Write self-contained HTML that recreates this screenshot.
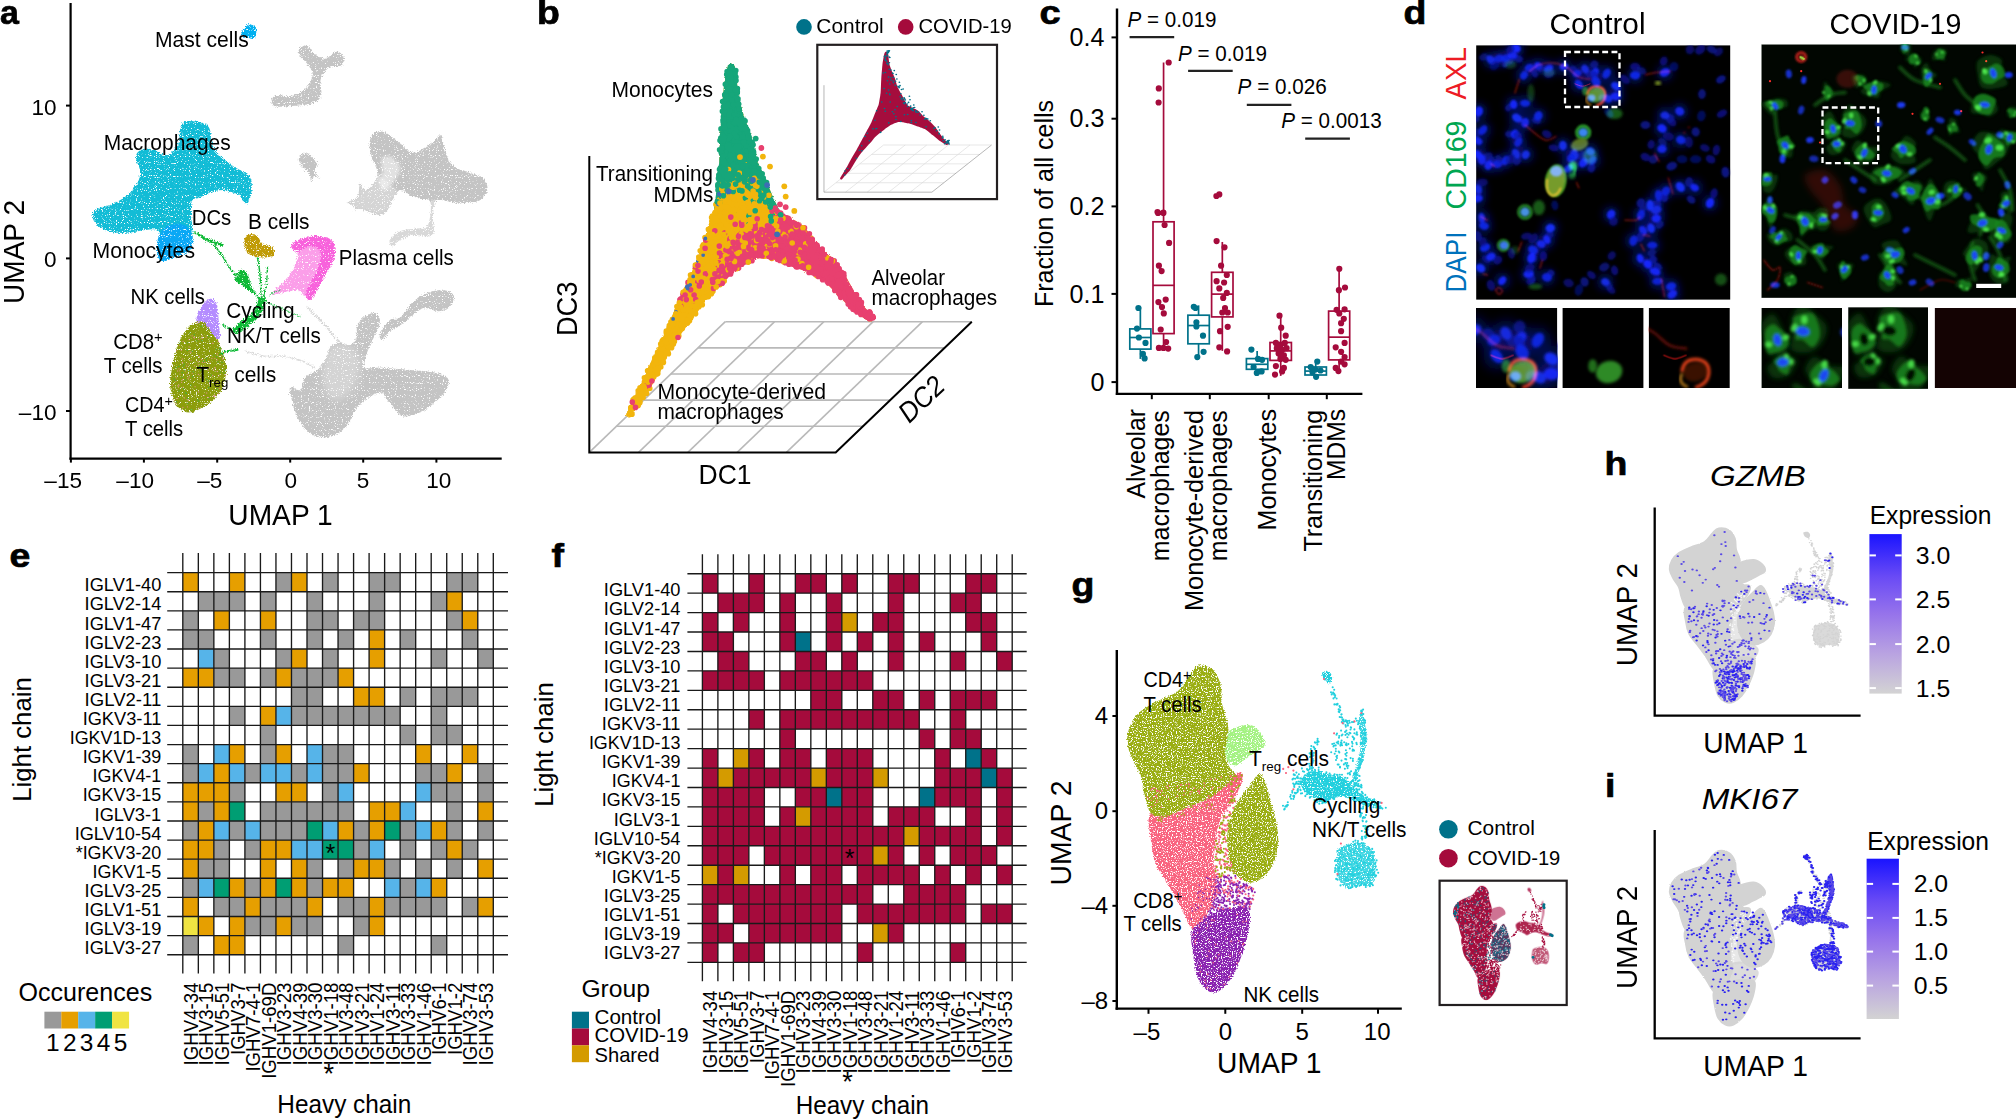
<!DOCTYPE html>
<html><head><meta charset="utf-8"><title>Figure</title>
<style>html,body{margin:0;padding:0;background:#fff}svg{display:block}text{font-family:"Liberation Sans",sans-serif}</style>
</head><body>
<svg width="2016" height="1120" viewBox="0 0 2016 1120">
<defs>
<filter id="rough" x="-5%" y="-5%" width="110%" height="110%" color-interpolation-filters="sRGB"><feTurbulence type="fractalNoise" baseFrequency="0.9" numOctaves="2" seed="3" result="n"/><feDisplacementMap in="SourceGraphic" in2="n" scale="5" xChannelSelector="R" yChannelSelector="G" result="d"/><feTurbulence type="fractalNoise" baseFrequency="0.85" numOctaves="1" seed="11" result="m"/><feColorMatrix in="m" type="matrix" values="0 0 0 0 0 0 0 0 0 0 0 0 0 0 0 9 0 0 0 -2.5" result="a"/><feComposite in="d" in2="a" operator="in"/></filter>
<filter id="rough2" x="-5%" y="-5%" width="110%" height="110%" color-interpolation-filters="sRGB"><feTurbulence type="fractalNoise" baseFrequency="0.9" numOctaves="2" seed="7" result="n"/><feDisplacementMap in="SourceGraphic" in2="n" scale="4" xChannelSelector="R" yChannelSelector="G" result="d"/><feTurbulence type="fractalNoise" baseFrequency="0.8" numOctaves="1" seed="5" result="m"/><feColorMatrix in="m" type="matrix" values="0 0 0 0 0 0 0 0 0 0 0 0 0 0 0 9 0 0 0 -3.1" result="a"/><feComposite in="d" in2="a" operator="in"/></filter>
<filter id="rough3" x="-5%" y="-5%" width="110%" height="110%"><feTurbulence type="fractalNoise" baseFrequency="0.9" numOctaves="2" seed="7" result="n"/><feDisplacementMap in="SourceGraphic" in2="n" scale="3" xChannelSelector="R" yChannelSelector="G"/></filter>
<filter id="b1" x="-20%" y="-20%" width="140%" height="140%"><feGaussianBlur stdDeviation="0.9"/></filter>
<filter id="b2" x="-20%" y="-20%" width="140%" height="140%"><feGaussianBlur stdDeviation="1.8"/></filter>
<filter id="b3" x="-20%" y="-20%" width="140%" height="140%"><feGaussianBlur stdDeviation="3.5"/></filter>
</defs>
<g id="panel_a">
<g filter="url(#rough)">
<path d="M298.8 50.0C299.4 48.2 301.9 45.9 303.8 45.5C305.6 45.1 308.3 46.1 310.0 47.5C311.7 48.9 311.2 51.9 313.8 53.8C316.2 55.6 321.9 58.8 325.0 58.8C328.1 58.8 330.2 54.9 332.5 53.8C334.8 52.6 336.8 51.2 338.8 52.0C340.8 52.8 344.1 56.5 344.5 58.8C344.9 61.0 343.2 64.2 341.2 65.5C339.2 66.8 335.0 65.5 332.5 66.2C330.0 67.0 328.2 67.7 326.2 70.0C324.2 72.3 321.3 75.8 320.5 80.0C319.7 84.2 322.2 91.2 321.2 95.0C320.3 98.8 318.1 100.8 315.0 102.5C311.9 104.2 307.1 104.4 302.5 105.0C297.9 105.6 292.1 106.0 287.5 106.2C282.9 106.5 277.7 107.3 275.0 106.2C272.3 105.2 270.8 101.9 271.2 100.0C271.7 98.1 274.4 95.6 277.5 95.0C280.6 94.4 285.8 96.9 290.0 96.2C294.2 95.6 299.2 93.5 302.5 91.2C305.8 89.0 308.3 85.6 310.0 82.5C311.7 79.4 313.1 75.8 312.5 72.5C311.9 69.2 308.3 65.2 306.2 62.5C304.2 59.8 301.2 58.3 300.0 56.2C298.8 54.2 298.1 51.8 298.8 50.0Z" fill="#c4c4c4" />
<path d="M298.8 160.0C298.8 157.6 300.6 153.8 302.5 153.0C304.4 152.2 307.5 153.2 310.0 155.0C312.5 156.8 316.7 161.2 317.5 163.8C318.3 166.2 315.2 168.1 315.0 170.0C314.8 171.9 315.4 173.5 316.2 175.0C317.1 176.5 320.4 178.5 320.0 178.8C319.6 179.0 315.2 175.8 313.8 176.2C312.3 176.7 312.1 181.9 311.2 181.2C310.4 180.6 310.2 174.8 308.8 172.5C307.3 170.2 304.2 169.6 302.5 167.5C300.8 165.4 298.8 162.4 298.8 160.0Z" fill="#c4c4c4" />
<path d="M370.0 140.0C370.8 137.0 372.5 133.2 375.0 132.0C377.5 130.8 381.2 131.0 385.0 132.5C388.8 134.0 392.9 137.9 397.5 141.2C402.1 144.6 407.9 151.5 412.5 152.5C417.1 153.5 421.2 149.6 425.0 147.5C428.8 145.4 432.3 142.1 435.0 140.0C437.7 137.9 439.8 134.2 441.2 135.0C442.7 135.8 442.7 141.2 443.8 145.0C444.8 148.8 445.6 153.8 447.5 157.5C449.4 161.2 451.2 165.0 455.0 167.5C458.8 170.0 465.4 170.8 470.0 172.5C474.6 174.2 479.6 175.0 482.5 177.5C485.4 180.0 487.3 184.2 487.5 187.5C487.7 190.8 486.2 195.0 483.8 197.5C481.2 200.0 477.3 201.7 472.5 202.5C467.7 203.3 460.4 202.9 455.0 202.5C449.6 202.1 443.3 200.0 440.0 200.0C436.7 200.0 436.2 199.6 435.0 202.5C433.8 205.4 433.2 212.7 433.0 217.5C432.8 222.3 434.2 228.1 433.8 231.2C433.2 234.4 433.1 235.6 430.0 236.2C426.9 236.9 420.0 234.4 415.0 235.0C410.0 235.6 403.8 238.1 400.0 240.0C396.2 241.9 394.2 246.2 392.5 246.2C390.8 246.2 388.8 242.5 390.0 240.0C391.2 237.5 395.8 233.1 400.0 231.2C404.2 229.4 410.4 229.6 415.0 228.8C419.6 227.9 424.9 230.6 427.5 226.2C430.1 221.9 431.8 207.1 430.5 202.5C429.2 197.9 423.4 200.0 420.0 198.8C416.6 197.5 413.3 196.5 410.0 195.0C406.7 193.5 402.9 189.2 400.0 190.0C397.1 190.8 394.6 196.7 392.5 200.0C390.4 203.3 389.6 207.5 387.5 210.0C385.4 212.5 383.3 214.8 380.0 215.0C376.7 215.2 371.2 212.3 367.5 211.2C363.8 210.2 359.8 208.5 357.5 208.8C355.2 209.0 354.2 212.7 353.8 212.5C353.3 212.3 356.0 209.2 355.0 207.5C354.0 205.8 347.1 204.2 347.5 202.5C347.9 200.8 355.4 200.6 357.5 197.5C359.6 194.4 358.8 185.0 360.0 183.8C361.2 182.5 362.9 189.8 365.0 190.0C367.1 190.2 370.4 187.9 372.5 185.0C374.6 182.1 377.5 176.7 377.5 172.5C377.5 168.3 373.8 163.8 372.5 160.0C371.2 156.2 370.4 153.3 370.0 150.0C369.6 146.7 369.2 143.0 370.0 140.0Z" fill="#c4c4c4" />
<path d="M290.0 387.5C291.2 385.4 297.5 391.7 300.0 390.0C302.5 388.3 302.1 380.8 305.0 377.5C307.9 374.2 314.2 372.9 317.5 370.0C320.8 367.1 322.9 363.8 325.0 360.0C327.1 356.2 327.5 350.4 330.0 347.5C332.5 344.6 336.7 342.9 340.0 342.5C343.3 342.1 347.3 345.8 350.0 345.0C352.7 344.2 355.0 340.8 356.2 337.5C357.5 334.2 356.0 328.5 357.5 325.0C359.0 321.5 362.1 318.2 365.0 316.2C367.9 314.2 372.5 312.4 375.0 313.0C377.5 313.6 379.6 317.2 380.0 320.0C380.4 322.8 378.8 326.7 377.5 330.0C376.2 333.3 374.4 335.8 372.5 340.0C370.6 344.2 367.7 350.4 366.2 355.0C364.8 359.6 361.5 365.4 363.8 367.5C366.0 369.6 374.8 367.3 380.0 367.5C385.2 367.7 390.0 368.3 395.0 368.8C400.0 369.2 405.0 369.6 410.0 370.0C415.0 370.4 420.0 370.6 425.0 371.2C430.0 371.9 436.0 372.3 440.0 373.8C444.0 375.2 447.7 377.3 448.8 380.0C449.8 382.7 448.1 386.7 446.2 390.0C444.4 393.3 441.0 396.7 437.5 400.0C434.0 403.3 429.2 407.5 425.0 410.0C420.8 412.5 416.2 414.0 412.5 415.0C408.8 416.0 405.4 417.1 402.5 416.2C399.6 415.4 397.5 412.7 395.0 410.0C392.5 407.3 390.0 402.9 387.5 400.0C385.0 397.1 383.8 392.5 380.0 392.5C376.2 392.5 369.2 397.1 365.0 400.0C360.8 402.9 357.9 405.8 355.0 410.0C352.1 414.2 350.8 420.8 347.5 425.0C344.2 429.2 339.6 433.0 335.0 435.0C330.4 437.0 324.6 437.6 320.0 437.0C315.4 436.4 311.2 434.5 307.5 431.2C303.8 428.0 300.0 422.3 297.5 417.5C295.0 412.7 293.8 407.5 292.5 402.5C291.2 397.5 288.8 389.6 290.0 387.5Z" fill="#c4c4c4" />
<path d="M380.0 333.8C381.2 330.4 386.7 322.7 390.0 320.0C393.3 317.3 396.2 320.4 400.0 317.5C403.8 314.6 408.3 306.5 412.5 302.5C416.7 298.5 420.4 295.8 425.0 293.8C429.6 291.7 435.6 290.2 440.0 290.0C444.4 289.8 449.0 290.8 451.2 292.5C453.5 294.2 454.4 297.3 453.8 300.0C453.1 302.7 450.2 306.9 447.5 308.8C444.8 310.6 441.2 311.4 437.5 311.2C433.8 311.1 428.8 307.7 425.0 308.0C421.2 308.3 418.8 310.4 415.0 313.0C411.2 315.6 406.7 320.7 402.5 323.8C398.3 326.8 393.3 328.5 390.0 331.2C386.7 334.0 384.2 339.6 382.5 340.0C380.8 340.4 378.8 337.1 380.0 333.8Z" fill="#c4c4c4" />
<path d="M381.2 160.0C382.5 157.3 386.9 155.0 390.0 156.2C393.1 157.5 399.2 163.5 400.0 167.5C400.8 171.5 397.5 176.2 395.0 180.0C392.5 183.8 387.7 189.6 385.0 190.0C382.3 190.4 379.2 185.4 378.8 182.5C378.3 179.6 382.1 176.2 382.5 172.5C382.9 168.8 380.0 162.7 381.2 160.0Z" fill="#fff" opacity="0.5" filter="url(#b2)"/>
<path d="M347.5 202.5C347.5 200.6 355.4 200.6 357.5 197.5C359.6 194.4 358.8 185.0 360.0 183.8C361.2 182.5 362.9 189.8 365.0 190.0C367.1 190.2 370.4 187.5 372.5 185.0C374.6 182.5 374.6 175.0 377.5 175.0C380.4 175.0 386.7 182.1 390.0 185.0C393.3 187.9 397.1 190.0 397.5 192.5C397.9 195.0 394.2 197.1 392.5 200.0C390.8 202.9 389.6 207.5 387.5 210.0C385.4 212.5 383.3 214.8 380.0 215.0C376.7 215.2 371.2 212.3 367.5 211.2C363.8 210.2 360.8 210.2 357.5 208.8C354.2 207.3 347.5 204.4 347.5 202.5Z" fill="#fff" opacity="0.3" filter="url(#b2)"/>
<path d="M390.0 240.0C391.2 237.5 395.8 233.1 400.0 231.2C404.2 229.4 410.4 229.6 415.0 228.8C419.6 227.9 424.9 230.6 427.5 226.2C430.1 221.9 429.2 206.5 430.5 202.5C431.8 198.5 434.5 197.7 435.0 202.5C435.5 207.3 434.6 225.6 433.8 231.2C432.9 236.9 433.1 235.6 430.0 236.2C426.9 236.9 420.0 234.4 415.0 235.0C410.0 235.6 403.8 238.1 400.0 240.0C396.2 241.9 394.2 246.2 392.5 246.2C390.8 246.2 388.8 242.5 390.0 240.0Z" fill="#fff" opacity="0.35"/>
<path d="M327.5 350.0C330.4 345.6 335.8 344.2 340.0 343.8C344.2 343.3 349.2 344.8 352.5 347.5C355.8 350.2 359.2 354.6 360.0 360.0C360.8 365.4 359.6 374.2 357.5 380.0C355.4 385.8 351.2 391.7 347.5 395.0C343.8 398.3 338.8 400.8 335.0 400.0C331.2 399.2 327.1 395.0 325.0 390.0C322.9 385.0 322.1 376.7 322.5 370.0C322.9 363.3 324.6 354.4 327.5 350.0Z" fill="#fff" opacity="0.28" filter="url(#b3)"/>
<path d="M315.0 315.0C316.7 316.7 321.7 321.2 325.0 325.0C328.3 328.8 332.1 334.4 335.0 337.5C337.9 340.6 341.2 342.7 342.5 343.8" fill="none" stroke="#c4c4c4" stroke-width="1.5" stroke-linecap="round" stroke-linejoin="round" opacity="0.7"/>
<path d="M245.0 351.2C248.3 352.1 258.3 355.4 265.0 356.2C271.7 357.1 278.8 355.4 285.0 356.2C291.2 357.1 297.5 359.4 302.5 361.2C307.5 363.1 312.9 366.5 315.0 367.5" fill="none" stroke="#c4c4c4" stroke-width="1.5" stroke-linecap="round" stroke-linejoin="round" opacity="0.6"/>
<path d="M307.5 307.5 L315.0 315.0" fill="none" stroke="#c4c4c4" stroke-width="2" stroke-linecap="round" stroke-linejoin="round" opacity="0.6"/>
</g>
<g filter="url(#rough)">
<path d="M182.5 122.5C184.6 121.0 188.8 121.0 192.5 121.2C196.2 121.5 202.1 122.3 205.0 123.8C207.9 125.2 209.0 127.3 210.0 130.0C211.0 132.7 210.4 136.7 211.2 140.0C212.1 143.3 212.7 146.7 215.0 150.0C217.3 153.3 221.7 157.1 225.0 160.0C228.3 162.9 231.7 165.4 235.0 167.5C238.3 169.6 242.3 170.4 245.0 172.5C247.7 174.6 250.2 176.7 251.2 180.0C252.3 183.3 251.9 188.8 251.2 192.5C250.6 196.2 248.8 200.8 247.5 202.5C246.2 204.2 245.0 203.8 243.8 202.5C242.5 201.2 241.9 196.7 240.0 195.0C238.1 193.3 235.4 193.3 232.5 192.5C229.6 191.7 226.2 190.0 222.5 190.0C218.8 190.0 213.8 191.2 210.0 192.5C206.2 193.8 202.9 196.2 200.0 197.5C197.1 198.8 194.0 198.3 192.5 200.0C191.0 201.7 191.5 204.6 191.2 207.5C191.0 210.4 191.0 213.8 191.2 217.5C191.5 221.2 192.3 226.2 192.5 230.0C192.7 233.8 192.9 236.7 192.5 240.0C192.1 243.3 192.1 247.5 190.0 250.0C187.9 252.5 183.8 253.3 180.0 255.0C176.2 256.7 170.8 259.2 167.5 260.0C164.2 260.8 161.7 261.7 160.0 260.0C158.3 258.3 157.5 253.8 157.5 250.0C157.5 246.2 160.0 240.8 160.0 237.5C160.0 234.2 160.0 231.2 157.5 230.0C155.0 228.8 149.6 229.6 145.0 230.0C140.4 230.4 135.0 232.1 130.0 232.5C125.0 232.9 119.6 233.1 115.0 232.5C110.4 231.9 105.8 230.4 102.5 228.8C99.2 227.1 96.7 224.8 95.0 222.5C93.3 220.2 92.1 217.3 92.5 215.0C92.9 212.7 94.6 210.4 97.5 208.8C100.4 207.1 105.8 206.7 110.0 205.0C114.2 203.3 118.8 201.2 122.5 198.8C126.2 196.2 129.8 193.1 132.5 190.0C135.2 186.9 137.5 183.3 138.8 180.0C140.0 176.7 140.4 173.3 140.0 170.0C139.6 166.7 136.7 162.9 136.2 160.0C135.8 157.1 136.0 154.4 137.5 152.5C139.0 150.6 142.1 149.2 145.0 148.8C147.9 148.3 151.7 149.0 155.0 150.0C158.3 151.0 162.1 154.6 165.0 155.0C167.9 155.4 170.2 154.6 172.5 152.5C174.8 150.4 177.5 146.2 178.8 142.5C180.0 138.8 179.4 133.3 180.0 130.0C180.6 126.7 180.4 124.0 182.5 122.5Z" fill="#12bcd6" />
<path d="M158.8 236.2C160.5 232.3 164.0 228.3 167.5 226.2C171.0 224.2 176.2 223.1 180.0 223.8C183.8 224.4 187.9 227.3 190.0 230.0C192.1 232.7 192.5 236.7 192.5 240.0C192.5 243.3 192.1 247.5 190.0 250.0C187.9 252.5 183.8 253.3 180.0 255.0C176.2 256.7 170.8 259.2 167.5 260.0C164.2 260.8 161.8 261.7 160.0 260.0C158.2 258.3 157.2 254.0 157.0 250.0C156.8 246.0 157.0 240.2 158.8 236.2Z" fill="#0aa8f5" />
<path d="M241.2 32.5C242.1 30.5 246.5 25.4 248.8 24.5C251.0 23.6 253.8 25.7 255.0 27.0C256.2 28.3 256.5 30.5 256.2 32.5C256.0 34.5 255.2 37.9 253.8 38.8C252.3 39.6 249.2 37.9 247.5 37.5C245.8 37.1 244.8 37.1 243.8 36.2C242.7 35.4 240.4 34.5 241.2 32.5Z" fill="#00b0f0" />
<path d="M196.2 322.5C199.2 321.5 204.4 318.8 207.5 320.0C210.6 321.2 213.1 326.2 215.0 330.0C216.9 333.8 217.5 338.8 218.8 342.5C220.0 346.2 221.2 348.8 222.5 352.5C223.8 356.2 225.8 360.4 226.2 365.0C226.7 369.6 226.0 375.4 225.0 380.0C224.0 384.6 222.5 388.8 220.0 392.5C217.5 396.2 213.3 399.8 210.0 402.5C206.7 405.2 203.3 407.1 200.0 408.8C196.7 410.4 193.3 412.5 190.0 412.5C186.7 412.5 182.7 410.8 180.0 408.8C177.3 406.7 175.4 404.0 173.8 400.0C172.1 396.0 170.3 390.4 170.0 385.0C169.7 379.6 171.0 373.3 172.0 367.5C173.0 361.7 174.5 355.4 176.2 350.0C178.0 344.6 180.2 339.0 182.5 335.0C184.8 331.0 187.7 328.3 190.0 326.2C192.3 324.2 193.3 323.5 196.2 322.5Z" fill="#8c9d0c" />
<path d="M196.2 320.0C196.0 317.1 200.2 308.5 202.5 305.0C204.8 301.5 207.7 299.2 210.0 298.8C212.3 298.3 214.9 300.2 216.2 302.5C217.6 304.8 217.5 308.8 218.0 312.5C218.5 316.2 218.7 320.8 219.0 325.0C219.3 329.2 220.6 335.3 220.0 337.5C219.4 339.7 217.2 339.2 215.5 338.0C213.8 336.8 212.0 332.6 210.0 330.0C208.0 327.4 206.0 324.2 203.8 322.5C201.5 320.8 196.5 322.9 196.2 320.0Z" fill="#b48cff" />
<path d="M245.0 237.5C245.9 235.6 247.9 234.0 250.0 233.8C252.1 233.5 255.4 234.6 257.5 236.2C259.6 237.9 260.0 241.9 262.5 243.8C265.0 245.6 270.6 245.6 272.5 247.5C274.4 249.4 275.0 253.3 273.8 255.0C272.5 256.7 268.1 257.3 265.0 257.5C261.9 257.7 257.9 257.1 255.0 256.2C252.1 255.4 249.2 254.4 247.5 252.5C245.8 250.6 244.9 247.5 244.5 245.0C244.1 242.5 244.1 239.4 245.0 237.5Z" fill="#c09b06" />
<path d="M292.5 243.8C293.8 241.2 300.4 238.8 305.0 237.5C309.6 236.2 315.6 235.8 320.0 236.2C324.4 236.7 328.8 237.7 331.2 240.0C333.8 242.3 334.8 246.2 335.0 250.0C335.2 253.8 334.2 258.3 332.5 262.5C330.8 266.7 327.5 270.4 325.0 275.0C322.5 279.6 320.0 285.8 317.5 290.0C315.0 294.2 312.3 299.2 310.0 300.0C307.7 300.8 305.8 296.7 303.8 295.0C301.7 293.3 299.8 290.6 297.5 290.0C295.2 289.4 292.5 290.8 290.0 291.2C287.5 291.7 285.4 291.9 282.5 292.5C279.6 293.1 273.3 295.8 272.5 295.0C271.7 294.2 275.0 290.4 277.5 287.5C280.0 284.6 284.6 281.2 287.5 277.5C290.4 273.8 293.3 269.2 295.0 265.0C296.7 260.8 297.9 256.0 297.5 252.5C297.1 249.0 291.2 246.2 292.5 243.8Z" fill="#f862dc" opacity="0.62"/>
<path d="M291.2 245.0C292.5 242.6 300.2 239.0 305.0 237.5C309.8 236.0 315.6 235.8 320.0 236.2C324.4 236.7 328.8 237.7 331.2 240.0C333.8 242.3 334.8 246.2 335.0 250.0C335.2 253.8 334.2 258.3 332.5 262.5C330.8 266.7 327.5 270.4 325.0 275.0C322.5 279.6 320.0 285.8 317.5 290.0C315.0 294.2 311.9 299.4 310.0 300.0C308.1 300.6 305.9 297.1 306.2 293.8C306.6 290.4 310.0 284.4 312.0 280.0C314.0 275.6 316.5 271.7 318.0 267.5C319.5 263.3 321.4 258.2 321.2 255.0C321.1 251.8 319.3 249.5 317.0 248.0C314.7 246.5 310.8 245.6 307.5 246.2C304.2 246.9 300.2 252.2 297.5 252.0C294.8 251.8 290.0 247.4 291.2 245.0Z" fill="#f862dc" />
<path d="M195.0 232.5C197.1 233.8 202.9 237.9 207.5 240.0C212.1 242.1 220.0 244.2 222.5 245.0" fill="none" stroke="#0db935" stroke-width="2.5" stroke-linecap="round" stroke-linejoin="round" />
<path d="M212.5 242.5C214.6 245.4 221.2 254.6 225.0 260.0C228.8 265.4 230.8 270.4 235.0 275.0C239.2 279.6 245.8 283.3 250.0 287.5C254.2 291.7 258.3 297.9 260.0 300.0" fill="none" stroke="#0db935" stroke-width="1.6" stroke-linecap="round" stroke-linejoin="round" />
<path d="M240.0 270.0C242.1 269.0 245.4 270.4 247.5 273.8C249.6 277.1 250.8 286.5 252.5 290.0C254.2 293.5 257.9 294.8 257.5 295.0C257.1 295.2 252.7 292.9 250.0 291.2C247.3 289.6 243.8 286.9 241.2 285.0C238.8 283.1 235.2 282.5 235.0 280.0C234.8 277.5 237.9 271.0 240.0 270.0Z" fill="#0db935" />
<path d="M257.5 257.5C257.9 260.4 259.4 267.9 260.0 275.0C260.6 282.1 261.0 295.8 261.2 300.0" fill="none" stroke="#0db935" stroke-width="1.4" stroke-linecap="round" stroke-linejoin="round" />
<path d="M267.5 267.5C267.3 270.4 267.1 279.6 266.2 285.0C265.4 290.4 263.1 297.5 262.5 300.0" fill="none" stroke="#0db935" stroke-width="1.4" stroke-linecap="round" stroke-linejoin="round" />
<path d="M260.0 297.5C262.3 295.4 266.2 297.1 266.2 300.0C266.2 302.9 262.7 310.8 260.0 315.0C257.3 319.2 253.8 321.9 250.0 325.0C246.2 328.1 240.4 332.9 237.5 333.8C234.6 334.6 231.7 332.3 232.5 330.0C233.3 327.7 239.2 322.9 242.5 320.0C245.8 317.1 249.6 316.2 252.5 312.5C255.4 308.8 257.7 299.6 260.0 297.5Z" fill="#0db935" />
<path d="M220.0 353.8C221.2 353.3 224.6 351.9 227.5 351.2C230.4 350.6 235.8 350.2 237.5 350.0" fill="none" stroke="#0db935" stroke-width="2" stroke-linecap="round" stroke-linejoin="round" />
<path d="M222.5 325.0 L232.5 330.0" fill="none" stroke="#0db935" stroke-width="1.5" stroke-linecap="round" stroke-linejoin="round" />
<path d="M267.5 302.5C270.4 303.8 279.6 307.7 285.0 310.0C290.4 312.3 297.5 315.2 300.0 316.2" fill="none" stroke="#0db935" stroke-width="1.2" stroke-linecap="round" stroke-linejoin="round" opacity="0.7"/>
<path d="M270.0 295.0 L280.0 290.0" fill="none" stroke="#0db935" stroke-width="1.2" stroke-linecap="round" stroke-linejoin="round" opacity="0.7"/>
</g>
<path d="M177.6 398.4h0M213.0 343.6h0M197.9 361.6h0M206.7 393.0h0M217.0 360.0h0M195.1 386.7h0M182.9 407.4h0M222.8 355.3h0M182.2 359.0h0M194.6 365.9h0M183.1 341.4h0M182.3 362.5h0M217.1 371.5h0M206.1 337.2h0M176.8 350.8h0M210.6 385.8h0M222.7 359.0h0M216.7 382.0h0M187.1 374.4h0M198.4 374.5h0M214.9 358.3h0M179.7 370.8h0M209.5 382.4h0M191.1 360.6h0M198.6 392.0h0M199.3 356.4h0M197.5 322.7h0M172.4 385.1h0M225.3 374.9h0M192.1 335.8h0M213.3 369.9h0M218.4 341.5h0M198.9 408.1h0M202.5 362.5h0M185.1 370.7h0M214.1 395.9h0M219.8 388.5h0M215.5 368.0h0M201.6 359.4h0M202.1 338.5h0M198.4 364.9h0M190.1 352.0h0M200.3 377.7h0M204.5 362.4h0M180.0 374.1h0M218.4 393.9h0M214.8 395.5h0M184.4 397.9h0M207.9 327.7h0M212.5 343.1h0M176.2 377.8h0M179.0 368.8h0M179.5 345.2h0M210.0 362.1h0M188.1 363.8h0M193.7 337.4h0M176.1 403.2h0M198.7 339.3h0M204.1 395.6h0M178.2 386.5h0M179.0 385.2h0M208.1 370.4h0M214.9 367.8h0M182.6 380.0h0M192.2 373.3h0M188.1 378.4h0M187.2 399.4h0M187.5 406.9h0M211.8 358.5h0M202.1 335.9h0M209.6 367.1h0M191.3 352.1h0M181.6 382.4h0M194.4 338.0h0M175.9 381.6h0M186.7 366.2h0M188.3 400.6h0M181.3 350.3h0M189.1 339.7h0M207.9 397.5h0M219.6 383.6h0M183.2 387.1h0M212.7 375.5h0M217.3 354.0h0M189.1 346.9h0M218.8 375.9h0M177.6 371.0h0M174.1 400.1h0M214.3 396.6h0M189.2 376.9h0" stroke="#f08aa0" stroke-width="1.3" stroke-linecap="round" fill="none" opacity="0.8"/>
<path d="M214.0 355.0h0M202.1 340.7h0M220.1 372.2h0M222.0 362.3h0M185.6 392.8h0M207.7 328.5h0M176.5 401.9h0M183.6 388.8h0M191.3 409.7h0M184.3 364.1h0M175.6 380.3h0M203.6 361.6h0M182.1 377.1h0M225.1 370.2h0M208.7 381.2h0M184.6 370.1h0M187.3 342.8h0M206.7 379.5h0M222.9 356.1h0M187.3 350.3h0M187.8 398.4h0M220.3 348.0h0M188.8 370.3h0M202.6 375.1h0M201.0 326.6h0M174.2 378.8h0M186.4 393.3h0M197.7 399.8h0M178.7 366.4h0M216.2 349.6h0M176.0 367.6h0M187.8 403.5h0M217.3 389.0h0M208.8 336.5h0M194.3 334.6h0M210.2 381.8h0M200.9 370.1h0M217.9 361.9h0M192.3 351.3h0M206.4 358.5h0M202.1 325.8h0M190.0 332.8h0M216.6 356.8h0M192.6 376.7h0M199.7 366.3h0M206.5 360.5h0M208.6 387.7h0M183.4 365.8h0M196.9 340.8h0M193.2 371.8h0M185.5 379.8h0M198.8 401.2h0M179.0 390.9h0M219.7 348.8h0M209.0 398.5h0M190.9 384.9h0M211.4 375.0h0M224.0 372.8h0M179.9 343.2h0M182.2 372.7h0" stroke="#1db954" stroke-width="1.2" stroke-linecap="round" fill="none" opacity="0.8"/>
<line x1="70.6" y1="3" x2="70.6" y2="459.7" stroke="#000" stroke-width="2.2" />
<line x1="69.5" y1="458.6" x2="501.7" y2="458.6" stroke="#000" stroke-width="2.2" />
<line x1="66" y1="105.6" x2="70.6" y2="105.6" stroke="#000" stroke-width="2" />
<line x1="66" y1="258.4" x2="70.6" y2="258.4" stroke="#000" stroke-width="2" />
<line x1="66" y1="411" x2="70.6" y2="411" stroke="#000" stroke-width="2" />
<line x1="70.9" y1="458.6" x2="70.9" y2="462.6" stroke="#000" stroke-width="2" />
<line x1="143.9" y1="458.6" x2="143.9" y2="462.6" stroke="#000" stroke-width="2" />
<line x1="217.2" y1="458.6" x2="217.2" y2="462.6" stroke="#000" stroke-width="2" />
<line x1="290.2" y1="458.6" x2="290.2" y2="462.6" stroke="#000" stroke-width="2" />
<line x1="363.2" y1="458.6" x2="363.2" y2="462.6" stroke="#000" stroke-width="2" />
<line x1="436.4" y1="458.6" x2="436.4" y2="462.6" stroke="#000" stroke-width="2" />
<text font-size="22.57" text-anchor="end" x="82" y="487.7">–15</text>
<text font-size="22.57" text-anchor="end" x="154" y="487.7">–10</text>
<text font-size="22.57" text-anchor="end" x="222.3" y="487.7">–5</text>
<text font-size="22.57" text-anchor="end" x="297.1" y="487.7">0</text>
<text font-size="22.57" text-anchor="end" x="369.4" y="487.7">5</text>
<text font-size="22.57" text-anchor="end" x="451.4" y="487.7">10</text>
<text font-size="22.57" text-anchor="end" x="56.5" y="114.6">10</text>
<text font-size="22.57" text-anchor="end" x="56.5" y="267.3">0</text>
<text font-size="22.57" text-anchor="end" x="56.5" y="420">–10</text>
<text font-size="29.26" textLength="104.4" lengthAdjust="spacingAndGlyphs" x="228.3" y="524.6">UMAP 1</text>
<text font-size="29.26" textLength="104" lengthAdjust="spacingAndGlyphs" transform="translate(24 304) rotate(-90)">UMAP 2</text>
<text font-size="21.42" textLength="93.75" lengthAdjust="spacingAndGlyphs" x="155" y="47.15">Mast cells</text>
<text font-size="21.42" textLength="127" lengthAdjust="spacingAndGlyphs" x="103.75" y="149.9">Macrophages</text>
<text font-size="21.42" textLength="39.5" lengthAdjust="spacingAndGlyphs" x="191.75" y="225.4">DCs</text>
<text font-size="21.42" textLength="61.5" lengthAdjust="spacingAndGlyphs" x="248" y="228.9">B cells</text>
<text font-size="21.42" textLength="102.5" lengthAdjust="spacingAndGlyphs" x="92.5" y="258.4">Monocytes</text>
<text font-size="21.42" textLength="74.5" lengthAdjust="spacingAndGlyphs" x="130.5" y="304.15">NK cells</text>
<text font-size="21.42" textLength="68.25" lengthAdjust="spacingAndGlyphs" x="226.25" y="317.9">Cycling</text>
<text font-size="21.42" textLength="93.75" lengthAdjust="spacingAndGlyphs" x="227" y="342.9">NK/T cells</text>
<text font-size="21.42" textLength="58.75" lengthAdjust="spacingAndGlyphs" x="103.75" y="372.9">T cells</text>
<text font-size="21.42" textLength="58.25" lengthAdjust="spacingAndGlyphs" x="125" y="436.4">T cells</text>
<text font-size="21.42" textLength="115" lengthAdjust="spacingAndGlyphs" x="338.75" y="264.65">Plasma cells</text>
<text font-size="21.42" textLength="49.5" lengthAdjust="spacingAndGlyphs" x="113.25" y="348.9">CD8<tspan font-size="15.5" dy="-6.5">+</tspan></text>
<text font-size="21.42" textLength="48" lengthAdjust="spacingAndGlyphs" x="125" y="412.1">CD4<tspan font-size="15.5" dy="-6.5">+</tspan></text>
<text font-size="21.42" textLength="80" lengthAdjust="spacingAndGlyphs" x="196.25" y="382.1">T<tspan font-size="13.5" dy="5">reg</tspan><tspan dy="-5"> cells</tspan></text>
<text font-size="34" font-weight="bold" x="0" y="24" stroke="#000" stroke-width="0.7">a</text>
</g>
<g id="panel_b">
<line x1="589.3" y1="452.4" x2="725.3" y2="321.7" stroke="#b9b9b9" stroke-width="1.6" />
<line x1="616.5" y1="426.26" x2="862.92" y2="426.26" stroke="#b9b9b9" stroke-width="1.6" />
<line x1="638.58" y1="452.4" x2="774.6" y2="321.7" stroke="#b9b9b9" stroke-width="1.6" />
<line x1="643.7" y1="400.12" x2="890.14" y2="400.12" stroke="#b9b9b9" stroke-width="1.6" />
<line x1="687.86" y1="452.4" x2="823.9" y2="321.7" stroke="#b9b9b9" stroke-width="1.6" />
<line x1="670.9" y1="373.98" x2="917.36" y2="373.98" stroke="#b9b9b9" stroke-width="1.6" />
<line x1="737.14" y1="452.4" x2="873.2" y2="321.7" stroke="#b9b9b9" stroke-width="1.6" />
<line x1="698.1" y1="347.84" x2="944.58" y2="347.84" stroke="#b9b9b9" stroke-width="1.6" />
<line x1="786.42" y1="452.4" x2="922.5" y2="321.7" stroke="#b9b9b9" stroke-width="1.6" />
<line x1="725.3" y1="321.7" x2="971.8" y2="321.7" stroke="#b9b9b9" stroke-width="1.6" />
<path d="M589.3 156V452.4H835.7L971.8 321.7" fill="none" stroke="#000" stroke-width="2" stroke-linejoin="miter"/>
<g filter="url(#rough3)">
<path d="M731.4 62.9C732.3 62.9 735.0 65.2 735.7 68.6C736.4 72.0 737.7 92.2 738.6 97.1C739.5 101.9 743.0 113.1 744.3 117.1C745.6 121.1 750.1 132.8 751.4 137.1C752.7 141.4 755.7 155.7 757.1 160.0C758.5 164.3 764.0 176.0 765.7 180.0C767.4 184.0 772.9 196.9 774.3 200.0C775.7 203.1 778.6 209.7 780.0 211.4C781.4 213.1 786.3 215.7 788.6 217.1C790.9 218.5 800.0 223.1 802.9 225.7C805.8 228.3 814.2 239.8 817.1 242.9C820.0 246.0 828.8 254.3 831.4 257.1C834.0 260.0 840.6 268.0 842.9 271.4C845.2 274.8 852.0 287.7 854.3 291.4C856.6 295.1 863.6 306.0 865.7 308.6C867.8 311.2 875.4 315.8 875.7 317.1C876.0 318.4 871.0 322.2 868.6 321.4C866.2 320.5 854.5 311.3 851.4 308.6C848.2 305.9 840.0 297.2 837.1 294.3C834.2 291.4 826.0 282.3 822.9 280.0C819.8 277.7 809.4 273.1 805.7 271.4C802.0 269.7 789.4 264.2 785.7 262.9C782.0 261.6 771.5 259.0 768.6 258.6C765.7 258.2 759.7 257.9 757.1 258.6C754.5 259.3 745.8 263.8 742.9 265.7C740.0 267.6 731.2 274.8 728.6 277.1C726.0 279.4 719.4 286.3 717.1 288.6C714.8 290.9 708.0 297.1 705.7 300.0C703.4 302.9 695.9 314.9 694.3 317.1C692.7 319.3 692.1 319.2 690.0 322.1C687.9 325.0 675.9 341.0 672.9 345.7C669.9 350.4 662.4 364.8 660.0 369.3C657.6 373.8 651.7 386.8 649.3 390.7C646.9 394.6 638.3 405.2 636.4 407.9C634.5 410.6 631.0 416.9 630.0 417.5C629.0 418.1 625.7 416.3 626.1 414.3C626.5 412.3 632.6 400.5 634.3 397.1C636.0 393.7 641.2 383.6 642.9 380.0C644.6 376.4 649.4 365.0 651.4 360.7C653.4 356.4 660.6 342.0 662.9 337.1C665.2 332.2 672.0 316.5 674.3 311.4C676.6 306.3 683.4 290.8 685.7 285.7C688.0 280.6 695.1 265.1 697.1 260.0C699.1 254.9 704.0 239.4 705.7 234.3C707.4 229.2 713.0 214.3 714.3 208.6C715.6 202.9 718.0 184.0 718.6 177.1C719.2 170.2 719.6 148.0 720.0 140.0C720.4 132.0 722.2 104.2 722.9 97.1C723.6 90.0 726.2 72.0 727.1 68.6C728.0 65.2 730.5 62.9 731.4 62.9Z" fill="#f2b50c" />
<path d="M780.0 211.4C782.0 210.5 786.3 215.7 788.6 217.1C790.9 218.5 800.0 223.1 802.9 225.7C805.8 228.3 814.2 239.8 817.1 242.9C820.0 246.0 828.8 254.3 831.4 257.1C834.0 260.0 840.6 268.0 842.9 271.4C845.2 274.8 852.0 287.7 854.3 291.4C856.6 295.1 863.6 306.0 865.7 308.6C867.8 311.2 875.4 315.8 875.7 317.1C876.0 318.4 871.0 322.2 868.6 321.4C866.2 320.5 854.5 311.3 851.4 308.6C848.2 305.9 840.0 297.2 837.1 294.3C834.2 291.4 826.0 282.3 822.9 280.0C819.8 277.7 809.4 273.1 805.7 271.4C802.0 269.7 789.4 264.2 785.7 262.9C782.0 261.6 771.5 259.0 768.6 258.6C765.7 258.2 759.7 257.9 757.1 258.6C754.5 259.3 745.8 263.8 742.9 265.7C740.0 267.6 731.2 274.8 728.6 277.1C726.0 279.4 718.5 288.0 717.1 288.6C715.7 289.2 713.7 285.2 714.3 282.9C714.9 280.6 720.9 269.1 722.9 265.7C724.9 262.3 731.4 251.5 734.3 248.6C737.1 245.7 748.0 239.4 751.4 237.1C754.8 234.8 765.7 228.3 768.6 225.7C771.5 223.1 778.0 212.3 780.0 211.4Z" fill="#e8406f" />
<path d="M731.4 62.9C732.3 62.9 735.0 65.2 735.7 68.6C736.4 72.0 737.7 92.2 738.6 97.1C739.5 101.9 743.0 113.1 744.3 117.1C745.6 121.1 750.1 132.8 751.4 137.1C752.7 141.4 755.7 155.7 757.1 160.0C758.5 164.3 764.0 176.0 765.7 180.0C767.4 184.0 772.9 196.9 774.3 200.0C775.7 203.1 779.7 210.0 780.0 211.4C780.3 212.8 778.8 215.4 777.1 214.3C775.4 213.2 765.5 203.0 762.9 200.0C760.3 197.0 753.7 186.0 751.4 184.0C749.1 182.0 742.0 180.0 740.0 180.0C738.0 180.0 733.1 182.0 731.4 184.0C729.7 186.0 724.6 197.5 722.9 200.0C721.2 202.5 714.7 210.9 714.3 208.6C713.9 206.3 718.0 184.0 718.6 177.1C719.2 170.2 719.6 148.0 720.0 140.0C720.4 132.0 722.2 104.2 722.9 97.1C723.6 90.0 726.2 72.0 727.1 68.6C728.0 65.2 730.5 62.9 731.4 62.9Z" fill="#16a67a" />
</g>
<path d="M718.6 230.1h0M760.0 224.2h0M722.9 228.4h0M709.0 259.3h0M700.8 288.5h0M666.3 333.1h0M798.6 252.7h0M740.4 218.4h0M715.4 236.9h0M726.5 251.3h0M732.7 202.1h0M732.2 201.9h0M730.2 207.9h0M768.6 213.5h0M767.4 211.7h0M677.9 332.1h0M695.6 309.7h0M726.1 252.8h0M726.1 206.3h0M740.5 223.5h0M720.4 273.5h0M647.0 377.8h0M705.0 237.6h0M731.6 195.1h0M762.9 217.0h0M669.9 326.1h0M739.5 250.1h0M711.8 221.3h0M676.3 331.4h0M726.9 201.4h0M660.8 367.0h0M740.7 188.4h0M674.8 338.2h0M737.8 220.3h0M709.7 286.4h0M714.4 233.6h0M680.3 327.3h0M698.8 262.2h0M672.5 319.4h0M672.3 332.8h0M734.4 217.2h0M694.3 273.7h0M783.4 258.9h0M721.9 236.9h0M748.9 207.2h0M707.3 244.2h0M746.4 164.8h0M668.7 337.3h0M678.3 311.9h0M698.6 277.1h0M696.3 293.8h0M730.6 249.1h0M712.9 291.3h0M631.1 408.0h0M646.4 381.3h0M722.3 201.9h0M657.8 373.5h0M733.4 205.4h0M724.2 211.3h0M701.5 287.7h0M760.7 193.0h0M736.0 195.3h0M727.1 252.9h0M702.4 255.4h0M687.5 323.1h0M753.9 207.6h0M754.9 195.1h0M737.1 220.9h0M719.6 225.5h0M743.7 262.2h0M746.1 178.3h0M653.0 364.7h0M733.0 213.7h0M695.8 274.8h0M783.5 261.7h0M732.6 219.0h0M715.6 257.7h0M737.3 223.4h0M657.8 369.5h0M711.0 273.7h0M724.1 214.6h0M725.9 211.4h0M668.4 353.7h0M715.3 242.0h0M726.6 222.8h0M667.7 331.3h0M728.7 207.1h0M711.7 224.5h0M641.5 396.7h0M691.6 302.6h0M735.3 188.2h0M657.6 352.4h0M730.1 242.2h0M671.6 347.7h0M719.3 229.5h0M696.7 300.0h0M755.3 192.6h0M662.5 360.9h0M734.5 219.4h0M674.5 324.8h0M759.3 224.9h0M676.9 306.6h0M720.1 284.6h0M678.6 326.7h0M685.2 291.0h0M742.3 218.3h0M716.0 231.0h0M742.2 197.8h0M639.1 397.0h0M677.7 337.0h0M695.1 282.9h0M713.5 228.9h0M676.8 310.7h0M710.6 279.8h0M644.4 377.7h0M678.3 306.7h0M689.2 317.3h0M668.0 346.8h0M688.4 284.7h0M638.4 395.2h0M711.1 258.3h0M696.2 270.5h0M722.9 253.6h0M707.8 254.4h0M643.1 397.4h0M663.1 339.8h0M835.0 273.3h0M762.7 224.7h0M690.7 302.6h0M654.5 369.9h0M656.5 369.3h0M724.2 280.9h0M745.6 206.2h0M717.7 212.3h0M674.4 341.5h0M693.9 302.2h0M696.2 277.6h0M671.9 330.0h0M745.4 234.4h0M701.3 276.8h0M721.9 264.1h0M711.5 228.5h0M717.9 242.1h0M689.7 294.2h0M690.7 317.8h0M691.1 304.0h0M650.6 368.7h0M692.1 308.8h0M758.6 238.2h0M805.7 243.9h0M754.7 204.1h0M763.8 232.6h0M740.4 204.6h0M735.7 231.7h0M827.1 257.7h0M750.7 182.9h0M727.9 269.7h0M695.9 288.5h0M700.2 297.8h0" stroke="#f2b50c" stroke-width="5.6" stroke-linecap="round" fill="none" />
<path d="M823.0 267.0h0M731.8 268.8h0M688.0 282.4h0M634.9 406.4h0M765.9 252.4h0M801.0 266.2h0M833.1 284.8h0M781.7 215.5h0M817.8 270.2h0M811.7 241.5h0M845.6 290.6h0M742.5 257.3h0M839.1 269.4h0M834.8 276.5h0M788.9 264.2h0M832.4 266.7h0M838.1 290.4h0M841.5 272.3h0M721.9 281.3h0M776.3 236.4h0M741.3 261.0h0M777.0 254.3h0M817.0 268.2h0M780.6 213.0h0M734.4 261.5h0M815.8 266.9h0M824.1 254.7h0M815.0 259.6h0M723.0 271.7h0M857.3 300.6h0M790.2 262.1h0M829.5 278.2h0M804.4 253.8h0M829.5 281.3h0M771.2 238.5h0M785.0 233.1h0M772.9 227.3h0M759.0 228.7h0M797.4 231.2h0M815.4 273.9h0M767.3 227.5h0M777.9 226.5h0M813.5 243.7h0M795.7 240.8h0M732.6 247.5h0M868.0 317.5h0M718.0 266.1h0M766.8 228.8h0M732.9 267.0h0M753.1 229.3h0M791.4 264.0h0M810.0 243.9h0M749.6 236.2h0M721.6 271.5h0M738.6 268.1h0M777.5 259.5h0M855.4 300.1h0M835.2 266.1h0M836.8 288.1h0M749.0 261.5h0M767.1 224.9h0M834.8 290.4h0M812.1 272.4h0M815.1 249.4h0M787.7 218.1h0M848.6 292.5h0M771.2 253.1h0M787.0 234.0h0M833.3 262.6h0M808.8 242.0h0M795.8 248.3h0M727.1 258.0h0M795.1 265.2h0M816.7 260.5h0M814.8 245.7h0M754.4 221.3h0M783.6 222.2h0M737.5 261.6h0M718.2 284.4h0M767.8 252.2h0M747.2 237.5h0M735.4 262.6h0M805.8 237.0h0M716.7 273.4h0M719.2 256.6h0M822.2 249.1h0M756.6 236.0h0M762.6 234.4h0M834.1 268.2h0M820.2 272.0h0M839.4 277.9h0M815.6 269.0h0M723.5 253.1h0M715.6 280.6h0M730.6 273.9h0M741.8 264.3h0M813.6 251.6h0M776.9 240.1h0M860.9 314.4h0M779.9 260.4h0M762.6 246.6h0M843.0 288.1h0M839.9 271.8h0M812.2 261.1h0M736.3 259.6h0M838.2 282.1h0M729.8 240.0h0M749.3 253.0h0M792.0 246.3h0M832.8 265.2h0M773.7 238.9h0M780.5 246.1h0M777.5 211.6h0M758.8 220.4h0M834.5 287.3h0M796.0 230.7h0M752.0 260.7h0M849.2 288.3h0" stroke="#e8406f" stroke-width="5.6" stroke-linecap="round" fill="none" />
<path d="M723.2 149.9h0M736.1 136.9h0M737.8 186.5h0M733.6 119.7h0M722.2 167.5h0M743.4 127.8h0M730.9 159.8h0M737.4 88.5h0M739.5 164.4h0M733.0 117.6h0M741.1 121.7h0M745.2 133.9h0M728.1 131.6h0M770.6 199.5h0M730.6 177.8h0M751.0 203.7h0M743.2 149.4h0M739.3 152.1h0M735.3 159.4h0M720.8 138.1h0M720.2 198.4h0M724.1 164.2h0M735.9 77.1h0M739.8 146.0h0M738.2 144.7h0M766.7 193.1h0M752.4 145.5h0M736.7 97.7h0M738.4 186.8h0M727.0 127.5h0M753.4 167.0h0M726.2 113.6h0M758.3 171.6h0M749.7 147.7h0M740.5 141.5h0M730.9 176.5h0M736.9 183.2h0M743.2 150.3h0M728.8 127.0h0M732.9 178.2h0M766.5 189.5h0M738.6 104.1h0M726.9 95.5h0M756.2 159.1h0M761.7 195.9h0M731.1 99.1h0M759.4 182.7h0M719.5 180.2h0M730.7 109.2h0M755.0 160.8h0M731.8 182.4h0M721.5 165.9h0M727.6 134.2h0M725.3 123.7h0M755.2 169.0h0M752.5 168.7h0M730.4 67.1h0M741.7 137.4h0M741.1 155.8h0M766.6 182.6h0M731.1 174.2h0M737.9 99.9h0M732.2 85.8h0M731.2 125.5h0M723.4 116.8h0M753.6 152.1h0M735.6 89.5h0M740.4 129.7h0M723.5 126.1h0M743.9 138.5h0M739.5 212.9h0M752.2 142.2h0M738.1 169.0h0M722.8 157.0h0M732.4 107.4h0M731.3 77.0h0M728.1 72.2h0M724.7 94.8h0M738.0 98.8h0M741.8 147.2h0M729.8 104.1h0M726.6 140.4h0M733.6 132.3h0M733.4 183.5h0M738.7 134.1h0M732.5 109.6h0M727.0 149.2h0M739.8 172.0h0M752.6 161.2h0M730.4 153.2h0M735.3 123.6h0M762.2 173.7h0M735.9 90.0h0M738.4 145.6h0M725.9 141.9h0M750.6 167.4h0M724.0 131.4h0M762.5 180.7h0M737.3 92.7h0M721.0 128.9h0" stroke="#16a67a" stroke-width="5.6" stroke-linecap="round" fill="none" />
<path d="M697.8 261.3h0M714.4 217.4h0" stroke="#3d6eb5" stroke-width="3.8" stroke-linecap="round" fill="none" />
<path d="M697.1 295.7h0M755.5 211.8h0M644.4 382.1h0M638.4 403.1h0M718.1 250.7h0M664.3 357.2h0M726.5 219.4h0M704.2 256.9h0M706.2 240.3h0M708.4 296.6h0M755.3 184.7h0M666.3 331.1h0M702.6 263.8h0M713.8 250.5h0M675.5 333.3h0M651.3 380.9h0M656.8 373.9h0M707.2 242.9h0M700.7 263.9h0M688.7 301.1h0M703.3 244.9h0M708.4 229.2h0M715.9 204.5h0M666.7 334.7h0M718.6 218.4h0M730.6 241.7h0M669.3 325.5h0M712.6 231.4h0M745.7 188.5h0M663.9 341.3h0M710.1 272.7h0M732.3 250.4h0M717.5 268.0h0M744.4 212.4h0M686.1 306.7h0M736.1 171.8h0M635.3 400.2h0M649.8 388.5h0M701.8 270.5h0M731.4 213.6h0M822.1 258.9h0M721.8 184.4h0M747.4 253.7h0M697.0 282.4h0M751.6 206.5h0M727.8 260.1h0M692.2 277.0h0M755.6 187.0h0M722.1 280.7h0M715.9 263.1h0M698.9 306.8h0M727.8 206.4h0M689.4 301.7h0M668.1 336.6h0M753.4 216.4h0M733.3 251.4h0M748.8 210.6h0M662.4 354.6h0M731.0 199.1h0M771.8 258.5h0M690.1 279.6h0M743.7 194.7h0M639.9 401.0h0M773.1 252.2h0M712.6 288.7h0M671.0 328.0h0M705.9 284.5h0M816.6 263.1h0M747.2 259.6h0M647.6 370.8h0M762.3 210.3h0M717.1 238.5h0M751.6 197.2h0M742.8 208.0h0M665.7 342.6h0M682.3 328.4h0M720.2 233.3h0M695.6 313.8h0M712.1 237.1h0M721.1 224.8h0M749.4 193.1h0M754.2 229.4h0M749.9 208.7h0M712.4 216.1h0M714.5 275.4h0M722.8 169.8h0M750.7 237.8h0M701.1 265.5h0M638.2 390.7h0M749.8 208.6h0M636.9 405.8h0M728.9 202.9h0M636.2 399.6h0M696.4 291.4h0M706.1 269.8h0M767.0 212.9h0M740.5 198.6h0M765.6 246.3h0M764.2 256.3h0M741.0 226.3h0M695.3 269.5h0M662.1 341.3h0M734.3 245.5h0M739.9 219.8h0M784.7 236.3h0M698.9 258.5h0M803.9 231.6h0M694.7 283.7h0M668.5 333.4h0M677.4 319.3h0M759.8 220.4h0M765.3 227.1h0M666.3 346.1h0M663.0 362.0h0M723.6 217.5h0M715.0 255.9h0M721.5 249.8h0M810.9 238.1h0M760.3 231.3h0M715.6 226.5h0M687.3 314.4h0M746.6 212.7h0M749.8 245.0h0M706.9 256.3h0M718.1 232.3h0M646.6 393.5h0M733.2 210.8h0M720.9 247.0h0M725.2 210.2h0M730.2 230.2h0M681.4 314.1h0M711.6 217.5h0M759.1 230.3h0M769.4 240.3h0M728.3 206.1h0M688.8 316.0h0M698.8 257.0h0M724.8 220.0h0M755.4 193.4h0M799.4 250.0h0M692.9 300.9h0M751.2 199.5h0M706.0 297.1h0M635.0 398.0h0M676.0 334.9h0M687.8 304.8h0M696.1 265.6h0M659.7 358.3h0M728.2 207.5h0M723.2 242.5h0M712.2 283.4h0M745.8 190.0h0M676.3 314.2h0M745.4 189.6h0M716.5 256.3h0M654.8 357.7h0M750.2 256.8h0M746.6 207.6h0M749.5 208.7h0M699.0 272.0h0M722.4 193.3h0M712.6 242.6h0M684.8 294.0h0M727.6 199.0h0M731.8 215.9h0M738.1 224.6h0M718.5 269.5h0M783.1 218.2h0" stroke="#f2b50c" stroke-width="5.6" stroke-linecap="round" fill="none" />
<path d="M841.4 284.2h0M786.2 262.5h0M753.6 242.4h0M821.9 270.6h0M680.8 306.1h0M872.8 318.0h0M793.3 247.8h0M831.9 281.9h0M718.6 275.0h0M731.7 259.9h0M772.7 254.7h0M728.4 251.5h0M790.4 245.4h0M852.8 295.9h0M646.4 385.9h0M698.0 271.1h0M854.8 310.0h0M809.4 233.7h0M848.3 288.7h0M856.5 294.9h0M744.7 242.6h0M759.3 248.8h0M801.4 259.9h0M820.4 273.7h0M731.1 271.5h0M755.4 250.6h0M798.0 266.7h0M762.6 242.9h0M776.6 219.7h0M822.6 279.8h0M789.7 235.2h0M736.8 232.4h0M816.5 259.7h0M771.2 255.5h0M800.8 232.6h0M738.7 245.4h0M738.9 242.0h0M745.2 253.5h0M788.7 218.7h0M794.6 251.5h0M851.3 291.7h0M717.6 268.6h0M778.4 234.1h0M781.2 239.2h0M826.0 267.6h0M857.7 308.9h0M729.9 263.9h0M680.9 298.8h0M735.7 249.3h0M725.5 276.3h0M849.5 288.7h0M817.3 255.4h0M822.2 259.5h0M826.2 266.4h0M856.5 302.2h0M791.2 225.5h0M730.9 252.9h0M787.8 241.5h0M850.8 298.2h0M739.1 248.0h0M832.3 265.9h0M834.2 260.9h0M747.6 254.8h0M821.6 261.8h0M722.3 283.2h0M729.0 248.4h0M787.4 236.6h0M737.2 268.3h0M786.6 225.4h0M788.4 232.1h0M804.1 255.5h0M736.7 263.8h0M804.5 227.9h0M747.4 261.7h0M748.9 259.8h0M830.8 265.3h0M795.7 248.1h0M830.5 262.1h0M697.8 282.1h0M731.4 253.5h0M781.6 258.2h0M832.2 282.3h0M733.3 247.0h0M746.7 250.3h0M745.5 257.6h0M770.7 249.7h0M772.2 252.4h0M848.7 301.6h0M813.9 260.1h0M762.2 255.8h0M748.4 244.1h0M785.4 262.8h0M730.2 238.5h0M775.2 208.1h0M749.3 237.9h0M718.2 248.2h0M849.5 298.1h0M856.3 305.6h0M781.6 258.3h0M836.8 269.4h0M770.4 227.5h0M860.9 308.5h0M649.1 385.1h0M817.6 265.0h0M782.6 252.1h0M724.9 232.7h0M812.3 239.3h0M736.2 242.1h0M725.8 254.2h0M761.8 244.3h0M751.5 230.7h0" stroke="#e8406f" stroke-width="5.6" stroke-linecap="round" fill="none" />
<path d="M736.8 136.2h0M747.6 168.7h0M759.0 192.0h0M754.0 164.2h0M738.1 182.1h0M773.0 221.1h0M733.0 132.5h0M736.7 116.5h0M726.9 114.9h0M732.9 137.1h0M750.6 143.5h0M739.9 185.9h0M737.0 127.7h0M727.1 151.0h0M727.7 109.0h0M725.3 108.8h0M747.4 143.2h0M734.4 75.7h0M754.1 190.7h0M758.8 168.6h0M731.5 152.6h0M753.3 171.5h0M734.1 141.0h0M764.8 182.3h0M760.4 194.8h0M733.2 191.4h0M772.4 215.6h0M745.3 198.1h0M734.7 118.5h0M753.0 172.1h0M743.7 165.6h0M734.1 184.4h0M763.2 178.1h0M738.9 155.8h0M736.1 180.1h0M725.2 95.8h0M727.9 157.4h0M723.3 186.7h0M740.7 143.0h0M727.1 146.3h0M717.8 186.3h0M725.3 176.5h0M732.4 123.2h0M762.2 183.2h0M750.3 180.2h0M733.5 105.8h0M740.3 117.3h0M730.0 148.1h0M752.7 171.4h0M765.6 202.0h0M730.3 81.8h0M725.1 101.4h0M728.9 74.0h0M718.7 177.8h0M731.6 68.0h0M724.9 128.7h0M729.7 125.4h0M725.7 155.1h0M732.7 81.2h0M753.1 161.9h0M728.4 88.6h0M731.1 89.4h0M731.4 116.2h0M765.6 187.6h0M729.2 168.7h0M719.5 169.6h0M736.9 130.0h0M739.0 174.1h0M737.1 168.7h0M729.4 120.1h0M723.5 184.1h0M727.8 77.4h0M735.8 70.6h0M723.1 144.4h0M718.0 189.9h0M730.9 105.7h0M743.9 159.6h0M732.9 128.9h0M729.1 131.0h0M746.1 154.2h0M732.9 151.6h0M726.1 182.0h0M720.0 173.3h0M746.7 144.6h0M753.1 150.9h0M736.2 106.5h0M741.6 145.4h0M737.3 109.3h0M723.4 107.1h0M752.9 190.2h0M736.8 130.5h0M722.4 111.3h0M722.6 101.5h0M718.5 178.4h0M736.1 142.0h0" stroke="#16a67a" stroke-width="5.6" stroke-linecap="round" fill="none" />
<path d="M688.2 286.1h0M718.7 194.0h0M676.0 312.0h0M687.9 288.4h0M703.2 255.1h0" stroke="#3d6eb5" stroke-width="3.8" stroke-linecap="round" fill="none" />
<path d="M680.7 307.1h0M784.2 261.0h0M714.2 246.4h0M739.8 199.9h0M729.3 226.4h0M728.8 211.6h0M743.5 188.4h0M662.6 350.9h0M736.7 204.7h0M774.2 241.8h0M664.0 353.1h0M700.2 250.8h0M798.0 259.1h0M716.0 274.4h0M718.8 227.9h0M747.7 202.4h0M756.5 240.6h0M720.9 241.9h0M714.0 230.4h0M801.8 263.6h0M722.1 261.5h0M733.2 187.2h0M722.6 243.8h0M690.6 299.1h0M704.3 270.3h0M647.9 382.1h0M713.7 221.5h0M686.4 289.4h0M703.7 288.9h0M749.4 232.0h0M721.8 189.0h0M755.2 247.7h0M733.8 183.1h0M659.5 356.5h0M764.1 209.8h0M743.5 246.4h0M716.2 234.0h0M704.7 281.8h0M712.0 230.0h0M676.6 315.9h0M727.1 244.4h0M684.3 315.1h0M758.1 200.7h0M690.4 284.5h0M643.0 388.4h0M718.6 250.9h0M652.2 374.9h0M680.8 315.2h0M675.2 330.9h0M832.5 260.9h0M706.5 269.8h0M673.4 343.9h0M742.2 192.9h0M739.3 173.0h0M700.3 266.6h0M716.7 219.6h0M699.2 280.2h0M675.0 316.3h0M746.8 193.9h0M703.2 250.7h0M728.1 231.0h0M680.9 325.3h0M763.7 197.3h0M759.1 202.1h0M718.1 261.5h0M719.6 199.7h0M701.5 292.5h0M777.2 219.1h0M772.7 219.1h0M757.3 225.4h0M726.0 224.4h0M735.2 174.7h0M708.7 265.6h0M678.7 319.1h0M783.4 234.3h0M717.5 248.2h0M741.2 185.1h0M725.9 198.2h0M739.8 212.5h0M744.8 220.6h0M715.4 217.5h0M667.6 334.6h0M689.7 298.4h0M744.3 209.5h0M727.2 209.5h0M747.8 225.5h0M702.3 304.7h0M703.4 286.3h0M737.1 215.3h0M723.7 234.5h0M723.4 220.6h0M633.1 399.9h0M695.1 286.1h0M742.5 210.6h0M704.9 250.1h0M688.7 309.1h0M631.6 408.2h0M738.9 199.2h0M664.2 339.6h0M686.3 311.2h0M736.6 230.2h0M668.2 337.2h0M638.2 405.4h0M673.4 336.0h0M733.1 239.0h0M663.1 349.3h0M761.9 224.4h0M697.8 278.0h0M748.5 249.3h0M691.2 274.8h0M663.4 362.4h0M711.6 282.4h0M712.1 230.8h0M653.9 376.8h0M690.0 309.8h0M667.9 352.3h0M672.8 324.7h0M747.0 219.8h0M740.6 188.0h0M713.4 231.2h0M690.5 275.0h0M731.6 197.6h0M718.3 248.9h0M726.9 254.0h0M755.5 194.3h0M716.7 211.5h0M693.0 293.9h0M689.8 282.6h0M706.1 269.3h0M738.6 195.7h0M704.2 297.0h0M685.4 302.5h0M670.9 322.1h0M736.6 209.4h0M690.8 289.6h0M663.6 354.4h0M766.1 224.4h0M644.4 388.5h0M746.5 216.1h0M754.5 235.0h0M760.3 236.8h0M759.8 218.6h0M737.1 186.0h0M724.0 254.4h0M711.6 285.5h0M754.6 178.3h0M712.0 258.1h0M725.2 180.6h0M749.3 222.9h0M719.3 230.6h0M707.7 255.7h0M736.7 268.6h0M656.0 361.7h0M708.6 271.2h0M689.6 316.5h0M668.3 336.0h0M758.0 181.6h0M758.3 210.3h0M816.6 275.6h0" stroke="#f2b50c" stroke-width="5.6" stroke-linecap="round" fill="none" />
<path d="M779.6 231.7h0M729.0 263.6h0M869.5 311.8h0M767.4 225.8h0M695.7 299.6h0M828.2 282.9h0M789.9 242.0h0M714.8 230.7h0M816.8 272.4h0M840.7 284.6h0M822.5 259.5h0M751.0 252.7h0M801.7 237.3h0M821.4 262.5h0M732.1 257.7h0M695.4 267.0h0M750.2 233.9h0M725.9 250.0h0M759.4 248.0h0M713.5 288.4h0M859.3 299.5h0M838.8 291.5h0M757.9 239.2h0M738.2 258.3h0M717.5 276.5h0M737.8 258.8h0M774.9 244.3h0M853.0 309.2h0M777.6 227.4h0M800.4 235.2h0M829.3 280.1h0M737.0 265.1h0M861.1 305.0h0M773.3 217.5h0M748.2 242.1h0M716.0 279.4h0M799.3 226.7h0M846.2 288.1h0M838.5 270.2h0M745.6 235.6h0M837.3 275.6h0M721.9 255.6h0M777.9 254.5h0M744.0 262.1h0M735.9 262.2h0M823.1 267.2h0M856.9 299.9h0M693.6 305.7h0M762.8 248.3h0M840.8 297.5h0M705.7 240.1h0M755.1 224.5h0M743.0 234.2h0M832.8 271.3h0M748.9 248.6h0M788.2 236.8h0M843.8 273.6h0M835.9 266.4h0M799.9 242.4h0M776.8 228.3h0M769.8 230.9h0M823.7 272.5h0M844.0 275.8h0M814.7 273.8h0M734.8 268.4h0M737.5 253.8h0M801.5 233.4h0M798.3 243.2h0M793.9 247.8h0M795.1 260.4h0M751.5 255.8h0M807.1 266.7h0M741.5 222.6h0M779.6 222.1h0M789.9 236.7h0M839.1 274.7h0M813.3 269.2h0M779.7 220.9h0M848.2 292.7h0M778.2 240.8h0M768.0 240.9h0M679.9 299.8h0M793.6 244.7h0M718.8 262.7h0M854.4 300.3h0M768.9 256.3h0M759.7 232.6h0M793.4 233.9h0M739.0 251.2h0M838.9 272.8h0M834.8 270.8h0M809.0 272.4h0M830.3 277.5h0M850.6 300.2h0M819.6 274.0h0M775.9 236.5h0M848.2 304.1h0M872.6 316.2h0M823.4 271.6h0M772.0 211.1h0M808.7 256.8h0M818.4 276.4h0M728.4 251.6h0M769.4 246.5h0M837.2 264.9h0M817.1 245.3h0M860.2 306.9h0M775.7 256.7h0M705.5 273.9h0M810.7 261.9h0M738.8 260.1h0M733.1 267.5h0M850.6 307.0h0M812.4 262.9h0M804.4 247.3h0M827.1 281.4h0M682.9 294.5h0M859.0 303.1h0" stroke="#e8406f" stroke-width="5.6" stroke-linecap="round" fill="none" />
<path d="M729.4 182.0h0M744.1 120.1h0M728.6 138.5h0M733.2 73.9h0M761.9 198.3h0M731.8 100.0h0M735.1 115.1h0M733.8 174.4h0M741.7 167.2h0M745.3 170.2h0M732.9 121.7h0M745.1 121.0h0M759.0 175.3h0M749.6 161.4h0M720.9 175.6h0M722.0 148.1h0M719.0 177.8h0M742.9 163.3h0M750.1 188.4h0M733.4 159.0h0M746.5 175.3h0M723.3 179.0h0M732.8 164.7h0M728.1 112.1h0M762.1 182.6h0M730.8 73.7h0M759.3 172.1h0M721.4 196.3h0M745.1 179.4h0M721.3 152.8h0M725.8 168.9h0M770.3 207.1h0M735.1 149.8h0M736.8 166.8h0M726.9 138.2h0M726.4 116.9h0M780.7 214.9h0M741.6 164.1h0M745.6 127.1h0M738.5 104.3h0M723.5 162.9h0M723.0 181.2h0M733.6 104.8h0M726.7 74.5h0M717.3 201.8h0M753.6 154.2h0M747.6 130.6h0M732.5 154.5h0M724.5 116.7h0M726.0 95.8h0M761.5 197.7h0M746.6 151.1h0M724.0 113.4h0M736.1 123.6h0M740.3 161.4h0M742.9 159.5h0M742.0 128.0h0M743.5 158.9h0M739.2 178.0h0M723.8 138.8h0M726.1 164.9h0M720.4 168.1h0M740.7 167.4h0M748.7 215.6h0M725.6 99.0h0M719.6 149.8h0M753.8 163.1h0M743.4 164.5h0M719.6 203.1h0M737.3 91.5h0M718.8 175.0h0M759.5 200.8h0M730.3 136.0h0M731.0 150.7h0M731.0 68.6h0M744.5 182.0h0M725.9 129.8h0M731.0 112.4h0M722.4 186.0h0M729.6 137.1h0M723.4 160.4h0M763.6 180.8h0M748.9 224.6h0M735.1 73.8h0M728.0 186.3h0M742.5 122.4h0M767.3 193.0h0M749.7 142.3h0M730.5 160.0h0M741.6 118.5h0M717.9 184.6h0M753.2 201.1h0M728.0 179.7h0M728.5 178.8h0M748.4 135.2h0M739.5 148.2h0M744.8 144.5h0M727.1 71.6h0M735.7 90.2h0" stroke="#16a67a" stroke-width="5.6" stroke-linecap="round" fill="none" />
<path d="M718.1 204.6h0M688.1 286.1h0M693.2 276.4h0" stroke="#3d6eb5" stroke-width="3.8" stroke-linecap="round" fill="none" />
<path d="M724.4 206.9h0M750.4 226.7h0M745.6 227.8h0M630.8 407.5h0M737.8 253.4h0M748.3 262.1h0M714.5 269.2h0M705.7 259.5h0M708.6 295.4h0M700.1 287.6h0M792.2 243.0h0M639.8 402.7h0M756.5 212.4h0M679.3 302.9h0M689.5 320.7h0M749.9 219.5h0M640.0 387.7h0M723.6 260.0h0M753.7 211.0h0M705.2 279.9h0M695.4 265.1h0M730.9 209.9h0M757.0 185.9h0M655.8 369.6h0M713.1 257.0h0M634.1 399.4h0M711.4 293.7h0M739.4 252.5h0M713.9 282.5h0M748.4 195.3h0M719.7 266.0h0M678.8 335.9h0M762.3 214.6h0M704.8 281.6h0M702.4 246.5h0M740.7 211.8h0M730.2 185.0h0M728.9 259.5h0M715.1 212.6h0M753.4 193.4h0M702.9 298.4h0M666.4 343.1h0M698.8 302.1h0M730.3 243.2h0M660.6 353.9h0M739.9 185.2h0M790.9 231.3h0M775.6 245.9h0M725.4 255.8h0M742.1 188.3h0M785.6 236.2h0M752.9 220.5h0M727.5 207.4h0M716.7 272.1h0M734.5 234.8h0M741.1 216.5h0M701.6 278.3h0M803.0 227.8h0M748.2 226.1h0M710.9 280.9h0M741.6 228.9h0M735.8 228.8h0M687.3 320.4h0M691.9 294.6h0M735.1 210.0h0M670.0 337.6h0M694.6 306.6h0M768.9 195.3h0M717.9 281.5h0M697.1 302.6h0M734.5 261.4h0M722.3 264.3h0M745.3 243.0h0M750.0 224.3h0M717.1 209.0h0M725.2 200.2h0M742.5 240.6h0M706.4 246.0h0M723.5 197.5h0M674.6 335.0h0M754.3 203.9h0M692.5 305.8h0M712.2 273.5h0M710.0 271.2h0M665.5 341.1h0M703.5 278.2h0M658.1 370.3h0M776.1 218.9h0M733.4 198.4h0M650.4 369.8h0M639.0 400.3h0M748.6 228.1h0M708.5 238.4h0M643.8 386.3h0M808.6 267.2h0M660.7 358.0h0M774.3 223.6h0M777.9 231.2h0M648.2 370.8h0M632.0 414.3h0M658.0 368.3h0M740.6 192.5h0M753.1 191.1h0M748.6 203.2h0M643.6 387.5h0M657.1 372.3h0M721.5 207.4h0M720.0 203.1h0M768.9 218.5h0M675.8 313.7h0M743.9 213.7h0M713.7 283.4h0M704.4 296.9h0M743.1 219.4h0M701.5 261.4h0M723.7 240.4h0M756.5 219.2h0M685.5 299.1h0M707.2 260.9h0M731.5 237.3h0M774.7 218.9h0M660.7 344.0h0M712.4 234.6h0M656.7 371.3h0M672.1 337.4h0M718.9 237.1h0M669.0 328.1h0M709.7 247.9h0M739.1 214.7h0M727.2 245.9h0M796.3 226.6h0M693.5 311.3h0M715.8 262.5h0M702.6 279.2h0M708.1 256.7h0M755.4 197.8h0M716.2 286.9h0M746.7 192.6h0M733.7 215.2h0M776.6 226.0h0M769.5 244.6h0M753.5 221.5h0M741.2 234.4h0M750.0 212.4h0M766.3 253.2h0M719.9 216.0h0M683.1 292.2h0M728.5 169.6h0M683.3 310.0h0M731.0 211.5h0M635.2 398.3h0M760.6 220.9h0" stroke="#f2b50c" stroke-width="5.6" stroke-linecap="round" fill="none" />
<path d="M832.0 279.1h0M712.4 279.5h0M751.6 249.9h0M829.3 271.2h0M763.0 248.4h0M807.9 238.7h0M678.0 337.5h0M761.0 239.2h0M775.9 235.5h0M750.9 236.5h0M733.1 242.3h0M849.6 292.1h0M771.3 249.8h0M843.2 274.3h0M839.5 294.2h0M778.7 237.2h0M757.2 218.7h0M796.4 267.0h0M827.2 265.0h0M815.7 266.7h0M730.8 217.1h0M787.8 227.5h0M835.1 269.7h0M742.4 256.2h0M821.8 251.1h0M800.9 266.5h0M839.9 284.9h0M792.1 234.0h0M825.5 273.4h0M861.4 302.4h0M832.4 273.5h0M719.1 270.4h0M810.1 250.5h0M856.0 294.8h0M727.2 259.4h0M760.2 251.9h0M786.1 226.7h0M802.7 265.8h0M799.2 243.8h0M830.1 268.0h0M697.9 265.5h0M872.9 316.9h0M771.5 257.6h0M721.8 266.2h0M815.3 245.8h0M840.7 286.6h0M770.2 257.1h0M685.1 295.1h0M775.8 249.7h0M817.1 261.7h0M838.9 281.4h0M812.7 259.5h0M831.2 259.6h0M850.1 295.4h0M808.3 238.2h0M690.6 289.7h0M761.6 229.6h0M857.8 304.3h0M785.8 225.9h0M843.4 278.9h0M735.2 224.2h0M780.7 220.0h0M769.7 243.8h0M811.8 254.4h0M744.8 237.4h0M751.5 234.4h0M870.2 313.0h0M854.5 297.8h0M765.8 230.3h0M852.9 297.2h0M729.7 268.5h0M699.3 285.9h0M820.9 268.9h0M796.7 225.5h0M857.0 311.9h0M817.7 274.1h0M779.2 240.4h0M730.9 258.4h0M771.1 229.9h0M694.1 295.0h0M719.3 246.1h0M767.1 241.1h0M838.5 281.8h0M635.5 407.4h0M733.2 242.7h0M686.3 299.6h0M782.4 245.7h0M779.9 258.5h0M798.1 224.8h0M651.9 381.0h0M705.1 248.3h0M785.1 237.0h0M816.5 267.9h0M712.8 282.2h0M813.9 250.2h0M632.3 402.1h0M747.2 235.8h0M867.3 315.6h0M803.4 233.2h0M774.1 256.3h0M751.7 235.9h0M719.5 253.0h0M755.4 228.2h0M831.0 261.7h0M701.3 282.1h0M849.8 294.8h0M714.9 273.9h0M848.5 290.8h0M837.2 284.9h0M756.9 235.9h0M772.5 237.6h0M758.9 234.3h0M839.0 268.6h0M800.2 252.2h0M725.5 275.4h0M816.0 257.1h0M741.8 225.3h0M821.6 257.8h0M792.9 235.7h0M782.8 255.3h0M738.5 236.2h0M788.8 254.3h0" stroke="#e8406f" stroke-width="5.6" stroke-linecap="round" fill="none" />
<path d="M742.3 178.4h0M736.0 80.6h0M728.2 184.7h0M729.7 73.4h0M723.1 121.8h0M730.7 77.3h0M729.6 73.9h0M724.5 169.4h0M748.1 137.2h0M733.1 149.8h0M730.2 160.3h0M734.6 171.6h0M725.5 184.9h0M736.0 147.9h0M747.7 133.0h0M724.3 137.5h0M734.4 123.0h0M729.8 176.1h0M743.6 141.7h0M739.6 190.2h0M724.0 105.9h0M750.7 149.1h0M725.1 175.5h0M739.9 122.5h0M724.6 128.0h0M759.3 182.1h0M738.1 149.1h0M736.5 136.7h0M739.2 108.9h0M747.4 170.6h0M729.0 114.9h0M747.6 185.9h0M740.3 124.8h0M742.3 166.6h0M740.1 153.2h0M731.3 159.0h0M743.8 143.1h0M735.6 184.1h0M723.7 119.0h0M740.1 156.2h0M741.9 155.0h0M735.5 122.1h0M755.2 210.7h0M736.7 146.0h0M750.7 159.6h0M758.8 173.2h0M744.9 128.7h0M729.2 173.8h0M738.2 157.4h0M725.0 107.6h0M723.0 120.3h0M722.5 135.3h0M720.0 140.5h0M724.2 138.4h0M747.1 165.6h0M738.7 146.2h0M736.2 119.5h0M723.3 156.3h0M730.0 149.2h0M723.7 124.3h0M738.2 174.8h0M740.6 155.0h0M723.4 195.8h0M752.7 155.2h0M728.5 78.8h0M750.9 181.0h0M771.3 220.9h0M729.9 110.9h0M753.1 144.8h0M749.1 137.2h0M737.2 150.8h0M746.3 146.1h0M770.6 216.5h0M727.9 105.1h0M734.3 133.6h0M762.5 185.4h0M727.3 145.9h0M751.3 181.5h0M735.4 90.0h0M730.1 155.4h0M725.7 169.2h0M722.4 171.8h0M722.9 141.1h0M727.2 178.1h0M723.8 172.3h0M738.8 147.7h0M729.2 144.9h0M724.1 175.4h0M724.1 139.4h0M725.3 84.2h0M740.7 128.5h0M725.8 175.6h0M742.0 190.9h0M762.3 181.6h0M763.6 195.2h0M754.5 170.9h0M727.4 147.1h0M732.2 178.5h0M745.7 166.1h0" stroke="#16a67a" stroke-width="5.6" stroke-linecap="round" fill="none" />
<path d="M673.1 318.9h0M687.7 288.6h0M686.6 286.9h0M719.5 194.4h0M690.2 284.8h0M705.4 238.5h0" stroke="#3d6eb5" stroke-width="3.8" stroke-linecap="round" fill="none" />
<circle cx="755.7" cy="138.6" r="2.9" fill="#16a67a"/>
<circle cx="761.4" cy="148.0" r="2.9" fill="#e8406f"/>
<circle cx="762.9" cy="156.6" r="2.9" fill="#f2b50c"/>
<circle cx="770.0" cy="166.6" r="2.9" fill="#f2b50c"/>
<circle cx="784.3" cy="186.3" r="2.9" fill="#f2b50c"/>
<circle cx="785.7" cy="196.6" r="2.9" fill="#f2b50c"/>
<circle cx="780.0" cy="204.3" r="2.9" fill="#e8406f"/>
<circle cx="785.7" cy="207.1" r="2.9" fill="#e8406f"/>
<circle cx="794.3" cy="210.9" r="2.9" fill="#f2b50c"/>
<circle cx="767.1" cy="185.1" r="2.9" fill="#3d6eb5"/>
<circle cx="740.0" cy="157.1" r="2.9" fill="#f2b50c"/>
<circle cx="752.9" cy="180.0" r="2.9" fill="#3d6eb5"/>
<circle cx="728.6" cy="191.4" r="2.9" fill="#3d6eb5"/>
<circle cx="777.1" cy="234.3" r="2.9" fill="#3d6eb5"/>
<g transform="translate(565.8 28.9) scale(0.4381 0.3609)">
<line x1="589.3" y1="452.4" x2="725.3" y2="321.7" stroke="#d9d9d9" stroke-width="1.6" />
<line x1="616.5" y1="426.26" x2="862.92" y2="426.26" stroke="#d9d9d9" stroke-width="1.6" />
<line x1="638.58" y1="452.4" x2="774.6" y2="321.7" stroke="#d9d9d9" stroke-width="1.6" />
<line x1="643.7" y1="400.12" x2="890.14" y2="400.12" stroke="#d9d9d9" stroke-width="1.6" />
<line x1="687.86" y1="452.4" x2="823.9" y2="321.7" stroke="#d9d9d9" stroke-width="1.6" />
<line x1="670.9" y1="373.98" x2="917.36" y2="373.98" stroke="#d9d9d9" stroke-width="1.6" />
<line x1="737.14" y1="452.4" x2="873.2" y2="321.7" stroke="#d9d9d9" stroke-width="1.6" />
<line x1="698.1" y1="347.84" x2="944.58" y2="347.84" stroke="#d9d9d9" stroke-width="1.6" />
<line x1="786.42" y1="452.4" x2="922.5" y2="321.7" stroke="#d9d9d9" stroke-width="1.6" />
<line x1="725.3" y1="321.7" x2="971.8" y2="321.7" stroke="#d9d9d9" stroke-width="1.6" />
<path d="M589.3 156V452.4H835.7L971.8 321.7" fill="none" stroke="#9a9a9a" stroke-width="1.8" stroke-linejoin="miter"/>
<g filter="url(#rough3)"><path d="M731.4 62.9C732.3 62.9 735.0 65.2 735.7 68.6C736.4 72.0 737.7 92.2 738.6 97.1C739.5 101.9 743.0 113.1 744.3 117.1C745.6 121.1 750.1 132.8 751.4 137.1C752.7 141.4 755.7 155.7 757.1 160.0C758.5 164.3 764.0 176.0 765.7 180.0C767.4 184.0 772.9 196.9 774.3 200.0C775.7 203.1 778.6 209.7 780.0 211.4C781.4 213.1 786.3 215.7 788.6 217.1C790.9 218.5 800.0 223.1 802.9 225.7C805.8 228.3 814.2 239.8 817.1 242.9C820.0 246.0 828.8 254.3 831.4 257.1C834.0 260.0 840.6 268.0 842.9 271.4C845.2 274.8 852.0 287.7 854.3 291.4C856.6 295.1 863.6 306.0 865.7 308.6C867.8 311.2 875.4 315.8 875.7 317.1C876.0 318.4 871.0 322.2 868.6 321.4C866.2 320.5 854.5 311.3 851.4 308.6C848.2 305.9 840.0 297.2 837.1 294.3C834.2 291.4 826.0 282.3 822.9 280.0C819.8 277.7 809.4 273.1 805.7 271.4C802.0 269.7 789.4 264.2 785.7 262.9C782.0 261.6 771.5 259.0 768.6 258.6C765.7 258.2 759.7 257.9 757.1 258.6C754.5 259.3 745.8 263.8 742.9 265.7C740.0 267.6 731.2 274.8 728.6 277.1C726.0 279.4 719.4 286.3 717.1 288.6C714.8 290.9 708.0 297.1 705.7 300.0C703.4 302.9 695.9 314.9 694.3 317.1C692.7 319.3 692.1 319.2 690.0 322.1C687.9 325.0 675.9 341.0 672.9 345.7C669.9 350.4 662.4 364.8 660.0 369.3C657.6 373.8 651.7 386.8 649.3 390.7C646.9 394.6 638.3 405.2 636.4 407.9C634.5 410.6 631.0 416.9 630.0 417.5C629.0 418.1 625.7 416.3 626.1 414.3C626.5 412.3 632.6 400.5 634.3 397.1C636.0 393.7 641.2 383.6 642.9 380.0C644.6 376.4 649.4 365.0 651.4 360.7C653.4 356.4 660.6 342.0 662.9 337.1C665.2 332.2 672.0 316.5 674.3 311.4C676.6 306.3 683.4 290.8 685.7 285.7C688.0 280.6 695.1 265.1 697.1 260.0C699.1 254.9 704.0 239.4 705.7 234.3C707.4 229.2 713.0 214.3 714.3 208.6C715.6 202.9 718.0 184.0 718.6 177.1C719.2 170.2 719.6 148.0 720.0 140.0C720.4 132.0 722.2 104.2 722.9 97.1C723.6 90.0 726.2 72.0 727.1 68.6C728.0 65.2 730.5 62.9 731.4 62.9Z" fill="#a50b3c" /></g>
<path d="M761.5 160.4h0M734.4 95.6h0M805.1 230.4h0M842.3 273.8h0M772.2 191.1h0M852.4 291.2h0M779.4 207.8h0M766.2 168.0h0M780.2 214.9h0M846.2 282.1h0M860.5 297.5h0M817.4 239.1h0M769.7 196.8h0M746.7 123.8h0M782.3 203.6h0M860.9 301.9h0M733.6 61.5h0M850.2 271.8h0M737.3 63.0h0M824.1 248.8h0M735.8 99.5h0M791.1 225.5h0M760.8 163.1h0M826.3 249.8h0M787.5 221.4h0M747.9 134.1h0M738.1 77.8h0M773.8 194.2h0M771.2 205.1h0M758.2 158.9h0M873.9 315.2h0M738.1 112.1h0M734.2 74.7h0M773.2 207.6h0M734.5 66.1h0M736.3 60.7h0M738.7 78.6h0M821.5 247.8h0M853.1 280.3h0M801.5 230.9h0M745.6 122.0h0M739.6 79.2h0M840.3 275.0h0M735.8 65.6h0M796.1 218.1h0M851.7 289.2h0M831.9 254.2h0M738.5 60.4h0M865.7 307.1h0M774.8 203.8h0M734.3 68.1h0M760.0 160.7h0M764.7 179.7h0M859.5 302.3h0M819.2 250.2h0M752.6 145.0h0M754.3 126.6h0M799.4 226.5h0M763.2 187.8h0M791.2 221.7h0M793.2 218.5h0M813.1 229.4h0M798.8 229.7h0M861.6 309.9h0M738.5 93.7h0M734.0 64.5h0M787.1 214.0h0M749.7 115.6h0M732.2 89.3h0M774.9 197.3h0M772.9 238.0h0M756.5 214.9h0M747.9 149.1h0M721.2 202.7h0M705.7 253.2h0M737.2 260.4h0M742.1 114.1h0M734.1 143.4h0M808.8 238.4h0M670.1 336.0h0M768.1 192.4h0M683.0 298.4h0M707.8 276.5h0M753.5 243.2h0M765.6 194.1h0M643.2 387.1h0M764.7 256.5h0M732.8 95.3h0M724.6 122.1h0M637.3 393.6h0M869.1 314.2h0M748.7 235.4h0M752.2 155.9h0M788.0 220.4h0M709.7 226.6h0M739.9 182.2h0M732.1 178.5h0M675.4 323.5h0M751.3 224.0h0M736.6 133.5h0M788.6 259.5h0M729.6 120.8h0M688.4 289.1h0M692.8 309.9h0M793.2 226.8h0M747.2 144.6h0M791.4 220.8h0M788.7 254.1h0M742.4 141.9h0M780.4 237.1h0M663.2 358.1h0M718.7 286.7h0M726.6 165.2h0M753.7 250.8h0M709.7 276.3h0M729.2 228.2h0M736.8 169.4h0M675.9 337.4h0M741.7 135.2h0M701.3 277.0h0M739.2 180.1h0M822.5 271.0h0M727.3 75.7h0M740.4 202.6h0M799.2 259.2h0M739.4 152.7h0M789.0 223.2h0M745.6 229.5h0M636.4 405.1h0M727.5 220.6h0M755.7 138.6h0M761.4 148.0h0M762.9 156.6h0M770.0 166.6h0M784.3 186.3h0M785.7 196.6h0M794.3 210.9h0M870.2 316.5h0M869.0 316.1h0M871.4 310.2h0M875.0 318.9h0M873.1 312.8h0M874.4 309.1h0M871.2 311.1h0M874.8 309.1h0M868.1 313.7h0M864.8 317.9h0M732.4 75.2h0M733.5 69.7h0M728.9 82.1h0M733.3 67.6h0M730.6 74.8h0M729.3 86.8h0M729.5 83.7h0M729.8 80.8h0" stroke="#00728a" stroke-width="4.2" stroke-linecap="round" fill="none" />
</g>
<rect x="817.3" y="44.8" width="179.7" height="154.3" fill="none" stroke="#231f20" stroke-width="2.2"/>
<circle cx="804" cy="26.9" r="7.8" fill="#00728a"/>
<circle cx="905.7" cy="26.9" r="7.8" fill="#a50b3c"/>
<text font-size="20.38" textLength="67.4" lengthAdjust="spacingAndGlyphs" x="816.3" y="33.4">Control</text>
<text font-size="20.38" textLength="93.3" lengthAdjust="spacingAndGlyphs" x="918.5" y="33.4">COVID-19</text>
<text font-size="21.95" textLength="101.5" lengthAdjust="spacingAndGlyphs" x="611.5" y="96.9">Monocytes</text>
<text font-size="21.95" text-anchor="end" textLength="117" lengthAdjust="spacingAndGlyphs" x="713" y="181.2">Transitioning</text>
<text font-size="21.95" text-anchor="end" textLength="60" lengthAdjust="spacingAndGlyphs" x="713.5" y="202.3">MDMs</text>
<text font-size="21.95" textLength="73.6" lengthAdjust="spacingAndGlyphs" x="871.4" y="284.7">Alveolar</text>
<text font-size="21.95" textLength="125.8" lengthAdjust="spacingAndGlyphs" x="871.4" y="304.6">macrophages</text>
<text font-size="21.95" textLength="168.6" lengthAdjust="spacingAndGlyphs" x="657.4" y="398.8">Monocyte-derived</text>
<text font-size="21.95" textLength="126.4" lengthAdjust="spacingAndGlyphs" x="657.4" y="419.2">macrophages</text>
<text font-size="28.21" text-anchor="middle" textLength="53" lengthAdjust="spacingAndGlyphs" x="725" y="484">DC1</text>
<text font-size="30.3" text-anchor="middle" textLength="54.5" lengthAdjust="spacingAndGlyphs" transform="translate(577.3 308.8) rotate(-90)">DC3</text>
<text font-size="28.21" text-anchor="middle" textLength="52" lengthAdjust="spacingAndGlyphs" font-style="italic" transform="translate(928 406) rotate(-43.8)">DC2</text>
<g transform="translate(537 24.1) scale(1.1 1)"><text font-size="34" font-weight="bold" x="0" y="0" stroke="#000" stroke-width="0.7">b</text></g>
</g>
<g id="panel_c">
<line x1="1140.36" y1="307.143" x2="1140.36" y2="328.929" stroke="#00728a" stroke-width="1.7" />
<line x1="1140.36" y1="349.107" x2="1140.36" y2="358.929" stroke="#00728a" stroke-width="1.7" />
<rect x="1129.8" y="328.9" width="21.1" height="20.2" fill="none" stroke="#00728a" stroke-width="1.7"/>
<line x1="1129.82" y1="337.5" x2="1150.89" y2="337.5" stroke="#00728a" stroke-width="1.7" />
<line x1="1163.57" y1="62.5" x2="1163.57" y2="221.786" stroke="#a50b3c" stroke-width="1.7" />
<line x1="1163.57" y1="333.571" x2="1163.57" y2="349.107" stroke="#a50b3c" stroke-width="1.7" />
<rect x="1153.0" y="221.8" width="21.1" height="111.8" fill="none" stroke="#a50b3c" stroke-width="1.7"/>
<line x1="1153.04" y1="285.357" x2="1174.11" y2="285.357" stroke="#a50b3c" stroke-width="1.7" />
<line x1="1198.57" y1="305.357" x2="1198.57" y2="315.179" stroke="#00728a" stroke-width="1.7" />
<line x1="1198.57" y1="343.75" x2="1198.57" y2="357.143" stroke="#00728a" stroke-width="1.7" />
<rect x="1187.9" y="315.2" width="21.4" height="28.6" fill="none" stroke="#00728a" stroke-width="1.7"/>
<line x1="1187.86" y1="325.536" x2="1209.29" y2="325.536" stroke="#00728a" stroke-width="1.7" />
<line x1="1222.32" y1="241.964" x2="1222.32" y2="272.321" stroke="#a50b3c" stroke-width="1.7" />
<line x1="1222.32" y1="316.964" x2="1222.32" y2="350.893" stroke="#a50b3c" stroke-width="1.7" />
<rect x="1211.6" y="272.3" width="21.4" height="44.6" fill="none" stroke="#a50b3c" stroke-width="1.7"/>
<line x1="1211.61" y1="294.107" x2="1233.04" y2="294.107" stroke="#a50b3c" stroke-width="1.7" />
<line x1="1257.14" y1="350.893" x2="1257.14" y2="358.571" stroke="#00728a" stroke-width="1.7" />
<line x1="1257.14" y1="369.286" x2="1257.14" y2="374.107" stroke="#00728a" stroke-width="1.7" />
<rect x="1246.4" y="358.6" width="21.4" height="10.7" fill="none" stroke="#00728a" stroke-width="1.7"/>
<line x1="1246.43" y1="364.286" x2="1267.86" y2="364.286" stroke="#00728a" stroke-width="1.7" />
<line x1="1280.71" y1="316.071" x2="1280.71" y2="342.5" stroke="#a50b3c" stroke-width="1.7" />
<line x1="1280.71" y1="360.357" x2="1280.71" y2="375.893" stroke="#a50b3c" stroke-width="1.7" />
<rect x="1270.0" y="342.5" width="21.4" height="17.9" fill="none" stroke="#a50b3c" stroke-width="1.7"/>
<line x1="1270" y1="350.893" x2="1291.43" y2="350.893" stroke="#a50b3c" stroke-width="1.7" />
<line x1="1315.71" y1="359.821" x2="1315.71" y2="366.964" stroke="#00728a" stroke-width="1.7" />
<line x1="1315.71" y1="375" x2="1315.71" y2="378.571" stroke="#00728a" stroke-width="1.7" />
<rect x="1305.0" y="367.0" width="21.4" height="8.0" fill="none" stroke="#00728a" stroke-width="1.7"/>
<line x1="1305" y1="371.071" x2="1326.43" y2="371.071" stroke="#00728a" stroke-width="1.7" />
<line x1="1339.11" y1="268.75" x2="1339.11" y2="311.071" stroke="#a50b3c" stroke-width="1.7" />
<line x1="1339.11" y1="359.821" x2="1339.11" y2="372.321" stroke="#a50b3c" stroke-width="1.7" />
<rect x="1328.6" y="311.1" width="21.1" height="48.8" fill="none" stroke="#a50b3c" stroke-width="1.7"/>
<line x1="1328.57" y1="337.143" x2="1349.64" y2="337.143" stroke="#a50b3c" stroke-width="1.7" />
<path d="M1138.4 308.0h0M1137.0 328.6h0M1138.9 337.5h0M1145.5 342.9h0M1142.9 353.9h0M1144.6 358.4h0M1193.8 306.8h0M1195.5 308.0h0M1196.4 322.3h0M1196.4 326.4h0M1203.0 335.7h0M1203.6 351.8h0M1197.3 357.1h0M1251.4 349.6h0M1258.0 358.9h0M1262.1 359.8h0M1253.6 367.0h0M1261.6 371.4h0M1256.8 372.9h0M1317.3 361.6h0M1310.7 367.0h0M1315.2 369.6h0M1320.5 370.5h0M1312.5 372.3h0M1316.1 376.8h0" stroke="#00728a" stroke-width="6.2" stroke-linecap="round" fill="none" />
<path d="M1158.0 212.9h0M1163.4 212.9h0M1164.6 225.0h0M1169.1 242.9h0M1158.9 265.7h0M1161.6 271.1h0M1165.7 299.6h0M1158.4 302.1h0M1162.0 307.1h0M1163.8 313.4h0M1160.7 329.5h0M1166.1 342.0h0M1158.9 347.9h0M1163.4 347.9h0M1168.2 348.6h0M1216.6 241.1h0M1224.5 247.3h0M1221.1 265.7h0M1226.8 275.0h0M1216.6 281.2h0M1224.1 282.5h0M1219.3 288.4h0M1226.8 292.9h0M1223.2 297.9h0M1225.0 308.0h0M1222.3 312.5h0M1227.7 312.5h0M1227.7 326.8h0M1220.0 331.2h0M1219.3 347.3h0M1227.1 351.4h0M1279.5 315.7h0M1281.2 327.7h0M1285.7 335.7h0M1275.9 342.9h0M1280.4 345.5h0M1284.8 342.9h0M1276.8 348.2h0M1282.1 350.0h0M1286.6 348.2h0M1278.6 353.6h0M1283.9 355.4h0M1280.4 358.9h0M1285.7 359.8h0M1275.9 366.1h0M1283.9 367.9h0M1282.1 371.4h0M1275.0 374.6h0M1339.3 268.8h0M1345.0 287.5h0M1338.9 290.2h0M1336.6 309.8h0M1344.6 309.3h0M1339.3 313.4h0M1343.8 318.8h0M1341.1 323.2h0M1341.1 331.2h0M1344.6 342.9h0M1335.7 347.3h0M1341.1 351.8h0M1344.6 357.1h0M1341.1 361.6h0M1344.6 364.3h0M1335.7 367.9h0M1338.4 371.1h0M1168.7 62.5h0M1158.8 88.4h0M1158.6 102.5h0M1216.4 196.0h0M1219.3 194.4h0M1157.5 212.1h0M1163.4 212.7h0" stroke="#a50b3c" stroke-width="6.2" stroke-linecap="round" fill="none" />
<line x1="1117" y1="8.5" x2="1117" y2="395" stroke="#000" stroke-width="2.4" />
<line x1="1115.8" y1="393.9" x2="1362.4" y2="393.9" stroke="#000" stroke-width="2.4" />
<line x1="1111.5" y1="37.4" x2="1117" y2="37.4" stroke="#000" stroke-width="2" />
<text font-size="25.08" text-anchor="end" x="1104.4" y="46">0.4</text>
<line x1="1111.5" y1="118.7" x2="1117" y2="118.7" stroke="#000" stroke-width="2" />
<text font-size="25.08" text-anchor="end" x="1104.4" y="127.3">0.3</text>
<line x1="1111.5" y1="206.4" x2="1117" y2="206.4" stroke="#000" stroke-width="2" />
<text font-size="25.08" text-anchor="end" x="1104.4" y="215">0.2</text>
<line x1="1111.5" y1="293.9" x2="1117" y2="293.9" stroke="#000" stroke-width="2" />
<text font-size="25.08" text-anchor="end" x="1104.4" y="302.5">0.1</text>
<line x1="1111.5" y1="382.1" x2="1117" y2="382.1" stroke="#000" stroke-width="2" />
<text font-size="25.08" text-anchor="end" x="1104.4" y="390.7">0</text>
<line x1="1151.8" y1="393.9" x2="1151.8" y2="399.2" stroke="#000" stroke-width="2" />
<line x1="1209.8" y1="393.9" x2="1209.8" y2="399.2" stroke="#000" stroke-width="2" />
<line x1="1268.7" y1="393.9" x2="1268.7" y2="399.2" stroke="#000" stroke-width="2" />
<line x1="1326.8" y1="393.9" x2="1326.8" y2="399.2" stroke="#000" stroke-width="2" />
<text font-size="25.08" text-anchor="middle" textLength="207" lengthAdjust="spacingAndGlyphs" transform="translate(1053 203.5) rotate(-90)">Fraction of all cells</text>
<text font-size="21.32" textLength="88.8" lengthAdjust="spacingAndGlyphs" x="1127.6" y="26.5"><tspan font-style="italic">P</tspan> = 0.019</text>
<line x1="1129.6" y1="37.2" x2="1174.2" y2="37.2" stroke="#222" stroke-width="2.3" />
<text font-size="21.32" textLength="88.9" lengthAdjust="spacingAndGlyphs" x="1178.1" y="60.5"><tspan font-style="italic">P</tspan> = 0.019</text>
<line x1="1188.1" y1="70.9" x2="1232.7" y2="70.9" stroke="#222" stroke-width="2.3" />
<text font-size="21.32" textLength="89.1" lengthAdjust="spacingAndGlyphs" x="1237.6" y="94.3"><tspan font-style="italic">P</tspan> = 0.026</text>
<line x1="1246.8" y1="104.8" x2="1291.4" y2="104.8" stroke="#222" stroke-width="2.3" />
<text font-size="21.32" textLength="100.5" lengthAdjust="spacingAndGlyphs" x="1281.2" y="128"><tspan font-style="italic">P</tspan> = 0.0013</text>
<line x1="1305.2" y1="138.6" x2="1349.9" y2="138.6" stroke="#222" stroke-width="2.3" />
<text font-size="25.08" text-anchor="end" textLength="89.4" lengthAdjust="spacingAndGlyphs" transform="translate(1144.6 409) rotate(-90)">Alveolar</text>
<text font-size="25.08" text-anchor="end" textLength="151" lengthAdjust="spacingAndGlyphs" transform="translate(1168.5 410.2) rotate(-90)">macrophages</text>
<text font-size="25.08" text-anchor="end" textLength="201" lengthAdjust="spacingAndGlyphs" transform="translate(1203.3 410) rotate(-90)">Monocyte-derived</text>
<text font-size="25.08" text-anchor="end" textLength="151" lengthAdjust="spacingAndGlyphs" transform="translate(1227.2 410.2) rotate(-90)">macrophages</text>
<text font-size="25.08" text-anchor="end" textLength="121.5" lengthAdjust="spacingAndGlyphs" transform="translate(1276 409) rotate(-90)">Monocytes</text>
<text font-size="25.08" text-anchor="end" textLength="141.6" lengthAdjust="spacingAndGlyphs" transform="translate(1322.2 410) rotate(-90)">Transitioning</text>
<text font-size="25.08" text-anchor="end" textLength="71" lengthAdjust="spacingAndGlyphs" transform="translate(1345 409) rotate(-90)">MDMs</text>
<g transform="translate(1039.6 24.2) scale(1.12 1)"><text font-size="34" font-weight="bold" x="0" y="0" stroke="#000" stroke-width="0.7">c</text></g>
</g>
<g id="panel_d">
<defs>
<g id="cB"><g filter="url(#b3)"><circle cx="1490.9" cy="59.9" r="9" fill="#0a0e80" opacity="0.55"/><circle cx="1498.9" cy="58.7" r="9" fill="#0a0e80" opacity="0.55"/><circle cx="1505.7" cy="58.1" r="9" fill="#0a0e80" opacity="0.55"/><circle cx="1512.6" cy="55.3" r="9" fill="#0a0e80" opacity="0.55"/><circle cx="1516.0" cy="48.4" r="9" fill="#0a0e80" opacity="0.55"/><circle cx="1524.0" cy="75.3" r="9" fill="#0a0e80" opacity="0.55"/><circle cx="1529.7" cy="67.9" r="9" fill="#0a0e80" opacity="0.55"/><circle cx="1538.3" cy="66.1" r="9" fill="#0a0e80" opacity="0.55"/><circle cx="1548.6" cy="68.4" r="9" fill="#0a0e80" opacity="0.55"/><circle cx="1564.0" cy="66.7" r="9" fill="#0a0e80" opacity="0.55"/><circle cx="1585.1" cy="69.0" r="9" fill="#0a0e80" opacity="0.55"/><circle cx="1577.1" cy="73.6" r="9" fill="#0a0e80" opacity="0.55"/><circle cx="1594.9" cy="72.4" r="9" fill="#0a0e80" opacity="0.55"/><circle cx="1596.0" cy="81.6" r="9" fill="#0a0e80" opacity="0.55"/><circle cx="1578.9" cy="84.4" r="9" fill="#0a0e80" opacity="0.55"/><circle cx="1513.7" cy="104.4" r="9" fill="#0a0e80" opacity="0.55"/><circle cx="1525.1" cy="103.3" r="9" fill="#0a0e80" opacity="0.55"/><circle cx="1538.3" cy="115.9" r="9" fill="#0a0e80" opacity="0.55"/><circle cx="1517.1" cy="118.1" r="9" fill="#0a0e80" opacity="0.55"/><circle cx="1525.1" cy="122.7" r="9" fill="#0a0e80" opacity="0.55"/><circle cx="1514.9" cy="134.1" r="9" fill="#0a0e80" opacity="0.55"/><circle cx="1518.3" cy="142.1" r="9" fill="#0a0e80" opacity="0.55"/><circle cx="1525.7" cy="154.7" r="9" fill="#0a0e80" opacity="0.55"/><circle cx="1478.9" cy="111.3" r="9" fill="#0a0e80" opacity="0.55"/><circle cx="1482.9" cy="130.1" r="9" fill="#0a0e80" opacity="0.55"/><circle cx="1478.3" cy="141.0" r="9" fill="#0a0e80" opacity="0.55"/><circle cx="1481.7" cy="159.3" r="9" fill="#0a0e80" opacity="0.55"/><circle cx="1488.6" cy="165.0" r="9" fill="#0a0e80" opacity="0.55"/><circle cx="1497.7" cy="163.9" r="9" fill="#0a0e80" opacity="0.55"/><circle cx="1505.7" cy="160.4" r="9" fill="#0a0e80" opacity="0.55"/><circle cx="1516.0" cy="153.6" r="9" fill="#0a0e80" opacity="0.55"/><circle cx="1478.3" cy="154.7" r="9" fill="#0a0e80" opacity="0.55"/><circle cx="1562.9" cy="145.6" r="9" fill="#0a0e80" opacity="0.55"/><circle cx="1590.3" cy="151.3" r="9" fill="#0a0e80" opacity="0.55"/><circle cx="1574.3" cy="154.7" r="9" fill="#0a0e80" opacity="0.55"/><circle cx="1570.9" cy="158.1" r="9" fill="#0a0e80" opacity="0.55"/><circle cx="1592.6" cy="160.4" r="9" fill="#0a0e80" opacity="0.55"/><circle cx="1583.4" cy="162.7" r="9" fill="#0a0e80" opacity="0.55"/><circle cx="1568.6" cy="168.4" r="9" fill="#0a0e80" opacity="0.55"/><circle cx="1606.6" cy="73.6" r="9" fill="#0a0e80" opacity="0.55"/><circle cx="1635.1" cy="75.3" r="9" fill="#0a0e80" opacity="0.55"/><circle cx="1615.7" cy="86.1" r="9" fill="#0a0e80" opacity="0.55"/><circle cx="1615.7" cy="96.4" r="9" fill="#0a0e80" opacity="0.55"/><circle cx="1607.7" cy="98.7" r="9" fill="#0a0e80" opacity="0.55"/><circle cx="1664.9" cy="72.4" r="9" fill="#0a0e80" opacity="0.55"/><circle cx="1679.7" cy="111.3" r="9" fill="#0a0e80" opacity="0.55"/><circle cx="1664.9" cy="115.3" r="9" fill="#0a0e80" opacity="0.55"/><circle cx="1662.0" cy="128.4" r="9" fill="#0a0e80" opacity="0.55"/><circle cx="1680.9" cy="139.9" r="9" fill="#0a0e80" opacity="0.55"/><circle cx="1662.0" cy="149.0" r="9" fill="#0a0e80" opacity="0.55"/><circle cx="1478.3" cy="189.3" r="9" fill="#0a0e80" opacity="0.55"/><circle cx="1477.7" cy="198.4" r="9" fill="#0a0e80" opacity="0.55"/><circle cx="1481.7" cy="217.9" r="9" fill="#0a0e80" opacity="0.55"/><circle cx="1484.0" cy="225.9" r="9" fill="#0a0e80" opacity="0.55"/><circle cx="1485.1" cy="247.6" r="9" fill="#0a0e80" opacity="0.55"/><circle cx="1490.9" cy="256.7" r="9" fill="#0a0e80" opacity="0.55"/><circle cx="1480.6" cy="268.1" r="9" fill="#0a0e80" opacity="0.55"/><circle cx="1502.3" cy="280.7" r="9" fill="#0a0e80" opacity="0.55"/><circle cx="1550.3" cy="228.1" r="9" fill="#0a0e80" opacity="0.55"/><circle cx="1546.9" cy="239.6" r="9" fill="#0a0e80" opacity="0.55"/><circle cx="1541.1" cy="244.1" r="9" fill="#0a0e80" opacity="0.55"/><circle cx="1533.1" cy="249.9" r="9" fill="#0a0e80" opacity="0.55"/><circle cx="1531.4" cy="257.9" r="9" fill="#0a0e80" opacity="0.55"/><circle cx="1528.6" cy="273.9" r="9" fill="#0a0e80" opacity="0.55"/><circle cx="1546.9" cy="277.3" r="9" fill="#0a0e80" opacity="0.55"/><circle cx="1611.1" cy="214.4" r="9" fill="#0a0e80" opacity="0.55"/><circle cx="1650.0" cy="205.3" r="9" fill="#0a0e80" opacity="0.55"/><circle cx="1656.3" cy="209.9" r="9" fill="#0a0e80" opacity="0.55"/><circle cx="1658.6" cy="195.6" r="9" fill="#0a0e80" opacity="0.55"/><circle cx="1666.0" cy="191.0" r="9" fill="#0a0e80" opacity="0.55"/><circle cx="1640.9" cy="215.0" r="9" fill="#0a0e80" opacity="0.55"/><circle cx="1656.3" cy="218.4" r="9" fill="#0a0e80" opacity="0.55"/><circle cx="1643.1" cy="230.4" r="9" fill="#0a0e80" opacity="0.55"/><circle cx="1651.1" cy="228.1" r="9" fill="#0a0e80" opacity="0.55"/><circle cx="1633.4" cy="240.7" r="9" fill="#0a0e80" opacity="0.55"/><circle cx="1652.3" cy="245.3" r="9" fill="#0a0e80" opacity="0.55"/><circle cx="1640.3" cy="258.4" r="9" fill="#0a0e80" opacity="0.55"/><circle cx="1647.7" cy="264.1" r="9" fill="#0a0e80" opacity="0.55"/><circle cx="1655.1" cy="271.6" r="9" fill="#0a0e80" opacity="0.55"/><circle cx="1657.4" cy="281.3" r="9" fill="#0a0e80" opacity="0.55"/><circle cx="1671.1" cy="286.4" r="9" fill="#0a0e80" opacity="0.55"/><circle cx="1672.3" cy="294.4" r="9" fill="#0a0e80" opacity="0.55"/><circle cx="1680.3" cy="187.0" r="9" fill="#0a0e80" opacity="0.55"/><circle cx="1694.6" cy="187.6" r="9" fill="#0a0e80" opacity="0.55"/><circle cx="1710.0" cy="203.0" r="9" fill="#0a0e80" opacity="0.55"/><circle cx="1605.4" cy="281.9" r="9" fill="#0a0e80" opacity="0.55"/></g>
<g filter="url(#b1)"><ellipse cx="1483.6" cy="57.0" rx="4.6" ry="3.5" fill="#0d1aa8" transform="rotate(150 1483.6 57.0)" opacity="0.56" /><ellipse cx="1490.9" cy="59.9" rx="5.4" ry="3.8" fill="#1530f5" transform="rotate(47 1490.9 59.9)" opacity="0.86" /><ellipse cx="1505.1" cy="62.7" rx="4.8" ry="3.0" fill="#0d1aa8" transform="rotate(101 1505.1 62.7)" opacity="0.79" /><ellipse cx="1498.9" cy="58.7" rx="5.2" ry="3.9" fill="#1226e8" transform="rotate(159 1498.9 58.7)" opacity="0.85" /><ellipse cx="1510.9" cy="60.2" rx="4.3" ry="3.0" fill="#0d1aa8" transform="rotate(118 1510.9 60.2)" opacity="0.60" /><ellipse cx="1505.7" cy="58.1" rx="5.2" ry="3.6" fill="#1226e8" transform="rotate(163 1505.7 58.1)" opacity="0.89" /><ellipse cx="1518.6" cy="58.8" rx="4.5" ry="3.6" fill="#0d1aa8" transform="rotate(21 1518.6 58.8)" opacity="0.71" /><ellipse cx="1512.6" cy="55.3" rx="4.8" ry="3.6" fill="#1428ff" transform="rotate(7 1512.6 55.3)" opacity="0.86" /><ellipse cx="1516.0" cy="48.4" rx="4.9" ry="4.1" fill="#1428ff" transform="rotate(17 1516.0 48.4)" opacity="0.99" /><ellipse cx="1524.0" cy="75.3" rx="4.5" ry="3.6" fill="#1226e8" transform="rotate(120 1524.0 75.3)" opacity="0.91" /><ellipse cx="1529.7" cy="67.9" rx="5.0" ry="3.9" fill="#1226e8" transform="rotate(172 1529.7 67.9)" opacity="0.89" /><ellipse cx="1534.4" cy="73.0" rx="4.9" ry="3.1" fill="#0d1aa8" transform="rotate(63 1534.4 73.0)" opacity="0.71" /><ellipse cx="1538.3" cy="66.1" rx="4.5" ry="3.8" fill="#1428ff" transform="rotate(45 1538.3 66.1)" opacity="0.95" /><ellipse cx="1540.6" cy="68.0" rx="4.9" ry="3.4" fill="#0d1aa8" transform="rotate(98 1540.6 68.0)" opacity="0.53" /><ellipse cx="1548.6" cy="68.4" rx="5.0" ry="3.6" fill="#1428ff" transform="rotate(151 1548.6 68.4)" opacity="0.90" /><ellipse cx="1564.0" cy="66.7" rx="4.7" ry="3.7" fill="#1530f5" transform="rotate(164 1564.0 66.7)" opacity="0.94" /><ellipse cx="1589.0" cy="74.0" rx="4.0" ry="3.6" fill="#0d1aa8" transform="rotate(75 1589.0 74.0)" opacity="0.62" /><ellipse cx="1585.1" cy="69.0" rx="4.6" ry="3.6" fill="#1530f5" transform="rotate(62 1585.1 69.0)" opacity="0.85" /><ellipse cx="1573.3" cy="69.8" rx="4.7" ry="3.8" fill="#0d1aa8" transform="rotate(34 1573.3 69.8)" opacity="0.76" /><ellipse cx="1577.1" cy="73.6" rx="4.7" ry="3.5" fill="#1226e8" transform="rotate(156 1577.1 73.6)" opacity="0.89" /><ellipse cx="1594.3" cy="64.6" rx="4.2" ry="4.0" fill="#0d1aa8" transform="rotate(123 1594.3 64.6)" opacity="0.68" /><ellipse cx="1594.9" cy="72.4" rx="5.0" ry="3.5" fill="#1226e8" transform="rotate(131 1594.9 72.4)" opacity="0.99" /><ellipse cx="1594.4" cy="76.0" rx="5.0" ry="3.6" fill="#0d1aa8" transform="rotate(75 1594.4 76.0)" opacity="0.66" /><ellipse cx="1596.0" cy="81.6" rx="5.5" ry="4.2" fill="#1226e8" transform="rotate(58 1596.0 81.6)" opacity="0.92" /><ellipse cx="1578.9" cy="84.4" rx="5.2" ry="3.5" fill="#1226e8" transform="rotate(52 1578.9 84.4)" opacity="0.96" /><ellipse cx="1508.8" cy="107.5" rx="4.1" ry="3.3" fill="#0d1aa8" transform="rotate(135 1508.8 107.5)" opacity="0.67" /><ellipse cx="1513.7" cy="104.4" rx="4.6" ry="3.7" fill="#1428ff" transform="rotate(84 1513.7 104.4)" opacity="0.95" /><ellipse cx="1525.1" cy="103.3" rx="5.1" ry="3.5" fill="#1226e8" transform="rotate(4 1525.1 103.3)" opacity="0.92" /><ellipse cx="1536.4" cy="120.6" rx="4.7" ry="3.1" fill="#0d1aa8" transform="rotate(17 1536.4 120.6)" opacity="0.72" /><ellipse cx="1538.3" cy="115.9" rx="4.9" ry="4.2" fill="#1226e8" transform="rotate(115 1538.3 115.9)" opacity="0.93" /><ellipse cx="1517.1" cy="118.1" rx="5.5" ry="4.0" fill="#1530f5" transform="rotate(33 1517.1 118.1)" opacity="0.97" /><ellipse cx="1525.1" cy="122.7" rx="4.9" ry="3.9" fill="#1226e8" transform="rotate(106 1525.1 122.7)" opacity="0.99" /><ellipse cx="1509.8" cy="134.2" rx="4.8" ry="3.4" fill="#0d1aa8" transform="rotate(3 1509.8 134.2)" opacity="0.68" /><ellipse cx="1514.9" cy="134.1" rx="4.6" ry="3.9" fill="#1428ff" transform="rotate(106 1514.9 134.1)" opacity="0.96" /><ellipse cx="1517.6" cy="135.4" rx="4.5" ry="3.8" fill="#0d1aa8" transform="rotate(21 1517.6 135.4)" opacity="0.66" /><ellipse cx="1518.3" cy="142.1" rx="5.1" ry="3.6" fill="#1226e8" transform="rotate(123 1518.3 142.1)" opacity="0.85" /><ellipse cx="1525.7" cy="154.7" rx="4.6" ry="4.0" fill="#1530f5" transform="rotate(124 1525.7 154.7)" opacity="0.89" /><ellipse cx="1476.6" cy="118.0" rx="4.2" ry="3.2" fill="#0d1aa8" transform="rotate(87 1476.6 118.0)" opacity="0.70" /><ellipse cx="1478.9" cy="111.3" rx="5.0" ry="4.1" fill="#1428ff" transform="rotate(103 1478.9 111.3)" opacity="0.95" /><ellipse cx="1476.1" cy="133.3" rx="5.1" ry="3.9" fill="#0d1aa8" transform="rotate(98 1476.1 133.3)" opacity="0.57" /><ellipse cx="1482.9" cy="130.1" rx="5.5" ry="3.6" fill="#1226e8" transform="rotate(127 1482.9 130.1)" opacity="0.90" /><ellipse cx="1478.3" cy="141.0" rx="4.5" ry="3.5" fill="#1428ff" transform="rotate(43 1478.3 141.0)" opacity="0.87" /><ellipse cx="1488.4" cy="155.9" rx="4.5" ry="3.5" fill="#0d1aa8" transform="rotate(172 1488.4 155.9)" opacity="0.59" /><ellipse cx="1481.7" cy="159.3" rx="5.4" ry="4.2" fill="#1428ff" transform="rotate(82 1481.7 159.3)" opacity="0.86" /><ellipse cx="1492.1" cy="161.3" rx="4.9" ry="3.6" fill="#0d1aa8" transform="rotate(79 1492.1 161.3)" opacity="0.69" /><ellipse cx="1488.6" cy="165.0" rx="5.1" ry="3.9" fill="#1428ff" transform="rotate(116 1488.6 165.0)" opacity="0.88" /><ellipse cx="1497.7" cy="163.9" rx="4.8" ry="4.0" fill="#1226e8" transform="rotate(161 1497.7 163.9)" opacity="0.87" /><ellipse cx="1499.0" cy="158.9" rx="4.4" ry="3.1" fill="#0d1aa8" transform="rotate(50 1499.0 158.9)" opacity="0.56" /><ellipse cx="1505.7" cy="160.4" rx="5.0" ry="3.5" fill="#1226e8" transform="rotate(120 1505.7 160.4)" opacity="0.93" /><ellipse cx="1517.1" cy="160.8" rx="4.6" ry="3.9" fill="#0d1aa8" transform="rotate(128 1517.1 160.8)" opacity="0.68" /><ellipse cx="1516.0" cy="153.6" rx="5.3" ry="3.7" fill="#1530f5" transform="rotate(57 1516.0 153.6)" opacity="0.86" /><ellipse cx="1478.3" cy="154.7" rx="5.3" ry="3.5" fill="#1428ff" transform="rotate(50 1478.3 154.7)" opacity="0.94" /><ellipse cx="1562.9" cy="145.6" rx="4.9" ry="3.9" fill="#1530f5" transform="rotate(87 1562.9 145.6)" opacity="0.92" /><ellipse cx="1590.3" cy="151.3" rx="4.7" ry="4.0" fill="#1530f5" transform="rotate(31 1590.3 151.3)" opacity="0.88" /><ellipse cx="1574.3" cy="154.7" rx="5.6" ry="4.2" fill="#1530f5" transform="rotate(82 1574.3 154.7)" opacity="0.89" /><ellipse cx="1570.9" cy="158.1" rx="4.5" ry="3.8" fill="#1226e8" transform="rotate(112 1570.9 158.1)" opacity="0.90" /><ellipse cx="1591.4" cy="168.1" rx="4.3" ry="3.9" fill="#0d1aa8" transform="rotate(109 1591.4 168.1)" opacity="0.74" /><ellipse cx="1592.6" cy="160.4" rx="4.7" ry="3.7" fill="#1226e8" transform="rotate(120 1592.6 160.4)" opacity="0.87" /><ellipse cx="1582.2" cy="155.3" rx="4.8" ry="3.9" fill="#0d1aa8" transform="rotate(126 1582.2 155.3)" opacity="0.67" /><ellipse cx="1583.4" cy="162.7" rx="5.3" ry="4.0" fill="#1428ff" transform="rotate(134 1583.4 162.7)" opacity="0.93" /><ellipse cx="1568.6" cy="168.4" rx="5.1" ry="3.5" fill="#1530f5" transform="rotate(143 1568.6 168.4)" opacity="0.89" /><ellipse cx="1549.1" cy="73.6" rx="5.4" ry="4.4" fill="#0b1699" transform="rotate(156 1549.1 73.6)" opacity="0.61" /><ellipse cx="1510.3" cy="159.3" rx="5.6" ry="4.4" fill="#0b1699" transform="rotate(134 1510.3 159.3)" opacity="0.63" /><ellipse cx="1546.9" cy="134.1" rx="5.2" ry="3.8" fill="#0b1699" transform="rotate(29 1546.9 134.1)" opacity="0.70" /><ellipse cx="1553.7" cy="147.9" rx="5.3" ry="3.4" fill="#0b1699" transform="rotate(11 1553.7 147.9)" opacity="0.70" /><ellipse cx="1494.3" cy="65.6" rx="5.1" ry="4.2" fill="#0b1699" transform="rotate(144 1494.3 65.6)" opacity="0.59" /><ellipse cx="1510.3" cy="49.6" rx="4.7" ry="3.6" fill="#0b1699" transform="rotate(137 1510.3 49.6)" opacity="0.69" /><ellipse cx="1606.6" cy="73.6" rx="5.4" ry="3.7" fill="#1226e8" transform="rotate(121 1606.6 73.6)" opacity="0.92" /><ellipse cx="1641.5" cy="70.7" rx="5.1" ry="3.5" fill="#0d1aa8" transform="rotate(27 1641.5 70.7)" opacity="0.56" /><ellipse cx="1635.1" cy="75.3" rx="5.2" ry="4.1" fill="#1226e8" transform="rotate(179 1635.1 75.3)" opacity="0.97" /><ellipse cx="1617.7" cy="91.5" rx="4.8" ry="3.3" fill="#0d1aa8" transform="rotate(90 1617.7 91.5)" opacity="0.57" /><ellipse cx="1615.7" cy="86.1" rx="5.0" ry="3.8" fill="#1530f5" transform="rotate(31 1615.7 86.1)" opacity="0.98" /><ellipse cx="1615.7" cy="96.4" rx="5.3" ry="4.0" fill="#1428ff" transform="rotate(5 1615.7 96.4)" opacity="0.91" /><ellipse cx="1602.3" cy="97.7" rx="4.2" ry="3.6" fill="#0d1aa8" transform="rotate(163 1602.3 97.7)" opacity="0.57" /><ellipse cx="1607.7" cy="98.7" rx="4.7" ry="3.8" fill="#1530f5" transform="rotate(34 1607.7 98.7)" opacity="0.88" /><ellipse cx="1664.9" cy="72.4" rx="5.4" ry="4.1" fill="#1428ff" transform="rotate(154 1664.9 72.4)" opacity="0.90" /><ellipse cx="1679.7" cy="111.3" rx="4.7" ry="4.2" fill="#1226e8" transform="rotate(34 1679.7 111.3)" opacity="0.98" /><ellipse cx="1670.1" cy="118.5" rx="4.5" ry="3.9" fill="#0d1aa8" transform="rotate(139 1670.1 118.5)" opacity="0.74" /><ellipse cx="1664.9" cy="115.3" rx="4.6" ry="3.7" fill="#1530f5" transform="rotate(4 1664.9 115.3)" opacity="0.86" /><ellipse cx="1662.0" cy="128.4" rx="4.9" ry="4.1" fill="#1428ff" transform="rotate(29 1662.0 128.4)" opacity="0.96" /><ellipse cx="1680.9" cy="139.9" rx="4.9" ry="4.2" fill="#1226e8" transform="rotate(18 1680.9 139.9)" opacity="0.92" /><ellipse cx="1662.5" cy="142.2" rx="5.1" ry="3.5" fill="#0d1aa8" transform="rotate(48 1662.5 142.2)" opacity="0.56" /><ellipse cx="1662.0" cy="149.0" rx="4.7" ry="4.1" fill="#1428ff" transform="rotate(172 1662.0 149.0)" opacity="0.86" /><ellipse cx="1674.0" cy="66.7" rx="4.7" ry="4.4" fill="#0b1699" transform="rotate(118 1674.0 66.7)" opacity="0.57" /><ellipse cx="1663.7" cy="61.0" rx="4.7" ry="3.8" fill="#0b1699" transform="rotate(109 1663.7 61.0)" opacity="0.70" /><ellipse cx="1635.1" cy="66.7" rx="5.1" ry="4.0" fill="#0b1699" transform="rotate(3 1635.1 66.7)" opacity="0.74" /><ellipse cx="1651.1" cy="144.4" rx="4.6" ry="3.6" fill="#0b1699" transform="rotate(104 1651.1 144.4)" opacity="0.69" /><ellipse cx="1671.7" cy="121.6" rx="5.5" ry="3.8" fill="#0b1699" transform="rotate(49 1671.7 121.6)" opacity="0.73" /><ellipse cx="1695.7" cy="131.9" rx="4.7" ry="4.2" fill="#0b1699" transform="rotate(82 1695.7 131.9)" opacity="0.82" /><ellipse cx="1671.7" cy="166.1" rx="5.6" ry="4.1" fill="#0b1699" transform="rotate(161 1671.7 166.1)" opacity="0.83" /><ellipse cx="1720.9" cy="79.3" rx="5.3" ry="3.6" fill="#0b1699" transform="rotate(149 1720.9 79.3)" opacity="0.84" /><ellipse cx="1711.7" cy="49.6" rx="5.6" ry="3.7" fill="#0b1699" transform="rotate(29 1711.7 49.6)" opacity="0.77" /><ellipse cx="1701.4" cy="115.9" rx="5.5" ry="4.2" fill="#0b1699" transform="rotate(103 1701.4 115.9)" opacity="0.59" /><ellipse cx="1702.0" cy="94.1" rx="5.0" ry="3.9" fill="#0b1699" transform="rotate(94 1702.0 94.1)" opacity="0.78" /><ellipse cx="1608.9" cy="113.0" rx="5.5" ry="3.8" fill="#0b1699" transform="rotate(47 1608.9 113.0)" opacity="0.57" /><ellipse cx="1645.4" cy="125.0" rx="5.0" ry="3.9" fill="#0b1699" transform="rotate(2 1645.4 125.0)" opacity="0.82" /><ellipse cx="1668.3" cy="136.4" rx="5.8" ry="4.3" fill="#0b1699" transform="rotate(12 1668.3 136.4)" opacity="0.62" /><ellipse cx="1688.9" cy="142.1" rx="5.7" ry="4.1" fill="#0b1699" transform="rotate(86 1688.9 142.1)" opacity="0.61" /><ellipse cx="1704.9" cy="147.9" rx="5.1" ry="3.6" fill="#0b1699" transform="rotate(19 1704.9 147.9)" opacity="0.67" /><ellipse cx="1695.7" cy="159.3" rx="5.8" ry="4.0" fill="#0b1699" transform="rotate(179 1695.7 159.3)" opacity="0.59" /><ellipse cx="1710.6" cy="159.3" rx="5.1" ry="4.0" fill="#0b1699" transform="rotate(29 1710.6 159.3)" opacity="0.73" /><ellipse cx="1716.3" cy="150.1" rx="5.5" ry="3.7" fill="#0b1699" transform="rotate(102 1716.3 150.1)" opacity="0.70" /><ellipse cx="1682.0" cy="159.3" rx="5.5" ry="4.0" fill="#0b1699" transform="rotate(2 1682.0 159.3)" opacity="0.58" /><ellipse cx="1653.4" cy="159.3" rx="4.9" ry="4.3" fill="#0b1699" transform="rotate(140 1653.4 159.3)" opacity="0.71" /><ellipse cx="1645.4" cy="157.0" rx="5.1" ry="3.9" fill="#0b1699" transform="rotate(25 1645.4 157.0)" opacity="0.74" /><ellipse cx="1722.0" cy="113.6" rx="5.6" ry="3.5" fill="#0b1699" transform="rotate(152 1722.0 113.6)" opacity="0.75" /><ellipse cx="1624.9" cy="79.3" rx="5.7" ry="3.8" fill="#0b1699" transform="rotate(40 1624.9 79.3)" opacity="0.67" /><ellipse cx="1700.3" cy="49.6" rx="5.8" ry="4.3" fill="#0b1699" transform="rotate(138 1700.3 49.6)" opacity="0.73" /><ellipse cx="1690.0" cy="49.6" rx="4.7" ry="4.3" fill="#0b1699" transform="rotate(107 1690.0 49.6)" opacity="0.64" /><ellipse cx="1718.6" cy="51.9" rx="5.1" ry="3.7" fill="#0b1699" transform="rotate(135 1718.6 51.9)" opacity="0.64" /><ellipse cx="1478.3" cy="189.3" rx="5.1" ry="3.6" fill="#1530f5" transform="rotate(75 1478.3 189.3)" opacity="0.85" /><ellipse cx="1477.7" cy="198.4" rx="5.1" ry="3.9" fill="#1428ff" transform="rotate(175 1477.7 198.4)" opacity="0.91" /><ellipse cx="1481.7" cy="217.9" rx="5.3" ry="3.4" fill="#1530f5" transform="rotate(81 1481.7 217.9)" opacity="0.86" /><ellipse cx="1484.0" cy="225.9" rx="5.0" ry="3.8" fill="#1226e8" transform="rotate(11 1484.0 225.9)" opacity="0.93" /><ellipse cx="1485.1" cy="247.6" rx="5.3" ry="3.8" fill="#1226e8" transform="rotate(154 1485.1 247.6)" opacity="0.96" /><ellipse cx="1486.2" cy="259.4" rx="5.0" ry="3.4" fill="#0d1aa8" transform="rotate(39 1486.2 259.4)" opacity="0.54" /><ellipse cx="1490.9" cy="256.7" rx="5.0" ry="3.9" fill="#1428ff" transform="rotate(153 1490.9 256.7)" opacity="0.89" /><ellipse cx="1480.6" cy="268.1" rx="5.0" ry="4.0" fill="#1530f5" transform="rotate(35 1480.6 268.1)" opacity="0.99" /><ellipse cx="1502.3" cy="280.7" rx="4.8" ry="3.5" fill="#1428ff" transform="rotate(129 1502.3 280.7)" opacity="0.94" /><ellipse cx="1549.3" cy="235.1" rx="4.7" ry="3.6" fill="#0d1aa8" transform="rotate(162 1549.3 235.1)" opacity="0.58" /><ellipse cx="1550.3" cy="228.1" rx="4.8" ry="4.2" fill="#1530f5" transform="rotate(167 1550.3 228.1)" opacity="0.99" /><ellipse cx="1546.9" cy="239.6" rx="4.5" ry="3.4" fill="#1428ff" transform="rotate(66 1546.9 239.6)" opacity="0.91" /><ellipse cx="1541.1" cy="244.1" rx="4.6" ry="3.8" fill="#1226e8" transform="rotate(22 1541.1 244.1)" opacity="0.99" /><ellipse cx="1533.9" cy="257.8" rx="4.6" ry="3.4" fill="#0d1aa8" transform="rotate(86 1533.9 257.8)" opacity="0.60" /><ellipse cx="1533.1" cy="249.9" rx="5.3" ry="4.1" fill="#1226e8" transform="rotate(30 1533.1 249.9)" opacity="0.92" /><ellipse cx="1531.4" cy="257.9" rx="5.4" ry="4.0" fill="#1428ff" transform="rotate(108 1531.4 257.9)" opacity="0.96" /><ellipse cx="1531.8" cy="278.3" rx="5.0" ry="3.6" fill="#0d1aa8" transform="rotate(74 1531.8 278.3)" opacity="0.66" /><ellipse cx="1528.6" cy="273.9" rx="5.3" ry="4.1" fill="#1428ff" transform="rotate(167 1528.6 273.9)" opacity="0.91" /><ellipse cx="1550.6" cy="273.6" rx="4.1" ry="3.6" fill="#0d1aa8" transform="rotate(124 1550.6 273.6)" opacity="0.74" /><ellipse cx="1546.9" cy="277.3" rx="5.0" ry="4.1" fill="#1226e8" transform="rotate(19 1546.9 277.3)" opacity="0.90" /><ellipse cx="1482.3" cy="182.4" rx="5.7" ry="4.0" fill="#0b1699" transform="rotate(177 1482.3 182.4)" opacity="0.64" /><ellipse cx="1477.7" cy="236.1" rx="5.5" ry="4.1" fill="#0b1699" transform="rotate(72 1477.7 236.1)" opacity="0.81" /><ellipse cx="1482.9" cy="241.9" rx="4.9" ry="4.1" fill="#0b1699" transform="rotate(83 1482.9 241.9)" opacity="0.66" /><ellipse cx="1497.7" cy="260.1" rx="4.7" ry="4.1" fill="#0b1699" transform="rotate(145 1497.7 260.1)" opacity="0.73" /><ellipse cx="1490.9" cy="285.3" rx="5.7" ry="4.1" fill="#0b1699" transform="rotate(71 1490.9 285.3)" opacity="0.68" /><ellipse cx="1511.4" cy="253.3" rx="5.6" ry="3.7" fill="#0b1699" transform="rotate(81 1511.4 253.3)" opacity="0.62" /><ellipse cx="1533.1" cy="238.4" rx="5.8" ry="4.1" fill="#0b1699" transform="rotate(132 1533.1 238.4)" opacity="0.62" /><ellipse cx="1543.4" cy="256.1" rx="5.0" ry="3.8" fill="#0b1699" transform="rotate(93 1543.4 256.1)" opacity="0.75" /><ellipse cx="1529.7" cy="268.1" rx="5.3" ry="4.2" fill="#0b1699" transform="rotate(144 1529.7 268.1)" opacity="0.66" /><ellipse cx="1530.9" cy="280.7" rx="5.1" ry="3.6" fill="#0b1699" transform="rotate(151 1530.9 280.7)" opacity="0.72" /><ellipse cx="1584.6" cy="281.9" rx="4.8" ry="4.2" fill="#0b1699" transform="rotate(72 1584.6 281.9)" opacity="0.79" /><ellipse cx="1591.4" cy="275.0" rx="4.9" ry="3.5" fill="#0b1699" transform="rotate(40 1591.4 275.0)" opacity="0.72" /><ellipse cx="1578.9" cy="289.9" rx="5.8" ry="4.1" fill="#0b1699" transform="rotate(108 1578.9 289.9)" opacity="0.57" /><ellipse cx="1568.6" cy="283.0" rx="5.3" ry="4.2" fill="#0b1699" transform="rotate(21 1568.6 283.0)" opacity="0.65" /><ellipse cx="1554.9" cy="205.3" rx="4.9" ry="3.5" fill="#0b1699" transform="rotate(80 1554.9 205.3)" opacity="0.58" /><ellipse cx="1526.3" cy="236.1" rx="5.4" ry="3.5" fill="#0b1699" transform="rotate(166 1526.3 236.1)" opacity="0.68" /><ellipse cx="1611.1" cy="214.4" rx="5.0" ry="4.1" fill="#1428ff" transform="rotate(117 1611.1 214.4)" opacity="0.91" /><ellipse cx="1656.9" cy="203.9" rx="4.6" ry="3.5" fill="#0d1aa8" transform="rotate(18 1656.9 203.9)" opacity="0.71" /><ellipse cx="1650.0" cy="205.3" rx="5.5" ry="3.7" fill="#1530f5" transform="rotate(89 1650.0 205.3)" opacity="0.98" /><ellipse cx="1656.3" cy="209.9" rx="5.4" ry="4.1" fill="#1530f5" transform="rotate(163 1656.3 209.9)" opacity="0.85" /><ellipse cx="1663.9" cy="195.9" rx="5.1" ry="3.9" fill="#0d1aa8" transform="rotate(62 1663.9 195.9)" opacity="0.72" /><ellipse cx="1658.6" cy="195.6" rx="5.6" ry="3.7" fill="#1226e8" transform="rotate(82 1658.6 195.6)" opacity="0.88" /><ellipse cx="1663.9" cy="198.6" rx="4.1" ry="3.3" fill="#0d1aa8" transform="rotate(29 1663.9 198.6)" opacity="0.59" /><ellipse cx="1666.0" cy="191.0" rx="4.7" ry="4.1" fill="#1226e8" transform="rotate(117 1666.0 191.0)" opacity="0.85" /><ellipse cx="1642.7" cy="209.4" rx="4.2" ry="3.4" fill="#0d1aa8" transform="rotate(150 1642.7 209.4)" opacity="0.57" /><ellipse cx="1640.9" cy="215.0" rx="5.3" ry="3.9" fill="#1226e8" transform="rotate(113 1640.9 215.0)" opacity="0.88" /><ellipse cx="1659.7" cy="224.9" rx="4.4" ry="3.5" fill="#0d1aa8" transform="rotate(140 1659.7 224.9)" opacity="0.64" /><ellipse cx="1656.3" cy="218.4" rx="4.8" ry="4.1" fill="#1428ff" transform="rotate(169 1656.3 218.4)" opacity="0.93" /><ellipse cx="1643.1" cy="230.4" rx="5.0" ry="3.6" fill="#1226e8" transform="rotate(55 1643.1 230.4)" opacity="0.99" /><ellipse cx="1651.1" cy="228.1" rx="4.9" ry="3.8" fill="#1530f5" transform="rotate(70 1651.1 228.1)" opacity="0.97" /><ellipse cx="1640.2" cy="237.2" rx="5.0" ry="3.9" fill="#0d1aa8" transform="rotate(115 1640.2 237.2)" opacity="0.74" /><ellipse cx="1633.4" cy="240.7" rx="5.3" ry="3.9" fill="#1226e8" transform="rotate(106 1633.4 240.7)" opacity="0.87" /><ellipse cx="1651.8" cy="252.9" rx="4.6" ry="3.6" fill="#0d1aa8" transform="rotate(158 1651.8 252.9)" opacity="0.58" /><ellipse cx="1652.3" cy="245.3" rx="5.1" ry="3.5" fill="#1226e8" opacity="0.88" /><ellipse cx="1640.3" cy="258.4" rx="4.7" ry="3.5" fill="#1428ff" transform="rotate(69 1640.3 258.4)" opacity="0.94" /><ellipse cx="1653.1" cy="259.6" rx="4.1" ry="3.7" fill="#0d1aa8" transform="rotate(139 1653.1 259.6)" opacity="0.76" /><ellipse cx="1647.7" cy="264.1" rx="4.8" ry="4.0" fill="#1428ff" transform="rotate(49 1647.7 264.1)" opacity="0.99" /><ellipse cx="1657.7" cy="266.6" rx="4.7" ry="3.5" fill="#0d1aa8" transform="rotate(40 1657.7 266.6)" opacity="0.78" /><ellipse cx="1655.1" cy="271.6" rx="5.6" ry="3.7" fill="#1428ff" transform="rotate(19 1655.1 271.6)" opacity="0.93" /><ellipse cx="1657.4" cy="281.3" rx="5.2" ry="3.5" fill="#1226e8" transform="rotate(175 1657.4 281.3)" opacity="0.87" /><ellipse cx="1671.1" cy="286.4" rx="5.2" ry="4.0" fill="#1226e8" transform="rotate(167 1671.1 286.4)" opacity="0.92" /><ellipse cx="1672.3" cy="294.4" rx="5.3" ry="3.8" fill="#1428ff" transform="rotate(144 1672.3 294.4)" opacity="0.87" /><ellipse cx="1680.3" cy="187.0" rx="5.4" ry="4.1" fill="#1530f5" transform="rotate(52 1680.3 187.0)" opacity="0.99" /><ellipse cx="1689.1" cy="182.0" rx="4.9" ry="4.0" fill="#0d1aa8" transform="rotate(100 1689.1 182.0)" opacity="0.67" /><ellipse cx="1694.6" cy="187.6" rx="4.6" ry="3.6" fill="#1428ff" transform="rotate(28 1694.6 187.6)" opacity="0.90" /><ellipse cx="1710.0" cy="203.0" rx="5.1" ry="4.0" fill="#1428ff" transform="rotate(114 1710.0 203.0)" opacity="0.97" /><ellipse cx="1608.8" cy="285.9" rx="4.8" ry="3.7" fill="#0d1aa8" transform="rotate(46 1608.8 285.9)" opacity="0.56" /><ellipse cx="1605.4" cy="281.9" rx="4.5" ry="3.8" fill="#1530f5" transform="rotate(23 1605.4 281.9)" opacity="0.87" /><ellipse cx="1613.4" cy="221.3" rx="4.6" ry="4.4" fill="#0b1699" transform="rotate(111 1613.4 221.3)" opacity="0.67" /><ellipse cx="1640.9" cy="203.0" rx="4.7" ry="4.3" fill="#0b1699" transform="rotate(109 1640.9 203.0)" opacity="0.83" /><ellipse cx="1691.1" cy="199.6" rx="4.8" ry="3.6" fill="#0b1699" transform="rotate(37 1691.1 199.6)" opacity="0.80" /><ellipse cx="1714.0" cy="193.3" rx="5.1" ry="3.7" fill="#0b1699" transform="rotate(105 1714.0 193.3)" opacity="0.74" /><ellipse cx="1725.4" cy="172.1" rx="5.5" ry="4.0" fill="#0b1699" transform="rotate(81 1725.4 172.1)" opacity="0.84" /><ellipse cx="1604.3" cy="267.0" rx="5.5" ry="4.1" fill="#0b1699" transform="rotate(155 1604.3 267.0)" opacity="0.71" /><ellipse cx="1614.6" cy="270.4" rx="4.9" ry="3.6" fill="#0b1699" transform="rotate(78 1614.6 270.4)" opacity="0.75" /><ellipse cx="1611.7" cy="255.6" rx="4.7" ry="3.8" fill="#0b1699" transform="rotate(130 1611.7 255.6)" opacity="0.65" /><ellipse cx="1611.1" cy="289.9" rx="5.0" ry="3.5" fill="#0b1699" transform="rotate(40 1611.1 289.9)" opacity="0.63" /></g>
<ellipse cx="1556.2" cy="171.2" rx="6.2" ry="5.4" fill="#1c3cf0" filter="url(#b1)"/>
<ellipse cx="1591.5" cy="98.0" rx="4.0" ry="3.4" fill="#1c3cf0" filter="url(#b1)"/>
<ellipse cx="1583.2" cy="132.5" rx="4.6" ry="4.2" fill="#2040f0" filter="url(#b1)"/>
<ellipse cx="1525.0" cy="212.0" rx="4.6" ry="4.4" fill="#3464e0" filter="url(#b1)"/>
<ellipse cx="1504.0" cy="245.3" rx="4.4" ry="4.0" fill="#2a50e8" filter="url(#b1)"/></g>
<g id="cG"><ellipse cx="1555.8" cy="180.8" rx="9.6" ry="15.4" fill="#3f9222" transform="rotate(8 1555.8 180.8)" filter="url(#b1)"/>
<ellipse cx="1555.8" cy="180.8" rx="9.6" ry="15.4" fill="none" stroke="#3fbf2a" stroke-width="1.6" transform="rotate(8 1555.8 180.8)" filter="url(#b1)"/>
<ellipse cx="1596.2" cy="95.0" rx="9.0" ry="7.4" fill="#2f8a25" transform="rotate(-15 1596.2 95.0)" filter="url(#b1)"/>
<ellipse cx="1585.2" cy="91.0" rx="3.0" ry="4.5" fill="#2c8a22" opacity="0.80" filter="url(#b1)"/>
<circle cx="1583.2" cy="132.5" r="7" fill="#1a5c1a" stroke="#2fae2f" stroke-width="1.8" filter="url(#b1)"/>
<ellipse cx="1579.5" cy="144.5" rx="9.0" ry="6.0" fill="#5f7d20" transform="rotate(-20 1579.5 144.5)" opacity="0.95" filter="url(#b1)"/>
<ellipse cx="1590.0" cy="156.2" rx="7.0" ry="8.0" fill="#1f6a1f" opacity="0.80" filter="url(#b2)"/>
<path d="M1570.0 165.0C1570.8 165.4 1574.4 165.8 1575.0 167.5C1575.6 169.2 1574.0 173.8 1573.8 175.0" fill="none" stroke="#2fd02f" stroke-width="1.8" stroke-linecap="round" stroke-linejoin="round" filter="url(#b1)"/>
<circle cx="1525.0" cy="212.0" r="7" fill="#184818" stroke="#2a9a2a" stroke-width="1.5" filter="url(#b1)"/>
<circle cx="1503.4" cy="245.3" r="5.6" fill="#143c14" stroke="#2a9a2a" stroke-width="1.5" filter="url(#b1)"/>
<ellipse cx="1538.9" cy="207.6" rx="6.0" ry="7.5" fill="#1f6a1f" opacity="0.85" filter="url(#b2)"/>
<ellipse cx="1614.6" cy="113.6" rx="8.0" ry="5.5" fill="#1f6a1f" opacity="0.85" filter="url(#b2)"/>
<ellipse cx="1720.9" cy="279.6" rx="6.0" ry="6.0" fill="#1f6a1f" opacity="0.75" filter="url(#b2)"/>
<ellipse cx="1510.3" cy="64.4" rx="6.0" ry="4.0" fill="#174f17" opacity="0.70" filter="url(#b2)"/>
<ellipse cx="1549.0" cy="72.4" rx="6.0" ry="4.0" fill="#174f17" opacity="0.70" filter="url(#b2)"/>
<ellipse cx="1530.9" cy="93.0" rx="3.5" ry="9.0" fill="#174f17" opacity="0.70" filter="url(#b2)"/>
<ellipse cx="1573.0" cy="166.0" rx="4.0" ry="5.0" fill="#2fd02f" opacity="0.90" filter="url(#b2)"/>
<ellipse cx="1572.0" cy="175.6" rx="3.5" ry="3.5" fill="#1f8a1f" opacity="0.80" filter="url(#b2)"/>
<ellipse cx="1535.4" cy="286.4" rx="7.0" ry="3.0" fill="#1f6a1f" opacity="0.70" filter="url(#b2)"/>
<ellipse cx="1658.0" cy="83.0" rx="3.0" ry="2.0" fill="#8fae20" opacity="0.90" filter="url(#b2)"/>
<ellipse cx="1515.0" cy="250.0" rx="4.0" ry="4.0" fill="#174f17" opacity="0.60" filter="url(#b2)"/></g>
<g id="cR"><g filter="url(#b1)"><path d="M1529.7 71.3C1531.4 70.1 1535.6 65.8 1540.0 64.4C1544.4 63.1 1551.4 62.7 1556.0 63.3C1560.6 63.9 1563.6 65.6 1567.4 67.9C1571.2 70.1 1575.0 75.1 1578.9 77.0C1582.7 78.9 1588.4 78.9 1590.3 79.3" fill="none" stroke="#c21c14" stroke-width="1.3" stroke-linecap="round" stroke-linejoin="round" opacity="0.7"/><path d="M1519.4 79.3 L1514.9 93.0" fill="none" stroke="#c21c14" stroke-width="1.3" stroke-linecap="round" stroke-linejoin="round" opacity="0.7"/><path d="M1525.1 125.0C1528.4 127.5 1539.4 138.0 1544.6 139.9C1549.7 141.8 1554.1 137.0 1556.0 136.4" fill="none" stroke="#c21c14" stroke-width="1.3" stroke-linecap="round" stroke-linejoin="round" opacity="0.7"/><path d="M1490.9 163.9 L1494.3 166.1" fill="none" stroke="#c21c14" stroke-width="1.3" stroke-linecap="round" stroke-linejoin="round" opacity="0.7"/><path d="M1645.4 74.7C1647.3 74.3 1652.7 73.0 1656.9 72.4C1661.0 71.9 1668.3 71.5 1670.6 71.3" fill="none" stroke="#c21c14" stroke-width="1.3" stroke-linecap="round" stroke-linejoin="round" opacity="0.7"/><path d="M1654.6 153.6 L1659.1 161.6" fill="none" stroke="#c21c14" stroke-width="1.3" stroke-linecap="round" stroke-linejoin="round" opacity="0.7"/><path d="M1683.7 133.0 L1684.9 132.4" fill="none" stroke="#c21c14" stroke-width="1.3" stroke-linecap="round" stroke-linejoin="round" opacity="0.7"/><path d="M1688.3 127.5 L1689.4 127.1" fill="none" stroke="#c21c14" stroke-width="1.3" stroke-linecap="round" stroke-linejoin="round" opacity="0.7"/><path d="M1480.6 216.7 L1487.4 220.1" fill="none" stroke="#c21c14" stroke-width="1.3" stroke-linecap="round" stroke-linejoin="round" opacity="0.7"/><path d="M1482.9 273.9 L1487.4 275.0" fill="none" stroke="#c21c14" stroke-width="1.3" stroke-linecap="round" stroke-linejoin="round" opacity="0.7"/><path d="M1542.3 260.1 L1540.0 268.1" fill="none" stroke="#c21c14" stroke-width="1.3" stroke-linecap="round" stroke-linejoin="round" opacity="0.7"/><path d="M1495.4 289.9C1496.0 289.5 1497.7 287.4 1498.9 287.6C1500.0 287.8 1502.3 289.9 1502.3 291.0C1502.3 292.1 1500.0 294.6 1498.9 294.4C1497.7 294.2 1496.0 290.6 1495.4 289.9" fill="none" stroke="#c21c14" stroke-width="1.3" stroke-linecap="round" stroke-linejoin="round" opacity="0.7"/><path d="M1576.6 182.4 L1578.9 188.1" fill="none" stroke="#c21c14" stroke-width="1.3" stroke-linecap="round" stroke-linejoin="round" opacity="0.7"/><path d="M1521.7 241.9 L1518.3 251.0" fill="none" stroke="#c21c14" stroke-width="1.3" stroke-linecap="round" stroke-linejoin="round" opacity="0.7"/><path d="M1668.3 177.9 L1672.9 193.9" fill="none" stroke="#c21c14" stroke-width="1.3" stroke-linecap="round" stroke-linejoin="round" opacity="0.7"/><path d="M1624.9 220.1C1626.8 220.1 1633.8 220.7 1636.3 220.1C1638.8 219.6 1639.1 217.3 1639.7 216.7" fill="none" stroke="#c21c14" stroke-width="1.3" stroke-linecap="round" stroke-linejoin="round" opacity="0.7"/><path d="M1643.1 235.0 L1650.0 236.1" fill="none" stroke="#c21c14" stroke-width="1.3" stroke-linecap="round" stroke-linejoin="round" opacity="0.7"/><path d="M1640.9 244.1 L1644.3 251.0" fill="none" stroke="#c21c14" stroke-width="1.3" stroke-linecap="round" stroke-linejoin="round" opacity="0.7"/><path d="M1661.4 278.4 L1664.3 296.7" fill="none" stroke="#c21c14" stroke-width="1.3" stroke-linecap="round" stroke-linejoin="round" opacity="0.7"/></g>
<ellipse cx="1555.8" cy="180.8" rx="9.6" ry="15.4" fill="#5a1a08" transform="rotate(8 1555.8 180.8)" opacity="0.80" filter="url(#b1)"/>
<path d="M1547.2 178.8q-2 14 5.5 17q6 -1 8 -8" fill="none" stroke="#ff7a1a" stroke-width="1.6" filter="url(#b1)"/>
<ellipse cx="1596.2" cy="95.0" rx="8.0" ry="6.4" fill="#4a1606" transform="rotate(-15 1596.2 95.0)" opacity="0.80" filter="url(#b1)"/>
<path d="M1587.2 95.0q1 -9 10 -8.5q9 1 8 10q-1 7 -9 9" fill="none" stroke="#ff4a1a" stroke-width="2" filter="url(#b1)"/>
<path d="M1587.2 96.0q-3 7 4 9" fill="none" stroke="#f0a020" stroke-width="1.4" filter="url(#b1)"/>
<path d="M1575.0 83.8C1576.2 84.2 1580.0 86.2 1582.5 86.2C1585.0 86.2 1588.8 84.2 1590.0 83.8" fill="none" stroke="#c01414" stroke-width="0.9" stroke-linecap="round" stroke-linejoin="round" opacity="0.8"/></g>
<g id="vB"><g filter="url(#b1)"><ellipse cx="1874.0" cy="89.9" rx="4.8" ry="3.2" fill="#1a3cf0" transform="rotate(94 1874.0 89.9)" /><ellipse cx="1775.1" cy="105.9" rx="4.4" ry="3.0" fill="#1a3cf0" transform="rotate(55 1775.1 105.9)" /><ellipse cx="1850.1" cy="123.2" rx="5.2" ry="3.6" fill="#1a3cf0" transform="rotate(9 1850.1 123.2)" /><ellipse cx="1833.1" cy="128.9" rx="4.7" ry="3.2" fill="#1a3cf0" transform="rotate(76 1833.1 128.9)" /><ellipse cx="1864.3" cy="152.9" rx="5.2" ry="3.3" fill="#1a3cf0" transform="rotate(115 1864.3 152.9)" /><ellipse cx="1836.7" cy="143.9" rx="4.4" ry="3.4" fill="#1a3cf0" transform="rotate(170 1836.7 143.9)" /><ellipse cx="1785.2" cy="145.3" rx="4.7" ry="3.5" fill="#1a3cf0" transform="rotate(46 1785.2 145.3)" /><ellipse cx="1902.9" cy="149.0" rx="5.2" ry="4.0" fill="#1a3cf0" transform="rotate(52 1902.9 149.0)" /><ellipse cx="1886.7" cy="173.3" rx="5.2" ry="3.6" fill="#1a3cf0" transform="rotate(10 1886.7 173.3)" /><ellipse cx="1984.7" cy="104.7" rx="5.5" ry="3.4" fill="#1a3cf0" transform="rotate(8 1984.7 104.7)" /><ellipse cx="1993.3" cy="73.2" rx="5.6" ry="3.7" fill="#1a3cf0" transform="rotate(72 1993.3 73.2)" /><ellipse cx="1988.9" cy="149.4" rx="5.6" ry="4.0" fill="#1a3cf0" transform="rotate(107 1988.9 149.4)" /><ellipse cx="2009.6" cy="137.7" rx="4.4" ry="3.1" fill="#1a3cf0" transform="rotate(106 2009.6 137.7)" /><ellipse cx="1770.4" cy="210.3" rx="4.7" ry="3.4" fill="#1a3cf0" transform="rotate(32 1770.4 210.3)" /><ellipse cx="1804.9" cy="221.4" rx="5.2" ry="4.1" fill="#1a3cf0" transform="rotate(67 1804.9 221.4)" /><ellipse cx="1823.3" cy="219.6" rx="4.4" ry="3.0" fill="#1a3cf0" transform="rotate(179 1823.3 219.6)" /><ellipse cx="1878.1" cy="212.7" rx="5.2" ry="3.3" fill="#1a3cf0" transform="rotate(4 1878.1 212.7)" /><ellipse cx="1910.6" cy="191.0" rx="5.0" ry="3.6" fill="#1a3cf0" transform="rotate(29 1910.6 191.0)" /><ellipse cx="1930.8" cy="200.8" rx="5.6" ry="4.0" fill="#1a3cf0" transform="rotate(163 1930.8 200.8)" /><ellipse cx="1955.7" cy="189.1" rx="4.4" ry="2.8" fill="#1a3cf0" transform="rotate(99 1955.7 189.1)" /><ellipse cx="1982.5" cy="223.0" rx="5.6" ry="4.0" fill="#1a3cf0" transform="rotate(160 1982.5 223.0)" /><ellipse cx="1895.2" cy="254.4" rx="5.2" ry="3.8" fill="#1a3cf0" transform="rotate(169 1895.2 254.4)" /><ellipse cx="1887.3" cy="275.2" rx="4.7" ry="3.5" fill="#1a3cf0" transform="rotate(56 1887.3 275.2)" /><ellipse cx="1798.4" cy="255.7" rx="4.7" ry="3.0" fill="#1a3cf0" transform="rotate(95 1798.4 255.7)" /><ellipse cx="1819.9" cy="250.3" rx="4.4" ry="3.5" fill="#1a3cf0" transform="rotate(107 1819.9 250.3)" /><ellipse cx="1974.6" cy="255.5" rx="5.2" ry="3.4" fill="#1a3cf0" transform="rotate(84 1974.6 255.5)" /><ellipse cx="2001.6" cy="230.5" rx="5.2" ry="3.2" fill="#1a3cf0" transform="rotate(22 2001.6 230.5)" /><ellipse cx="1928.5" cy="76.0" rx="4.4" ry="3.0" fill="#1a3cf0" transform="rotate(132 1928.5 76.0)" /><ellipse cx="1767.5" cy="179.0" rx="4.4" ry="2.8" fill="#1a3cf0" transform="rotate(176 1767.5 179.0)" /><ellipse cx="1778.8" cy="237.0" rx="4.4" ry="2.6" fill="#1a3cf0" transform="rotate(130 1778.8 237.0)" /><ellipse cx="1999.0" cy="267.5" rx="5.2" ry="3.4" fill="#1a3cf0" transform="rotate(15 1999.0 267.5)" /><ellipse cx="1844.4" cy="269.4" rx="4.4" ry="3.3" fill="#1a3cf0" transform="rotate(135 1844.4 269.4)" /><ellipse cx="2006.0" cy="203.5" rx="4.4" ry="3.3" fill="#1a3cf0" transform="rotate(147 2006.0 203.5)" /><ellipse cx="1788.8" cy="73.8" rx="4.4" ry="3.0" fill="#1a34f0" transform="rotate(83 1788.8 73.8)" opacity="0.85" /><ellipse cx="1803.8" cy="80.0" rx="4.0" ry="2.6" fill="#1a34f0" transform="rotate(100 1803.8 80.0)" opacity="0.97" /><ellipse cx="1801.2" cy="110.0" rx="4.5" ry="2.9" fill="#1a34f0" transform="rotate(107 1801.2 110.0)" opacity="0.77" /><ellipse cx="1810.0" cy="140.0" rx="3.9" ry="3.0" fill="#1a34f0" transform="rotate(173 1810.0 140.0)" opacity="0.95" /><ellipse cx="1813.8" cy="158.8" rx="4.6" ry="3.2" fill="#1a34f0" transform="rotate(6 1813.8 158.8)" opacity="0.70" /><ellipse cx="1782.5" cy="158.8" rx="4.5" ry="3.0" fill="#1a34f0" transform="rotate(94 1782.5 158.8)" opacity="0.96" /><ellipse cx="1901.2" cy="105.0" rx="4.2" ry="3.0" fill="#1a34f0" transform="rotate(178 1901.2 105.0)" opacity="0.99" /><ellipse cx="1930.0" cy="131.2" rx="4.2" ry="2.6" fill="#1a34f0" transform="rotate(133 1930.0 131.2)" opacity="0.86" /><ellipse cx="1940.0" cy="120.0" rx="4.6" ry="3.0" fill="#1a34f0" transform="rotate(19 1940.0 120.0)" opacity="0.77" /><ellipse cx="1957.5" cy="112.5" rx="3.6" ry="2.7" fill="#1a34f0" transform="rotate(6 1957.5 112.5)" opacity="0.94" /><ellipse cx="1912.5" cy="171.2" rx="4.0" ry="3.0" fill="#1a34f0" transform="rotate(148 1912.5 171.2)" opacity="0.85" /><ellipse cx="1853.8" cy="180.0" rx="4.0" ry="3.0" fill="#1a34f0" transform="rotate(43 1853.8 180.0)" opacity="0.82" /><ellipse cx="1862.5" cy="190.0" rx="3.9" ry="3.0" fill="#1a34f0" transform="rotate(17 1862.5 190.0)" opacity="0.73" /><ellipse cx="1825.0" cy="180.0" rx="3.6" ry="3.2" fill="#1a34f0" transform="rotate(129 1825.0 180.0)" opacity="0.85" /><ellipse cx="1837.5" cy="205.0" rx="4.6" ry="3.4" fill="#1a34f0" transform="rotate(154 1837.5 205.0)" opacity="0.81" /><ellipse cx="1835.0" cy="216.2" rx="3.9" ry="3.0" fill="#1a34f0" transform="rotate(142 1835.0 216.2)" opacity="0.88" /><ellipse cx="1855.0" cy="215.0" rx="4.2" ry="3.1" fill="#1a34f0" transform="rotate(90 1855.0 215.0)" opacity="0.96" /><ellipse cx="1906.2" cy="230.0" rx="3.7" ry="2.7" fill="#1a34f0" transform="rotate(148 1906.2 230.0)" opacity="0.85" /><ellipse cx="1940.0" cy="196.2" rx="4.6" ry="3.2" fill="#1a34f0" transform="rotate(169 1940.0 196.2)" opacity="0.96" /><ellipse cx="1967.5" cy="196.2" rx="4.7" ry="3.4" fill="#1a34f0" transform="rotate(44 1967.5 196.2)" opacity="0.74" /><ellipse cx="1895.0" cy="195.0" rx="3.8" ry="2.8" fill="#1a34f0" transform="rotate(33 1895.0 195.0)" opacity="0.82" /><ellipse cx="2007.5" cy="185.0" rx="4.0" ry="3.0" fill="#1a34f0" transform="rotate(76 2007.5 185.0)" opacity="0.84" /><ellipse cx="2001.2" cy="212.5" rx="4.2" ry="3.1" fill="#1a34f0" transform="rotate(77 2001.2 212.5)" opacity="0.99" /><ellipse cx="1890.0" cy="250.0" rx="4.4" ry="3.0" fill="#1a34f0" transform="rotate(14 1890.0 250.0)" opacity="0.80" /><ellipse cx="1900.0" cy="270.0" rx="4.1" ry="3.4" fill="#1a34f0" transform="rotate(63 1900.0 270.0)" opacity="0.74" /><ellipse cx="1912.5" cy="282.5" rx="4.0" ry="2.9" fill="#1a34f0" transform="rotate(160 1912.5 282.5)" opacity="0.84" /><ellipse cx="1865.0" cy="257.5" rx="4.1" ry="2.9" fill="#1a34f0" transform="rotate(163 1865.0 257.5)" opacity="0.82" /><ellipse cx="1775.0" cy="285.0" rx="4.7" ry="3.0" fill="#1a34f0" opacity="0.87" /><ellipse cx="1986.2" cy="267.5" rx="4.5" ry="3.2" fill="#1a34f0" transform="rotate(99 1986.2 267.5)" opacity="0.83" /><ellipse cx="1986.2" cy="256.2" rx="4.2" ry="3.3" fill="#1a34f0" transform="rotate(106 1986.2 256.2)" opacity="0.88" /><ellipse cx="2000.0" cy="245.0" rx="4.0" ry="3.0" fill="#1a34f0" transform="rotate(130 2000.0 245.0)" opacity="0.83" /><ellipse cx="1772.5" cy="230.0" rx="4.2" ry="2.8" fill="#1a34f0" transform="rotate(122 1772.5 230.0)" opacity="0.72" /><ellipse cx="1770.0" cy="200.0" rx="3.8" ry="2.7" fill="#1a34f0" transform="rotate(95 1770.0 200.0)" opacity="0.91" /><ellipse cx="2000.0" cy="135.0" rx="3.8" ry="3.3" fill="#1a34f0" transform="rotate(19 2000.0 135.0)" opacity="0.91" /><ellipse cx="1930.0" cy="282.5" rx="4.7" ry="3.1" fill="#1a34f0" transform="rotate(35 1930.0 282.5)" opacity="0.72" /><ellipse cx="1878.8" cy="123.8" rx="3.6" ry="3.4" fill="#1a34f0" transform="rotate(87 1878.8 123.8)" opacity="0.78" /><ellipse cx="1972.5" cy="142.5" rx="4.2" ry="2.7" fill="#1a34f0" transform="rotate(39 1972.5 142.5)" opacity="0.86" /><ellipse cx="2008.8" cy="75.0" rx="4.0" ry="3.1" fill="#1a34f0" transform="rotate(178 2008.8 75.0)" opacity="0.94" /><ellipse cx="1905.0" cy="47.5" rx="4.1" ry="2.7" fill="#1a34f0" transform="rotate(4 1905.0 47.5)" opacity="0.82" /></g></g>
<g id="vG"><rect x="1761" y="44" width="256" height="254" fill="#0a2a0a" opacity="0.15"/>
<g filter="url(#b2)"><path d="M1890.8 84.9C1891.1 86.5 1883.3 89.1 1881.2 91.2C1879.1 93.4 1880.5 97.1 1878.4 98.0C1876.2 98.8 1871.2 97.3 1868.3 96.3C1865.3 95.2 1861.2 93.4 1860.8 91.7C1860.4 90.0 1864.2 87.6 1865.8 86.1C1867.4 84.6 1868.4 83.4 1870.7 82.6C1872.9 81.8 1876.0 80.7 1879.4 81.1C1882.7 81.5 1890.5 83.2 1890.8 84.9Z" fill="#0f5a14" opacity="0.55"/><path d="M1772.0 114.9C1769.7 114.9 1767.2 111.1 1765.4 109.2C1763.7 107.3 1760.5 104.6 1761.4 103.2C1762.3 101.8 1768.1 101.7 1770.7 100.8C1773.3 100.0 1774.5 98.3 1777.1 98.2C1779.7 98.0 1784.6 98.6 1786.3 100.0C1788.0 101.4 1788.5 105.1 1787.3 106.6C1786.1 108.1 1781.7 107.7 1779.2 109.1C1776.6 110.5 1774.3 114.9 1772.0 114.9Z" fill="#0f5a14" opacity="0.55"/><path d="M1861.9 132.6C1859.7 135.5 1855.9 137.3 1852.7 137.8C1849.5 138.3 1844.1 138.0 1842.5 135.6C1840.8 133.3 1843.0 127.2 1843.0 123.6C1843.0 120.0 1841.3 117.2 1842.4 114.1C1843.5 111.0 1846.9 105.2 1849.6 104.8C1852.3 104.3 1855.8 108.9 1858.6 111.5C1861.4 114.1 1865.8 116.9 1866.4 120.5C1867.0 124.0 1864.2 129.8 1861.9 132.6Z" fill="#0f5a14" opacity="0.55"/><path d="M1826.2 130.7C1825.3 127.3 1821.5 122.4 1822.1 119.2C1822.7 115.9 1827.5 111.0 1829.8 111.3C1832.2 111.5 1834.7 118.1 1836.1 120.8C1837.4 123.4 1837.4 124.5 1838.1 127.0C1838.8 129.5 1840.9 134.1 1840.2 135.8C1839.4 137.6 1835.9 136.8 1833.8 137.5C1831.7 138.2 1828.8 141.0 1827.5 139.9C1826.3 138.8 1827.1 134.2 1826.2 130.7Z" fill="#0f5a14" opacity="0.55"/><path d="M1851.7 148.7C1852.0 146.1 1854.9 140.7 1857.7 140.3C1860.4 139.9 1864.6 145.0 1868.1 146.2C1871.6 147.4 1877.6 146.1 1878.9 147.7C1880.1 149.3 1877.2 153.1 1875.8 155.6C1874.5 158.0 1873.8 160.8 1871.0 162.4C1868.1 164.0 1861.4 166.2 1858.8 165.1C1856.2 164.0 1856.6 158.6 1855.4 155.8C1854.2 153.1 1851.3 151.3 1851.7 148.7Z" fill="#0f5a14" opacity="0.55"/><path d="M1846.3 143.0C1846.9 144.4 1845.4 146.3 1844.5 147.9C1843.5 149.6 1842.9 151.9 1840.6 153.0C1838.3 154.2 1833.1 155.7 1830.7 154.8C1828.2 153.9 1826.0 149.7 1826.1 147.6C1826.2 145.6 1829.9 144.1 1831.3 142.4C1832.7 140.7 1832.9 137.9 1834.6 137.4C1836.3 136.9 1839.3 138.7 1841.2 139.7C1843.2 140.6 1845.8 141.6 1846.3 143.0Z" fill="#0f5a14" opacity="0.55"/><path d="M1777.1 142.3C1777.5 140.6 1779.6 138.0 1781.3 137.5C1782.9 136.9 1785.4 138.1 1787.2 138.8C1789.1 139.5 1791.3 140.1 1792.2 141.6C1793.2 143.1 1793.2 145.1 1793.0 147.7C1792.8 150.4 1793.1 156.2 1791.2 157.4C1789.2 158.6 1783.5 156.5 1781.4 154.9C1779.4 153.3 1779.4 150.1 1778.7 148.0C1778.0 145.9 1776.6 144.1 1777.1 142.3Z" fill="#0f5a14" opacity="0.55"/><path d="M1891.4 157.4C1890.0 154.9 1891.7 151.0 1892.9 148.9C1894.1 146.8 1896.5 147.0 1898.7 144.8C1900.9 142.6 1903.3 136.1 1906.1 135.7C1909.0 135.4 1914.7 140.2 1915.9 142.7C1917.1 145.2 1913.2 147.8 1913.1 150.9C1913.1 154.1 1917.4 159.7 1915.5 161.9C1913.5 164.1 1905.4 165.0 1901.4 164.3C1897.4 163.5 1892.8 160.0 1891.4 157.4Z" fill="#0f5a14" opacity="0.55"/><path d="M1905.5 173.1C1905.2 175.2 1898.5 176.7 1895.7 178.6C1892.8 180.4 1892.0 183.2 1888.3 184.1C1884.7 185.0 1876.8 185.4 1873.8 183.7C1870.9 182.1 1870.3 177.1 1870.7 174.3C1871.1 171.6 1873.6 168.4 1876.3 167.1C1879.0 165.8 1883.3 166.7 1886.9 166.6C1890.5 166.4 1894.7 165.1 1897.8 166.2C1900.9 167.3 1905.9 171.1 1905.5 173.1Z" fill="#0f5a14" opacity="0.55"/><path d="M1971.4 112.6C1969.8 110.3 1971.5 103.5 1973.0 100.4C1974.4 97.3 1977.7 94.9 1980.2 94.0C1982.7 93.2 1985.7 94.3 1987.9 95.3C1990.2 96.3 1992.2 97.7 1993.8 100.1C1995.5 102.5 1998.5 107.2 1997.9 109.9C1997.2 112.6 1992.5 115.7 1989.9 116.3C1987.4 117.0 1985.4 114.5 1982.3 113.9C1979.2 113.2 1972.9 114.8 1971.4 112.6Z" fill="#0f5a14" opacity="0.55"/><path d="M1981.8 87.5C1978.9 85.2 1978.4 79.3 1977.7 74.9C1977.0 70.5 1975.4 64.6 1977.5 61.3C1979.5 58.0 1985.8 55.3 1989.8 55.0C1993.8 54.7 1999.7 57.0 2001.6 59.7C2003.6 62.3 2000.2 67.1 2001.2 71.1C2002.2 75.1 2008.6 80.8 2007.6 83.7C2006.5 86.6 1999.3 87.9 1995.0 88.6C1990.7 89.2 1984.7 89.8 1981.8 87.5Z" fill="#0f5a14" opacity="0.55"/><path d="M2009.1 138.0C2011.2 141.5 2008.3 149.9 2006.3 153.9C2004.3 157.9 2000.7 159.3 1997.3 161.9C1993.8 164.5 1988.4 170.3 1985.5 169.3C1982.6 168.4 1982.0 160.4 1979.7 156.4C1977.5 152.5 1972.0 149.7 1971.9 145.7C1971.8 141.7 1975.6 134.6 1979.3 132.5C1983.0 130.4 1988.9 132.3 1993.9 133.2C1998.9 134.1 2007.1 134.6 2009.1 138.0Z" fill="#0f5a14" opacity="0.55"/><path d="M2000.5 129.5C2002.1 128.7 2007.7 131.7 2011.1 132.1C2014.6 132.5 2019.1 130.9 2021.3 132.0C2023.4 133.1 2025.1 137.2 2024.0 138.7C2022.8 140.2 2017.0 139.8 2014.3 141.2C2011.7 142.6 2009.8 147.2 2008.0 147.1C2006.2 147.0 2004.5 142.5 2003.4 140.7C2002.3 139.0 2001.8 138.6 2001.4 136.8C2000.9 134.9 1998.9 130.3 2000.5 129.5Z" fill="#0f5a14" opacity="0.55"/><path d="M1761.8 211.5C1761.6 209.3 1763.7 206.6 1765.0 203.9C1766.3 201.2 1768.4 195.1 1769.8 195.4C1771.2 195.7 1772.4 203.1 1773.4 205.7C1774.5 208.3 1775.7 208.9 1776.0 211.0C1776.3 213.2 1776.1 215.9 1775.1 218.8C1774.1 221.7 1771.7 228.7 1770.3 228.5C1768.8 228.3 1767.6 220.3 1766.1 217.5C1764.7 214.7 1762.0 213.8 1761.8 211.5Z" fill="#0f5a14" opacity="0.55"/><path d="M1799.4 226.1C1798.2 222.7 1793.7 219.5 1794.0 217.0C1794.3 214.5 1798.8 212.2 1801.2 211.3C1803.5 210.3 1805.3 210.7 1807.9 211.3C1810.5 211.9 1815.3 212.1 1816.7 214.9C1818.1 217.7 1817.8 225.4 1816.3 228.1C1814.9 230.8 1810.5 229.6 1807.9 231.1C1805.4 232.6 1802.6 238.0 1801.2 237.2C1799.7 236.3 1800.6 229.5 1799.4 226.1Z" fill="#0f5a14" opacity="0.55"/><path d="M1825.2 230.4C1823.2 231.2 1819.3 230.6 1817.8 229.2C1816.2 227.8 1816.7 224.5 1815.9 222.0C1815.1 219.6 1812.6 216.7 1813.2 214.3C1813.8 212.0 1817.0 208.7 1819.4 208.0C1821.8 207.2 1826.3 208.2 1827.6 209.9C1829.0 211.7 1827.3 216.0 1827.7 218.4C1828.1 220.8 1830.4 222.6 1830.0 224.6C1829.6 226.6 1827.2 229.7 1825.2 230.4Z" fill="#0f5a14" opacity="0.55"/><path d="M1874.4 227.2C1872.1 226.5 1870.0 223.5 1868.2 220.3C1866.4 217.1 1863.0 211.4 1863.7 208.0C1864.4 204.6 1869.3 201.6 1872.1 200.1C1875.0 198.6 1878.3 198.1 1880.9 199.2C1883.5 200.3 1885.9 203.3 1887.6 206.7C1889.3 210.1 1892.2 216.5 1891.2 219.5C1890.3 222.5 1884.7 223.5 1881.8 224.8C1879.0 226.1 1876.6 228.0 1874.4 227.2Z" fill="#0f5a14" opacity="0.55"/><path d="M1912.5 204.9C1910.1 205.4 1906.3 200.0 1903.2 197.8C1900.1 195.7 1894.0 194.1 1893.9 192.0C1893.8 189.9 1900.0 186.6 1902.5 185.2C1905.0 183.7 1906.3 184.2 1908.9 183.4C1911.5 182.7 1915.6 179.9 1918.1 180.7C1920.6 181.5 1924.1 185.9 1924.0 188.3C1924.0 190.6 1919.5 192.1 1917.5 194.9C1915.6 197.7 1914.8 204.4 1912.5 204.9Z" fill="#0f5a14" opacity="0.55"/><path d="M1935.4 208.1C1933.9 211.6 1931.7 220.9 1929.8 221.1C1927.8 221.2 1924.9 212.4 1923.7 208.9C1922.5 205.3 1922.6 202.7 1922.8 199.8C1922.9 197.0 1923.4 195.6 1924.7 192.0C1925.9 188.5 1928.2 178.7 1930.2 178.4C1932.2 178.1 1935.4 186.7 1936.8 190.3C1938.3 194.0 1939.1 197.2 1938.9 200.2C1938.6 203.2 1936.9 204.6 1935.4 208.1Z" fill="#0f5a14" opacity="0.55"/><path d="M1959.0 193.4C1957.0 194.7 1957.1 196.8 1954.9 197.5C1952.7 198.2 1947.8 198.8 1945.8 197.5C1943.9 196.3 1943.4 192.5 1943.5 189.9C1943.5 187.4 1944.1 183.8 1946.0 182.4C1947.9 180.9 1952.7 180.5 1955.1 181.1C1957.4 181.7 1957.9 184.4 1959.9 185.9C1962.0 187.4 1967.4 188.8 1967.2 190.1C1967.1 191.3 1961.1 192.2 1959.0 193.4Z" fill="#0f5a14" opacity="0.55"/><path d="M1989.7 217.4C1993.2 219.3 2001.8 220.2 2002.2 222.0C2002.6 223.8 1995.2 226.7 1992.0 228.2C1988.8 229.7 1987.0 230.1 1983.0 230.9C1979.1 231.6 1970.5 233.9 1968.4 232.5C1966.3 231.2 1969.1 225.2 1970.4 222.8C1971.6 220.5 1974.0 220.6 1975.8 218.5C1977.7 216.4 1979.4 210.3 1981.7 210.2C1984.0 210.0 1986.3 215.4 1989.7 217.4Z" fill="#0f5a14" opacity="0.55"/><path d="M1902.7 249.9C1903.9 252.4 1902.5 252.8 1903.2 255.4C1903.9 258.1 1908.6 264.8 1907.2 265.7C1905.7 266.6 1897.5 261.8 1894.5 260.7C1891.4 259.6 1890.2 260.1 1888.8 259.1C1887.4 258.1 1887.3 257.1 1886.2 254.5C1885.1 252.0 1880.4 246.0 1882.1 243.6C1883.8 241.3 1892.9 239.5 1896.3 240.5C1899.8 241.5 1901.6 247.4 1902.7 249.9Z" fill="#0f5a14" opacity="0.55"/><path d="M1887.8 256.6C1889.5 256.0 1892.4 262.5 1894.0 265.6C1895.6 268.7 1897.2 271.7 1897.5 275.3C1897.7 279.0 1897.0 284.5 1895.3 287.3C1893.6 290.1 1889.9 292.2 1887.2 292.1C1884.6 292.0 1880.8 289.5 1879.4 286.6C1878.1 283.7 1878.2 277.6 1878.9 274.7C1879.7 271.8 1882.3 272.1 1883.7 269.1C1885.2 266.1 1886.1 257.2 1887.8 256.6Z" fill="#0f5a14" opacity="0.55"/><path d="M1803.8 250.8C1805.0 252.0 1805.4 253.8 1805.7 256.0C1805.9 258.3 1807.1 262.9 1805.4 264.4C1803.8 266.0 1798.6 265.9 1795.8 265.3C1793.1 264.7 1790.7 262.7 1788.9 260.7C1787.0 258.7 1784.4 255.6 1784.7 253.4C1785.0 251.1 1788.6 247.9 1790.9 247.1C1793.2 246.4 1796.3 248.3 1798.5 248.9C1800.6 249.5 1802.6 249.6 1803.8 250.8Z" fill="#0f5a14" opacity="0.55"/><path d="M1833.6 247.0C1834.0 248.3 1827.7 250.6 1826.0 252.6C1824.2 254.6 1824.7 258.8 1823.2 259.0C1821.8 259.2 1818.9 255.1 1817.2 253.9C1815.5 252.6 1814.1 252.8 1813.1 251.5C1812.1 250.2 1810.3 247.3 1811.1 246.1C1811.9 244.9 1815.9 244.5 1818.0 244.3C1820.1 244.2 1821.0 244.5 1823.6 245.0C1826.2 245.4 1833.2 245.8 1833.6 247.0Z" fill="#0f5a14" opacity="0.55"/><path d="M1975.6 238.6C1978.7 238.0 1984.6 240.2 1986.7 243.0C1988.8 245.8 1989.0 252.3 1988.1 255.5C1987.3 258.8 1983.8 260.1 1981.5 262.7C1979.2 265.4 1976.3 272.1 1974.4 271.6C1972.6 271.2 1972.2 262.6 1970.3 259.8C1968.4 256.9 1963.5 256.8 1963.0 254.5C1962.6 252.2 1965.5 248.9 1967.6 246.2C1969.7 243.5 1972.4 239.1 1975.6 238.6Z" fill="#0f5a14" opacity="0.55"/><path d="M2002.7 243.4C2000.0 243.6 1996.3 243.9 1994.2 241.8C1992.0 239.6 1989.4 233.3 1990.0 230.3C1990.6 227.3 1995.7 226.6 1997.8 223.8C1999.8 221.0 1999.9 214.8 2002.3 213.5C2004.7 212.3 2010.8 213.6 2012.2 216.4C2013.5 219.1 2010.6 225.8 2010.3 229.8C2010.0 233.8 2011.7 238.1 2010.4 240.4C2009.2 242.6 2005.4 243.1 2002.7 243.4Z" fill="#0f5a14" opacity="0.55"/><path d="M1930.7 70.2C1932.4 72.2 1936.7 73.1 1936.8 74.8C1936.9 76.6 1932.5 78.8 1931.1 80.9C1929.7 82.9 1929.4 86.5 1928.2 87.0C1926.9 87.4 1924.8 85.1 1923.7 83.5C1922.6 81.8 1922.1 79.7 1921.7 77.1C1921.3 74.6 1920.4 70.6 1921.3 68.3C1922.1 65.9 1925.1 62.6 1926.7 62.9C1928.2 63.2 1929.0 68.2 1930.7 70.2Z" fill="#0f5a14" opacity="0.55"/><path d="M1777.5 175.3C1778.6 177.1 1776.7 182.9 1775.5 185.8C1774.3 188.7 1772.4 191.8 1770.4 192.7C1768.4 193.6 1764.7 192.9 1763.6 191.1C1762.4 189.2 1763.8 184.3 1763.5 181.9C1763.3 179.4 1761.9 177.8 1762.3 176.2C1762.7 174.7 1764.6 172.7 1765.8 172.4C1766.9 172.1 1767.4 174.2 1769.4 174.7C1771.3 175.2 1776.5 173.4 1777.5 175.3Z" fill="#0f5a14" opacity="0.55"/><path d="M1776.2 231.7C1779.1 230.8 1782.2 228.3 1784.7 228.6C1787.3 229.0 1790.6 231.8 1791.8 233.8C1792.9 235.8 1793.2 239.1 1791.8 240.6C1790.4 242.1 1786.1 241.9 1783.4 242.7C1780.8 243.6 1778.1 245.7 1775.7 245.4C1773.4 245.2 1770.6 242.8 1769.1 241.0C1767.7 239.1 1766.0 235.7 1767.2 234.2C1768.4 232.6 1773.3 232.7 1776.2 231.7Z" fill="#0f5a14" opacity="0.55"/><path d="M2007.0 268.4C2006.7 272.4 2010.2 278.2 2008.8 280.8C2007.4 283.4 2001.7 284.7 1998.7 284.1C1995.6 283.5 1992.0 280.2 1990.4 277.2C1988.8 274.2 1988.9 270.0 1989.0 266.2C1989.2 262.3 1989.2 255.4 1991.1 254.2C1993.1 252.9 1997.4 258.3 2000.7 258.7C2004.0 259.2 2009.7 255.1 2010.7 256.7C2011.7 258.3 2007.3 264.3 2007.0 268.4Z" fill="#0f5a14" opacity="0.55"/><path d="M1829.5 86.8C1830.9 88.2 1832.4 88.3 1833.0 89.9C1833.5 91.5 1833.7 94.8 1833.1 96.4C1832.5 97.9 1830.5 98.6 1829.1 99.3C1827.7 100.0 1825.6 101.3 1824.7 100.5C1823.7 99.7 1823.7 96.3 1823.4 94.4C1823.1 92.6 1822.7 91.5 1823.0 89.4C1823.2 87.2 1823.8 82.0 1824.9 81.6C1826.0 81.2 1828.2 85.4 1829.5 86.8Z" fill="#0f5a14" opacity="0.55"/><path d="M1923.8 119.8C1922.9 119.0 1922.6 118.2 1922.0 117.0C1921.4 115.9 1920.1 114.0 1920.4 113.0C1920.6 112.0 1922.3 111.7 1923.4 110.8C1924.5 109.9 1925.8 107.5 1926.8 107.7C1927.8 107.8 1929.3 110.4 1929.6 111.9C1929.8 113.3 1928.5 114.7 1928.2 116.4C1927.9 118.0 1928.3 121.3 1927.6 121.8C1926.9 122.4 1924.8 120.6 1923.8 119.8Z" fill="#0f5a14" opacity="0.55"/><path d="M1949.2 128.7C1949.2 126.9 1948.5 126.8 1948.6 125.1C1948.8 123.3 1948.9 119.0 1950.1 118.2C1951.3 117.4 1954.7 118.8 1955.9 120.1C1957.1 121.4 1956.5 123.8 1957.2 125.8C1957.9 127.8 1960.4 130.9 1959.9 132.1C1959.3 133.3 1955.7 132.4 1953.9 133.0C1952.1 133.5 1949.7 136.1 1948.9 135.4C1948.1 134.6 1949.3 130.4 1949.2 128.7Z" fill="#0f5a14" opacity="0.55"/><path d="M1918.6 56.2C1919.8 57.2 1921.8 58.7 1921.8 59.9C1921.8 61.2 1920.0 62.6 1918.9 63.9C1917.7 65.2 1916.2 67.9 1915.1 67.7C1913.9 67.5 1913.8 64.2 1912.2 62.9C1910.6 61.6 1905.9 61.4 1905.5 60.1C1905.1 58.7 1908.5 56.0 1910.1 55.0C1911.6 53.9 1913.5 53.8 1915.0 54.0C1916.4 54.2 1917.5 55.2 1918.6 56.2Z" fill="#0f5a14" opacity="0.55"/><path d="M1910.2 43.5C1911.0 45.0 1911.2 48.4 1910.8 50.5C1910.4 52.5 1908.9 55.3 1907.7 55.8C1906.5 56.2 1904.9 54.1 1903.7 53.3C1902.5 52.5 1901.0 52.3 1900.5 51.0C1900.0 49.6 1900.4 47.1 1900.8 45.4C1901.2 43.7 1901.9 41.4 1902.8 40.8C1903.7 40.2 1905.0 41.2 1906.3 41.6C1907.5 42.1 1909.5 42.0 1910.2 43.5Z" fill="#0f5a14" opacity="0.55"/><path d="M1939.2 59.6C1937.2 59.4 1933.6 60.8 1932.5 59.9C1931.4 59.0 1932.2 55.7 1932.8 54.1C1933.3 52.5 1934.4 51.1 1935.8 50.1C1937.2 49.1 1939.3 48.1 1941.1 48.2C1942.9 48.3 1946.0 49.5 1946.6 50.7C1947.2 51.9 1945.0 53.9 1944.7 55.6C1944.5 57.3 1946.0 60.2 1945.0 60.8C1944.1 61.5 1941.3 59.8 1939.2 59.6Z" fill="#0f5a14" opacity="0.55"/><path d="M2020.5 114.5C2019.9 115.5 2016.1 115.4 2014.6 115.8C2013.0 116.3 2012.4 117.3 2011.2 117.2C2010.0 117.2 2007.8 116.4 2007.2 115.5C2006.7 114.5 2007.5 112.7 2007.9 111.4C2008.3 110.0 2008.4 108.2 2009.4 107.5C2010.4 106.7 2012.6 106.6 2014.0 106.9C2015.5 107.2 2017.1 108.1 2018.2 109.3C2019.2 110.6 2021.1 113.4 2020.5 114.5Z" fill="#0f5a14" opacity="0.55"/><path d="M1865.9 77.4C1866.6 78.9 1867.2 82.3 1866.5 83.4C1865.7 84.6 1863.0 83.6 1861.4 84.4C1859.8 85.2 1858.2 88.5 1856.9 88.2C1855.6 88.0 1854.4 84.9 1853.7 82.8C1852.9 80.8 1851.5 77.2 1852.4 75.9C1853.2 74.7 1856.9 75.7 1858.5 75.4C1860.2 75.2 1860.9 74.2 1862.1 74.5C1863.3 74.9 1865.1 75.9 1865.9 77.4Z" fill="#0f5a14" opacity="0.55"/><path d="M1977.8 184.9C1976.5 183.4 1974.8 183.9 1974.0 182.0C1973.1 180.1 1971.8 175.3 1972.6 173.7C1973.4 172.1 1976.9 172.4 1978.7 172.4C1980.4 172.3 1981.5 172.4 1983.0 173.3C1984.4 174.2 1986.9 175.9 1987.1 177.6C1987.4 179.4 1985.2 181.4 1984.4 183.7C1983.5 186.0 1983.1 191.2 1982.0 191.4C1980.9 191.6 1979.2 186.5 1977.8 184.9Z" fill="#0f5a14" opacity="0.55"/><path d="M1961.8 288.6C1960.1 288.1 1956.1 287.4 1955.4 286.0C1954.8 284.5 1956.2 281.0 1957.7 279.9C1959.2 278.7 1961.9 279.5 1964.2 279.2C1966.5 278.8 1970.6 276.8 1971.5 277.7C1972.5 278.6 1970.2 282.7 1970.0 284.5C1969.7 286.3 1971.0 287.9 1970.2 288.7C1969.5 289.4 1966.9 288.9 1965.5 288.9C1964.1 288.9 1963.5 289.1 1961.8 288.6Z" fill="#0f5a14" opacity="0.55"/><path d="M1840.7 272.7C1839.9 270.1 1837.1 267.6 1837.3 265.7C1837.6 263.9 1840.8 262.1 1842.4 261.6C1844.0 261.2 1845.1 262.5 1846.9 263.0C1848.7 263.5 1852.9 263.0 1853.5 264.7C1854.0 266.3 1851.3 271.1 1850.2 272.9C1849.1 274.7 1848.1 274.2 1846.7 275.6C1845.3 277.0 1842.9 281.9 1841.9 281.4C1840.9 280.9 1841.5 275.3 1840.7 272.7Z" fill="#0f5a14" opacity="0.55"/><path d="M2001.2 201.4C2001.7 198.9 2000.0 195.6 2000.9 193.9C2001.8 192.2 2004.8 190.9 2006.5 191.4C2008.2 191.8 2010.2 194.4 2011.1 196.6C2012.1 198.8 2012.5 201.6 2012.3 204.5C2012.2 207.4 2011.8 213.1 2010.4 213.9C2009.0 214.6 2006.2 209.8 2004.1 209.0C2002.0 208.3 1998.5 210.6 1998.0 209.3C1997.5 208.0 2000.7 204.0 2001.2 201.4Z" fill="#0f5a14" opacity="0.55"/><path d="M1784.4 274.0C1785.6 272.8 1789.4 271.6 1791.2 272.1C1792.9 272.5 1794.1 275.4 1794.9 276.8C1795.6 278.2 1795.8 279.5 1795.5 280.6C1795.2 281.7 1794.3 282.2 1793.2 283.4C1792.0 284.6 1790.2 287.9 1788.9 287.8C1787.5 287.8 1785.8 284.7 1785.0 283.3C1784.2 281.9 1784.2 280.9 1784.1 279.4C1784.0 277.8 1783.2 275.2 1784.4 274.0Z" fill="#0f5a14" opacity="0.55"/><path d="M1972.5 242.5C1972.1 245.8 1969.6 256.2 1970.0 262.5C1970.4 268.8 1974.2 277.1 1975.0 280.0" fill="none" stroke="#1f9a22" stroke-width="3.6" stroke-linecap="round" stroke-linejoin="round" opacity="0.5"/><path d="M1990.0 237.5C1991.7 240.4 1997.5 247.9 2000.0 255.0C2002.5 262.1 2004.2 275.8 2005.0 280.0" fill="none" stroke="#1f9a22" stroke-width="3.6" stroke-linecap="round" stroke-linejoin="round" opacity="0.5"/><path d="M1900.0 190.0C1903.3 191.2 1913.3 195.0 1920.0 197.5C1926.7 200.0 1933.3 205.8 1940.0 205.0C1946.7 204.2 1956.7 194.6 1960.0 192.5" fill="none" stroke="#1f9a22" stroke-width="3.6" stroke-linecap="round" stroke-linejoin="round" opacity="0.5"/><path d="M1775.0 112.5C1775.4 116.2 1775.8 127.9 1777.5 135.0C1779.2 142.1 1783.8 151.7 1785.0 155.0" fill="none" stroke="#1f9a22" stroke-width="3.6" stroke-linecap="round" stroke-linejoin="round" opacity="0.5"/><path d="M1880.0 255.0C1881.7 257.5 1886.7 265.4 1890.0 270.0C1893.3 274.6 1898.3 280.4 1900.0 282.5" fill="none" stroke="#1f9a22" stroke-width="3.6" stroke-linecap="round" stroke-linejoin="round" opacity="0.5"/><path d="M1900.0 67.5C1902.5 69.6 1908.3 76.7 1915.0 80.0C1921.7 83.3 1935.8 86.2 1940.0 87.5" fill="none" stroke="#1f9a22" stroke-width="3.6" stroke-linecap="round" stroke-linejoin="round" opacity="0.5"/><path d="M1977.5 205.0C1978.8 207.5 1984.6 215.0 1985.0 220.0C1985.4 225.0 1980.8 232.5 1980.0 235.0" fill="none" stroke="#1f9a22" stroke-width="3.6" stroke-linecap="round" stroke-linejoin="round" opacity="0.5"/><path d="M1785.0 215.0C1788.3 215.8 1798.3 218.8 1805.0 220.0C1811.7 221.2 1821.7 222.1 1825.0 222.5" fill="none" stroke="#1f9a22" stroke-width="3.6" stroke-linecap="round" stroke-linejoin="round" opacity="0.5"/><path d="M1815.0 105.0C1817.5 103.3 1825.0 97.1 1830.0 95.0C1835.0 92.9 1842.5 92.9 1845.0 92.5" fill="none" stroke="#1f9a22" stroke-width="3.6" stroke-linecap="round" stroke-linejoin="round" opacity="0.5"/><path d="M1900.0 180.0C1902.5 178.3 1910.0 173.3 1915.0 170.0C1920.0 166.7 1927.5 161.7 1930.0 160.0" fill="none" stroke="#1f9a22" stroke-width="3.6" stroke-linecap="round" stroke-linejoin="round" opacity="0.5"/><path d="M1845.0 160.0C1847.5 161.7 1855.0 166.7 1860.0 170.0C1865.0 173.3 1872.5 178.3 1875.0 180.0" fill="none" stroke="#1f9a22" stroke-width="3.6" stroke-linecap="round" stroke-linejoin="round" opacity="0.5"/><path d="M1955.0 80.0C1956.7 82.5 1961.2 90.8 1965.0 95.0C1968.8 99.2 1975.4 103.3 1977.5 105.0" fill="none" stroke="#1f9a22" stroke-width="3.6" stroke-linecap="round" stroke-linejoin="round" opacity="0.5"/><path d="M1915.0 255.0C1918.3 256.7 1928.3 261.7 1935.0 265.0C1941.7 268.3 1951.7 273.3 1955.0 275.0" fill="none" stroke="#1f9a22" stroke-width="3.6" stroke-linecap="round" stroke-linejoin="round" opacity="0.5"/><path d="M1797.5 240.0C1800.4 242.5 1810.4 250.0 1815.0 255.0C1819.6 260.0 1823.3 267.5 1825.0 270.0" fill="none" stroke="#1f9a22" stroke-width="3.6" stroke-linecap="round" stroke-linejoin="round" opacity="0.5"/><path d="M2000.0 170.0C2001.7 173.3 2007.9 183.3 2010.0 190.0C2012.1 196.7 2012.1 206.7 2012.5 210.0" fill="none" stroke="#1f9a22" stroke-width="3.6" stroke-linecap="round" stroke-linejoin="round" opacity="0.5"/><path d="M1935.0 137.5C1937.5 139.2 1945.0 143.8 1950.0 147.5C1955.0 151.2 1962.5 157.9 1965.0 160.0" fill="none" stroke="#1f9a22" stroke-width="3.6" stroke-linecap="round" stroke-linejoin="round" opacity="0.5"/></g>
<g filter="url(#b1)"><path d="M1875.5 95.3C1874.1 95.4 1871.8 93.5 1870.4 92.7C1869.0 91.9 1868.3 91.5 1867.0 90.4C1865.8 89.3 1862.5 87.3 1862.8 86.1C1863.1 84.9 1866.8 83.9 1868.9 83.2C1871.0 82.5 1873.1 81.9 1875.4 81.9C1877.7 82.0 1881.5 82.5 1882.7 83.6C1883.9 84.7 1883.5 87.3 1882.9 88.7C1882.3 90.1 1880.4 90.7 1879.1 91.8C1877.9 92.8 1877.0 95.1 1875.5 95.3Z" fill="#1a8a1e" opacity="0.8"/><ellipse cx="1875.1" cy="82.3" rx="2.6" ry="1.9" fill="#4ee84e" transform="rotate(150 1875.1 82.3)" opacity="0.90" /><ellipse cx="1869.3" cy="93.6" rx="2.6" ry="1.9" fill="#4ee84e" transform="rotate(44 1869.3 93.6)" opacity="0.90" /><ellipse cx="1874.0" cy="89.9" rx="4.3" ry="2.9" fill="#000" transform="rotate(94 1874.0 89.9)" opacity="0.85" /><path d="M1777.5 99.7C1779.3 99.9 1781.8 100.8 1782.8 101.8C1783.7 102.8 1783.6 104.5 1783.3 105.7C1782.9 107.0 1782.2 108.7 1780.9 109.2C1779.5 109.7 1777.0 108.8 1775.3 108.8C1773.5 108.8 1771.7 109.5 1770.3 109.0C1768.8 108.6 1767.4 107.4 1766.6 106.2C1765.8 105.0 1764.5 102.7 1765.5 101.8C1766.4 100.8 1770.3 101.1 1772.3 100.8C1774.3 100.5 1775.8 99.6 1777.5 99.7Z" fill="#1a8a1e" opacity="0.8"/><ellipse cx="1770.6" cy="102.2" rx="2.1" ry="1.5" fill="#4ee84e" transform="rotate(27 1770.6 102.2)" opacity="0.90" /><ellipse cx="1771.4" cy="108.8" rx="2.1" ry="1.5" fill="#4ee84e" transform="rotate(73 1771.4 108.8)" opacity="0.90" /><ellipse cx="1775.1" cy="105.9" rx="4.0" ry="2.7" fill="#000" transform="rotate(55 1775.1 105.9)" opacity="0.85" /><path d="M1856.7 133.9C1854.9 134.3 1852.2 130.1 1850.2 129.2C1848.3 128.3 1846.0 129.6 1845.3 128.4C1844.5 127.3 1846.0 124.8 1845.7 122.5C1845.5 120.2 1842.9 116.6 1843.6 114.8C1844.2 112.9 1847.5 112.1 1849.7 111.5C1851.9 110.9 1854.9 110.0 1856.8 111.2C1858.6 112.3 1859.9 115.8 1860.7 118.4C1861.5 121.1 1862.1 124.4 1861.5 127.0C1860.8 129.5 1858.6 133.5 1856.7 133.9Z" fill="#1a8a1e" opacity="0.8"/><ellipse cx="1844.3" cy="120.8" rx="2.9" ry="2.1" fill="#4ee84e" transform="rotate(113 1844.3 120.8)" opacity="0.90" /><ellipse cx="1851.2" cy="115.4" rx="2.9" ry="2.1" fill="#4ee84e" transform="rotate(88 1851.2 115.4)" opacity="0.90" /><ellipse cx="1850.1" cy="123.2" rx="4.7" ry="3.3" fill="#000" transform="rotate(9 1850.1 123.2)" opacity="0.85" /><path d="M1834.6 121.4C1836.0 122.4 1837.1 122.8 1838.1 124.5C1839.2 126.2 1841.2 129.5 1840.9 131.4C1840.6 133.4 1837.9 135.1 1836.4 136.1C1835.0 137.1 1833.9 137.1 1832.2 137.4C1830.6 137.6 1828.0 139.0 1826.7 137.9C1825.4 136.7 1824.6 132.9 1824.4 130.3C1824.1 127.7 1824.3 124.1 1825.2 122.1C1826.2 120.1 1828.6 118.4 1830.2 118.3C1831.8 118.2 1833.3 120.3 1834.6 121.4Z" fill="#1a8a1e" opacity="0.8"/><ellipse cx="1827.1" cy="132.1" rx="2.5" ry="1.9" fill="#4ee84e" transform="rotate(177 1827.1 132.1)" opacity="0.90" /><ellipse cx="1838.7" cy="127.2" rx="2.5" ry="1.9" fill="#4ee84e" transform="rotate(163 1838.7 127.2)" opacity="0.90" /><ellipse cx="1833.1" cy="128.9" rx="4.2" ry="2.9" fill="#000" transform="rotate(76 1833.1 128.9)" opacity="0.85" /><path d="M1872.0 150.8C1873.0 152.1 1875.3 154.1 1875.0 155.6C1874.7 157.1 1871.9 159.2 1869.9 159.7C1868.0 160.2 1865.4 159.1 1863.2 158.8C1860.9 158.4 1857.8 158.6 1856.5 157.5C1855.1 156.4 1854.7 153.9 1854.9 152.2C1855.1 150.5 1856.2 148.8 1857.6 147.4C1859.0 145.9 1861.6 143.4 1863.4 143.5C1865.2 143.6 1867.2 146.9 1868.6 148.2C1870.0 149.4 1870.9 149.6 1872.0 150.8Z" fill="#1a8a1e" opacity="0.8"/><ellipse cx="1859.9" cy="157.5" rx="2.9" ry="2.1" fill="#4ee84e" transform="rotate(36 1859.9 157.5)" opacity="0.90" /><ellipse cx="1864.9" cy="145.4" rx="2.9" ry="2.1" fill="#4ee84e" transform="rotate(102 1864.9 145.4)" opacity="0.90" /><ellipse cx="1864.3" cy="152.9" rx="4.7" ry="3.0" fill="#000" transform="rotate(115 1864.3 152.9)" opacity="0.85" /><path d="M1843.6 144.8C1843.4 145.8 1842.3 146.2 1841.6 147.5C1841.0 148.7 1840.8 151.9 1839.6 152.3C1838.3 152.7 1835.4 150.7 1834.3 149.7C1833.2 148.8 1833.5 147.6 1832.9 146.5C1832.2 145.4 1830.4 144.3 1830.5 143.3C1830.7 142.3 1832.4 141.2 1833.7 140.4C1835.1 139.6 1837.1 138.3 1838.6 138.5C1840.1 138.6 1841.9 140.3 1842.7 141.3C1843.5 142.4 1843.8 143.8 1843.6 144.8Z" fill="#1a8a1e" opacity="0.8"/><ellipse cx="1839.3" cy="140.1" rx="2.1" ry="1.5" fill="#4ee84e" transform="rotate(70 1839.3 140.1)" opacity="0.90" /><ellipse cx="1842.6" cy="143.7" rx="2.1" ry="1.5" fill="#4ee84e" transform="rotate(87 1842.6 143.7)" opacity="0.90" /><ellipse cx="1836.7" cy="143.9" rx="4.0" ry="3.1" fill="#000" transform="rotate(170 1836.7 143.9)" opacity="0.85" /><path d="M1779.1 146.4C1778.8 144.6 1776.9 142.7 1777.3 141.3C1777.8 139.9 1780.1 139.0 1781.9 138.0C1783.6 137.0 1786.4 134.9 1787.9 135.5C1789.4 136.0 1789.5 139.6 1790.7 141.3C1791.9 143.1 1795.3 144.7 1795.1 146.1C1795.0 147.5 1791.2 148.2 1789.6 149.8C1788.1 151.3 1787.3 155.2 1785.7 155.6C1784.0 156.0 1780.8 153.5 1779.7 152.0C1778.6 150.5 1779.5 148.1 1779.1 146.4Z" fill="#1a8a1e" opacity="0.8"/><ellipse cx="1791.1" cy="146.7" rx="2.5" ry="1.9" fill="#4ee84e" transform="rotate(20 1791.1 146.7)" opacity="0.90" /><ellipse cx="1784.0" cy="151.3" rx="2.5" ry="1.9" fill="#4ee84e" transform="rotate(92 1784.0 151.3)" opacity="0.90" /><ellipse cx="1785.2" cy="145.3" rx="4.2" ry="3.2" fill="#000" transform="rotate(46 1785.2 145.3)" opacity="0.85" /><path d="M1906.5 154.8C1904.2 155.5 1902.3 158.5 1900.8 158.3C1899.3 158.0 1898.9 154.9 1897.4 153.4C1896.0 151.8 1892.0 150.6 1891.9 149.1C1891.8 147.6 1894.9 145.8 1896.8 144.4C1898.6 143.1 1900.7 141.1 1902.9 140.9C1905.1 140.7 1907.9 142.1 1910.0 143.2C1912.1 144.3 1914.7 145.8 1915.5 147.7C1916.4 149.5 1916.5 153.0 1915.0 154.2C1913.5 155.4 1908.9 154.1 1906.5 154.8Z" fill="#1a8a1e" opacity="0.8"/><ellipse cx="1898.1" cy="145.7" rx="2.9" ry="2.1" fill="#4ee84e" transform="rotate(151 1898.1 145.7)" opacity="0.90" /><ellipse cx="1909.5" cy="154.3" rx="2.9" ry="2.1" fill="#4ee84e" transform="rotate(7 1909.5 154.3)" opacity="0.90" /><ellipse cx="1902.9" cy="149.0" rx="4.7" ry="3.6" fill="#000" transform="rotate(52 1902.9 149.0)" opacity="0.85" /><path d="M1886.9 166.7C1889.4 166.5 1892.4 166.4 1894.9 167.2C1897.4 168.1 1901.2 169.9 1901.8 171.5C1902.4 173.2 1900.1 176.0 1898.4 177.4C1896.7 178.7 1894.0 178.8 1891.5 179.8C1888.9 180.7 1885.2 183.5 1883.2 183.1C1881.2 182.7 1881.1 179.0 1879.4 177.2C1877.7 175.5 1873.1 174.1 1873.2 172.6C1873.2 171.2 1877.6 169.5 1879.9 168.5C1882.2 167.5 1884.4 166.9 1886.9 166.7Z" fill="#1a8a1e" opacity="0.8"/><ellipse cx="1883.3" cy="179.5" rx="2.9" ry="2.1" fill="#4ee84e" transform="rotate(53 1883.3 179.5)" opacity="0.90" /><ellipse cx="1887.9" cy="166.6" rx="2.9" ry="2.1" fill="#4ee84e" transform="rotate(136 1887.9 166.6)" opacity="0.90" /><ellipse cx="1886.7" cy="173.3" rx="4.7" ry="3.2" fill="#000" transform="rotate(10 1886.7 173.3)" opacity="0.85" /><path d="M1989.1 95.4C1991.3 96.3 1995.0 97.4 1995.8 99.5C1996.6 101.5 1994.7 105.4 1993.8 107.8C1992.9 110.2 1992.1 112.9 1990.5 114.0C1988.9 115.2 1986.2 114.8 1984.2 114.5C1982.1 114.3 1979.9 114.0 1978.1 112.6C1976.3 111.2 1973.9 108.6 1973.5 106.0C1973.0 103.4 1973.8 99.1 1975.3 97.1C1976.8 95.2 1980.2 94.4 1982.5 94.1C1984.8 93.8 1986.9 94.5 1989.1 95.4Z" fill="#1a8a1e" opacity="0.8"/><ellipse cx="1978.2" cy="108.2" rx="3.0" ry="2.2" fill="#4ee84e" transform="rotate(16 1978.2 108.2)" opacity="0.90" /><ellipse cx="1977.8" cy="107.0" rx="3.0" ry="2.2" fill="#4ee84e" opacity="0.90" /><ellipse cx="1984.7" cy="104.7" rx="5.0" ry="3.0" fill="#000" transform="rotate(8 1984.7 104.7)" opacity="0.85" /><path d="M1996.1 63.4C1998.2 63.5 2001.3 65.0 2002.7 66.9C2004.2 68.9 2005.8 73.0 2005.0 75.2C2004.3 77.4 2000.4 78.6 1998.2 80.0C1996.1 81.5 1994.5 83.5 1992.1 83.9C1989.7 84.3 1985.6 84.1 1983.7 82.5C1981.8 80.9 1980.2 76.5 1980.7 74.2C1981.1 71.9 1984.7 69.9 1986.4 68.6C1988.0 67.2 1988.9 67.0 1990.5 66.1C1992.1 65.3 1994.1 63.3 1996.1 63.4Z" fill="#1a8a1e" opacity="0.8"/><ellipse cx="1984.7" cy="71.5" rx="3.1" ry="2.3" fill="#4ee84e" transform="rotate(53 1984.7 71.5)" opacity="0.90" /><ellipse cx="1984.8" cy="71.0" rx="3.1" ry="2.3" fill="#4ee84e" transform="rotate(50 1984.8 71.0)" opacity="0.90" /><ellipse cx="1993.3" cy="73.2" rx="5.0" ry="3.3" fill="#000" transform="rotate(72 1993.3 73.2)" opacity="0.85" /><path d="M2003.5 155.8C2001.8 157.9 1997.0 156.6 1994.2 158.3C1991.4 159.9 1989.0 165.7 1986.5 165.7C1983.9 165.8 1980.1 161.3 1978.9 158.6C1977.7 155.8 1978.8 152.1 1979.4 149.5C1980.0 146.9 1981.1 145.7 1982.6 143.0C1984.0 140.4 1985.6 134.4 1988.0 133.7C1990.4 133.1 1994.3 137.0 1997.0 138.9C1999.8 140.9 2003.3 142.7 2004.4 145.5C2005.5 148.3 2005.2 153.6 2003.5 155.8Z" fill="#1a8a1e" opacity="0.8"/><ellipse cx="1999.5" cy="147.7" rx="3.9" ry="2.9" fill="#4ee84e" transform="rotate(8 1999.5 147.7)" opacity="0.90" /><ellipse cx="1988.1" cy="140.4" rx="3.9" ry="2.9" fill="#4ee84e" transform="rotate(161 1988.1 140.4)" opacity="0.90" /><ellipse cx="1988.9" cy="149.4" rx="5.0" ry="3.6" fill="#000" transform="rotate(107 1988.9 149.4)" opacity="0.85" /><path d="M2019.2 139.9C2018.0 140.9 2015.1 140.4 2013.1 141.3C2011.2 142.1 2008.8 145.2 2007.5 145.0C2006.3 144.7 2006.8 141.1 2005.4 139.8C2004.1 138.5 1999.7 138.4 1999.2 137.3C1998.7 136.1 2000.6 133.9 2002.2 133.0C2003.8 132.0 2006.6 131.7 2008.7 131.6C2010.8 131.5 2013.0 131.8 2014.9 132.4C2016.9 133.0 2019.5 134.1 2020.2 135.4C2020.9 136.6 2020.4 138.9 2019.2 139.9Z" fill="#1a8a1e" opacity="0.8"/><ellipse cx="2006.3" cy="133.3" rx="2.2" ry="1.6" fill="#4ee84e" transform="rotate(35 2006.3 133.3)" opacity="0.90" /><ellipse cx="2013.4" cy="142.0" rx="2.2" ry="1.6" fill="#4ee84e" transform="rotate(3 2013.4 142.0)" opacity="0.90" /><ellipse cx="2009.6" cy="137.7" rx="4.0" ry="2.8" fill="#000" transform="rotate(106 2009.6 137.7)" opacity="0.85" /><path d="M1774.4 221.5C1773.1 222.9 1770.5 223.3 1769.2 222.4C1767.9 221.5 1767.8 218.0 1766.6 216.3C1765.4 214.5 1762.4 214.0 1762.0 212.0C1761.5 210.0 1762.7 205.6 1763.9 204.2C1765.0 202.8 1767.4 203.5 1768.8 203.6C1770.2 203.6 1770.9 203.8 1772.2 204.3C1773.6 204.9 1775.9 205.1 1776.7 206.8C1777.5 208.5 1777.2 212.0 1776.9 214.4C1776.5 216.9 1775.7 220.2 1774.4 221.5Z" fill="#1a8a1e" opacity="0.8"/><ellipse cx="1764.8" cy="207.5" rx="2.5" ry="1.9" fill="#4ee84e" transform="rotate(52 1764.8 207.5)" opacity="0.90" /><ellipse cx="1773.4" cy="205.8" rx="2.5" ry="1.9" fill="#4ee84e" transform="rotate(68 1773.4 205.8)" opacity="0.90" /><ellipse cx="1770.4" cy="210.3" rx="4.2" ry="3.0" fill="#000" transform="rotate(32 1770.4 210.3)" opacity="0.85" /><path d="M1799.5 226.4C1798.8 223.9 1797.2 222.4 1797.2 220.0C1797.2 217.7 1798.1 213.5 1799.4 212.3C1800.8 211.2 1803.5 212.8 1805.4 213.1C1807.2 213.5 1808.8 213.1 1810.5 214.4C1812.1 215.7 1815.3 218.7 1815.2 220.8C1815.0 222.8 1811.0 225.1 1809.6 226.6C1808.2 228.2 1808.1 228.7 1806.7 230.0C1805.3 231.4 1802.4 235.3 1801.2 234.7C1800.0 234.1 1800.2 228.8 1799.5 226.4Z" fill="#1a8a1e" opacity="0.8"/><ellipse cx="1811.4" cy="225.5" rx="2.9" ry="2.1" fill="#4ee84e" transform="rotate(95 1811.4 225.5)" opacity="0.90" /><ellipse cx="1800.3" cy="217.1" rx="2.9" ry="2.1" fill="#4ee84e" transform="rotate(9 1800.3 217.1)" opacity="0.90" /><ellipse cx="1804.9" cy="221.4" rx="4.7" ry="3.7" fill="#000" transform="rotate(67 1804.9 221.4)" opacity="0.85" /><path d="M1817.5 225.3C1816.9 224.5 1818.4 221.9 1818.3 220.3C1818.2 218.7 1816.7 217.0 1817.1 215.7C1817.5 214.4 1819.6 212.6 1820.8 212.6C1822.0 212.5 1823.5 214.7 1824.4 215.6C1825.4 216.6 1825.4 216.9 1826.4 218.1C1827.4 219.2 1830.6 221.3 1830.5 222.5C1830.3 223.6 1827.0 224.6 1825.6 225.1C1824.2 225.5 1823.4 225.2 1822.0 225.2C1820.6 225.2 1818.1 226.1 1817.5 225.3Z" fill="#1a8a1e" opacity="0.8"/><ellipse cx="1825.6" cy="215.8" rx="2.1" ry="1.5" fill="#4ee84e" transform="rotate(171 1825.6 215.8)" opacity="0.90" /><ellipse cx="1823.2" cy="214.8" rx="2.1" ry="1.5" fill="#4ee84e" transform="rotate(160 1823.2 214.8)" opacity="0.90" /><ellipse cx="1823.3" cy="219.6" rx="4.0" ry="2.7" fill="#000" transform="rotate(179 1823.3 219.6)" opacity="0.85" /><path d="M1876.9 202.6C1878.5 202.5 1880.6 204.4 1881.8 205.9C1883.0 207.4 1884.0 209.6 1884.2 211.5C1884.4 213.4 1883.6 215.8 1882.8 217.2C1882.0 218.6 1880.8 219.1 1879.6 220.0C1878.4 220.9 1876.9 222.8 1875.6 222.6C1874.3 222.4 1872.5 220.4 1871.9 218.8C1871.3 217.2 1872.0 215.0 1872.0 213.0C1872.0 210.9 1871.3 208.0 1872.1 206.3C1873.0 204.6 1875.3 202.7 1876.9 202.6Z" fill="#1a8a1e" opacity="0.8"/><ellipse cx="1873.3" cy="219.5" rx="2.9" ry="2.1" fill="#4ee84e" transform="rotate(13 1873.3 219.5)" opacity="0.90" /><ellipse cx="1878.8" cy="206.8" rx="2.9" ry="2.1" fill="#4ee84e" transform="rotate(170 1878.8 206.8)" opacity="0.90" /><ellipse cx="1878.1" cy="212.7" rx="4.7" ry="3.0" fill="#000" transform="rotate(4 1878.1 212.7)" opacity="0.85" /><path d="M1920.9 185.3C1922.1 186.7 1920.7 189.9 1920.1 192.1C1919.5 194.3 1919.1 197.1 1917.3 198.6C1915.5 200.0 1911.3 201.3 1909.3 200.6C1907.2 199.9 1906.9 195.9 1905.2 194.4C1903.6 192.8 1900.1 192.6 1899.4 191.0C1898.7 189.5 1899.8 186.5 1901.0 184.9C1902.3 183.2 1904.9 181.4 1907.0 181.1C1909.0 180.9 1910.9 182.8 1913.2 183.5C1915.6 184.2 1919.8 183.8 1920.9 185.3Z" fill="#1a8a1e" opacity="0.8"/><ellipse cx="1903.5" cy="188.2" rx="2.7" ry="2.0" fill="#4ee84e" transform="rotate(150 1903.5 188.2)" opacity="0.90" /><ellipse cx="1904.0" cy="193.0" rx="2.7" ry="2.0" fill="#4ee84e" transform="rotate(13 1904.0 193.0)" opacity="0.90" /><ellipse cx="1910.6" cy="191.0" rx="4.5" ry="3.2" fill="#000" transform="rotate(29 1910.6 191.0)" opacity="0.85" /><path d="M1936.8 189.2C1938.5 191.5 1940.1 194.7 1940.6 197.9C1941.0 201.2 1940.9 206.8 1939.4 208.7C1938.0 210.5 1934.1 208.6 1932.0 209.1C1929.9 209.6 1928.2 212.3 1926.7 211.6C1925.3 211.0 1924.1 207.6 1923.2 205.2C1922.3 202.8 1921.1 199.8 1921.4 197.3C1921.6 194.7 1923.1 192.1 1924.6 189.8C1926.1 187.6 1928.4 184.0 1930.4 183.8C1932.5 183.7 1935.1 186.8 1936.8 189.2Z" fill="#1a8a1e" opacity="0.8"/><ellipse cx="1937.7" cy="201.8" rx="3.1" ry="2.3" fill="#4ee84e" transform="rotate(167 1937.7 201.8)" opacity="0.90" /><ellipse cx="1931.7" cy="192.3" rx="3.1" ry="2.3" fill="#4ee84e" transform="rotate(163 1931.7 192.3)" opacity="0.90" /><ellipse cx="1930.8" cy="200.8" rx="5.0" ry="3.6" fill="#000" transform="rotate(163 1930.8 200.8)" opacity="0.85" /><path d="M1953.1 184.7C1954.8 184.1 1957.5 182.3 1958.7 182.8C1960.0 183.3 1960.0 186.3 1960.5 187.7C1960.9 189.1 1961.7 190.1 1961.6 191.3C1961.4 192.5 1960.8 194.0 1959.6 195.2C1958.4 196.3 1955.8 198.6 1954.4 198.3C1953.1 197.9 1952.5 194.4 1951.5 193.1C1950.5 191.8 1949.0 191.7 1948.5 190.6C1948.0 189.5 1947.8 187.4 1948.6 186.5C1949.3 185.5 1951.4 185.3 1953.1 184.7Z" fill="#1a8a1e" opacity="0.8"/><ellipse cx="1949.4" cy="190.7" rx="2.2" ry="1.6" fill="#4ee84e" transform="rotate(156 1949.4 190.7)" opacity="0.90" /><ellipse cx="1960.6" cy="189.7" rx="2.2" ry="1.6" fill="#4ee84e" transform="rotate(107 1960.6 189.7)" opacity="0.90" /><ellipse cx="1955.7" cy="189.1" rx="4.0" ry="2.5" fill="#000" transform="rotate(99 1955.7 189.1)" opacity="0.85" /><path d="M1970.9 221.8C1970.1 220.1 1969.2 216.1 1970.9 215.0C1972.7 213.8 1978.6 214.6 1981.5 215.0C1984.4 215.4 1985.3 216.5 1988.1 217.3C1990.9 218.1 1997.0 218.2 1998.3 219.7C1999.7 221.3 1997.6 224.6 1996.1 226.6C1994.5 228.7 1991.8 231.6 1989.2 231.8C1986.5 232.1 1982.5 229.0 1980.3 227.9C1978.0 226.9 1977.3 226.6 1975.8 225.6C1974.2 224.5 1971.7 223.6 1970.9 221.8Z" fill="#1a8a1e" opacity="0.8"/><ellipse cx="1985.8" cy="229.6" rx="3.1" ry="2.3" fill="#4ee84e" transform="rotate(9 1985.8 229.6)" opacity="0.90" /><ellipse cx="1981.9" cy="214.6" rx="3.1" ry="2.3" fill="#4ee84e" transform="rotate(6 1981.9 214.6)" opacity="0.90" /><ellipse cx="1982.5" cy="223.0" rx="5.0" ry="3.6" fill="#000" transform="rotate(160 1982.5 223.0)" opacity="0.85" /><path d="M1901.8 247.7C1903.5 248.4 1904.4 251.4 1904.6 253.1C1904.7 254.8 1903.7 256.4 1902.8 257.9C1901.9 259.4 1901.1 261.1 1899.2 262.1C1897.4 263.1 1894.2 264.0 1891.8 263.7C1889.4 263.5 1886.3 262.0 1884.7 260.4C1883.1 258.8 1881.6 255.9 1882.0 254.0C1882.5 252.1 1885.5 250.0 1887.5 249.1C1889.6 248.3 1892.0 249.2 1894.4 248.9C1896.8 248.7 1900.1 247.0 1901.8 247.7Z" fill="#1a8a1e" opacity="0.8"/><ellipse cx="1891.9" cy="261.4" rx="2.9" ry="2.1" fill="#4ee84e" transform="rotate(159 1891.9 261.4)" opacity="0.90" /><ellipse cx="1888.0" cy="256.1" rx="2.9" ry="2.1" fill="#4ee84e" opacity="0.90" /><ellipse cx="1895.2" cy="254.4" rx="4.7" ry="3.4" fill="#000" transform="rotate(169 1895.2 254.4)" opacity="0.85" /><path d="M1889.7 263.2C1891.1 263.3 1893.1 266.5 1893.7 268.7C1894.3 270.8 1893.2 273.2 1893.2 275.9C1893.2 278.5 1894.5 282.8 1893.6 284.5C1892.7 286.1 1889.6 286.1 1888.0 285.7C1886.4 285.3 1885.5 283.3 1884.2 282.0C1882.8 280.7 1880.1 279.7 1879.8 277.9C1879.6 276.2 1881.8 273.2 1882.7 271.5C1883.6 269.8 1884.1 269.0 1885.3 267.6C1886.5 266.2 1888.3 263.0 1889.7 263.2Z" fill="#1a8a1e" opacity="0.8"/><ellipse cx="1892.8" cy="271.4" rx="2.5" ry="1.9" fill="#4ee84e" transform="rotate(14 1892.8 271.4)" opacity="0.90" /><ellipse cx="1893.2" cy="277.9" rx="2.5" ry="1.9" fill="#4ee84e" transform="rotate(83 1893.2 277.9)" opacity="0.90" /><ellipse cx="1887.3" cy="275.2" rx="4.2" ry="3.1" fill="#000" transform="rotate(56 1887.3 275.2)" opacity="0.85" /><path d="M1801.3 248.0C1803.4 249.0 1806.9 249.7 1807.3 251.1C1807.8 252.6 1805.1 255.1 1804.2 256.7C1803.2 258.3 1803.1 259.2 1801.8 260.6C1800.4 262.0 1798.1 265.0 1796.3 265.0C1794.5 265.0 1792.3 262.0 1791.2 260.4C1790.1 258.8 1789.9 257.2 1789.6 255.5C1789.4 253.7 1788.7 251.6 1789.6 249.9C1790.4 248.2 1792.8 245.4 1794.7 245.1C1796.7 244.8 1799.2 247.0 1801.3 248.0Z" fill="#1a8a1e" opacity="0.8"/><ellipse cx="1791.2" cy="254.3" rx="2.5" ry="1.9" fill="#4ee84e" transform="rotate(42 1791.2 254.3)" opacity="0.90" /><ellipse cx="1799.3" cy="261.1" rx="2.5" ry="1.9" fill="#4ee84e" transform="rotate(39 1799.3 261.1)" opacity="0.90" /><ellipse cx="1798.4" cy="255.7" rx="4.2" ry="2.7" fill="#000" transform="rotate(95 1798.4 255.7)" opacity="0.85" /><path d="M1815.4 254.5C1813.8 253.5 1810.9 252.7 1810.5 251.5C1810.1 250.2 1811.9 248.2 1813.0 247.0C1814.1 245.8 1815.5 244.9 1817.2 244.3C1818.8 243.7 1821.5 243.0 1822.8 243.6C1824.1 244.1 1824.0 246.4 1825.0 247.6C1826.1 248.9 1828.9 249.8 1829.0 251.1C1829.2 252.3 1827.4 254.2 1825.9 255.2C1824.4 256.2 1821.9 257.3 1820.2 257.2C1818.5 257.0 1817.0 255.4 1815.4 254.5Z" fill="#1a8a1e" opacity="0.8"/><ellipse cx="1815.0" cy="251.6" rx="2.1" ry="1.5" fill="#4ee84e" transform="rotate(138 1815.0 251.6)" opacity="0.90" /><ellipse cx="1815.0" cy="251.6" rx="2.1" ry="1.5" fill="#4ee84e" transform="rotate(25 1815.0 251.6)" opacity="0.90" /><ellipse cx="1819.9" cy="250.3" rx="4.0" ry="3.1" fill="#000" transform="rotate(107 1819.9 250.3)" opacity="0.85" /><path d="M1981.9 248.1C1982.8 249.7 1982.1 252.8 1981.8 254.7C1981.5 256.6 1981.1 258.3 1980.2 259.4C1979.3 260.5 1977.9 260.3 1976.2 261.2C1974.6 262.2 1972.1 265.2 1970.3 264.9C1968.5 264.6 1965.9 261.4 1965.5 259.3C1965.0 257.2 1966.6 254.2 1967.5 252.4C1968.5 250.6 1969.8 249.7 1971.3 248.5C1972.7 247.4 1974.4 245.3 1976.2 245.2C1978.0 245.2 1981.0 246.5 1981.9 248.1Z" fill="#1a8a1e" opacity="0.8"/><ellipse cx="1977.4" cy="261.7" rx="2.9" ry="2.1" fill="#4ee84e" transform="rotate(134 1977.4 261.7)" opacity="0.90" /><ellipse cx="1980.5" cy="259.5" rx="2.9" ry="2.1" fill="#4ee84e" transform="rotate(59 1980.5 259.5)" opacity="0.90" /><ellipse cx="1974.6" cy="255.5" rx="4.7" ry="3.1" fill="#000" transform="rotate(84 1974.6 255.5)" opacity="0.85" /><path d="M2001.0 219.4C2002.7 219.4 2004.5 221.0 2005.7 222.3C2006.9 223.6 2007.2 225.1 2008.2 227.1C2009.2 229.1 2011.9 232.2 2011.7 234.3C2011.5 236.5 2008.7 238.9 2007.0 240.1C2005.2 241.4 2002.9 242.4 2001.1 241.9C1999.3 241.5 1997.1 239.4 1996.1 237.5C1995.2 235.5 1995.4 232.7 1995.3 230.1C1995.2 227.6 1994.5 224.0 1995.4 222.2C1996.4 220.4 1999.3 219.4 2001.0 219.4Z" fill="#1a8a1e" opacity="0.8"/><ellipse cx="2000.0" cy="236.7" rx="2.9" ry="2.1" fill="#4ee84e" transform="rotate(45 2000.0 236.7)" opacity="0.90" /><ellipse cx="1996.9" cy="234.5" rx="2.9" ry="2.1" fill="#4ee84e" transform="rotate(121 1996.9 234.5)" opacity="0.90" /><ellipse cx="2001.6" cy="230.5" rx="4.7" ry="2.9" fill="#000" transform="rotate(22 2001.6 230.5)" opacity="0.85" /><path d="M1923.4 68.7C1924.1 67.7 1926.3 69.1 1927.5 69.4C1928.7 69.7 1929.9 69.6 1930.6 70.5C1931.3 71.5 1931.5 73.5 1931.7 75.1C1931.9 76.7 1932.1 78.4 1931.8 80.1C1931.4 81.7 1930.6 83.8 1929.5 84.8C1928.4 85.9 1926.2 87.3 1925.1 86.5C1924.1 85.7 1923.5 82.0 1923.3 80.1C1923.0 78.2 1923.6 77.1 1923.6 75.2C1923.6 73.3 1922.8 69.7 1923.4 68.7Z" fill="#1a8a1e" opacity="0.8"/><ellipse cx="1926.0" cy="71.2" rx="2.1" ry="1.5" fill="#4ee84e" transform="rotate(104 1926.0 71.2)" opacity="0.90" /><ellipse cx="1930.8" cy="80.3" rx="2.1" ry="1.5" fill="#4ee84e" transform="rotate(90 1930.8 80.3)" opacity="0.90" /><ellipse cx="1928.5" cy="76.0" rx="4.0" ry="2.7" fill="#000" transform="rotate(132 1928.5 76.0)" opacity="0.85" /><path d="M1763.7 173.5C1764.6 172.6 1766.1 172.9 1767.5 172.8C1768.8 172.7 1770.9 171.8 1771.7 172.8C1772.4 173.8 1772.0 177.1 1771.9 178.8C1771.9 180.6 1772.1 182.2 1771.6 183.3C1771.1 184.4 1769.8 185.0 1768.9 185.5C1768.0 185.9 1767.2 186.2 1766.0 186.1C1764.7 186.0 1762.2 186.2 1761.5 185.0C1760.9 183.8 1761.7 180.6 1762.1 178.7C1762.4 176.8 1762.8 174.5 1763.7 173.5Z" fill="#1a8a1e" opacity="0.8"/><ellipse cx="1767.0" cy="174.8" rx="2.1" ry="1.5" fill="#4ee84e" transform="rotate(48 1767.0 174.8)" opacity="0.90" /><ellipse cx="1764.9" cy="175.5" rx="2.1" ry="1.5" fill="#4ee84e" transform="rotate(92 1764.9 175.5)" opacity="0.90" /><ellipse cx="1767.5" cy="179.0" rx="4.0" ry="2.6" fill="#000" transform="rotate(176 1767.5 179.0)" opacity="0.85" /><path d="M1769.7 236.9C1769.5 235.7 1771.8 233.6 1773.4 233.0C1775.1 232.4 1777.5 233.2 1779.4 233.1C1781.3 233.0 1783.7 232.1 1784.8 232.7C1785.9 233.2 1785.5 235.1 1786.0 236.3C1786.6 237.6 1788.4 239.1 1787.8 240.0C1787.3 240.9 1784.8 241.1 1783.0 241.9C1781.2 242.7 1778.8 245.0 1777.3 244.7C1775.8 244.5 1775.5 241.7 1774.2 240.4C1773.0 239.1 1769.8 238.2 1769.7 236.9Z" fill="#1a8a1e" opacity="0.8"/><ellipse cx="1781.3" cy="232.4" rx="2.1" ry="1.5" fill="#4ee84e" transform="rotate(177 1781.3 232.4)" opacity="0.90" /><ellipse cx="1776.3" cy="241.3" rx="2.1" ry="1.5" fill="#4ee84e" transform="rotate(150 1776.3 241.3)" opacity="0.90" /><ellipse cx="1778.8" cy="237.0" rx="4.0" ry="2.4" fill="#000" transform="rotate(130 1778.8 237.0)" opacity="0.85" /><path d="M2003.3 260.0C2005.0 260.9 2007.5 261.5 2008.5 263.4C2009.5 265.3 2010.3 269.5 2009.5 271.4C2008.7 273.4 2005.5 274.0 2003.8 275.1C2002.0 276.2 2000.5 278.0 1998.7 278.0C1997.0 278.0 1994.4 276.5 1993.3 274.8C1992.1 273.1 1991.3 269.7 1991.7 267.7C1992.0 265.8 1994.2 264.6 1995.3 262.9C1996.5 261.2 1997.1 258.1 1998.4 257.6C1999.7 257.1 2001.7 259.0 2003.3 260.0Z" fill="#1a8a1e" opacity="0.8"/><ellipse cx="2001.9" cy="274.4" rx="2.9" ry="2.1" fill="#4ee84e" transform="rotate(36 2001.9 274.4)" opacity="0.90" /><ellipse cx="2000.8" cy="274.6" rx="2.9" ry="2.1" fill="#4ee84e" transform="rotate(114 2000.8 274.6)" opacity="0.90" /><ellipse cx="1999.0" cy="267.5" rx="4.7" ry="3.1" fill="#000" transform="rotate(15 1999.0 267.5)" opacity="0.85" /><path d="M1825.3 85.9C1826.0 85.1 1827.8 85.8 1828.7 86.3C1829.7 86.9 1830.4 88.0 1831.0 89.1C1831.6 90.3 1832.7 92.1 1832.5 93.2C1832.2 94.2 1830.3 94.1 1829.5 95.4C1828.8 96.7 1828.7 100.5 1828.0 100.8C1827.2 101.1 1825.6 98.5 1825.1 97.3C1824.5 96.1 1824.6 94.7 1824.6 93.6C1824.5 92.4 1824.6 91.9 1824.7 90.6C1824.8 89.3 1824.7 86.6 1825.3 85.9Z" fill="#1a8a1e" opacity="0.8"/><ellipse cx="1823.4" cy="92.5" rx="1.6" ry="1.2" fill="#4ee84e" transform="rotate(80 1823.4 92.5)" opacity="0.90" /><ellipse cx="1829.2" cy="96.3" rx="1.6" ry="1.2" fill="#4ee84e" transform="rotate(162 1829.2 96.3)" opacity="0.90" /><path d="M1924.2 119.8C1923.2 119.4 1921.8 119.6 1921.3 118.7C1920.8 117.9 1920.8 115.8 1921.0 114.7C1921.3 113.6 1922.2 113.4 1922.7 112.2C1923.3 110.9 1923.4 107.9 1924.3 107.2C1925.2 106.6 1927.6 107.2 1928.3 108.3C1929.0 109.3 1928.3 112.0 1928.5 113.6C1928.8 115.1 1929.9 116.4 1929.6 117.6C1929.4 118.8 1928.1 120.3 1927.2 120.7C1926.3 121.1 1925.2 120.1 1924.2 119.8Z" fill="#1a8a1e" opacity="0.8"/><ellipse cx="1925.0" cy="119.1" rx="1.6" ry="1.2" fill="#4ee84e" transform="rotate(137 1925.0 119.1)" opacity="0.90" /><ellipse cx="1927.5" cy="111.7" rx="1.6" ry="1.2" fill="#4ee84e" transform="rotate(102 1927.5 111.7)" opacity="0.90" /><path d="M1950.0 133.4C1949.3 133.1 1949.1 130.8 1948.6 129.5C1948.1 128.2 1946.8 126.6 1947.2 125.7C1947.5 124.8 1949.7 124.8 1950.7 124.3C1951.6 123.8 1952.2 122.8 1952.9 122.8C1953.7 122.8 1954.5 123.6 1955.3 124.3C1956.1 125.0 1957.5 125.9 1957.7 127.1C1958.0 128.2 1957.7 130.6 1957.0 131.3C1956.2 132.0 1954.4 130.9 1953.3 131.2C1952.1 131.6 1950.8 133.7 1950.0 133.4Z" fill="#1a8a1e" opacity="0.8"/><ellipse cx="1949.3" cy="129.5" rx="1.5" ry="1.1" fill="#4ee84e" transform="rotate(44 1949.3 129.5)" opacity="0.90" /><ellipse cx="1953.7" cy="123.9" rx="1.5" ry="1.1" fill="#4ee84e" transform="rotate(33 1953.7 123.9)" opacity="0.90" /><path d="M1914.1 64.2C1912.9 64.0 1910.9 64.7 1910.0 64.0C1909.1 63.2 1908.7 61.2 1908.7 59.7C1908.7 58.3 1909.3 56.5 1910.2 55.5C1911.1 54.4 1912.9 53.4 1914.1 53.4C1915.4 53.4 1917.0 54.6 1917.7 55.5C1918.5 56.4 1918.2 57.6 1918.8 58.8C1919.3 59.9 1921.2 61.5 1920.9 62.5C1920.7 63.6 1918.7 64.8 1917.6 65.0C1916.4 65.3 1915.4 64.3 1914.1 64.2Z" fill="#1a8a1e" opacity="0.8"/><ellipse cx="1915.9" cy="56.0" rx="1.6" ry="1.2" fill="#4ee84e" transform="rotate(30 1915.9 56.0)" opacity="0.90" /><ellipse cx="1917.6" cy="63.2" rx="1.6" ry="1.2" fill="#4ee84e" transform="rotate(42 1917.6 63.2)" opacity="0.90" /><path d="M1906.8 43.9C1907.4 44.7 1908.5 45.4 1908.5 46.3C1908.6 47.2 1907.6 48.4 1907.1 49.2C1906.7 50.0 1906.5 50.1 1905.9 50.9C1905.3 51.7 1904.3 54.0 1903.7 53.9C1903.1 53.8 1902.7 51.2 1902.4 50.1C1902.1 48.9 1902.0 48.2 1901.9 46.9C1901.8 45.6 1901.4 43.2 1901.9 42.3C1902.4 41.4 1904.0 41.1 1904.8 41.4C1905.7 41.7 1906.2 43.1 1906.8 43.9Z" fill="#1a8a1e" opacity="0.8"/><ellipse cx="1906.9" cy="50.3" rx="1.3" ry="1.0" fill="#4ee84e" transform="rotate(139 1906.9 50.3)" opacity="0.90" /><ellipse cx="1905.0" cy="44.1" rx="1.3" ry="1.0" fill="#4ee84e" transform="rotate(115 1905.0 44.1)" opacity="0.90" /><path d="M1936.2 55.4C1936.2 54.4 1936.0 53.9 1936.3 52.9C1936.6 51.8 1937.0 49.8 1938.1 49.3C1939.1 48.8 1941.2 49.4 1942.5 50.0C1943.8 50.5 1945.5 51.5 1945.9 52.5C1946.3 53.5 1945.4 55.0 1944.9 56.0C1944.5 57.1 1944.2 58.4 1943.3 58.9C1942.4 59.4 1940.9 59.1 1939.7 59.1C1938.5 59.1 1936.5 59.4 1935.9 58.7C1935.3 58.1 1936.1 56.3 1936.2 55.4Z" fill="#1a8a1e" opacity="0.8"/><ellipse cx="1936.3" cy="54.2" rx="1.5" ry="1.1" fill="#4ee84e" transform="rotate(91 1936.3 54.2)" opacity="0.90" /><ellipse cx="1942.3" cy="52.1" rx="1.5" ry="1.1" fill="#4ee84e" transform="rotate(140 1942.3 52.1)" opacity="0.90" /><path d="M2009.3 108.2C2010.3 107.9 2011.8 109.1 2012.8 109.3C2013.8 109.6 2014.7 109.3 2015.3 109.8C2015.8 110.3 2015.9 111.3 2016.0 112.2C2016.2 113.0 2016.4 114.1 2016.0 114.8C2015.7 115.6 2014.8 116.3 2013.8 116.8C2012.7 117.3 2010.7 118.3 2010.0 117.7C2009.3 117.2 2010.1 114.9 2009.6 113.8C2009.1 112.7 2006.8 112.0 2006.8 111.1C2006.7 110.1 2008.3 108.5 2009.3 108.2Z" fill="#1a8a1e" opacity="0.8"/><ellipse cx="2014.6" cy="115.6" rx="1.5" ry="1.1" fill="#4ee84e" transform="rotate(68 2014.6 115.6)" opacity="0.90" /><ellipse cx="2016.2" cy="112.2" rx="1.5" ry="1.1" fill="#4ee84e" transform="rotate(147 2016.2 112.2)" opacity="0.90" /><path d="M1860.4 75.7C1861.4 76.0 1862.1 75.9 1863.0 76.6C1864.0 77.2 1866.1 78.4 1866.2 79.5C1866.4 80.7 1864.9 82.5 1864.1 83.6C1863.3 84.7 1862.2 86.2 1861.3 86.2C1860.3 86.2 1859.2 84.4 1858.5 83.6C1857.8 82.8 1857.8 82.4 1857.1 81.5C1856.5 80.6 1854.6 79.2 1854.6 78.1C1854.6 77.0 1856.2 75.3 1857.1 74.9C1858.1 74.5 1859.4 75.4 1860.4 75.7Z" fill="#1a8a1e" opacity="0.8"/><ellipse cx="1859.6" cy="84.1" rx="1.6" ry="1.2" fill="#4ee84e" transform="rotate(121 1859.6 84.1)" opacity="0.90" /><ellipse cx="1864.1" cy="80.5" rx="1.6" ry="1.2" fill="#4ee84e" transform="rotate(62 1864.1 80.5)" opacity="0.90" /><path d="M1976.3 185.8C1975.8 184.9 1976.4 182.2 1976.4 180.8C1976.5 179.4 1976.4 178.6 1976.7 177.3C1977.0 175.9 1977.3 172.9 1978.1 172.4C1978.9 172.0 1980.6 173.7 1981.5 174.4C1982.5 175.2 1983.7 175.8 1984.0 176.9C1984.4 178.0 1984.1 179.9 1983.8 181.0C1983.5 182.1 1982.8 182.8 1982.2 183.7C1981.6 184.7 1980.9 186.1 1979.9 186.5C1979.0 186.8 1976.9 186.8 1976.3 185.8Z" fill="#1a8a1e" opacity="0.8"/><ellipse cx="1976.2" cy="177.6" rx="1.8" ry="1.3" fill="#4ee84e" transform="rotate(59 1976.2 177.6)" opacity="0.90" /><ellipse cx="1975.6" cy="179.0" rx="1.8" ry="1.3" fill="#4ee84e" transform="rotate(164 1975.6 179.0)" opacity="0.90" /><path d="M1960.7 289.5C1960.1 288.6 1961.4 286.9 1961.1 285.6C1960.8 284.4 1958.7 283.0 1959.0 282.0C1959.3 280.9 1961.5 279.5 1962.7 279.5C1963.9 279.4 1965.1 281.2 1966.3 281.7C1967.6 282.1 1969.5 281.5 1970.4 282.2C1971.3 282.9 1971.9 284.9 1971.6 286.0C1971.4 287.1 1969.8 288.1 1968.7 288.9C1967.6 289.7 1966.4 290.9 1965.0 291.0C1963.7 291.2 1961.4 290.4 1960.7 289.5Z" fill="#1a8a1e" opacity="0.8"/><ellipse cx="1967.2" cy="289.0" rx="1.8" ry="1.3" fill="#4ee84e" transform="rotate(62 1967.2 289.0)" opacity="0.90" /><ellipse cx="1960.7" cy="286.2" rx="1.8" ry="1.3" fill="#4ee84e" transform="rotate(15 1960.7 286.2)" opacity="0.90" /><path d="M1846.4 265.1C1847.6 266.0 1849.5 264.9 1850.3 266.1C1851.0 267.2 1851.3 270.2 1851.0 271.9C1850.6 273.6 1849.4 275.0 1848.3 276.2C1847.3 277.5 1845.9 279.3 1844.7 279.3C1843.5 279.3 1841.9 277.6 1841.0 276.3C1840.1 274.9 1839.7 272.8 1839.5 271.0C1839.4 269.2 1839.5 267.2 1840.1 265.5C1840.7 263.8 1841.9 260.9 1843.0 260.8C1844.0 260.7 1845.2 264.2 1846.4 265.1Z" fill="#1a8a1e" opacity="0.8"/><ellipse cx="1848.5" cy="266.6" rx="1.9" ry="1.4" fill="#4ee84e" transform="rotate(86 1848.5 266.6)" opacity="0.90" /><ellipse cx="1841.3" cy="266.8" rx="1.9" ry="1.4" fill="#4ee84e" transform="rotate(83 1841.3 266.8)" opacity="0.90" /><ellipse cx="1844.4" cy="269.4" rx="4.0" ry="2.9" fill="#000" transform="rotate(135 1844.4 269.4)" opacity="0.85" /><path d="M2006.0 209.6C2005.2 209.7 2004.4 207.6 2003.2 207.0C2002.1 206.4 1999.1 206.9 1998.8 205.9C1998.6 204.9 2001.1 202.3 2001.8 200.9C2002.5 199.5 2002.2 198.6 2002.9 197.5C2003.6 196.4 2004.9 194.3 2005.9 194.3C2006.9 194.3 2008.5 196.3 2008.9 197.7C2009.4 199.0 2008.7 201.0 2008.5 202.4C2008.4 203.8 2008.4 204.8 2008.0 206.0C2007.6 207.2 2006.7 209.4 2006.0 209.6Z" fill="#1a8a1e" opacity="0.8"/><ellipse cx="2002.6" cy="206.7" rx="1.9" ry="1.4" fill="#4ee84e" transform="rotate(38 2002.6 206.7)" opacity="0.90" /><ellipse cx="2006.6" cy="197.9" rx="1.9" ry="1.4" fill="#4ee84e" transform="rotate(98 2006.6 197.9)" opacity="0.90" /><ellipse cx="2006.0" cy="203.5" rx="4.0" ry="3.0" fill="#000" transform="rotate(147 2006.0 203.5)" opacity="0.85" /><path d="M1784.8 278.8C1785.2 277.9 1786.2 276.9 1787.1 276.5C1788.1 276.1 1789.1 276.3 1790.4 276.2C1791.8 276.1 1794.0 275.2 1795.1 275.8C1796.1 276.4 1796.4 278.2 1796.6 279.6C1796.8 280.9 1796.9 282.6 1796.1 283.6C1795.3 284.7 1793.2 285.7 1791.8 285.8C1790.4 285.9 1788.7 285.0 1787.5 284.4C1786.4 283.7 1785.3 282.9 1784.9 282.0C1784.4 281.1 1784.4 279.7 1784.8 278.8Z" fill="#1a8a1e" opacity="0.8"/><ellipse cx="1789.0" cy="284.0" rx="1.6" ry="1.2" fill="#4ee84e" transform="rotate(123 1789.0 284.0)" opacity="0.90" /><ellipse cx="1791.9" cy="276.3" rx="1.6" ry="1.2" fill="#4ee84e" transform="rotate(159 1791.9 276.3)" opacity="0.90" /></g>
<ellipse cx="1802.2" cy="58.0" rx="3.0" ry="1.5" fill="#6adf3a" transform="rotate(30 1802.2 58.0)" opacity="0.90" /></g>
<g id="vR"><circle cx="1801.2" cy="57.0" r="5" fill="#5a0a0a" stroke="#e02020" stroke-width="1.6" filter="url(#b1)"/>
<ellipse cx="1847.5" cy="78.8" rx="11.0" ry="9.0" fill="#8a1414" opacity="0.40" filter="url(#b2)"/>
<path d="M1805.0 175.0C1807.5 171.7 1819.2 168.3 1825.0 170.0C1830.8 171.7 1836.7 179.2 1840.0 185.0C1843.3 190.8 1842.1 200.0 1845.0 205.0C1847.9 210.0 1856.2 211.2 1857.5 215.0C1858.8 218.8 1856.2 225.0 1852.5 227.5C1848.8 230.0 1840.0 233.8 1835.0 230.0C1830.0 226.2 1826.7 211.7 1822.5 205.0C1818.3 198.3 1812.9 195.0 1810.0 190.0C1807.1 185.0 1802.5 178.3 1805.0 175.0Z" fill="#6a0f0f" opacity="0.45" filter="url(#b3)"/>
<g filter="url(#b1)"><path d="M1763.8 260.0C1765.2 261.7 1769.8 268.8 1772.5 270.0C1775.2 271.2 1779.2 265.8 1780.0 267.5C1780.8 269.2 1779.6 276.2 1777.5 280.0C1775.4 283.8 1769.2 288.3 1767.5 290.0" fill="none" stroke="#c01414" stroke-width="1.1" stroke-linecap="round" stroke-linejoin="round" opacity="0.8"/><path d="M1807.5 282.5 L1822.5 287.5" fill="none" stroke="#c01414" stroke-width="1.1" stroke-linecap="round" stroke-linejoin="round" opacity="0.8"/><path d="M1920.0 290.0C1923.3 288.3 1934.2 281.2 1940.0 280.0C1945.8 278.8 1952.5 282.1 1955.0 282.5" fill="none" stroke="#901010" stroke-width="1.1" stroke-linecap="round" stroke-linejoin="round" opacity="0.7"/></g>
<circle cx="1770.0" cy="81.2" r="1.1" fill="#ff2a2a"/>
<circle cx="1986.2" cy="61.2" r="1.1" fill="#ff2a2a"/>
<circle cx="1982.5" cy="52.5" r="1.1" fill="#ff2a2a"/>
<circle cx="1961.2" cy="111.2" r="1.1" fill="#ff2a2a"/>
<circle cx="1940.0" cy="83.8" r="1.1" fill="#ff2a2a"/>
<circle cx="1801.2" cy="71.2" r="1.1" fill="#ff2a2a"/>
<circle cx="1820.0" cy="142.5" r="1.1" fill="#ff2a2a"/>
<circle cx="1912.5" cy="113.8" r="1.1" fill="#ff2a2a"/></g>
<clipPath id="kc"><rect x="1476.2" y="45.4" width="254" height="254.2"/></clipPath>
<clipPath id="kv"><rect x="1761.6" y="44.6" width="254.6" height="253.2"/></clipPath>
<clipPath id="kc1"><rect x="1476" y="308" width="81.1" height="80"/></clipPath>
<clipPath id="kc2"><rect x="1562.6" y="308" width="80.8" height="80"/></clipPath>
<clipPath id="kc3"><rect x="1648.9" y="308" width="80.8" height="80"/></clipPath>
<clipPath id="kv1"><rect x="1761.7" y="308" width="80.3" height="80"/></clipPath>
<clipPath id="kv2"><rect x="1848.3" y="307.4" width="79.7" height="81.4"/></clipPath>
<clipPath id="kv3"><rect x="1934.9" y="308" width="81.3" height="80"/></clipPath>
</defs>
<g clip-path="url(#kc)" style="isolation:isolate"><rect x="1476.2" y="45.4" width="254" height="254.2" fill="#000"/><use href="#cB" style="mix-blend-mode:screen"/><use href="#cG" style="mix-blend-mode:screen"/><use href="#cR" style="mix-blend-mode:screen"/></g>
<g clip-path="url(#kv)" style="isolation:isolate"><rect x="1761.6" y="44.6" width="254.6" height="253.2" fill="#000"/><use href="#vB" style="mix-blend-mode:screen"/><use href="#vG" style="mix-blend-mode:screen"/><use href="#vR" style="mix-blend-mode:screen"/></g>
<g clip-path="url(#kc1)" style="isolation:isolate"><rect x="1476" y="308" width="81.1" height="80" fill="#000"/><g transform="translate(1476 308) scale(1.48624) translate(-1565 -52)"><use href="#cB" style="mix-blend-mode:screen"/><use href="#cG" style="mix-blend-mode:screen"/><use href="#cR" style="mix-blend-mode:screen"/></g></g>
<g clip-path="url(#kc2)" style="isolation:isolate"><rect x="1562.6" y="308" width="80.8" height="80" fill="#000"/><g transform="translate(1562.6 308) scale(1.48624) translate(-1565 -52)"><use href="#cG" style="mix-blend-mode:screen"/></g></g>
<g clip-path="url(#kc3)" style="isolation:isolate"><rect x="1648.9" y="308" width="80.8" height="80" fill="#000"/><g transform="translate(1648.9 308) scale(1.48624) translate(-1565 -52)"><use href="#cR" style="mix-blend-mode:screen"/></g></g>
<g clip-path="url(#kv1)" style="isolation:isolate"><rect x="1761.7" y="308" width="80.3" height="80" fill="#000"/><g transform="translate(1761.7 308) scale(1.48624) translate(-1822.5 -107.5)"><use href="#vB" style="mix-blend-mode:screen"/><use href="#vG" style="mix-blend-mode:screen"/><use href="#vR" style="mix-blend-mode:screen"/></g></g>
<g clip-path="url(#kv2)" style="isolation:isolate"><rect x="1848.3" y="307.4" width="79.7" height="81.4" fill="#000"/><g transform="translate(1848.3 307.4) scale(1.48624) translate(-1822.5 -107.5)"><use href="#vG" style="mix-blend-mode:screen"/></g></g>
<g clip-path="url(#kv3)" style="isolation:isolate"><rect x="1934.9" y="308" width="81.3" height="80" fill="#000"/><g transform="translate(1934.9 308) scale(1.48624) translate(-1822.5 -107.5)"><use href="#vR" style="mix-blend-mode:screen"/></g></g><rect x="1934.9" y="308" width="82" height="80" fill="#3a0808" opacity="0.35"/>
<rect x="1565" y="52" width="54.5" height="55" fill="none" stroke="#fff" stroke-width="2.3" stroke-dasharray="5.9 3.4"/>
<rect x="1822.5" y="107.5" width="55.7" height="55.7" fill="none" stroke="#fff" stroke-width="2.3" stroke-dasharray="5.9 3.4"/>
<rect x="1976.2" y="283.8" width="25" height="4.2" fill="#fff" />
<text font-size="28.63" text-anchor="middle" textLength="96" lengthAdjust="spacingAndGlyphs" x="1597.5" y="33.9">Control</text>
<text font-size="28.63" text-anchor="middle" textLength="132" lengthAdjust="spacingAndGlyphs" x="1895.4" y="33.9">COVID-19</text>
<text font-size="30.3" textLength="61" lengthAdjust="spacingAndGlyphs" fill="#0072bc" transform="translate(1465.8 292.5) rotate(-90)">DAPI</text>
<text font-size="30.3" textLength="89" lengthAdjust="spacingAndGlyphs" fill="#00a651" transform="translate(1465.8 209.5) rotate(-90)">CD169</text>
<text font-size="30.3" textLength="52.5" lengthAdjust="spacingAndGlyphs" fill="#ed1c24" transform="translate(1465.8 99.5) rotate(-90)">AXL</text>
<g transform="translate(1403.5 24.1) scale(1.1 1)"><text font-size="34" font-weight="bold" x="0" y="0" stroke="#000" stroke-width="0.7">d</text></g>
</g>
<g id="panel_e">
<rect x="182.8" y="572.6" width="15.525" height="19.105" fill="#e69f00" />
<rect x="229.375" y="572.6" width="15.525" height="19.105" fill="#e69f00" />
<rect x="275.95" y="572.6" width="15.525" height="19.105" fill="#999999" />
<rect x="291.475" y="572.6" width="15.525" height="19.105" fill="#e69f00" />
<rect x="322.525" y="572.6" width="15.525" height="19.105" fill="#999999" />
<rect x="369.1" y="572.6" width="15.525" height="19.105" fill="#999999" />
<rect x="384.625" y="572.6" width="15.525" height="19.105" fill="#999999" />
<rect x="446.725" y="572.6" width="15.525" height="19.105" fill="#999999" />
<rect x="462.25" y="572.6" width="15.525" height="19.105" fill="#999999" />
<rect x="198.325" y="591.705" width="15.525" height="19.105" fill="#999999" />
<rect x="213.85" y="591.705" width="15.525" height="19.105" fill="#999999" />
<rect x="229.375" y="591.705" width="15.525" height="19.105" fill="#999999" />
<rect x="260.425" y="591.705" width="15.525" height="19.105" fill="#999999" />
<rect x="307" y="591.705" width="15.525" height="19.105" fill="#999999" />
<rect x="369.1" y="591.705" width="15.525" height="19.105" fill="#999999" />
<rect x="431.2" y="591.705" width="15.525" height="19.105" fill="#999999" />
<rect x="446.725" y="591.705" width="15.525" height="19.105" fill="#e69f00" />
<rect x="182.8" y="610.81" width="15.525" height="19.105" fill="#999999" />
<rect x="213.85" y="610.81" width="15.525" height="19.105" fill="#e69f00" />
<rect x="260.425" y="610.81" width="15.525" height="19.105" fill="#e69f00" />
<rect x="307" y="610.81" width="15.525" height="19.105" fill="#999999" />
<rect x="322.525" y="610.81" width="15.525" height="19.105" fill="#999999" />
<rect x="353.575" y="610.81" width="15.525" height="19.105" fill="#999999" />
<rect x="369.1" y="610.81" width="15.525" height="19.105" fill="#999999" />
<rect x="446.725" y="610.81" width="15.525" height="19.105" fill="#999999" />
<rect x="462.25" y="610.81" width="15.525" height="19.105" fill="#e69f00" />
<rect x="182.8" y="629.915" width="15.525" height="19.105" fill="#999999" />
<rect x="198.325" y="629.915" width="15.525" height="19.105" fill="#999999" />
<rect x="260.425" y="629.915" width="15.525" height="19.105" fill="#999999" />
<rect x="307" y="629.915" width="15.525" height="19.105" fill="#999999" />
<rect x="338.05" y="629.915" width="15.525" height="19.105" fill="#999999" />
<rect x="369.1" y="629.915" width="15.525" height="19.105" fill="#e69f00" />
<rect x="400.15" y="629.915" width="15.525" height="19.105" fill="#999999" />
<rect x="462.25" y="629.915" width="15.525" height="19.105" fill="#999999" />
<rect x="198.325" y="649.02" width="15.525" height="19.105" fill="#56b4e9" />
<rect x="213.85" y="649.02" width="15.525" height="19.105" fill="#999999" />
<rect x="275.95" y="649.02" width="15.525" height="19.105" fill="#999999" />
<rect x="291.475" y="649.02" width="15.525" height="19.105" fill="#e69f00" />
<rect x="322.525" y="649.02" width="15.525" height="19.105" fill="#999999" />
<rect x="369.1" y="649.02" width="15.525" height="19.105" fill="#e69f00" />
<rect x="431.2" y="649.02" width="15.525" height="19.105" fill="#999999" />
<rect x="477.775" y="649.02" width="15.525" height="19.105" fill="#999999" />
<rect x="182.8" y="668.125" width="15.525" height="19.105" fill="#e69f00" />
<rect x="198.325" y="668.125" width="15.525" height="19.105" fill="#e69f00" />
<rect x="213.85" y="668.125" width="15.525" height="19.105" fill="#999999" />
<rect x="229.375" y="668.125" width="15.525" height="19.105" fill="#999999" />
<rect x="260.425" y="668.125" width="15.525" height="19.105" fill="#999999" />
<rect x="275.95" y="668.125" width="15.525" height="19.105" fill="#e69f00" />
<rect x="291.475" y="668.125" width="15.525" height="19.105" fill="#999999" />
<rect x="307" y="668.125" width="15.525" height="19.105" fill="#999999" />
<rect x="322.525" y="668.125" width="15.525" height="19.105" fill="#999999" />
<rect x="338.05" y="668.125" width="15.525" height="19.105" fill="#e69f00" />
<rect x="291.475" y="687.23" width="15.525" height="19.105" fill="#999999" />
<rect x="307" y="687.23" width="15.525" height="19.105" fill="#999999" />
<rect x="353.575" y="687.23" width="15.525" height="19.105" fill="#e69f00" />
<rect x="369.1" y="687.23" width="15.525" height="19.105" fill="#e69f00" />
<rect x="400.15" y="687.23" width="15.525" height="19.105" fill="#999999" />
<rect x="431.2" y="687.23" width="15.525" height="19.105" fill="#999999" />
<rect x="446.725" y="687.23" width="15.525" height="19.105" fill="#999999" />
<rect x="462.25" y="687.23" width="15.525" height="19.105" fill="#999999" />
<rect x="229.375" y="706.335" width="15.525" height="19.105" fill="#999999" />
<rect x="260.425" y="706.335" width="15.525" height="19.105" fill="#e69f00" />
<rect x="275.95" y="706.335" width="15.525" height="19.105" fill="#56b4e9" />
<rect x="291.475" y="706.335" width="15.525" height="19.105" fill="#999999" />
<rect x="307" y="706.335" width="15.525" height="19.105" fill="#999999" />
<rect x="322.525" y="706.335" width="15.525" height="19.105" fill="#999999" />
<rect x="338.05" y="706.335" width="15.525" height="19.105" fill="#999999" />
<rect x="353.575" y="706.335" width="15.525" height="19.105" fill="#999999" />
<rect x="369.1" y="706.335" width="15.525" height="19.105" fill="#999999" />
<rect x="384.625" y="706.335" width="15.525" height="19.105" fill="#999999" />
<rect x="431.2" y="706.335" width="15.525" height="19.105" fill="#999999" />
<rect x="260.425" y="725.44" width="15.525" height="19.105" fill="#999999" />
<rect x="400.15" y="725.44" width="15.525" height="19.105" fill="#999999" />
<rect x="431.2" y="725.44" width="15.525" height="19.105" fill="#999999" />
<rect x="446.725" y="725.44" width="15.525" height="19.105" fill="#999999" />
<rect x="182.8" y="744.545" width="15.525" height="19.105" fill="#999999" />
<rect x="213.85" y="744.545" width="15.525" height="19.105" fill="#56b4e9" />
<rect x="229.375" y="744.545" width="15.525" height="19.105" fill="#e69f00" />
<rect x="260.425" y="744.545" width="15.525" height="19.105" fill="#999999" />
<rect x="275.95" y="744.545" width="15.525" height="19.105" fill="#e69f00" />
<rect x="307" y="744.545" width="15.525" height="19.105" fill="#56b4e9" />
<rect x="322.525" y="744.545" width="15.525" height="19.105" fill="#999999" />
<rect x="338.05" y="744.545" width="15.525" height="19.105" fill="#999999" />
<rect x="415.675" y="744.545" width="15.525" height="19.105" fill="#e69f00" />
<rect x="462.25" y="744.545" width="15.525" height="19.105" fill="#e69f00" />
<rect x="182.8" y="763.65" width="15.525" height="19.105" fill="#999999" />
<rect x="198.325" y="763.65" width="15.525" height="19.105" fill="#56b4e9" />
<rect x="213.85" y="763.65" width="15.525" height="19.105" fill="#e69f00" />
<rect x="229.375" y="763.65" width="15.525" height="19.105" fill="#56b4e9" />
<rect x="244.9" y="763.65" width="15.525" height="19.105" fill="#999999" />
<rect x="260.425" y="763.65" width="15.525" height="19.105" fill="#56b4e9" />
<rect x="275.95" y="763.65" width="15.525" height="19.105" fill="#56b4e9" />
<rect x="291.475" y="763.65" width="15.525" height="19.105" fill="#999999" />
<rect x="307" y="763.65" width="15.525" height="19.105" fill="#56b4e9" />
<rect x="322.525" y="763.65" width="15.525" height="19.105" fill="#999999" />
<rect x="338.05" y="763.65" width="15.525" height="19.105" fill="#999999" />
<rect x="353.575" y="763.65" width="15.525" height="19.105" fill="#e69f00" />
<rect x="415.675" y="763.65" width="15.525" height="19.105" fill="#999999" />
<rect x="431.2" y="763.65" width="15.525" height="19.105" fill="#999999" />
<rect x="446.725" y="763.65" width="15.525" height="19.105" fill="#e69f00" />
<rect x="477.775" y="763.65" width="15.525" height="19.105" fill="#999999" />
<rect x="182.8" y="782.755" width="15.525" height="19.105" fill="#e69f00" />
<rect x="198.325" y="782.755" width="15.525" height="19.105" fill="#e69f00" />
<rect x="213.85" y="782.755" width="15.525" height="19.105" fill="#e69f00" />
<rect x="229.375" y="782.755" width="15.525" height="19.105" fill="#999999" />
<rect x="275.95" y="782.755" width="15.525" height="19.105" fill="#e69f00" />
<rect x="291.475" y="782.755" width="15.525" height="19.105" fill="#e69f00" />
<rect x="322.525" y="782.755" width="15.525" height="19.105" fill="#999999" />
<rect x="338.05" y="782.755" width="15.525" height="19.105" fill="#56b4e9" />
<rect x="415.675" y="782.755" width="15.525" height="19.105" fill="#56b4e9" />
<rect x="431.2" y="782.755" width="15.525" height="19.105" fill="#999999" />
<rect x="446.725" y="782.755" width="15.525" height="19.105" fill="#999999" />
<rect x="477.775" y="782.755" width="15.525" height="19.105" fill="#999999" />
<rect x="182.8" y="801.86" width="15.525" height="19.105" fill="#e69f00" />
<rect x="198.325" y="801.86" width="15.525" height="19.105" fill="#999999" />
<rect x="213.85" y="801.86" width="15.525" height="19.105" fill="#e69f00" />
<rect x="229.375" y="801.86" width="15.525" height="19.105" fill="#009e73" />
<rect x="260.425" y="801.86" width="15.525" height="19.105" fill="#999999" />
<rect x="275.95" y="801.86" width="15.525" height="19.105" fill="#999999" />
<rect x="291.475" y="801.86" width="15.525" height="19.105" fill="#999999" />
<rect x="307" y="801.86" width="15.525" height="19.105" fill="#999999" />
<rect x="322.525" y="801.86" width="15.525" height="19.105" fill="#999999" />
<rect x="338.05" y="801.86" width="15.525" height="19.105" fill="#999999" />
<rect x="369.1" y="801.86" width="15.525" height="19.105" fill="#e69f00" />
<rect x="384.625" y="801.86" width="15.525" height="19.105" fill="#e69f00" />
<rect x="400.15" y="801.86" width="15.525" height="19.105" fill="#56b4e9" />
<rect x="446.725" y="801.86" width="15.525" height="19.105" fill="#999999" />
<rect x="477.775" y="801.86" width="15.525" height="19.105" fill="#e69f00" />
<rect x="182.8" y="820.965" width="15.525" height="19.105" fill="#999999" />
<rect x="198.325" y="820.965" width="15.525" height="19.105" fill="#e69f00" />
<rect x="213.85" y="820.965" width="15.525" height="19.105" fill="#56b4e9" />
<rect x="229.375" y="820.965" width="15.525" height="19.105" fill="#999999" />
<rect x="244.9" y="820.965" width="15.525" height="19.105" fill="#56b4e9" />
<rect x="260.425" y="820.965" width="15.525" height="19.105" fill="#999999" />
<rect x="275.95" y="820.965" width="15.525" height="19.105" fill="#999999" />
<rect x="291.475" y="820.965" width="15.525" height="19.105" fill="#999999" />
<rect x="307" y="820.965" width="15.525" height="19.105" fill="#009e73" />
<rect x="322.525" y="820.965" width="15.525" height="19.105" fill="#56b4e9" />
<rect x="338.05" y="820.965" width="15.525" height="19.105" fill="#e69f00" />
<rect x="353.575" y="820.965" width="15.525" height="19.105" fill="#999999" />
<rect x="369.1" y="820.965" width="15.525" height="19.105" fill="#e69f00" />
<rect x="384.625" y="820.965" width="15.525" height="19.105" fill="#009e73" />
<rect x="400.15" y="820.965" width="15.525" height="19.105" fill="#999999" />
<rect x="415.675" y="820.965" width="15.525" height="19.105" fill="#56b4e9" />
<rect x="431.2" y="820.965" width="15.525" height="19.105" fill="#e69f00" />
<rect x="446.725" y="820.965" width="15.525" height="19.105" fill="#999999" />
<rect x="477.775" y="820.965" width="15.525" height="19.105" fill="#999999" />
<rect x="182.8" y="840.07" width="15.525" height="19.105" fill="#e69f00" />
<rect x="198.325" y="840.07" width="15.525" height="19.105" fill="#e69f00" />
<rect x="213.85" y="840.07" width="15.525" height="19.105" fill="#999999" />
<rect x="244.9" y="840.07" width="15.525" height="19.105" fill="#999999" />
<rect x="260.425" y="840.07" width="15.525" height="19.105" fill="#e69f00" />
<rect x="275.95" y="840.07" width="15.525" height="19.105" fill="#e69f00" />
<rect x="291.475" y="840.07" width="15.525" height="19.105" fill="#56b4e9" />
<rect x="307" y="840.07" width="15.525" height="19.105" fill="#56b4e9" />
<rect x="322.525" y="840.07" width="15.525" height="19.105" fill="#009e73" />
<rect x="338.05" y="840.07" width="15.525" height="19.105" fill="#009e73" />
<rect x="353.575" y="840.07" width="15.525" height="19.105" fill="#999999" />
<rect x="369.1" y="840.07" width="15.525" height="19.105" fill="#56b4e9" />
<rect x="400.15" y="840.07" width="15.525" height="19.105" fill="#999999" />
<rect x="431.2" y="840.07" width="15.525" height="19.105" fill="#999999" />
<rect x="446.725" y="840.07" width="15.525" height="19.105" fill="#e69f00" />
<rect x="462.25" y="840.07" width="15.525" height="19.105" fill="#999999" />
<rect x="182.8" y="859.175" width="15.525" height="19.105" fill="#e69f00" />
<rect x="198.325" y="859.175" width="15.525" height="19.105" fill="#999999" />
<rect x="213.85" y="859.175" width="15.525" height="19.105" fill="#999999" />
<rect x="260.425" y="859.175" width="15.525" height="19.105" fill="#e69f00" />
<rect x="291.475" y="859.175" width="15.525" height="19.105" fill="#e69f00" />
<rect x="307" y="859.175" width="15.525" height="19.105" fill="#999999" />
<rect x="338.05" y="859.175" width="15.525" height="19.105" fill="#999999" />
<rect x="353.575" y="859.175" width="15.525" height="19.105" fill="#e69f00" />
<rect x="369.1" y="859.175" width="15.525" height="19.105" fill="#e69f00" />
<rect x="384.625" y="859.175" width="15.525" height="19.105" fill="#999999" />
<rect x="415.675" y="859.175" width="15.525" height="19.105" fill="#999999" />
<rect x="446.725" y="859.175" width="15.525" height="19.105" fill="#999999" />
<rect x="477.775" y="859.175" width="15.525" height="19.105" fill="#e69f00" />
<rect x="182.8" y="878.28" width="15.525" height="19.105" fill="#999999" />
<rect x="198.325" y="878.28" width="15.525" height="19.105" fill="#56b4e9" />
<rect x="213.85" y="878.28" width="15.525" height="19.105" fill="#009e73" />
<rect x="229.375" y="878.28" width="15.525" height="19.105" fill="#e69f00" />
<rect x="244.9" y="878.28" width="15.525" height="19.105" fill="#999999" />
<rect x="260.425" y="878.28" width="15.525" height="19.105" fill="#e69f00" />
<rect x="275.95" y="878.28" width="15.525" height="19.105" fill="#009e73" />
<rect x="291.475" y="878.28" width="15.525" height="19.105" fill="#e69f00" />
<rect x="307" y="878.28" width="15.525" height="19.105" fill="#999999" />
<rect x="322.525" y="878.28" width="15.525" height="19.105" fill="#e69f00" />
<rect x="338.05" y="878.28" width="15.525" height="19.105" fill="#e69f00" />
<rect x="384.625" y="878.28" width="15.525" height="19.105" fill="#56b4e9" />
<rect x="400.15" y="878.28" width="15.525" height="19.105" fill="#999999" />
<rect x="415.675" y="878.28" width="15.525" height="19.105" fill="#56b4e9" />
<rect x="431.2" y="878.28" width="15.525" height="19.105" fill="#e69f00" />
<rect x="182.8" y="897.385" width="15.525" height="19.105" fill="#e69f00" />
<rect x="213.85" y="897.385" width="15.525" height="19.105" fill="#999999" />
<rect x="229.375" y="897.385" width="15.525" height="19.105" fill="#999999" />
<rect x="244.9" y="897.385" width="15.525" height="19.105" fill="#e69f00" />
<rect x="260.425" y="897.385" width="15.525" height="19.105" fill="#999999" />
<rect x="275.95" y="897.385" width="15.525" height="19.105" fill="#999999" />
<rect x="291.475" y="897.385" width="15.525" height="19.105" fill="#999999" />
<rect x="307" y="897.385" width="15.525" height="19.105" fill="#e69f00" />
<rect x="338.05" y="897.385" width="15.525" height="19.105" fill="#999999" />
<rect x="353.575" y="897.385" width="15.525" height="19.105" fill="#999999" />
<rect x="369.1" y="897.385" width="15.525" height="19.105" fill="#e69f00" />
<rect x="384.625" y="897.385" width="15.525" height="19.105" fill="#999999" />
<rect x="400.15" y="897.385" width="15.525" height="19.105" fill="#999999" />
<rect x="415.675" y="897.385" width="15.525" height="19.105" fill="#999999" />
<rect x="431.2" y="897.385" width="15.525" height="19.105" fill="#999999" />
<rect x="462.25" y="897.385" width="15.525" height="19.105" fill="#999999" />
<rect x="477.775" y="897.385" width="15.525" height="19.105" fill="#e69f00" />
<rect x="182.8" y="916.49" width="15.525" height="19.105" fill="#f0e442" />
<rect x="198.325" y="916.49" width="15.525" height="19.105" fill="#e69f00" />
<rect x="229.375" y="916.49" width="15.525" height="19.105" fill="#e69f00" />
<rect x="244.9" y="916.49" width="15.525" height="19.105" fill="#999999" />
<rect x="260.425" y="916.49" width="15.525" height="19.105" fill="#999999" />
<rect x="275.95" y="916.49" width="15.525" height="19.105" fill="#e69f00" />
<rect x="291.475" y="916.49" width="15.525" height="19.105" fill="#999999" />
<rect x="307" y="916.49" width="15.525" height="19.105" fill="#999999" />
<rect x="353.575" y="916.49" width="15.525" height="19.105" fill="#999999" />
<rect x="369.1" y="916.49" width="15.525" height="19.105" fill="#e69f00" />
<rect x="182.8" y="935.595" width="15.525" height="19.105" fill="#999999" />
<rect x="213.85" y="935.595" width="15.525" height="19.105" fill="#e69f00" />
<rect x="229.375" y="935.595" width="15.525" height="19.105" fill="#e69f00" />
<rect x="338.05" y="935.595" width="15.525" height="19.105" fill="#999999" />
<rect x="431.2" y="935.595" width="15.525" height="19.105" fill="#999999" />
<path d="M182.80 553.0V973.5M198.33 553.0V973.5M213.85 553.0V973.5M229.38 553.0V973.5M244.90 553.0V973.5M260.43 553.0V973.5M275.95 553.0V973.5M291.48 553.0V973.5M307.00 553.0V973.5M322.52 553.0V973.5M338.05 553.0V973.5M353.58 553.0V973.5M369.10 553.0V973.5M384.62 553.0V973.5M400.15 553.0V973.5M415.68 553.0V973.5M431.20 553.0V973.5M446.73 553.0V973.5M462.25 553.0V973.5M477.78 553.0V973.5M493.30 553.0V973.5M167.2 572.60H508.0M167.2 591.71H508.0M167.2 610.81H508.0M167.2 629.91H508.0M167.2 649.02H508.0M167.2 668.12H508.0M167.2 687.23H508.0M167.2 706.34H508.0M167.2 725.44H508.0M167.2 744.55H508.0M167.2 763.65H508.0M167.2 782.75H508.0M167.2 801.86H508.0M167.2 820.97H508.0M167.2 840.07H508.0M167.2 859.17H508.0M167.2 878.28H508.0M167.2 897.38H508.0M167.2 916.49H508.0M167.2 935.60H508.0M167.2 954.70H508.0" stroke="#1a1a1a" stroke-width="1.35" fill="none"/>
<text font-size="18.71" text-anchor="end" textLength="76.6848" lengthAdjust="spacingAndGlyphs" x="161.3" y="591.305">IGLV1-40</text>
<text font-size="18.71" text-anchor="end" textLength="76.6848" lengthAdjust="spacingAndGlyphs" x="161.3" y="610.41">IGLV2-14</text>
<text font-size="18.71" text-anchor="end" textLength="76.6848" lengthAdjust="spacingAndGlyphs" x="161.3" y="629.515">IGLV1-47</text>
<text font-size="18.71" text-anchor="end" textLength="76.6848" lengthAdjust="spacingAndGlyphs" x="161.3" y="648.62">IGLV2-23</text>
<text font-size="18.71" text-anchor="end" textLength="76.6848" lengthAdjust="spacingAndGlyphs" x="161.3" y="667.725">IGLV3-10</text>
<text font-size="18.71" text-anchor="end" textLength="76.6848" lengthAdjust="spacingAndGlyphs" x="161.3" y="686.83">IGLV3-21</text>
<text font-size="18.71" text-anchor="end" textLength="76.6848" lengthAdjust="spacingAndGlyphs" x="161.3" y="705.935">IGLV2-11</text>
<text font-size="18.71" text-anchor="end" textLength="78.6735" lengthAdjust="spacingAndGlyphs" x="161.3" y="725.04">IGKV3-11</text>
<text font-size="18.71" text-anchor="end" textLength="91.6096" lengthAdjust="spacingAndGlyphs" x="161.3" y="744.145">IGKV1D-13</text>
<text font-size="18.71" text-anchor="end" textLength="78.6735" lengthAdjust="spacingAndGlyphs" x="161.3" y="763.25">IGKV1-39</text>
<text font-size="18.71" text-anchor="end" textLength="68.7117" lengthAdjust="spacingAndGlyphs" x="161.3" y="782.355">IGKV4-1</text>
<text font-size="18.71" text-anchor="end" textLength="78.6735" lengthAdjust="spacingAndGlyphs" x="161.3" y="801.46">IGKV3-15</text>
<text font-size="18.71" text-anchor="end" textLength="66.7229" lengthAdjust="spacingAndGlyphs" x="161.3" y="820.565">IGLV3-1</text>
<text font-size="18.71" text-anchor="end" textLength="86.6466" lengthAdjust="spacingAndGlyphs" x="161.3" y="839.67">IGLV10-54</text>
<text font-size="18.71" text-anchor="end" textLength="85.6433" lengthAdjust="spacingAndGlyphs" x="161.3" y="858.775">*IGKV3-20</text>
<text font-size="18.71" text-anchor="end" textLength="68.7117" lengthAdjust="spacingAndGlyphs" x="161.3" y="877.88">IGKV1-5</text>
<text font-size="18.71" text-anchor="end" textLength="76.6848" lengthAdjust="spacingAndGlyphs" x="161.3" y="896.985">IGLV3-25</text>
<text font-size="18.71" text-anchor="end" textLength="76.6848" lengthAdjust="spacingAndGlyphs" x="161.3" y="916.09">IGLV1-51</text>
<text font-size="18.71" text-anchor="end" textLength="76.6848" lengthAdjust="spacingAndGlyphs" x="161.3" y="935.195">IGLV3-19</text>
<text font-size="18.71" text-anchor="end" textLength="76.6848" lengthAdjust="spacingAndGlyphs" x="161.3" y="954.3">IGLV3-27</text>
<text font-size="20.27" text-anchor="end" textLength="82.8023" lengthAdjust="spacingAndGlyphs" transform="translate(197.925 982.6) rotate(-90)">IGHV4-34</text>
<text font-size="20.27" text-anchor="end" textLength="82.8023" lengthAdjust="spacingAndGlyphs" transform="translate(213.45 982.6) rotate(-90)">IGHV3-15</text>
<text font-size="20.27" text-anchor="end" textLength="82.8023" lengthAdjust="spacingAndGlyphs" transform="translate(228.975 982.6) rotate(-90)">IGHV5-51</text>
<text font-size="20.27" text-anchor="end" textLength="72.4474" lengthAdjust="spacingAndGlyphs" transform="translate(244.5 982.6) rotate(-90)">IGHV3-7</text>
<text font-size="20.27" text-anchor="end" textLength="89.0041" lengthAdjust="spacingAndGlyphs" transform="translate(260.025 982.6) rotate(-90)">IGHV7-4-1</text>
<text font-size="20.27" text-anchor="end" textLength="96.2488" lengthAdjust="spacingAndGlyphs" transform="translate(275.55 982.6) rotate(-90)">IGHV1-69D</text>
<text font-size="20.27" text-anchor="end" textLength="82.8023" lengthAdjust="spacingAndGlyphs" transform="translate(291.075 982.6) rotate(-90)">IGHV3-23</text>
<text font-size="20.27" text-anchor="end" textLength="82.8023" lengthAdjust="spacingAndGlyphs" transform="translate(306.6 982.6) rotate(-90)">IGHV4-39</text>
<text font-size="20.27" text-anchor="end" textLength="82.8023" lengthAdjust="spacingAndGlyphs" transform="translate(322.125 982.6) rotate(-90)">IGHV3-30</text>
<text font-size="20.27" text-anchor="end" textLength="82.8023" lengthAdjust="spacingAndGlyphs" transform="translate(337.65 982.6) rotate(-90)">IGHV1-18</text>
<text font-size="20.27" text-anchor="end" textLength="82.8023" lengthAdjust="spacingAndGlyphs" transform="translate(353.175 982.6) rotate(-90)">IGHV3-48</text>
<text font-size="20.27" text-anchor="end" textLength="82.8023" lengthAdjust="spacingAndGlyphs" transform="translate(368.7 982.6) rotate(-90)">IGHV3-21</text>
<text font-size="20.27" text-anchor="end" textLength="82.8023" lengthAdjust="spacingAndGlyphs" transform="translate(384.225 982.6) rotate(-90)">IGHV1-24</text>
<text font-size="20.27" text-anchor="end" textLength="82.8023" lengthAdjust="spacingAndGlyphs" transform="translate(399.75 982.6) rotate(-90)">IGHV3-11</text>
<text font-size="20.27" text-anchor="end" textLength="82.8023" lengthAdjust="spacingAndGlyphs" transform="translate(415.275 982.6) rotate(-90)">IGHV3-33</text>
<text font-size="20.27" text-anchor="end" textLength="82.8023" lengthAdjust="spacingAndGlyphs" transform="translate(430.8 982.6) rotate(-90)">IGHV1-46</text>
<text font-size="20.27" text-anchor="end" textLength="72.4474" lengthAdjust="spacingAndGlyphs" transform="translate(446.325 982.6) rotate(-90)">IGHV6-1</text>
<text font-size="20.27" text-anchor="end" textLength="72.4474" lengthAdjust="spacingAndGlyphs" transform="translate(461.85 982.6) rotate(-90)">IGHV1-2</text>
<text font-size="20.27" text-anchor="end" textLength="82.8023" lengthAdjust="spacingAndGlyphs" transform="translate(477.375 982.6) rotate(-90)">IGHV3-74</text>
<text font-size="20.27" text-anchor="end" textLength="82.8023" lengthAdjust="spacingAndGlyphs" transform="translate(492.9 982.6) rotate(-90)">IGHV3-53</text>
<text font-size="27.17" text-anchor="middle" x="328.9" y="1083">*</text>
<text font-size="25.08" text-anchor="middle" x="330.288" y="861.57">*</text>
<text font-size="25.6" text-anchor="middle" textLength="124.5" lengthAdjust="spacingAndGlyphs" transform="translate(30.5 739.5) rotate(-90)">Light chain</text>
<text font-size="25.5" textLength="134" lengthAdjust="spacingAndGlyphs" x="277.3" y="1113.3">Heavy chain</text>
<text font-size="25.08" textLength="133.6" lengthAdjust="spacingAndGlyphs" x="18.6" y="1001.4">Occurences</text>
<rect x="44.4" y="1011.7" width="17" height="16.8" fill="#999999" />
<text font-size="24.45" text-anchor="middle" x="52.8" y="1050.9">1</text>
<rect x="61.32" y="1011.7" width="17" height="16.8" fill="#e69f00" />
<text font-size="24.45" text-anchor="middle" x="69.72" y="1050.9">2</text>
<rect x="78.24" y="1011.7" width="17" height="16.8" fill="#56b4e9" />
<text font-size="24.45" text-anchor="middle" x="86.64" y="1050.9">3</text>
<rect x="95.16" y="1011.7" width="17" height="16.8" fill="#009e73" />
<text font-size="24.45" text-anchor="middle" x="103.56" y="1050.9">4</text>
<rect x="112.08" y="1011.7" width="17" height="16.8" fill="#f0e442" />
<text font-size="24.45" text-anchor="middle" x="120.48" y="1050.9">5</text>
<g transform="translate(9.5 567) scale(1.1 1)"><text font-size="34" font-weight="bold" x="0" y="0" stroke="#000" stroke-width="0.7">e</text></g>
</g>
<g id="panel_f">
<rect x="702.4" y="573.75" width="15.49" height="19.43" fill="#a50b3c" />
<rect x="748.87" y="573.75" width="15.49" height="19.43" fill="#a50b3c" />
<rect x="795.34" y="573.75" width="15.49" height="19.43" fill="#a50b3c" />
<rect x="810.83" y="573.75" width="15.49" height="19.43" fill="#a50b3c" />
<rect x="841.81" y="573.75" width="15.49" height="19.43" fill="#a50b3c" />
<rect x="888.28" y="573.75" width="15.49" height="19.43" fill="#a50b3c" />
<rect x="903.77" y="573.75" width="15.49" height="19.43" fill="#a50b3c" />
<rect x="965.73" y="573.75" width="15.49" height="19.43" fill="#a50b3c" />
<rect x="981.22" y="573.75" width="15.49" height="19.43" fill="#a50b3c" />
<rect x="717.89" y="593.18" width="15.49" height="19.43" fill="#a50b3c" />
<rect x="733.38" y="593.18" width="15.49" height="19.43" fill="#a50b3c" />
<rect x="748.87" y="593.18" width="15.49" height="19.43" fill="#a50b3c" />
<rect x="779.85" y="593.18" width="15.49" height="19.43" fill="#a50b3c" />
<rect x="826.32" y="593.18" width="15.49" height="19.43" fill="#a50b3c" />
<rect x="888.28" y="593.18" width="15.49" height="19.43" fill="#a50b3c" />
<rect x="950.24" y="593.18" width="15.49" height="19.43" fill="#a50b3c" />
<rect x="965.73" y="593.18" width="15.49" height="19.43" fill="#a50b3c" />
<rect x="702.4" y="612.61" width="15.49" height="19.43" fill="#a50b3c" />
<rect x="733.38" y="612.61" width="15.49" height="19.43" fill="#a50b3c" />
<rect x="779.85" y="612.61" width="15.49" height="19.43" fill="#a50b3c" />
<rect x="826.32" y="612.61" width="15.49" height="19.43" fill="#a50b3c" />
<rect x="841.81" y="612.61" width="15.49" height="19.43" fill="#d49b00" />
<rect x="872.79" y="612.61" width="15.49" height="19.43" fill="#a50b3c" />
<rect x="888.28" y="612.61" width="15.49" height="19.43" fill="#a50b3c" />
<rect x="965.73" y="612.61" width="15.49" height="19.43" fill="#a50b3c" />
<rect x="981.22" y="612.61" width="15.49" height="19.43" fill="#a50b3c" />
<rect x="702.4" y="632.04" width="15.49" height="19.43" fill="#a50b3c" />
<rect x="717.89" y="632.04" width="15.49" height="19.43" fill="#a50b3c" />
<rect x="779.85" y="632.04" width="15.49" height="19.43" fill="#a50b3c" />
<rect x="795.34" y="632.04" width="15.49" height="19.43" fill="#00728a" />
<rect x="826.32" y="632.04" width="15.49" height="19.43" fill="#a50b3c" />
<rect x="857.3" y="632.04" width="15.49" height="19.43" fill="#a50b3c" />
<rect x="888.28" y="632.04" width="15.49" height="19.43" fill="#a50b3c" />
<rect x="919.26" y="632.04" width="15.49" height="19.43" fill="#a50b3c" />
<rect x="981.22" y="632.04" width="15.49" height="19.43" fill="#a50b3c" />
<rect x="717.89" y="651.47" width="15.49" height="19.43" fill="#a50b3c" />
<rect x="733.38" y="651.47" width="15.49" height="19.43" fill="#a50b3c" />
<rect x="795.34" y="651.47" width="15.49" height="19.43" fill="#a50b3c" />
<rect x="810.83" y="651.47" width="15.49" height="19.43" fill="#a50b3c" />
<rect x="841.81" y="651.47" width="15.49" height="19.43" fill="#a50b3c" />
<rect x="888.28" y="651.47" width="15.49" height="19.43" fill="#a50b3c" />
<rect x="950.24" y="651.47" width="15.49" height="19.43" fill="#a50b3c" />
<rect x="996.71" y="651.47" width="15.49" height="19.43" fill="#a50b3c" />
<rect x="702.4" y="670.9" width="15.49" height="19.43" fill="#a50b3c" />
<rect x="717.89" y="670.9" width="15.49" height="19.43" fill="#a50b3c" />
<rect x="733.38" y="670.9" width="15.49" height="19.43" fill="#a50b3c" />
<rect x="748.87" y="670.9" width="15.49" height="19.43" fill="#a50b3c" />
<rect x="779.85" y="670.9" width="15.49" height="19.43" fill="#a50b3c" />
<rect x="795.34" y="670.9" width="15.49" height="19.43" fill="#a50b3c" />
<rect x="810.83" y="670.9" width="15.49" height="19.43" fill="#a50b3c" />
<rect x="826.32" y="670.9" width="15.49" height="19.43" fill="#a50b3c" />
<rect x="841.81" y="670.9" width="15.49" height="19.43" fill="#a50b3c" />
<rect x="857.3" y="670.9" width="15.49" height="19.43" fill="#a50b3c" />
<rect x="810.83" y="690.33" width="15.49" height="19.43" fill="#a50b3c" />
<rect x="826.32" y="690.33" width="15.49" height="19.43" fill="#a50b3c" />
<rect x="872.79" y="690.33" width="15.49" height="19.43" fill="#a50b3c" />
<rect x="888.28" y="690.33" width="15.49" height="19.43" fill="#a50b3c" />
<rect x="919.26" y="690.33" width="15.49" height="19.43" fill="#a50b3c" />
<rect x="950.24" y="690.33" width="15.49" height="19.43" fill="#a50b3c" />
<rect x="965.73" y="690.33" width="15.49" height="19.43" fill="#a50b3c" />
<rect x="981.22" y="690.33" width="15.49" height="19.43" fill="#a50b3c" />
<rect x="748.87" y="709.76" width="15.49" height="19.43" fill="#a50b3c" />
<rect x="779.85" y="709.76" width="15.49" height="19.43" fill="#a50b3c" />
<rect x="795.34" y="709.76" width="15.49" height="19.43" fill="#a50b3c" />
<rect x="810.83" y="709.76" width="15.49" height="19.43" fill="#a50b3c" />
<rect x="826.32" y="709.76" width="15.49" height="19.43" fill="#a50b3c" />
<rect x="841.81" y="709.76" width="15.49" height="19.43" fill="#a50b3c" />
<rect x="857.3" y="709.76" width="15.49" height="19.43" fill="#a50b3c" />
<rect x="872.79" y="709.76" width="15.49" height="19.43" fill="#a50b3c" />
<rect x="888.28" y="709.76" width="15.49" height="19.43" fill="#a50b3c" />
<rect x="903.77" y="709.76" width="15.49" height="19.43" fill="#a50b3c" />
<rect x="950.24" y="709.76" width="15.49" height="19.43" fill="#a50b3c" />
<rect x="779.85" y="729.19" width="15.49" height="19.43" fill="#a50b3c" />
<rect x="919.26" y="729.19" width="15.49" height="19.43" fill="#a50b3c" />
<rect x="950.24" y="729.19" width="15.49" height="19.43" fill="#a50b3c" />
<rect x="965.73" y="729.19" width="15.49" height="19.43" fill="#a50b3c" />
<rect x="702.4" y="748.62" width="15.49" height="19.43" fill="#a50b3c" />
<rect x="733.38" y="748.62" width="15.49" height="19.43" fill="#d49b00" />
<rect x="748.87" y="748.62" width="15.49" height="19.43" fill="#a50b3c" />
<rect x="779.85" y="748.62" width="15.49" height="19.43" fill="#a50b3c" />
<rect x="795.34" y="748.62" width="15.49" height="19.43" fill="#a50b3c" />
<rect x="826.32" y="748.62" width="15.49" height="19.43" fill="#a50b3c" />
<rect x="841.81" y="748.62" width="15.49" height="19.43" fill="#a50b3c" />
<rect x="857.3" y="748.62" width="15.49" height="19.43" fill="#a50b3c" />
<rect x="934.75" y="748.62" width="15.49" height="19.43" fill="#a50b3c" />
<rect x="965.73" y="748.62" width="15.49" height="19.43" fill="#00728a" />
<rect x="981.22" y="748.62" width="15.49" height="19.43" fill="#a50b3c" />
<rect x="702.4" y="768.05" width="15.49" height="19.43" fill="#a50b3c" />
<rect x="717.89" y="768.05" width="15.49" height="19.43" fill="#d49b00" />
<rect x="733.38" y="768.05" width="15.49" height="19.43" fill="#a50b3c" />
<rect x="748.87" y="768.05" width="15.49" height="19.43" fill="#a50b3c" />
<rect x="764.36" y="768.05" width="15.49" height="19.43" fill="#a50b3c" />
<rect x="779.85" y="768.05" width="15.49" height="19.43" fill="#a50b3c" />
<rect x="795.34" y="768.05" width="15.49" height="19.43" fill="#a50b3c" />
<rect x="810.83" y="768.05" width="15.49" height="19.43" fill="#d49b00" />
<rect x="826.32" y="768.05" width="15.49" height="19.43" fill="#a50b3c" />
<rect x="841.81" y="768.05" width="15.49" height="19.43" fill="#a50b3c" />
<rect x="857.3" y="768.05" width="15.49" height="19.43" fill="#a50b3c" />
<rect x="872.79" y="768.05" width="15.49" height="19.43" fill="#d49b00" />
<rect x="934.75" y="768.05" width="15.49" height="19.43" fill="#a50b3c" />
<rect x="950.24" y="768.05" width="15.49" height="19.43" fill="#a50b3c" />
<rect x="965.73" y="768.05" width="15.49" height="19.43" fill="#a50b3c" />
<rect x="981.22" y="768.05" width="15.49" height="19.43" fill="#00728a" />
<rect x="996.71" y="768.05" width="15.49" height="19.43" fill="#a50b3c" />
<rect x="702.4" y="787.48" width="15.49" height="19.43" fill="#a50b3c" />
<rect x="717.89" y="787.48" width="15.49" height="19.43" fill="#a50b3c" />
<rect x="733.38" y="787.48" width="15.49" height="19.43" fill="#a50b3c" />
<rect x="748.87" y="787.48" width="15.49" height="19.43" fill="#a50b3c" />
<rect x="795.34" y="787.48" width="15.49" height="19.43" fill="#a50b3c" />
<rect x="810.83" y="787.48" width="15.49" height="19.43" fill="#a50b3c" />
<rect x="826.32" y="787.48" width="15.49" height="19.43" fill="#00728a" />
<rect x="841.81" y="787.48" width="15.49" height="19.43" fill="#a50b3c" />
<rect x="857.3" y="787.48" width="15.49" height="19.43" fill="#a50b3c" />
<rect x="919.26" y="787.48" width="15.49" height="19.43" fill="#00728a" />
<rect x="934.75" y="787.48" width="15.49" height="19.43" fill="#a50b3c" />
<rect x="950.24" y="787.48" width="15.49" height="19.43" fill="#a50b3c" />
<rect x="965.73" y="787.48" width="15.49" height="19.43" fill="#a50b3c" />
<rect x="996.71" y="787.48" width="15.49" height="19.43" fill="#a50b3c" />
<rect x="702.4" y="806.91" width="15.49" height="19.43" fill="#a50b3c" />
<rect x="717.89" y="806.91" width="15.49" height="19.43" fill="#a50b3c" />
<rect x="733.38" y="806.91" width="15.49" height="19.43" fill="#a50b3c" />
<rect x="748.87" y="806.91" width="15.49" height="19.43" fill="#a50b3c" />
<rect x="779.85" y="806.91" width="15.49" height="19.43" fill="#a50b3c" />
<rect x="795.34" y="806.91" width="15.49" height="19.43" fill="#d49b00" />
<rect x="810.83" y="806.91" width="15.49" height="19.43" fill="#a50b3c" />
<rect x="826.32" y="806.91" width="15.49" height="19.43" fill="#a50b3c" />
<rect x="841.81" y="806.91" width="15.49" height="19.43" fill="#a50b3c" />
<rect x="857.3" y="806.91" width="15.49" height="19.43" fill="#a50b3c" />
<rect x="888.28" y="806.91" width="15.49" height="19.43" fill="#a50b3c" />
<rect x="903.77" y="806.91" width="15.49" height="19.43" fill="#a50b3c" />
<rect x="919.26" y="806.91" width="15.49" height="19.43" fill="#a50b3c" />
<rect x="965.73" y="806.91" width="15.49" height="19.43" fill="#a50b3c" />
<rect x="996.71" y="806.91" width="15.49" height="19.43" fill="#a50b3c" />
<rect x="702.4" y="826.34" width="15.49" height="19.43" fill="#a50b3c" />
<rect x="717.89" y="826.34" width="15.49" height="19.43" fill="#a50b3c" />
<rect x="733.38" y="826.34" width="15.49" height="19.43" fill="#a50b3c" />
<rect x="748.87" y="826.34" width="15.49" height="19.43" fill="#a50b3c" />
<rect x="764.36" y="826.34" width="15.49" height="19.43" fill="#a50b3c" />
<rect x="779.85" y="826.34" width="15.49" height="19.43" fill="#a50b3c" />
<rect x="795.34" y="826.34" width="15.49" height="19.43" fill="#a50b3c" />
<rect x="810.83" y="826.34" width="15.49" height="19.43" fill="#a50b3c" />
<rect x="826.32" y="826.34" width="15.49" height="19.43" fill="#a50b3c" />
<rect x="841.81" y="826.34" width="15.49" height="19.43" fill="#a50b3c" />
<rect x="857.3" y="826.34" width="15.49" height="19.43" fill="#a50b3c" />
<rect x="872.79" y="826.34" width="15.49" height="19.43" fill="#a50b3c" />
<rect x="888.28" y="826.34" width="15.49" height="19.43" fill="#a50b3c" />
<rect x="903.77" y="826.34" width="15.49" height="19.43" fill="#d49b00" />
<rect x="919.26" y="826.34" width="15.49" height="19.43" fill="#a50b3c" />
<rect x="934.75" y="826.34" width="15.49" height="19.43" fill="#a50b3c" />
<rect x="950.24" y="826.34" width="15.49" height="19.43" fill="#a50b3c" />
<rect x="965.73" y="826.34" width="15.49" height="19.43" fill="#a50b3c" />
<rect x="996.71" y="826.34" width="15.49" height="19.43" fill="#a50b3c" />
<rect x="702.4" y="845.77" width="15.49" height="19.43" fill="#a50b3c" />
<rect x="717.89" y="845.77" width="15.49" height="19.43" fill="#a50b3c" />
<rect x="733.38" y="845.77" width="15.49" height="19.43" fill="#a50b3c" />
<rect x="764.36" y="845.77" width="15.49" height="19.43" fill="#a50b3c" />
<rect x="779.85" y="845.77" width="15.49" height="19.43" fill="#a50b3c" />
<rect x="795.34" y="845.77" width="15.49" height="19.43" fill="#a50b3c" />
<rect x="810.83" y="845.77" width="15.49" height="19.43" fill="#a50b3c" />
<rect x="826.32" y="845.77" width="15.49" height="19.43" fill="#a50b3c" />
<rect x="841.81" y="845.77" width="15.49" height="19.43" fill="#a50b3c" />
<rect x="857.3" y="845.77" width="15.49" height="19.43" fill="#a50b3c" />
<rect x="872.79" y="845.77" width="15.49" height="19.43" fill="#d49b00" />
<rect x="888.28" y="845.77" width="15.49" height="19.43" fill="#a50b3c" />
<rect x="919.26" y="845.77" width="15.49" height="19.43" fill="#a50b3c" />
<rect x="950.24" y="845.77" width="15.49" height="19.43" fill="#a50b3c" />
<rect x="965.73" y="845.77" width="15.49" height="19.43" fill="#a50b3c" />
<rect x="981.22" y="845.77" width="15.49" height="19.43" fill="#a50b3c" />
<rect x="702.4" y="865.2" width="15.49" height="19.43" fill="#d49b00" />
<rect x="717.89" y="865.2" width="15.49" height="19.43" fill="#a50b3c" />
<rect x="733.38" y="865.2" width="15.49" height="19.43" fill="#d49b00" />
<rect x="779.85" y="865.2" width="15.49" height="19.43" fill="#a50b3c" />
<rect x="810.83" y="865.2" width="15.49" height="19.43" fill="#a50b3c" />
<rect x="826.32" y="865.2" width="15.49" height="19.43" fill="#a50b3c" />
<rect x="857.3" y="865.2" width="15.49" height="19.43" fill="#a50b3c" />
<rect x="872.79" y="865.2" width="15.49" height="19.43" fill="#a50b3c" />
<rect x="888.28" y="865.2" width="15.49" height="19.43" fill="#a50b3c" />
<rect x="903.77" y="865.2" width="15.49" height="19.43" fill="#a50b3c" />
<rect x="934.75" y="865.2" width="15.49" height="19.43" fill="#a50b3c" />
<rect x="965.73" y="865.2" width="15.49" height="19.43" fill="#a50b3c" />
<rect x="996.71" y="865.2" width="15.49" height="19.43" fill="#a50b3c" />
<rect x="702.4" y="884.63" width="15.49" height="19.43" fill="#a50b3c" />
<rect x="717.89" y="884.63" width="15.49" height="19.43" fill="#a50b3c" />
<rect x="733.38" y="884.63" width="15.49" height="19.43" fill="#a50b3c" />
<rect x="748.87" y="884.63" width="15.49" height="19.43" fill="#a50b3c" />
<rect x="764.36" y="884.63" width="15.49" height="19.43" fill="#a50b3c" />
<rect x="779.85" y="884.63" width="15.49" height="19.43" fill="#a50b3c" />
<rect x="795.34" y="884.63" width="15.49" height="19.43" fill="#a50b3c" />
<rect x="810.83" y="884.63" width="15.49" height="19.43" fill="#a50b3c" />
<rect x="826.32" y="884.63" width="15.49" height="19.43" fill="#a50b3c" />
<rect x="841.81" y="884.63" width="15.49" height="19.43" fill="#a50b3c" />
<rect x="857.3" y="884.63" width="15.49" height="19.43" fill="#a50b3c" />
<rect x="903.77" y="884.63" width="15.49" height="19.43" fill="#a50b3c" />
<rect x="919.26" y="884.63" width="15.49" height="19.43" fill="#a50b3c" />
<rect x="934.75" y="884.63" width="15.49" height="19.43" fill="#a50b3c" />
<rect x="950.24" y="884.63" width="15.49" height="19.43" fill="#a50b3c" />
<rect x="702.4" y="904.06" width="15.49" height="19.43" fill="#a50b3c" />
<rect x="733.38" y="904.06" width="15.49" height="19.43" fill="#a50b3c" />
<rect x="748.87" y="904.06" width="15.49" height="19.43" fill="#a50b3c" />
<rect x="764.36" y="904.06" width="15.49" height="19.43" fill="#a50b3c" />
<rect x="779.85" y="904.06" width="15.49" height="19.43" fill="#a50b3c" />
<rect x="795.34" y="904.06" width="15.49" height="19.43" fill="#a50b3c" />
<rect x="810.83" y="904.06" width="15.49" height="19.43" fill="#a50b3c" />
<rect x="826.32" y="904.06" width="15.49" height="19.43" fill="#a50b3c" />
<rect x="857.3" y="904.06" width="15.49" height="19.43" fill="#a50b3c" />
<rect x="872.79" y="904.06" width="15.49" height="19.43" fill="#a50b3c" />
<rect x="888.28" y="904.06" width="15.49" height="19.43" fill="#a50b3c" />
<rect x="903.77" y="904.06" width="15.49" height="19.43" fill="#a50b3c" />
<rect x="919.26" y="904.06" width="15.49" height="19.43" fill="#a50b3c" />
<rect x="934.75" y="904.06" width="15.49" height="19.43" fill="#a50b3c" />
<rect x="950.24" y="904.06" width="15.49" height="19.43" fill="#a50b3c" />
<rect x="981.22" y="904.06" width="15.49" height="19.43" fill="#a50b3c" />
<rect x="996.71" y="904.06" width="15.49" height="19.43" fill="#a50b3c" />
<rect x="702.4" y="923.49" width="15.49" height="19.43" fill="#a50b3c" />
<rect x="717.89" y="923.49" width="15.49" height="19.43" fill="#a50b3c" />
<rect x="748.87" y="923.49" width="15.49" height="19.43" fill="#a50b3c" />
<rect x="764.36" y="923.49" width="15.49" height="19.43" fill="#a50b3c" />
<rect x="779.85" y="923.49" width="15.49" height="19.43" fill="#a50b3c" />
<rect x="795.34" y="923.49" width="15.49" height="19.43" fill="#a50b3c" />
<rect x="810.83" y="923.49" width="15.49" height="19.43" fill="#a50b3c" />
<rect x="826.32" y="923.49" width="15.49" height="19.43" fill="#a50b3c" />
<rect x="872.79" y="923.49" width="15.49" height="19.43" fill="#d49b00" />
<rect x="888.28" y="923.49" width="15.49" height="19.43" fill="#a50b3c" />
<rect x="702.4" y="942.92" width="15.49" height="19.43" fill="#a50b3c" />
<rect x="733.38" y="942.92" width="15.49" height="19.43" fill="#a50b3c" />
<rect x="748.87" y="942.92" width="15.49" height="19.43" fill="#a50b3c" />
<rect x="857.3" y="942.92" width="15.49" height="19.43" fill="#a50b3c" />
<rect x="950.24" y="942.92" width="15.49" height="19.43" fill="#a50b3c" />
<path d="M702.40 554.3V981.2M717.89 554.3V981.2M733.38 554.3V981.2M748.87 554.3V981.2M764.36 554.3V981.2M779.85 554.3V981.2M795.34 554.3V981.2M810.83 554.3V981.2M826.32 554.3V981.2M841.81 554.3V981.2M857.30 554.3V981.2M872.79 554.3V981.2M888.28 554.3V981.2M903.77 554.3V981.2M919.26 554.3V981.2M934.75 554.3V981.2M950.24 554.3V981.2M965.73 554.3V981.2M981.22 554.3V981.2M996.71 554.3V981.2M1012.20 554.3V981.2M687.4 573.75H1026.7M687.4 593.18H1026.7M687.4 612.61H1026.7M687.4 632.04H1026.7M687.4 651.47H1026.7M687.4 670.90H1026.7M687.4 690.33H1026.7M687.4 709.76H1026.7M687.4 729.19H1026.7M687.4 748.62H1026.7M687.4 768.05H1026.7M687.4 787.48H1026.7M687.4 806.91H1026.7M687.4 826.34H1026.7M687.4 845.77H1026.7M687.4 865.20H1026.7M687.4 884.63H1026.7M687.4 904.06H1026.7M687.4 923.49H1026.7M687.4 942.92H1026.7M687.4 962.35H1026.7" stroke="#1a1a1a" stroke-width="1.35" fill="none"/>
<text font-size="18.71" text-anchor="end" textLength="76.6848" lengthAdjust="spacingAndGlyphs" x="680.5" y="596.4">IGLV1-40</text>
<text font-size="18.71" text-anchor="end" textLength="76.6848" lengthAdjust="spacingAndGlyphs" x="680.5" y="615.495">IGLV2-14</text>
<text font-size="18.71" text-anchor="end" textLength="76.6848" lengthAdjust="spacingAndGlyphs" x="680.5" y="634.59">IGLV1-47</text>
<text font-size="18.71" text-anchor="end" textLength="76.6848" lengthAdjust="spacingAndGlyphs" x="680.5" y="653.685">IGLV2-23</text>
<text font-size="18.71" text-anchor="end" textLength="76.6848" lengthAdjust="spacingAndGlyphs" x="680.5" y="672.78">IGLV3-10</text>
<text font-size="18.71" text-anchor="end" textLength="76.6848" lengthAdjust="spacingAndGlyphs" x="680.5" y="691.875">IGLV3-21</text>
<text font-size="18.71" text-anchor="end" textLength="76.6848" lengthAdjust="spacingAndGlyphs" x="680.5" y="710.97">IGLV2-11</text>
<text font-size="18.71" text-anchor="end" textLength="78.6735" lengthAdjust="spacingAndGlyphs" x="680.5" y="730.065">IGKV3-11</text>
<text font-size="18.71" text-anchor="end" textLength="91.6096" lengthAdjust="spacingAndGlyphs" x="680.5" y="749.16">IGKV1D-13</text>
<text font-size="18.71" text-anchor="end" textLength="78.6735" lengthAdjust="spacingAndGlyphs" x="680.5" y="768.255">IGKV1-39</text>
<text font-size="18.71" text-anchor="end" textLength="68.7117" lengthAdjust="spacingAndGlyphs" x="680.5" y="787.35">IGKV4-1</text>
<text font-size="18.71" text-anchor="end" textLength="78.6735" lengthAdjust="spacingAndGlyphs" x="680.5" y="806.445">IGKV3-15</text>
<text font-size="18.71" text-anchor="end" textLength="66.7229" lengthAdjust="spacingAndGlyphs" x="680.5" y="825.54">IGLV3-1</text>
<text font-size="18.71" text-anchor="end" textLength="86.6466" lengthAdjust="spacingAndGlyphs" x="680.5" y="844.635">IGLV10-54</text>
<text font-size="18.71" text-anchor="end" textLength="85.6433" lengthAdjust="spacingAndGlyphs" x="680.5" y="863.73">*IGKV3-20</text>
<text font-size="18.71" text-anchor="end" textLength="68.7117" lengthAdjust="spacingAndGlyphs" x="680.5" y="882.825">IGKV1-5</text>
<text font-size="18.71" text-anchor="end" textLength="76.6848" lengthAdjust="spacingAndGlyphs" x="680.5" y="901.92">IGLV3-25</text>
<text font-size="18.71" text-anchor="end" textLength="76.6848" lengthAdjust="spacingAndGlyphs" x="680.5" y="921.015">IGLV1-51</text>
<text font-size="18.71" text-anchor="end" textLength="76.6848" lengthAdjust="spacingAndGlyphs" x="680.5" y="940.11">IGLV3-19</text>
<text font-size="18.71" text-anchor="end" textLength="76.6848" lengthAdjust="spacingAndGlyphs" x="680.5" y="959.205">IGLV3-27</text>
<text font-size="20.27" text-anchor="end" textLength="82.8023" lengthAdjust="spacingAndGlyphs" transform="translate(717.29 990.7) rotate(-90)">IGHV4-34</text>
<text font-size="20.27" text-anchor="end" textLength="82.8023" lengthAdjust="spacingAndGlyphs" transform="translate(732.78 990.7) rotate(-90)">IGHV3-15</text>
<text font-size="20.27" text-anchor="end" textLength="82.8023" lengthAdjust="spacingAndGlyphs" transform="translate(748.27 990.7) rotate(-90)">IGHV5-51</text>
<text font-size="20.27" text-anchor="end" textLength="72.4474" lengthAdjust="spacingAndGlyphs" transform="translate(763.76 990.7) rotate(-90)">IGHV3-7</text>
<text font-size="20.27" text-anchor="end" textLength="89.0041" lengthAdjust="spacingAndGlyphs" transform="translate(779.25 990.7) rotate(-90)">IGHV7-4-1</text>
<text font-size="20.27" text-anchor="end" textLength="96.2488" lengthAdjust="spacingAndGlyphs" transform="translate(794.74 990.7) rotate(-90)">IGHV1-69D</text>
<text font-size="20.27" text-anchor="end" textLength="82.8023" lengthAdjust="spacingAndGlyphs" transform="translate(810.23 990.7) rotate(-90)">IGHV3-23</text>
<text font-size="20.27" text-anchor="end" textLength="82.8023" lengthAdjust="spacingAndGlyphs" transform="translate(825.72 990.7) rotate(-90)">IGHV4-39</text>
<text font-size="20.27" text-anchor="end" textLength="82.8023" lengthAdjust="spacingAndGlyphs" transform="translate(841.21 990.7) rotate(-90)">IGHV3-30</text>
<text font-size="20.27" text-anchor="end" textLength="82.8023" lengthAdjust="spacingAndGlyphs" transform="translate(856.7 990.7) rotate(-90)">IGHV1-18</text>
<text font-size="20.27" text-anchor="end" textLength="82.8023" lengthAdjust="spacingAndGlyphs" transform="translate(872.19 990.7) rotate(-90)">IGHV3-48</text>
<text font-size="20.27" text-anchor="end" textLength="82.8023" lengthAdjust="spacingAndGlyphs" transform="translate(887.68 990.7) rotate(-90)">IGHV3-21</text>
<text font-size="20.27" text-anchor="end" textLength="82.8023" lengthAdjust="spacingAndGlyphs" transform="translate(903.17 990.7) rotate(-90)">IGHV1-24</text>
<text font-size="20.27" text-anchor="end" textLength="82.8023" lengthAdjust="spacingAndGlyphs" transform="translate(918.66 990.7) rotate(-90)">IGHV3-11</text>
<text font-size="20.27" text-anchor="end" textLength="82.8023" lengthAdjust="spacingAndGlyphs" transform="translate(934.15 990.7) rotate(-90)">IGHV3-33</text>
<text font-size="20.27" text-anchor="end" textLength="82.8023" lengthAdjust="spacingAndGlyphs" transform="translate(949.64 990.7) rotate(-90)">IGHV1-46</text>
<text font-size="20.27" text-anchor="end" textLength="72.4474" lengthAdjust="spacingAndGlyphs" transform="translate(965.13 990.7) rotate(-90)">IGHV6-1</text>
<text font-size="20.27" text-anchor="end" textLength="72.4474" lengthAdjust="spacingAndGlyphs" transform="translate(980.62 990.7) rotate(-90)">IGHV1-2</text>
<text font-size="20.27" text-anchor="end" textLength="82.8023" lengthAdjust="spacingAndGlyphs" transform="translate(996.11 990.7) rotate(-90)">IGHV3-74</text>
<text font-size="20.27" text-anchor="end" textLength="82.8023" lengthAdjust="spacingAndGlyphs" transform="translate(1011.6 990.7) rotate(-90)">IGHV3-53</text>
<text font-size="27.17" text-anchor="middle" x="847.6" y="1091">*</text>
<text font-size="25.08" text-anchor="middle" x="849.555" y="867.27">*</text>
<text font-size="25.6" text-anchor="middle" textLength="124.5" lengthAdjust="spacingAndGlyphs" transform="translate(553 744.5) rotate(-90)">Light chain</text>
<text font-size="25.5" textLength="133.3" lengthAdjust="spacingAndGlyphs" x="795.7" y="1114">Heavy chain</text>
<text font-size="24.56" textLength="68.6" lengthAdjust="spacingAndGlyphs" x="581.4" y="997.4">Group</text>
<rect x="571.9" y="1011.7" width="17.1" height="16.9" fill="#00728a" />
<text font-size="20.9" textLength="66.5" lengthAdjust="spacingAndGlyphs" x="594.5" y="1023.6">Control</text>
<rect x="571.9" y="1028.5" width="17.1" height="16.9" fill="#a50b3c" />
<text font-size="20.9" textLength="94" lengthAdjust="spacingAndGlyphs" x="594.5" y="1041.9">COVID-19</text>
<rect x="571.9" y="1045.3" width="17.1" height="16.9" fill="#d49b00" />
<text font-size="20.9" textLength="65" lengthAdjust="spacingAndGlyphs" x="594.5" y="1061.9">Shared</text>
<g transform="translate(551.5 567) scale(1.1 1)"><text font-size="34" font-weight="bold" x="0" y="0" stroke="#000" stroke-width="0.7">f</text></g>
</g>
<g id="panel_g">
<g filter="url(#rough2)">
<path d="M1150.9 813.1C1156.0 808.0 1171.3 812.5 1181.4 809.7C1191.6 806.8 1203.8 801.7 1212.0 796.1C1220.2 790.4 1225.6 779.4 1230.6 775.7C1235.7 772.1 1241.1 771.8 1242.5 774.0C1243.9 776.3 1241.4 783.9 1239.1 789.3C1236.9 794.7 1232.3 800.6 1228.9 806.3C1225.6 811.9 1221.0 817.0 1218.8 823.2C1216.5 829.5 1216.2 836.8 1215.4 843.6C1214.5 850.4 1213.4 857.2 1213.7 864.0C1214.0 870.7 1217.4 877.5 1217.1 884.3C1216.8 891.1 1214.5 898.5 1212.0 904.7C1209.4 910.9 1205.2 917.7 1201.8 921.6C1198.4 925.6 1195.0 930.7 1191.6 928.4C1188.2 926.2 1185.4 915.4 1181.4 908.1C1177.5 900.7 1172.1 891.7 1167.9 884.3C1163.6 877.0 1158.8 871.3 1156.0 864.0C1153.2 856.6 1151.7 848.7 1150.9 840.2C1150.1 831.7 1145.8 818.1 1150.9 813.1Z" fill="#f9637f" />
<path d="M1198.4 665.4C1202.1 664.6 1208.3 665.7 1212.0 668.8C1215.7 672.0 1218.8 678.2 1220.5 684.1C1222.2 690.1 1221.0 698.3 1222.2 704.5C1223.3 710.7 1226.1 715.8 1227.2 721.4C1228.4 727.1 1229.2 732.7 1228.9 738.4C1228.7 744.1 1225.3 750.3 1225.6 755.4C1225.8 760.5 1228.9 765.6 1230.6 768.9C1232.3 772.3 1236.6 772.9 1235.7 775.7C1234.9 778.6 1229.5 782.5 1225.6 785.9C1221.6 789.3 1216.5 793.3 1212.0 796.1C1207.5 798.9 1203.5 800.6 1198.4 802.9C1193.3 805.1 1187.1 807.4 1181.4 809.7C1175.8 811.9 1169.6 815.9 1164.5 816.5C1159.4 817.0 1154.3 817.0 1150.9 813.1C1147.5 809.1 1145.8 798.9 1144.1 792.7C1142.4 786.5 1142.7 781.4 1140.7 775.7C1138.7 770.1 1134.5 764.4 1132.2 758.8C1130.0 753.1 1127.4 747.5 1127.1 741.8C1126.9 736.1 1128.3 729.9 1130.5 724.8C1132.8 719.7 1136.2 715.2 1140.7 711.3C1145.2 707.3 1151.5 704.5 1157.7 701.1C1163.9 697.7 1172.7 695.4 1178.0 690.9C1183.4 686.4 1186.5 678.2 1189.9 673.9C1193.3 669.7 1194.7 666.3 1198.4 665.4Z" fill="#9aae12" />
<path d="M1259.5 774.0C1262.3 774.0 1264.3 781.1 1266.3 785.9C1268.3 790.7 1269.7 796.7 1271.4 802.9C1273.1 809.1 1275.3 816.5 1276.5 823.2C1277.6 830.0 1278.7 836.8 1278.1 843.6C1277.6 850.4 1275.6 858.3 1273.1 864.0C1270.5 869.6 1266.8 874.4 1262.9 877.5C1258.9 880.6 1253.8 883.2 1249.3 882.6C1244.8 882.1 1239.1 878.4 1235.7 874.1C1232.3 869.9 1230.4 863.4 1228.9 857.2C1227.5 850.9 1227.0 843.6 1227.2 836.8C1227.5 830.0 1228.7 822.7 1230.6 816.5C1232.6 810.2 1236.0 804.6 1239.1 799.5C1242.2 794.4 1245.9 790.2 1249.3 785.9C1252.7 781.7 1256.7 774.0 1259.5 774.0Z" fill="#9aae12" />
<path d="M1201.8 921.6C1206.0 918.2 1211.4 913.7 1217.1 911.5C1222.7 909.2 1230.4 908.1 1235.7 908.1C1241.1 908.1 1247.3 906.9 1249.3 911.5C1251.3 916.0 1249.3 926.7 1247.6 935.2C1245.9 943.7 1242.0 955.0 1239.1 962.4C1236.3 969.7 1234.0 974.5 1230.6 979.3C1227.2 984.1 1222.4 989.2 1218.8 991.2C1215.1 993.2 1212.0 993.2 1208.6 991.2C1205.2 989.2 1201.0 985.3 1198.4 979.3C1195.9 973.4 1194.4 963.5 1193.3 955.6C1192.2 947.7 1190.2 937.5 1191.6 931.8C1193.0 926.2 1197.6 925.0 1201.8 921.6Z" fill="#8a22b0" />
<path d="M1230.6 729.9C1234.3 727.7 1244.2 724.3 1249.3 724.8C1254.4 725.4 1258.6 729.9 1261.2 733.3C1263.7 736.7 1265.4 742.1 1264.6 745.2C1263.7 748.3 1259.2 749.7 1256.1 752.0C1253.0 754.2 1249.6 756.5 1245.9 758.8C1242.2 761.0 1237.4 766.1 1234.0 765.6C1230.6 765.0 1226.7 759.9 1225.6 755.4C1224.4 750.8 1226.4 742.6 1227.2 738.4C1228.1 734.2 1227.0 732.2 1230.6 729.9Z" fill="#a4f282" />
</g>
<g filter="url(#rough2)">
<path d="M1301.3 778.3C1302.4 776.2 1305.4 774.1 1308.4 772.9C1311.4 771.7 1315.5 770.8 1319.1 771.1C1322.7 771.4 1326.3 773.8 1329.8 774.7C1333.4 775.6 1337.3 775.3 1340.6 776.5C1343.8 777.7 1347.1 779.8 1349.5 781.9C1351.9 783.9 1352.5 786.6 1354.8 789.0C1357.2 791.4 1360.2 794.2 1363.8 796.1C1367.3 798.1 1373.9 799.1 1376.3 800.6C1378.7 802.1 1379.3 804.2 1378.1 805.1C1376.9 806.0 1372.1 806.3 1369.1 806.0C1366.2 805.7 1363.2 804.3 1360.2 803.3C1357.2 802.3 1354.2 800.9 1351.3 799.7C1348.3 798.5 1345.3 796.4 1342.3 796.1C1339.4 795.9 1336.4 796.7 1333.4 797.9C1330.4 799.1 1326.9 803.0 1324.5 803.3C1322.1 803.6 1321.2 800.9 1319.1 799.7C1317.0 798.5 1314.4 797.3 1312.0 796.1C1309.6 795.0 1306.6 794.4 1304.8 792.6C1303.0 790.8 1301.9 787.8 1301.3 785.4C1300.7 783.1 1300.1 780.4 1301.3 778.3Z" fill="#22d0de" opacity="1"/>
<path d="M1362.4 710.9C1363.2 711.4 1363.7 715.8 1364.4 719.9C1365.1 724.1 1366.3 731.3 1366.4 736.0C1366.6 740.7 1366.1 744.1 1365.4 748.1C1364.7 752.1 1363.4 756.4 1362.4 760.1C1361.4 763.8 1360.4 767.2 1359.4 770.2C1358.4 773.2 1357.5 777.0 1356.4 778.2C1355.2 779.4 1352.5 778.9 1352.4 777.2C1352.2 775.5 1354.4 771.3 1355.4 768.2C1356.4 765.0 1357.5 761.5 1358.4 758.1C1359.2 754.8 1360.1 751.8 1360.4 748.1C1360.7 744.4 1360.6 740.0 1360.4 736.0C1360.2 732.0 1359.2 727.1 1359.0 724.0C1358.8 720.8 1358.8 719.1 1359.4 716.9C1360.0 714.7 1361.6 710.4 1362.4 710.9Z" fill="#22d0de" opacity="0.85"/>
<path d="M1339.1 848.6C1340.7 846.7 1343.6 845.7 1346.9 844.7C1350.2 843.7 1355.1 842.4 1358.7 842.7C1362.3 843.1 1365.9 844.4 1368.5 846.7C1371.1 849.0 1373.3 852.2 1374.4 856.5C1375.6 860.8 1376.1 867.3 1375.4 872.2C1374.7 877.1 1373.3 884.0 1370.5 886.0C1367.7 887.9 1362.6 883.7 1358.7 884.0C1354.8 884.3 1350.2 888.6 1346.9 887.9C1343.6 887.3 1340.9 883.3 1339.1 880.1C1337.3 876.8 1336.4 872.2 1336.1 868.3C1335.8 864.4 1336.6 859.8 1337.1 856.5C1337.6 853.2 1337.4 850.6 1339.1 848.6Z" fill="#22d0de" opacity="0.85"/>
<path d="M1322.5 672.3C1323.4 671.2 1326.9 670.5 1328.5 671.2C1330.1 672.0 1331.8 674.8 1332.1 676.8C1332.4 678.8 1331.3 682.2 1330.3 683.0C1329.2 683.9 1327.0 682.6 1325.8 681.7C1324.6 680.8 1323.7 679.5 1323.1 677.9C1322.6 676.3 1321.6 673.4 1322.5 672.3Z" fill="#22d0de" opacity="1"/>
</g>
<path d="M1336.8 782.4h0M1345.5 792.9h0M1296.3 782.6h0M1315.2 770.9h0M1329.2 798.6h0M1302.1 778.8h0M1357.1 797.7h0M1317.9 775.2h0M1319.3 801.3h0M1328.7 787.5h0M1294.6 784.6h0M1300.3 789.6h0M1332.7 783.4h0M1297.5 790.3h0M1315.1 792.7h0M1296.5 782.0h0M1357.0 791.8h0M1348.4 785.7h0M1334.0 775.4h0M1335.0 780.2h0M1300.9 793.5h0M1330.8 782.3h0M1312.4 783.0h0M1326.4 772.2h0M1300.6 790.3h0M1335.7 796.7h0M1361.0 799.7h0M1336.2 790.4h0M1329.6 773.6h0M1342.6 789.5h0M1354.0 789.7h0M1321.2 797.7h0M1339.4 793.8h0M1297.4 792.3h0M1362.4 793.3h0M1349.6 792.8h0M1298.9 774.3h0M1298.6 781.5h0M1337.5 789.4h0M1324.4 800.2h0M1302.5 781.3h0M1314.5 800.1h0M1310.8 775.7h0M1302.9 771.3h0M1382.4 808.6h0M1328.1 798.4h0M1337.2 788.8h0M1327.8 793.7h0M1315.0 777.3h0M1342.0 774.7h0M1298.0 778.1h0M1321.1 800.9h0M1378.9 806.6h0M1376.5 806.1h0M1322.8 776.9h0M1350.3 787.5h0M1325.6 802.5h0M1330.6 775.2h0M1318.9 786.2h0M1350.9 790.8h0M1334.6 774.2h0M1330.9 780.2h0M1308.7 789.8h0M1310.4 797.1h0M1352.4 780.8h0M1335.2 792.5h0M1365.4 804.6h0M1344.4 780.7h0M1323.4 802.4h0M1296.4 772.6h0M1308.0 770.3h0M1354.7 783.3h0M1305.3 796.1h0M1326.8 777.8h0M1323.1 782.9h0M1309.8 792.8h0M1294.3 786.9h0M1318.5 772.4h0M1335.7 795.7h0M1314.6 780.5h0M1350.0 789.8h0M1305.2 775.3h0M1313.1 774.9h0M1336.8 793.6h0M1380.4 808.1h0M1300.5 781.5h0M1344.2 795.3h0M1304.8 779.1h0M1295.8 783.8h0M1308.9 772.4h0M1356.4 788.9h0M1368.2 806.3h0M1306.9 782.6h0M1319.7 787.1h0M1316.7 792.8h0M1293.7 774.7h0M1298.0 789.1h0M1322.2 803.2h0M1312.1 766.8h0M1322.1 775.9h0M1309.4 793.8h0M1312.5 768.1h0M1345.9 796.8h0M1298.0 791.0h0M1327.3 794.9h0M1322.4 786.0h0M1319.9 800.8h0M1313.7 777.4h0M1354.5 800.9h0M1354.2 784.5h0M1294.2 785.1h0M1385.8 807.8h0M1295.2 778.8h0M1351.0 782.7h0M1342.9 795.0h0M1337.7 794.5h0M1357.7 799.8h0M1336.8 791.8h0M1353.3 786.9h0M1300.9 783.8h0M1367.0 797.6h0M1299.4 786.9h0M1348.8 789.3h0M1306.7 794.3h0M1359.3 789.4h0M1293.5 778.5h0M1341.4 785.3h0M1328.1 799.7h0M1323.6 796.5h0M1379.6 807.9h0M1316.9 800.7h0M1299.0 784.1h0M1338.6 778.8h0M1307.6 769.9h0M1365.3 801.6h0M1316.4 782.3h0M1313.7 796.9h0M1339.7 789.5h0M1331.5 797.2h0M1318.2 776.8h0M1310.0 767.0h0M1340.3 792.2h0M1305.3 780.7h0M1300.5 781.9h0M1336.9 782.1h0M1313.5 785.6h0M1378.2 806.9h0M1318.0 773.1h0M1315.0 772.7h0M1309.7 769.2h0M1360.9 796.1h0M1348.8 786.9h0M1332.2 778.3h0M1338.1 777.4h0M1346.8 794.2h0M1367.5 804.2h0M1373.5 807.2h0M1318.9 773.2h0M1314.9 769.7h0M1293.2 783.5h0M1354.1 789.8h0M1312.0 770.2h0M1313.0 767.7h0M1347.4 778.0h0M1326.7 800.3h0M1345.1 777.7h0M1374.2 799.4h0M1309.3 791.3h0M1333.3 796.9h0M1310.9 772.3h0M1362.7 796.1h0M1343.5 779.9h0M1339.8 774.7h0M1337.6 775.1h0M1335.3 786.6h0M1333.1 798.5h0M1324.5 793.2h0M1317.1 802.3h0M1303.8 778.1h0M1341.7 779.8h0M1307.0 769.1h0M1361.8 791.8h0M1356.2 798.5h0M1309.8 797.8h0M1296.9 777.6h0M1314.8 777.8h0M1312.3 770.7h0M1297.7 783.8h0M1341.9 781.1h0M1294.2 786.7h0M1307.4 773.9h0M1326.6 790.2h0M1362.8 793.4h0M1293.8 774.3h0M1304.0 782.7h0M1326.3 783.0h0M1353.1 781.2h0M1338.7 795.6h0M1381.2 807.8h0M1327.7 782.9h0M1320.1 784.6h0M1322.0 786.3h0M1340.9 780.2h0M1348.9 789.8h0M1309.8 768.7h0M1364.6 802.3h0M1324.8 774.8h0M1302.1 793.2h0M1357.4 791.1h0M1304.1 771.7h0M1365.3 794.9h0M1355.3 783.2h0M1301.9 768.4h0M1368.0 800.1h0M1374.2 800.9h0M1314.0 781.9h0M1319.3 803.7h0M1292.5 779.4h0M1355.0 793.8h0M1308.5 775.6h0M1341.7 790.6h0M1356.9 789.7h0M1343.7 787.9h0M1349.9 798.2h0M1357.3 789.6h0M1297.5 776.4h0M1294.9 775.1h0M1342.7 780.2h0M1300.2 778.4h0M1363.3 804.5h0M1355.5 793.2h0M1337.6 791.7h0M1376.2 807.6h0M1324.2 781.8h0M1348.9 786.1h0M1339.9 788.4h0M1364.3 799.5h0M1322.8 793.3h0M1359.6 795.5h0M1334.2 791.6h0M1353.6 799.9h0M1337.0 774.7h0M1355.0 797.8h0M1360.1 794.3h0M1318.4 789.3h0M1309.1 772.7h0M1347.5 794.5h0M1311.8 768.3h0M1324.4 785.8h0M1380.2 802.6h0M1320.9 794.5h0M1328.8 776.7h0M1342.5 792.4h0M1380.4 806.2h0M1318.7 767.6h0M1348.0 791.1h0M1324.7 781.5h0M1318.6 770.1h0M1336.4 788.8h0M1334.2 798.9h0M1367.3 865.8h0M1354.4 851.8h0M1364.3 884.3h0M1376.9 869.7h0M1363.6 843.4h0M1371.8 870.3h0M1371.8 860.6h0M1361.8 870.4h0M1361.1 885.0h0M1351.3 874.4h0M1371.9 875.2h0M1353.3 841.7h0M1355.7 848.3h0M1342.3 865.7h0M1361.8 879.2h0M1358.0 841.1h0M1348.3 845.8h0M1360.7 855.4h0M1360.9 857.1h0M1375.3 862.9h0M1363.2 867.5h0M1354.2 874.8h0M1374.1 872.2h0M1368.8 857.7h0M1357.5 843.0h0M1345.6 863.5h0M1350.3 850.5h0M1352.4 886.9h0M1358.7 873.8h0M1378.2 872.7h0M1376.1 875.5h0M1369.8 871.0h0M1348.7 873.4h0M1337.8 861.6h0M1351.9 855.4h0M1361.2 883.6h0M1348.0 869.0h0M1352.4 872.6h0M1372.9 885.3h0M1356.4 853.2h0M1370.3 883.2h0M1369.0 874.1h0M1361.8 860.0h0M1359.1 858.7h0M1365.1 884.9h0M1347.1 877.5h0M1342.1 854.7h0M1353.0 859.7h0M1372.3 852.1h0M1347.1 863.8h0M1353.5 869.1h0M1335.1 870.3h0M1346.2 866.1h0M1335.0 860.9h0M1343.9 876.5h0M1369.9 886.2h0M1344.3 868.9h0M1339.4 867.7h0M1364.9 872.3h0M1352.6 886.1h0M1369.3 849.3h0M1351.3 879.5h0M1373.6 873.0h0M1338.9 868.1h0M1340.5 885.4h0M1353.8 852.0h0M1372.2 848.9h0M1339.0 859.0h0M1353.3 867.5h0M1376.6 860.2h0M1355.1 885.5h0M1370.9 872.7h0M1349.7 873.9h0M1352.1 880.4h0M1367.4 859.6h0M1345.0 869.3h0M1353.5 852.6h0M1337.6 879.7h0M1363.6 862.7h0M1346.0 864.3h0M1351.6 882.4h0M1376.6 860.5h0M1346.0 877.2h0M1370.7 864.0h0M1364.6 850.8h0M1367.8 880.2h0M1372.8 858.7h0M1355.4 840.6h0M1372.8 869.5h0M1339.9 857.3h0M1350.9 864.2h0M1347.3 853.4h0M1357.0 878.5h0M1354.6 862.6h0M1350.7 887.9h0M1367.6 875.3h0M1336.2 878.9h0M1353.0 875.4h0M1354.6 844.0h0M1358.0 877.1h0M1341.2 871.3h0M1335.8 859.8h0M1344.7 848.9h0M1348.3 880.1h0M1356.6 869.2h0M1374.0 852.0h0M1373.5 874.6h0M1365.8 887.0h0M1340.7 860.4h0M1357.7 867.0h0M1345.7 879.7h0M1369.1 856.3h0M1336.0 865.3h0M1358.7 883.8h0M1359.2 867.7h0M1368.5 873.8h0M1365.2 862.3h0M1357.8 867.6h0M1368.5 848.2h0M1370.3 883.2h0M1335.2 868.1h0M1370.3 856.0h0M1348.9 888.3h0M1358.5 843.7h0M1344.0 871.1h0M1350.1 845.2h0M1375.8 866.4h0M1349.9 858.5h0M1338.5 870.7h0M1363.4 878.1h0M1372.2 884.2h0M1350.3 851.6h0M1337.7 875.4h0M1362.4 845.5h0M1365.8 885.3h0M1334.9 872.0h0M1368.4 877.7h0M1345.8 859.1h0M1337.4 851.1h0M1359.5 885.7h0M1348.9 873.9h0M1375.5 876.4h0M1343.2 856.8h0M1355.6 858.5h0M1341.5 868.6h0M1347.6 853.9h0M1370.5 875.8h0M1369.6 864.0h0M1356.1 887.0h0M1357.0 885.9h0M1372.4 855.7h0M1357.7 865.9h0M1361.7 843.1h0M1357.0 874.0h0M1346.3 880.3h0M1356.6 863.1h0M1342.0 848.2h0M1349.5 864.4h0M1375.3 875.2h0M1340.9 852.0h0M1365.0 721.0h0M1364.7 743.3h0M1355.8 779.3h0M1362.0 761.6h0M1365.6 734.2h0M1360.0 726.8h0M1362.7 742.9h0M1365.7 740.1h0M1362.8 756.9h0M1365.1 722.8h0M1365.0 740.9h0M1364.0 719.6h0M1363.2 749.2h0M1366.2 738.3h0M1362.3 733.4h0M1360.7 742.9h0M1365.4 740.9h0M1362.9 756.6h0M1365.4 735.5h0M1362.4 743.5h0M1354.2 773.2h0M1360.7 764.3h0M1365.2 730.0h0M1356.3 770.4h0M1364.9 737.8h0M1360.9 763.8h0M1359.8 728.4h0M1363.3 714.1h0M1354.8 774.6h0M1365.7 732.6h0M1360.8 736.1h0M1355.1 773.7h0M1361.2 714.8h0M1366.1 741.6h0M1360.2 760.0h0M1360.8 744.2h0M1360.1 765.1h0M1359.5 768.3h0M1357.0 774.7h0M1360.5 758.7h0M1359.4 759.0h0M1358.6 759.2h0M1363.1 709.6h0M1361.8 711.3h0M1362.8 759.8h0M1361.4 710.6h0M1359.4 759.6h0M1361.6 732.6h0M1361.2 743.6h0M1363.7 738.4h0M1358.9 767.7h0M1361.7 713.4h0M1356.4 773.4h0M1364.0 729.7h0M1365.1 720.5h0M1364.1 733.5h0M1362.3 730.7h0M1362.6 722.8h0M1358.5 767.4h0M1361.2 710.9h0M1335.2 695.2h0M1334.2 694.8h0M1333.3 693.2h0M1333.5 698.4h0M1342.4 719.7h0M1338.8 709.6h0M1339.5 706.1h0M1346.5 721.2h0M1335.0 697.0h0M1336.3 704.4h0M1343.8 721.3h0M1331.0 692.2h0M1332.7 687.2h0M1345.7 725.3h0M1338.7 709.4h0M1341.8 722.0h0M1341.3 714.6h0M1339.7 717.0h0M1341.2 717.3h0M1338.7 711.7h0M1337.0 704.7h0M1341.6 714.3h0M1340.2 707.2h0M1343.4 719.6h0M1342.0 717.6h0M1333.1 692.5h0M1344.7 721.5h0M1331.7 694.4h0M1340.2 710.2h0M1339.3 712.1h0M1347.0 722.6h0M1342.6 720.1h0M1334.2 693.7h0M1337.6 703.9h0M1334.4 704.4h0M1343.3 723.5h0M1345.9 720.3h0M1334.2 689.8h0M1336.6 698.5h0M1340.1 707.5h0M1336.7 742.5h0M1341.7 735.4h0M1350.5 729.5h0M1334.7 753.7h0M1347.1 722.6h0M1333.9 745.8h0M1354.4 733.3h0M1348.6 734.8h0M1332.3 744.0h0M1341.6 740.6h0M1345.2 759.0h0M1354.2 738.2h0M1352.0 722.1h0M1337.0 733.5h0M1347.6 721.0h0M1353.9 739.4h0M1352.0 741.9h0M1341.5 760.6h0M1342.1 745.2h0M1337.7 764.5h0M1356.8 744.2h0M1342.5 734.6h0M1359.0 721.1h0M1338.6 764.6h0M1346.2 759.4h0M1334.1 743.5h0M1345.8 726.8h0M1341.3 742.7h0M1351.1 771.3h0M1345.5 734.9h0M1347.3 722.7h0M1335.8 751.2h0M1346.8 766.1h0M1344.9 768.7h0M1333.5 746.4h0M1353.0 737.3h0M1347.0 733.5h0M1340.0 767.4h0M1352.2 746.2h0M1340.5 744.6h0M1356.4 742.9h0M1350.6 758.1h0M1346.4 730.6h0M1337.0 758.0h0M1354.0 750.6h0M1343.9 764.4h0M1345.8 744.8h0M1347.9 723.8h0M1340.4 745.6h0M1335.7 745.4h0M1350.8 727.2h0M1346.4 755.7h0M1349.6 772.9h0M1350.4 733.2h0M1346.3 743.2h0M1348.4 765.8h0M1358.0 724.2h0M1352.6 750.7h0M1348.4 744.1h0M1349.5 732.8h0M1347.2 763.0h0M1336.4 756.5h0M1335.8 748.8h0M1352.5 743.6h0M1337.1 755.8h0M1336.0 760.0h0M1347.8 773.6h0M1346.7 745.3h0M1346.6 764.9h0M1341.1 730.6h0M1345.9 750.2h0M1338.2 741.5h0M1352.6 736.5h0M1352.8 749.5h0M1351.1 727.7h0M1341.6 743.4h0M1349.3 720.8h0M1349.8 748.5h0M1339.2 736.0h0M1358.4 722.7h0M1352.9 758.8h0M1358.5 723.7h0M1350.0 774.4h0M1347.9 725.6h0M1338.7 751.5h0M1354.4 729.4h0M1356.9 720.7h0M1339.0 737.8h0M1345.5 725.0h0M1339.3 752.4h0M1344.2 742.2h0M1345.1 731.9h0M1353.9 750.2h0M1331.2 752.3h0M1355.8 718.6h0M1357.3 734.6h0M1345.4 754.1h0M1352.9 760.9h0M1349.7 722.8h0M1340.8 742.6h0M1346.8 752.7h0M1347.6 768.1h0M1356.8 732.4h0M1338.2 743.6h0M1356.4 734.4h0M1336.5 734.7h0M1340.0 766.9h0M1353.6 721.9h0M1345.4 763.1h0M1347.4 737.3h0M1314.0 747.6h0M1315.1 748.7h0M1317.4 744.4h0M1310.5 754.0h0M1318.6 741.8h0M1311.8 753.6h0M1317.6 738.8h0M1312.7 755.9h0M1311.3 754.8h0M1315.6 742.7h0M1310.9 749.0h0M1310.0 756.9h0M1314.9 742.4h0M1317.3 742.1h0M1312.5 761.4h0M1310.6 756.5h0M1312.9 759.0h0M1312.8 762.8h0M1313.5 760.8h0M1314.8 749.3h0M1309.1 763.8h0M1311.5 763.8h0M1310.9 752.9h0M1309.6 753.2h0M1313.8 752.9h0M1311.3 746.1h0M1317.5 740.5h0M1309.7 766.1h0M1313.6 746.9h0M1313.4 755.4h0M1292.3 792.6h0M1287.2 805.1h0M1287.8 802.3h0M1292.2 791.0h0M1295.6 793.4h0M1296.1 793.0h0M1294.9 792.9h0M1286.5 805.5h0M1286.8 806.4h0M1294.1 797.1h0M1283.0 805.8h0M1284.2 809.4h0M1293.4 796.3h0M1290.7 795.0h0M1287.9 805.0h0M1290.2 796.7h0M1294.2 795.9h0M1293.4 795.9h0M1291.1 798.8h0M1285.3 806.6h0M1284.7 808.9h0M1293.4 798.9h0M1360.7 813.1h0M1363.6 817.1h0M1365.0 832.1h0M1367.0 826.5h0M1362.9 808.8h0M1365.0 817.5h0M1362.2 839.6h0M1362.6 820.5h0M1361.0 808.5h0M1363.2 806.7h0M1366.7 829.6h0M1360.3 816.8h0M1361.9 813.3h0M1366.0 815.1h0M1363.1 808.2h0M1360.9 815.8h0M1365.4 838.0h0M1365.2 826.0h0M1365.7 829.1h0M1365.3 828.7h0M1364.6 836.5h0M1365.4 828.0h0M1367.6 827.3h0M1366.2 835.4h0M1362.0 836.8h0M1367.6 829.8h0M1364.3 817.8h0M1359.3 811.8h0M1362.8 817.9h0M1360.7 814.4h0M1362.8 821.3h0M1360.0 816.1h0M1363.3 826.1h0M1361.8 831.0h0M1366.5 821.2h0M1366.2 821.7h0M1366.3 837.2h0M1366.6 834.5h0M1362.3 838.3h0M1361.6 838.2h0M1358.4 784.0h0M1359.6 776.0h0M1353.0 780.1h0M1357.1 778.1h0M1356.0 778.9h0M1357.0 785.2h0M1355.4 780.3h0M1361.5 787.5h0M1354.8 786.0h0M1354.8 777.5h0M1358.8 785.7h0M1358.1 786.2h0M1360.4 786.7h0M1359.1 775.7h0M1361.5 785.8h0M1351.9 781.1h0M1358.7 780.8h0M1357.8 781.2h0M1359.6 780.2h0M1354.3 777.7h0M1361.2 784.9h0M1356.5 783.1h0M1354.4 783.0h0M1360.6 786.6h0M1355.9 785.1h0" stroke="#22d0de" stroke-width="2.1" stroke-linecap="round" fill="none" />
<path d="M1246.7 903.6h0M1230.1 886.5h0M1238.3 885.2h0M1227.7 892.5h0M1218.1 892.4h0M1219.6 884.1h0M1220.8 885.4h0M1247.1 898.9h0M1245.5 906.3h0M1249.2 899.2h0M1236.6 889.3h0M1231.3 877.9h0M1248.3 901.7h0M1227.9 908.5h0M1215.3 907.2h0M1223.7 898.0h0M1220.3 893.1h0M1232.8 883.6h0M1242.8 886.7h0M1251.5 887.9h0M1235.9 892.0h0M1226.0 909.4h0M1240.2 888.6h0M1236.8 892.4h0M1245.6 898.2h0M1218.3 901.9h0M1217.5 877.8h0M1229.7 880.3h0M1226.9 877.4h0M1210.2 910.9h0M1217.6 908.1h0M1252.2 890.5h0M1239.4 896.1h0M1214.6 899.9h0M1236.7 885.3h0M1223.5 908.3h0M1229.7 901.5h0M1242.3 893.6h0M1239.9 908.5h0M1211.3 908.8h0M1249.3 906.8h0M1226.5 891.5h0M1244.1 906.1h0M1236.9 902.5h0M1213.6 902.4h0M1217.7 886.0h0M1233.1 895.6h0M1232.7 895.6h0M1215.8 906.2h0M1247.9 900.0h0M1225.8 883.2h0M1216.0 896.1h0M1237.6 887.4h0M1223.9 898.6h0M1215.0 894.7h0M1230.1 904.1h0M1218.2 878.1h0M1223.2 890.9h0M1236.5 883.8h0M1232.4 882.8h0M1246.5 909.3h0M1208.0 916.9h0M1220.1 909.2h0M1208.1 916.8h0M1224.4 901.0h0M1225.1 896.3h0M1233.1 892.3h0M1215.9 887.1h0M1244.5 891.5h0M1223.8 876.5h0M1223.7 900.8h0M1251.0 888.6h0M1223.1 909.7h0M1232.9 897.1h0M1222.3 897.3h0M1239.0 883.0h0M1239.1 901.8h0M1238.3 906.8h0M1230.5 891.5h0M1218.4 887.3h0M1243.3 906.8h0M1252.3 898.9h0M1213.0 908.0h0M1249.6 909.3h0M1252.1 891.4h0M1215.8 892.6h0M1240.5 906.3h0M1228.6 878.6h0M1240.4 887.1h0M1249.1 902.4h0M1236.8 897.7h0M1216.9 910.1h0M1232.4 890.1h0M1247.2 885.8h0M1243.5 883.9h0M1224.7 905.4h0M1246.7 908.5h0M1247.5 903.2h0M1241.7 908.0h0M1249.4 908.2h0M1233.6 884.4h0M1235.3 875.9h0M1218.7 900.0h0M1236.3 890.4h0M1228.0 900.5h0M1242.4 904.1h0M1228.7 889.4h0M1230.7 883.8h0M1223.7 885.2h0M1245.9 904.1h0M1230.3 893.7h0M1224.1 894.0h0M1220.3 890.6h0M1236.0 891.6h0M1230.4 884.0h0M1240.5 892.4h0M1242.3 902.7h0M1244.7 908.4h0M1221.4 907.4h0M1223.7 901.4h0M1233.8 885.0h0M1221.0 879.9h0M1215.1 890.0h0M1246.3 909.5h0M1242.3 900.6h0M1245.4 888.3h0M1219.0 889.5h0M1231.6 896.5h0M1238.0 887.3h0M1244.4 897.8h0M1204.0 919.8h0M1248.7 898.8h0M1229.3 899.1h0M1224.1 880.6h0M1226.7 905.8h0M1216.5 898.8h0M1224.9 876.4h0M1246.3 904.9h0M1234.0 905.1h0M1242.1 887.4h0M1246.4 886.7h0M1204.6 917.2h0M1246.4 884.4h0M1231.0 877.5h0M1225.0 884.9h0M1218.8 882.3h0M1234.6 901.2h0M1221.4 902.5h0M1237.5 899.9h0M1221.0 881.8h0M1245.6 886.2h0M1221.1 887.3h0M1223.1 902.9h0M1243.5 901.7h0M1233.7 908.4h0M1232.2 897.6h0M1244.3 884.7h0M1238.2 903.2h0M1215.3 895.1h0M1248.7 893.8h0M1219.6 895.0h0M1244.0 885.8h0M1233.9 900.7h0M1221.6 899.6h0M1211.6 913.0h0M1224.5 877.6h0M1239.4 891.3h0M1249.5 904.4h0M1220.2 882.3h0M1230.3 882.2h0M1237.6 887.8h0M1229.0 889.8h0M1238.0 895.9h0M1220.2 895.5h0M1224.3 899.9h0M1222.3 910.1h0M1240.1 907.7h0M1237.3 895.5h0M1219.0 886.6h0M1252.1 890.7h0M1246.3 907.3h0M1216.4 904.6h0M1226.7 901.0h0M1229.4 880.8h0M1220.6 882.0h0M1233.6 902.7h0M1219.6 902.4h0M1225.1 896.1h0M1238.2 891.5h0M1238.5 899.5h0M1239.6 882.7h0M1243.3 890.4h0M1240.5 906.8h0M1233.2 885.3h0M1217.4 898.0h0M1216.2 891.5h0M1206.2 916.1h0M1234.9 884.5h0M1249.9 898.4h0M1250.0 901.9h0M1210.4 912.9h0M1217.6 911.3h0M1239.1 907.8h0M1218.8 905.1h0M1239.6 882.0h0M1214.5 903.8h0M1221.8 909.8h0M1219.3 893.7h0M1226.1 877.0h0M1251.3 903.6h0M1226.2 906.5h0M1244.9 910.1h0M1231.1 891.1h0M1236.3 904.1h0M1212.3 905.4h0M1220.8 892.5h0M1240.6 902.7h0M1245.7 907.3h0M1248.1 903.0h0M1216.7 882.7h0M1246.9 904.6h0M1251.6 889.9h0M1254.8 892.2h0M1216.6 904.8h0M1229.0 875.5h0M1231.7 888.0h0M1235.8 900.6h0M1213.9 906.7h0M1218.4 888.2h0M1248.6 889.7h0" stroke="#8a22b0" stroke-width="2.1" stroke-linecap="round" fill="none" />
<path d="M1220.7 877.7h0M1228.2 900.3h0M1253.2 888.9h0M1235.3 903.3h0M1233.4 882.5h0M1238.6 890.5h0M1237.7 881.1h0M1223.8 890.7h0M1217.2 890.1h0M1248.6 896.1h0M1222.4 888.7h0M1216.2 882.8h0M1216.3 892.0h0M1242.5 891.3h0M1249.9 906.6h0M1232.7 902.0h0M1223.9 892.7h0M1246.1 888.4h0M1228.9 881.2h0M1249.9 886.8h0M1239.7 904.5h0M1230.3 895.5h0M1231.6 880.6h0M1246.0 887.1h0M1228.1 894.3h0M1248.6 887.8h0M1219.9 882.3h0M1240.7 878.9h0M1226.0 881.5h0M1229.8 908.0h0M1250.6 902.7h0M1243.6 906.7h0M1216.2 895.6h0M1236.8 887.1h0M1228.1 886.2h0M1253.2 899.5h0M1230.1 882.5h0M1229.1 892.8h0M1223.1 909.0h0M1250.7 902.0h0M1219.6 905.1h0M1218.4 908.4h0M1219.7 892.7h0M1218.1 893.0h0M1225.8 892.5h0M1244.7 903.8h0M1205.8 916.8h0M1238.1 895.6h0M1245.6 894.3h0M1235.6 878.1h0M1240.8 886.1h0M1214.1 907.5h0M1231.6 890.2h0M1227.4 896.6h0M1212.2 906.0h0M1228.0 888.6h0M1239.7 892.7h0M1234.5 882.2h0M1253.3 895.5h0M1225.4 889.7h0M1221.9 822.7h0M1234.0 790.0h0M1240.5 774.8h0M1226.4 854.9h0M1225.1 864.9h0M1216.5 866.4h0M1221.4 832.4h0M1222.0 828.5h0M1230.7 776.4h0M1224.6 825.4h0M1224.0 816.1h0M1225.0 829.8h0M1233.3 807.9h0M1224.1 835.1h0M1232.9 802.8h0M1226.4 849.7h0M1235.2 775.1h0M1227.9 875.5h0M1225.7 841.8h0M1227.3 816.7h0M1227.5 824.4h0M1217.7 870.2h0M1219.2 839.6h0M1229.0 865.5h0M1236.6 777.6h0M1220.3 837.3h0M1235.7 786.1h0M1233.3 871.1h0M1225.4 839.3h0M1219.3 826.0h0M1218.8 835.6h0M1229.7 812.1h0M1220.4 845.4h0M1219.0 842.0h0M1231.3 788.1h0M1229.5 816.0h0M1219.7 833.0h0M1241.9 775.6h0M1223.7 831.9h0M1239.7 783.6h0M1220.0 859.5h0M1225.4 853.4h0M1224.9 837.5h0M1219.2 874.6h0M1218.0 873.9h0M1215.4 868.8h0M1224.6 829.8h0M1233.9 779.4h0M1216.5 844.4h0M1227.1 867.3h0M1225.2 867.2h0M1216.4 866.7h0M1224.6 856.1h0M1218.6 832.1h0M1234.0 795.0h0M1232.4 802.9h0M1217.9 846.7h0M1219.2 849.8h0M1221.0 847.7h0M1237.8 776.7h0M1230.1 805.6h0M1223.8 860.7h0M1227.1 863.6h0M1216.2 854.4h0M1241.1 777.9h0M1219.4 835.8h0M1217.7 877.4h0M1224.1 864.3h0M1227.5 858.2h0M1239.3 775.4h0M1222.6 829.5h0M1230.6 862.3h0M1221.1 849.8h0M1217.7 843.9h0M1219.7 848.7h0M1230.9 867.1h0M1217.7 852.5h0M1224.7 863.5h0M1219.7 863.6h0M1217.0 850.3h0M1232.7 784.5h0M1227.5 850.9h0M1222.6 824.4h0M1231.7 781.4h0M1221.3 868.4h0M1215.3 866.3h0M1234.2 782.2h0M1219.3 832.1h0M1239.2 776.6h0M1230.6 813.7h0M1226.3 830.6h0M1222.6 859.8h0M1225.8 825.8h0M1219.9 852.7h0M1232.1 788.5h0M1227.5 828.6h0M1216.2 840.6h0M1229.9 868.5h0M1219.4 876.9h0M1223.7 817.7h0M1223.4 875.3h0M1226.3 817.7h0M1216.9 858.4h0M1234.7 801.1h0M1235.8 777.7h0M1223.4 842.1h0M1231.1 802.0h0M1227.4 810.7h0M1216.7 874.5h0M1225.7 848.9h0M1235.3 801.4h0M1232.7 800.1h0M1233.6 777.7h0M1227.7 869.5h0M1219.7 861.9h0M1235.6 782.5h0M1221.2 865.2h0M1225.2 830.1h0M1234.6 871.5h0M1216.1 849.0h0M1223.8 860.5h0M1232.9 785.3h0M1227.8 859.0h0M1216.5 838.1h0M1235.7 777.6h0M1227.0 868.6h0M1225.7 817.8h0M1230.2 870.2h0M1231.4 801.5h0M1231.6 864.8h0" stroke="#f9637f" stroke-width="2.1" stroke-linecap="round" fill="none" />
<path d="M1222.3 831.7h0M1215.7 856.8h0M1231.9 791.7h0M1223.7 835.0h0M1241.6 775.4h0M1221.6 876.0h0M1219.8 827.9h0M1224.3 856.8h0M1227.6 867.4h0M1220.8 867.6h0M1232.0 867.9h0M1237.2 779.1h0M1216.8 867.1h0M1229.6 867.7h0M1224.7 861.3h0M1219.8 852.6h0M1224.0 831.8h0M1234.3 871.5h0M1223.5 820.4h0M1221.3 866.5h0M1215.3 847.2h0M1222.0 834.1h0M1223.7 838.7h0M1224.2 816.5h0M1222.4 822.7h0M1236.2 781.2h0M1240.4 779.0h0M1220.9 824.2h0M1234.4 798.7h0M1218.6 851.9h0M1239.2 785.6h0M1217.0 851.2h0M1224.5 816.4h0M1223.3 831.1h0M1232.9 791.5h0M1229.8 869.0h0M1223.2 839.2h0M1230.1 815.0h0M1234.6 776.1h0M1230.9 790.8h0M1230.4 870.6h0M1231.7 784.2h0M1219.7 876.6h0M1218.5 848.7h0M1228.1 861.9h0M1218.6 859.7h0M1231.4 783.3h0M1228.7 825.8h0M1217.4 860.3h0M1224.7 867.9h0M1232.8 870.5h0M1217.1 843.8h0M1221.3 822.7h0M1230.6 784.4h0M1228.9 823.3h0M1233.1 779.9h0M1226.5 840.7h0M1236.3 787.8h0M1222.2 873.4h0M1215.6 870.9h0M1222.4 832.5h0M1215.9 840.8h0M1222.0 851.5h0M1229.5 802.5h0M1221.5 875.2h0M1219.3 874.1h0M1223.2 852.5h0M1226.9 868.9h0M1233.7 873.3h0M1220.9 868.2h0M1224.8 872.1h0M1228.9 826.6h0M1231.6 796.4h0M1228.1 820.6h0M1234.3 800.9h0M1231.9 801.4h0M1229.1 815.1h0M1236.4 776.3h0M1230.8 800.3h0M1221.0 850.4h0M1227.0 867.0h0M1226.0 861.6h0M1224.6 833.1h0M1223.9 848.7h0M1222.0 843.0h0M1215.7 859.8h0M1232.2 799.7h0M1220.5 852.9h0M1220.7 859.6h0M1238.5 786.8h0" stroke="#9aae12" stroke-width="2.1" stroke-linecap="round" fill="none" />
<path d="M1204.2 920.5h0M1213.4 905.1h0M1211.8 900.6h0M1216.7 876.6h0M1202.5 896.9h0M1219.6 910.4h0M1214.9 893.1h0M1217.5 901.3h0M1203.4 900.3h0M1199.3 885.3h0M1217.0 886.4h0M1216.0 880.0h0M1204.1 893.6h0M1218.5 885.0h0M1195.8 909.9h0M1200.6 891.1h0M1195.6 904.9h0M1202.7 892.7h0M1213.8 909.5h0M1220.2 900.8h0M1211.0 921.0h0M1205.5 889.3h0M1219.6 891.0h0M1191.2 918.9h0M1217.7 881.1h0M1200.4 922.7h0M1201.5 928.5h0M1215.4 882.0h0M1212.6 897.9h0M1213.4 886.2h0M1211.3 890.8h0M1210.5 879.6h0M1191.8 908.3h0M1198.4 908.1h0M1211.2 908.3h0M1201.2 905.6h0M1213.7 919.3h0M1221.1 910.9h0M1205.9 926.2h0M1213.1 902.6h0M1217.8 880.2h0M1206.6 898.4h0M1201.1 922.8h0M1205.9 918.5h0M1200.7 918.7h0M1208.3 911.5h0M1198.9 891.8h0M1214.0 879.4h0M1214.0 919.7h0M1211.6 886.8h0M1217.8 897.8h0M1224.3 910.0h0M1216.3 901.3h0M1215.5 917.6h0M1208.8 878.5h0M1207.7 878.3h0M1198.4 897.6h0M1192.3 911.0h0M1209.4 898.7h0M1218.5 886.3h0M1218.1 894.3h0M1212.8 897.7h0M1197.4 907.4h0M1209.1 914.8h0M1214.2 910.3h0M1218.6 905.5h0M1206.4 877.6h0M1197.6 893.2h0M1209.3 893.8h0M1213.1 894.3h0" stroke="#8a22b0" stroke-width="1.6" stroke-linecap="round" fill="none" />
<path d="M1190.2 795.9h0M1172.0 805.9h0M1153.3 811.4h0M1210.1 808.1h0M1179.5 807.5h0M1184.6 794.8h0M1161.9 818.6h0M1206.9 804.7h0M1207.2 804.3h0M1194.9 799.4h0M1156.8 813.2h0M1190.8 807.0h0M1199.7 791.6h0M1166.7 808.9h0M1155.0 814.4h0M1174.7 805.3h0M1193.0 801.4h0M1175.8 805.4h0M1182.6 809.8h0M1152.6 810.3h0M1152.2 811.3h0M1156.1 799.7h0M1159.8 808.5h0M1202.1 796.2h0M1155.4 808.6h0M1181.4 814.6h0M1160.5 801.8h0M1203.3 795.1h0M1187.4 801.9h0M1170.3 803.4h0M1201.5 807.7h0M1180.6 800.1h0M1197.8 799.5h0M1185.1 803.5h0M1191.8 794.1h0M1177.5 816.4h0M1214.0 809.8h0M1185.9 792.7h0M1150.4 805.5h0M1158.7 820.5h0M1174.6 804.0h0M1184.4 805.4h0M1161.7 811.1h0M1157.7 819.7h0M1163.4 811.8h0M1195.6 790.3h0M1165.1 810.3h0M1189.9 790.8h0M1181.0 808.4h0M1161.8 799.8h0M1201.5 798.4h0M1160.9 820.1h0M1207.1 791.6h0M1152.7 804.1h0M1188.3 791.7h0M1211.7 804.1h0M1211.9 805.2h0M1149.4 804.8h0M1176.3 802.2h0M1156.2 806.0h0M1161.6 821.5h0M1190.0 798.1h0M1162.2 811.2h0M1196.4 809.7h0M1160.2 817.9h0M1173.3 798.2h0M1180.4 805.4h0M1209.4 798.1h0M1171.3 813.6h0M1162.9 804.3h0M1184.7 803.7h0M1204.1 797.1h0M1199.2 798.9h0M1158.7 814.6h0M1183.2 798.6h0M1154.9 799.5h0M1205.8 800.0h0M1178.5 801.4h0M1182.9 813.1h0M1160.8 811.4h0M1166.1 810.2h0M1191.2 805.6h0M1192.1 807.0h0M1171.8 806.4h0M1206.6 807.8h0M1164.7 798.9h0M1154.0 812.7h0M1199.5 789.0h0M1160.2 800.3h0M1184.4 815.1h0" stroke="#9aae12" stroke-width="1.6" stroke-linecap="round" fill="none" />
<path d="M1212.3 789.2h0M1215.6 779.4h0M1166.4 786.5h0M1179.0 789.7h0M1188.5 786.9h0M1221.2 777.1h0M1223.1 788.2h0M1151.0 790.0h0M1181.3 784.6h0M1199.5 793.4h0M1189.4 784.5h0M1157.0 800.3h0M1194.3 788.3h0M1156.8 796.9h0M1153.1 788.2h0M1204.3 783.3h0M1177.1 796.2h0M1198.7 790.2h0M1209.0 796.6h0M1226.4 791.1h0M1208.3 795.7h0M1160.1 793.6h0M1168.6 799.4h0M1156.6 790.3h0M1180.8 785.1h0M1156.9 791.7h0M1151.8 789.0h0M1191.4 791.7h0M1212.4 787.2h0M1147.2 797.0h0M1189.9 794.0h0M1156.3 795.9h0M1184.7 791.2h0M1153.3 797.9h0M1154.7 804.8h0M1156.7 802.3h0M1155.0 788.3h0M1169.3 785.6h0M1151.6 806.7h0M1157.8 790.5h0M1167.8 788.5h0M1177.4 786.7h0M1161.3 807.0h0M1155.4 795.5h0M1164.2 795.5h0M1183.7 794.8h0M1161.6 790.9h0M1148.5 798.7h0M1159.2 791.4h0M1218.2 793.0h0M1186.1 784.6h0M1210.8 779.1h0M1199.3 791.7h0M1218.9 787.5h0M1188.7 783.7h0M1224.7 791.1h0M1200.9 789.6h0M1204.5 786.3h0M1197.9 791.2h0M1151.2 800.3h0" stroke="#f9637f" stroke-width="1.6" stroke-linecap="round" fill="none" />
<path d="M1230.0 955.7h0M1214.2 920.4h0M1209.2 951.1h0M1199.3 927.1h0M1238.8 940.9h0M1239.9 953.0h0M1216.6 975.8h0M1242.9 944.6h0M1196.3 939.3h0M1237.3 963.1h0M1195.3 943.8h0M1207.2 956.3h0M1206.6 928.0h0M1215.6 944.6h0M1209.4 939.8h0M1206.2 922.9h0M1224.4 984.3h0M1226.1 937.2h0M1210.3 988.9h0M1246.2 921.2h0M1205.5 983.0h0M1210.6 980.0h0M1237.1 914.5h0M1231.1 941.4h0M1216.1 958.0h0M1211.8 919.9h0M1193.6 934.5h0M1194.9 941.4h0M1243.6 943.5h0M1197.8 932.8h0M1213.3 962.7h0M1200.3 965.8h0M1243.1 921.7h0M1229.2 977.0h0M1200.5 971.7h0M1205.2 980.3h0M1218.9 954.7h0M1210.4 925.8h0M1206.9 987.6h0M1207.6 974.4h0" stroke="#f9637f" stroke-width="1.6" stroke-linecap="round" fill="none" />
<path d="M1283.2 768.9h0M1288.3 767.2h0M1293.4 770.6h0M1286.0 773.0h0M1324.0 679.0h0M1342.6 723.1h0M1361.3 713.0h0M1354.5 721.4h0M1334.1 733.3h0M1293.4 789.3h0M1381.6 802.9h0M1340.9 843.6h0M1337.5 874.1h0" stroke="#f9637f" stroke-width="2.2" stroke-linecap="round" fill="none" />
<line x1="1116.8" y1="650" x2="1116.8" y2="1009.8" stroke="#000" stroke-width="2.4" />
<line x1="1115.6" y1="1008.6" x2="1401.8" y2="1008.6" stroke="#000" stroke-width="2.4" />
<line x1="1112.4" y1="716" x2="1116.8" y2="716" stroke="#000" stroke-width="2" />
<text font-size="24.03" text-anchor="end" x="1108.2" y="724">4</text>
<line x1="1112.4" y1="811.2" x2="1116.8" y2="811.2" stroke="#000" stroke-width="2" />
<text font-size="24.03" text-anchor="end" x="1108.2" y="819.2">0</text>
<line x1="1112.4" y1="905.8" x2="1116.8" y2="905.8" stroke="#000" stroke-width="2" />
<text font-size="24.03" text-anchor="end" x="1108.2" y="913.8">–4</text>
<line x1="1112.4" y1="1001" x2="1116.8" y2="1001" stroke="#000" stroke-width="2" />
<text font-size="24.03" text-anchor="end" x="1108.2" y="1009">–8</text>
<line x1="1148.5" y1="1008.6" x2="1148.5" y2="1013.8" stroke="#000" stroke-width="2" />
<text font-size="24.03" text-anchor="end" x="1160.3" y="1039.5">–5</text>
<line x1="1225.3" y1="1008.6" x2="1225.3" y2="1013.8" stroke="#000" stroke-width="2" />
<text font-size="24.03" text-anchor="end" x="1232" y="1039.5">0</text>
<line x1="1302.2" y1="1008.6" x2="1302.2" y2="1013.8" stroke="#000" stroke-width="2" />
<text font-size="24.03" text-anchor="end" x="1308.8" y="1039.5">5</text>
<line x1="1378" y1="1008.6" x2="1378" y2="1013.8" stroke="#000" stroke-width="2" />
<text font-size="24.03" text-anchor="end" x="1390.5" y="1039.5">10</text>
<text font-size="29.26" text-anchor="middle" textLength="104.5" lengthAdjust="spacingAndGlyphs" x="1269.3" y="1073.3">UMAP 1</text>
<text font-size="29.26" text-anchor="middle" textLength="105" lengthAdjust="spacingAndGlyphs" transform="translate(1071 833) rotate(-90)">UMAP 2</text>
<text font-size="21.21" textLength="48" lengthAdjust="spacingAndGlyphs" x="1143.4" y="686.8">CD4<tspan font-size="15.5" dy="-6.5">+</tspan></text>
<text font-size="21.21" textLength="58.4" lengthAdjust="spacingAndGlyphs" x="1143.4" y="711.9">T cells</text>
<text font-size="21.21" textLength="49" lengthAdjust="spacingAndGlyphs" x="1133.3" y="907.5">CD8<tspan font-size="15.5" dy="-6.5">+</tspan></text>
<text font-size="21.21" textLength="58.4" lengthAdjust="spacingAndGlyphs" x="1123.4" y="931.2">T cells</text>
<text font-size="21.21" textLength="80" lengthAdjust="spacingAndGlyphs" x="1249" y="765.8">T<tspan font-size="13.5" dy="5">reg</tspan><tspan dy="-5"> cells</tspan></text>
<text font-size="21.21" textLength="68.5" lengthAdjust="spacingAndGlyphs" x="1312" y="812.5">Cycling</text>
<text font-size="21.21" textLength="94.5" lengthAdjust="spacingAndGlyphs" x="1312" y="836.5">NK/T cells</text>
<text font-size="21.21" textLength="75.5" lengthAdjust="spacingAndGlyphs" x="1243.5" y="1002">NK cells</text>
<circle cx="1448.4" cy="829.3" r="9.3" fill="#00728a"/>
<circle cx="1448.4" cy="858.2" r="9.3" fill="#a50b3c"/>
<text font-size="20.69" textLength="67.3" lengthAdjust="spacingAndGlyphs" x="1467.5" y="834.8">Control</text>
<text font-size="20.69" textLength="92.8" lengthAdjust="spacingAndGlyphs" x="1467.5" y="864.8">COVID-19</text>
<g transform="translate(1023.67 653.975) scale(0.381 0.3487)">
<g filter="url(#rough3)">
<path d="M1198.4 665.4C1202.1 664.6 1208.3 665.7 1212.0 668.8C1215.7 672.0 1218.8 678.2 1220.5 684.1C1222.2 690.1 1221.0 698.3 1222.2 704.5C1223.3 710.7 1226.1 715.8 1227.2 721.4C1228.4 727.1 1229.2 732.7 1228.9 738.4C1228.7 744.1 1225.3 750.3 1225.6 755.4C1225.8 760.5 1228.9 765.6 1230.6 768.9C1232.3 772.3 1236.6 772.9 1235.7 775.7C1234.9 778.6 1229.5 782.5 1225.6 785.9C1221.6 789.3 1216.5 793.3 1212.0 796.1C1207.5 798.9 1203.5 800.6 1198.4 802.9C1193.3 805.1 1187.1 807.4 1181.4 809.7C1175.8 811.9 1169.6 815.9 1164.5 816.5C1159.4 817.0 1154.3 817.0 1150.9 813.1C1147.5 809.1 1145.8 798.9 1144.1 792.7C1142.4 786.5 1142.7 781.4 1140.7 775.7C1138.7 770.1 1134.5 764.4 1132.2 758.8C1130.0 753.1 1127.4 747.5 1127.1 741.8C1126.9 736.1 1128.3 729.9 1130.5 724.8C1132.8 719.7 1136.2 715.2 1140.7 711.3C1145.2 707.3 1151.5 704.5 1157.7 701.1C1163.9 697.7 1172.7 695.4 1178.0 690.9C1183.4 686.4 1186.5 678.2 1189.9 673.9C1193.3 669.7 1194.7 666.3 1198.4 665.4Z" fill="#a50b3c" />
<path d="M1259.5 774.0C1262.3 774.0 1264.3 781.1 1266.3 785.9C1268.3 790.7 1269.7 796.7 1271.4 802.9C1273.1 809.1 1275.3 816.5 1276.5 823.2C1277.6 830.0 1278.7 836.8 1278.1 843.6C1277.6 850.4 1275.6 858.3 1273.1 864.0C1270.5 869.6 1266.8 874.4 1262.9 877.5C1258.9 880.6 1253.8 883.2 1249.3 882.6C1244.8 882.1 1239.1 878.4 1235.7 874.1C1232.3 869.9 1230.4 863.4 1228.9 857.2C1227.5 850.9 1227.0 843.6 1227.2 836.8C1227.5 830.0 1228.7 822.7 1230.6 816.5C1232.6 810.2 1236.0 804.6 1239.1 799.5C1242.2 794.4 1245.9 790.2 1249.3 785.9C1252.7 781.7 1256.7 774.0 1259.5 774.0Z" fill="#a50b3c" />
<path d="M1150.9 813.1C1156.0 808.0 1171.3 812.5 1181.4 809.7C1191.6 806.8 1203.8 801.7 1212.0 796.1C1220.2 790.4 1225.6 779.4 1230.6 775.7C1235.7 772.1 1241.1 771.8 1242.5 774.0C1243.9 776.3 1241.4 783.9 1239.1 789.3C1236.9 794.7 1232.3 800.6 1228.9 806.3C1225.6 811.9 1221.0 817.0 1218.8 823.2C1216.5 829.5 1216.2 836.8 1215.4 843.6C1214.5 850.4 1213.4 857.2 1213.7 864.0C1214.0 870.7 1217.4 877.5 1217.1 884.3C1216.8 891.1 1214.5 898.5 1212.0 904.7C1209.4 910.9 1205.2 917.7 1201.8 921.6C1198.4 925.6 1195.0 930.7 1191.6 928.4C1188.2 926.2 1185.4 915.4 1181.4 908.1C1177.5 900.7 1172.1 891.7 1167.9 884.3C1163.6 877.0 1158.8 871.3 1156.0 864.0C1153.2 856.6 1151.7 848.7 1150.9 840.2C1150.1 831.7 1145.8 818.1 1150.9 813.1Z" fill="#a50b3c" />
<path d="M1201.8 921.6C1206.0 918.2 1211.4 913.7 1217.1 911.5C1222.7 909.2 1230.4 908.1 1235.7 908.1C1241.1 908.1 1247.3 906.9 1249.3 911.5C1251.3 916.0 1249.3 926.7 1247.6 935.2C1245.9 943.7 1242.0 955.0 1239.1 962.4C1236.3 969.7 1234.0 974.5 1230.6 979.3C1227.2 984.1 1222.4 989.2 1218.8 991.2C1215.1 993.2 1212.0 993.2 1208.6 991.2C1205.2 989.2 1201.0 985.3 1198.4 979.3C1195.9 973.4 1194.4 963.5 1193.3 955.6C1192.2 947.7 1190.2 937.5 1191.6 931.8C1193.0 926.2 1197.6 925.0 1201.8 921.6Z" fill="#a50b3c" />
<path d="M1230.6 729.9C1234.3 727.7 1244.2 724.3 1249.3 724.8C1254.4 725.4 1258.6 729.9 1261.2 733.3C1263.7 736.7 1265.4 742.1 1264.6 745.2C1263.7 748.3 1259.2 749.7 1256.1 752.0C1253.0 754.2 1249.6 756.5 1245.9 758.8C1242.2 761.0 1237.4 766.1 1234.0 765.6C1230.6 765.0 1226.7 759.9 1225.6 755.4C1224.4 750.8 1226.4 742.6 1227.2 738.4C1228.1 734.2 1227.0 732.2 1230.6 729.9Z" fill="#a50b3c" opacity="0.55"/>
<path d="M1259.5 774.0C1262.3 774.0 1264.3 781.1 1266.3 785.9C1268.3 790.7 1269.7 796.7 1271.4 802.9C1273.1 809.1 1275.3 816.5 1276.5 823.2C1277.6 830.0 1278.7 836.8 1278.1 843.6C1277.6 850.4 1275.6 858.3 1273.1 864.0C1270.5 869.6 1266.8 874.4 1262.9 877.5C1258.9 880.6 1253.8 883.2 1249.3 882.6C1244.8 882.1 1239.1 878.4 1235.7 874.1C1232.3 869.9 1230.4 863.4 1228.9 857.2C1227.5 850.9 1227.0 843.6 1227.2 836.8C1227.5 830.0 1228.7 822.7 1230.6 816.5C1232.6 810.2 1236.0 804.6 1239.1 799.5C1242.2 794.4 1245.9 790.2 1249.3 785.9C1252.7 781.7 1256.7 774.0 1259.5 774.0Z" fill="#00728a" opacity="0.45"/>
<path d="M1292.3 775.0C1293.8 772.4 1297.5 769.8 1301.3 768.3C1305.0 766.8 1310.2 765.7 1314.7 766.1C1319.1 766.5 1323.6 769.4 1328.0 770.6C1332.5 771.7 1337.4 771.3 1341.4 772.8C1345.5 774.3 1349.6 776.9 1352.6 779.5C1355.6 782.1 1356.3 785.4 1359.3 788.4C1362.3 791.4 1366.0 794.9 1370.5 797.4C1374.9 799.8 1383.1 801.1 1386.1 802.9C1389.1 804.8 1389.8 807.4 1388.3 808.5C1386.8 809.6 1380.9 810.0 1377.2 809.6C1373.4 809.3 1369.7 807.6 1366.0 806.3C1362.3 805.0 1358.6 803.3 1354.8 801.8C1351.1 800.3 1347.4 797.7 1343.7 797.4C1340.0 797.0 1336.2 798.1 1332.5 799.6C1328.8 801.1 1324.3 805.9 1321.4 806.3C1318.4 806.7 1317.3 803.3 1314.7 801.8C1312.0 800.3 1308.7 798.8 1305.7 797.4C1302.7 795.9 1299.0 795.1 1296.8 792.9C1294.6 790.7 1293.1 786.9 1292.3 784.0C1291.6 781.0 1290.8 777.6 1292.3 775.0Z" fill="#a50b3c" opacity="0.9"/>
<path d="M1362.7 706.9C1363.6 707.5 1364.1 712.3 1364.9 717.0C1365.6 721.6 1366.9 729.6 1367.1 734.8C1367.3 740.0 1366.7 743.8 1366.0 748.2C1365.3 752.7 1363.8 757.5 1362.7 761.6C1361.5 765.7 1360.4 769.4 1359.3 772.8C1358.2 776.1 1357.3 780.4 1356.0 781.7C1354.7 783.0 1351.7 782.5 1351.5 780.6C1351.3 778.7 1353.7 774.1 1354.8 770.6C1356.0 767.0 1357.3 763.1 1358.2 759.4C1359.1 755.7 1360.0 752.3 1360.4 748.2C1360.8 744.1 1360.7 739.3 1360.4 734.8C1360.2 730.4 1359.0 725.0 1358.9 721.4C1358.7 717.9 1358.7 716.0 1359.3 713.6C1359.9 711.2 1361.7 706.4 1362.7 706.9Z" fill="#a50b3c" opacity="0.5"/>
<path d="M1337.0 846.5C1338.8 844.2 1342.2 843.1 1345.9 842.0C1349.6 840.9 1355.2 839.4 1359.3 839.8C1363.4 840.1 1367.5 841.6 1370.5 844.2C1373.4 846.8 1375.9 850.6 1377.2 855.4C1378.5 860.2 1379.0 867.7 1378.3 873.3C1377.5 878.8 1375.9 886.7 1372.7 888.9C1369.5 891.1 1363.8 886.3 1359.3 886.7C1354.8 887.0 1349.6 891.9 1345.9 891.1C1342.2 890.4 1339.0 885.9 1337.0 882.2C1334.9 878.5 1334.0 873.3 1333.6 868.8C1333.3 864.3 1334.2 859.1 1334.7 855.4C1335.3 851.7 1335.1 848.7 1337.0 846.5Z" fill="#a50b3c" opacity="0.7"/>
<path d="M1322.5 672.3C1323.4 671.2 1326.9 670.5 1328.5 671.2C1330.1 672.0 1331.8 674.8 1332.1 676.8C1332.4 678.8 1331.3 682.2 1330.3 683.0C1329.2 683.9 1327.0 682.6 1325.8 681.7C1324.6 680.8 1323.7 679.5 1323.1 677.9C1322.6 676.3 1321.6 673.4 1322.5 672.3Z" fill="#a50b3c" opacity="0.8"/>
</g>
<path d="M1338.8 707.1h0M1343.4 721.7h0M1341.5 712.2h0M1344.8 725.1h0M1330.2 683.5h0M1334.6 703.2h0M1335.0 702.9h0M1337.4 704.2h0M1341.4 710.4h0M1344.4 723.7h0M1338.0 701.8h0M1335.5 694.1h0M1341.1 715.2h0M1331.6 688.4h0M1344.8 717.8h0M1343.5 723.8h0M1341.8 712.4h0M1339.4 706.7h0M1338.3 707.8h0M1336.6 706.3h0M1334.0 746.9h0M1346.3 750.0h0M1337.9 763.1h0M1332.9 748.9h0M1333.2 740.3h0M1351.0 733.7h0M1338.1 746.1h0M1353.4 758.7h0M1335.3 738.2h0M1358.3 717.9h0M1341.6 751.7h0M1349.3 770.4h0M1354.1 737.4h0M1333.5 745.1h0M1333.4 757.2h0M1342.8 764.3h0M1349.2 771.2h0M1346.4 746.9h0M1341.5 771.8h0M1357.7 727.2h0M1349.6 752.4h0M1352.2 721.9h0M1359.1 726.9h0M1337.2 754.8h0M1349.8 751.6h0M1357.1 730.9h0M1334.5 763.3h0M1346.8 762.9h0M1355.5 728.2h0M1345.1 764.7h0M1334.7 749.0h0M1348.4 722.0h0M1350.7 739.5h0M1340.2 752.5h0M1330.5 752.6h0M1344.7 728.2h0M1349.7 728.5h0M1334.9 741.4h0M1354.4 725.4h0M1349.9 751.1h0M1349.5 749.8h0M1346.7 767.0h0M1343.7 724.5h0M1354.1 730.4h0M1346.0 754.8h0M1346.7 760.4h0M1358.5 731.2h0M1340.8 747.5h0M1344.5 740.4h0M1348.7 766.3h0M1355.3 734.0h0M1351.6 759.5h0M1335.0 754.3h0M1357.4 738.1h0M1357.6 731.8h0M1311.5 747.2h0M1311.0 748.3h0M1314.9 745.7h0M1310.6 746.9h0M1316.9 740.4h0M1310.0 759.8h0M1315.0 748.1h0M1309.4 750.4h0M1310.7 747.9h0M1312.0 764.5h0M1309.4 751.2h0M1315.8 746.8h0M1311.8 755.4h0M1318.3 739.4h0M1311.5 746.5h0M1281.2 810.5h0M1290.0 804.3h0M1284.5 807.8h0M1292.9 798.4h0M1295.2 792.4h0M1285.6 805.7h0M1287.6 807.2h0M1287.0 803.3h0M1290.7 798.0h0M1286.1 807.1h0M1292.8 796.3h0M1363.6 816.8h0M1367.0 825.8h0M1365.5 823.9h0M1364.9 831.8h0M1361.5 811.6h0M1363.7 840.7h0M1364.5 817.3h0M1367.4 834.2h0M1361.6 838.2h0M1367.9 829.0h0M1364.7 818.9h0M1362.0 824.7h0M1364.3 827.3h0M1361.1 814.3h0M1367.2 823.1h0M1363.3 819.9h0M1367.1 831.4h0M1361.2 824.0h0M1360.9 822.3h0M1362.9 837.1h0M1353.1 778.3h0M1359.7 781.0h0M1359.1 775.5h0M1359.7 787.1h0M1354.6 781.1h0M1362.0 786.5h0M1358.5 785.1h0M1353.9 778.3h0M1361.5 787.0h0M1361.3 782.4h0M1358.2 781.4h0M1359.4 787.1h0M1207.2 913.4h0M1225.2 884.6h0M1232.6 882.5h0M1226.0 900.9h0M1231.7 898.2h0M1227.3 897.0h0M1229.7 892.3h0M1225.3 890.3h0M1230.3 882.7h0M1229.7 889.1h0M1236.0 884.8h0M1232.0 887.0h0M1235.4 906.2h0M1216.9 899.3h0M1220.4 906.7h0M1243.7 897.8h0M1246.7 904.0h0M1231.3 886.1h0M1224.5 893.9h0M1231.7 881.3h0M1236.1 898.2h0M1237.1 899.4h0M1226.5 905.4h0M1238.4 892.1h0M1219.9 888.6h0M1243.2 891.0h0M1232.6 899.5h0M1209.7 912.2h0M1242.0 905.0h0M1216.3 908.6h0M1228.1 878.1h0M1215.2 909.6h0M1225.1 879.5h0M1237.6 879.1h0M1211.2 906.3h0M1219.5 896.5h0M1236.5 876.9h0M1225.0 888.9h0M1228.2 881.4h0M1247.2 907.6h0M1243.1 903.3h0M1213.8 896.5h0M1230.1 906.9h0M1242.9 883.6h0M1245.7 892.8h0M1222.7 882.9h0M1235.1 900.5h0M1233.9 874.6h0M1229.0 882.7h0M1249.7 900.2h0M1241.5 882.4h0M1216.6 902.9h0M1252.0 891.6h0M1239.3 893.4h0M1227.4 904.0h0M1217.3 899.5h0M1226.2 899.4h0M1246.7 904.6h0M1236.1 900.3h0M1235.5 881.9h0M1214.6 892.1h0M1231.8 902.7h0M1236.1 902.0h0M1240.5 895.1h0M1230.9 899.4h0M1241.8 904.9h0M1244.1 908.2h0M1208.7 914.4h0M1218.3 909.6h0M1217.1 878.3h0M1219.6 909.8h0M1224.4 899.1h0M1223.2 888.0h0M1219.4 893.9h0M1228.6 900.6h0M1223.5 886.8h0M1238.9 880.8h0M1241.1 890.0h0M1226.5 885.6h0M1239.7 890.3h0M1230.1 903.6h0M1231.7 889.1h0M1230.8 902.4h0M1219.2 877.5h0M1227.9 898.4h0M1230.7 883.5h0M1237.6 876.2h0M1227.4 879.8h0M1231.3 899.9h0M1243.6 901.1h0M1227.6 882.9h0M1232.5 875.5h0M1231.0 903.3h0M1239.9 896.9h0M1231.1 888.9h0M1233.2 882.8h0M1226.7 894.0h0M1217.3 895.5h0M1225.8 892.4h0M1215.6 908.1h0M1246.7 901.7h0M1244.8 883.5h0M1223.9 877.8h0M1228.5 894.1h0M1219.4 898.7h0M1244.6 898.8h0M1222.9 905.8h0M1237.4 908.3h0M1239.5 887.8h0M1247.5 896.0h0M1241.1 904.1h0M1228.2 902.6h0M1227.0 899.1h0M1239.2 883.2h0M1218.7 893.7h0M1212.1 910.2h0M1226.6 898.9h0M1231.8 875.3h0M1220.1 907.3h0M1219.3 910.0h0M1219.1 824.6h0M1215.4 852.1h0M1215.4 848.7h0M1226.8 835.3h0M1225.5 831.5h0M1225.7 851.8h0M1225.1 815.0h0M1237.7 788.5h0M1219.8 831.7h0M1227.4 850.3h0M1223.2 864.5h0M1216.7 857.5h0M1225.8 815.9h0M1221.6 836.2h0M1215.5 849.4h0M1231.9 786.9h0M1235.0 777.7h0M1233.2 798.5h0M1223.1 844.9h0M1230.5 799.0h0M1219.8 828.9h0M1235.5 782.9h0M1239.1 785.2h0M1228.1 851.5h0M1218.9 834.9h0M1234.0 798.6h0M1213.9 863.7h0M1215.1 855.2h0M1230.7 813.3h0M1223.9 867.0h0M1236.9 794.8h0M1228.9 809.4h0M1234.5 790.5h0M1223.9 861.1h0M1218.7 852.1h0M1219.8 840.0h0M1231.3 874.4h0M1227.1 856.3h0M1227.8 851.4h0M1231.0 809.7h0M1236.9 782.6h0M1222.6 817.2h0M1220.3 857.1h0M1221.0 823.2h0M1222.4 820.8h0M1222.6 823.1h0M1220.8 871.7h0M1226.0 840.8h0M1238.2 785.0h0M1226.6 842.0h0M1215.4 867.6h0M1223.9 839.6h0M1219.3 839.3h0M1227.2 858.9h0M1215.4 862.6h0M1233.3 799.1h0M1232.7 777.9h0M1236.1 776.7h0M1217.1 849.4h0M1214.6 860.0h0" stroke="#a50b3c" stroke-width="3.5" stroke-linecap="round" fill="none" />
<path d="M1162.1 713.3h0M1233.1 772.9h0M1210.5 762.5h0M1154.6 726.6h0M1198.5 671.3h0M1198.1 755.0h0M1183.4 760.8h0M1220.8 748.4h0M1158.8 739.3h0M1183.2 688.9h0M1187.5 773.4h0M1161.5 703.0h0M1182.1 752.7h0M1190.5 680.1h0M1210.8 692.2h0M1186.6 700.4h0M1173.5 773.5h0M1163.4 744.6h0M1181.5 787.6h0M1131.1 735.9h0M1228.6 775.4h0M1142.8 724.7h0M1224.2 728.8h0M1179.9 763.3h0M1156.6 788.7h0M1213.6 775.8h0M1179.3 791.8h0M1162.1 783.2h0M1197.0 698.0h0M1197.4 730.9h0M1210.0 743.1h0M1174.4 741.6h0M1173.1 698.2h0M1220.5 730.9h0M1208.6 714.6h0M1161.5 811.8h0M1198.7 791.0h0M1188.8 717.3h0M1184.9 726.1h0M1182.5 783.1h0M1200.5 748.1h0M1185.1 766.3h0M1220.9 743.4h0M1227.2 780.0h0M1170.9 783.5h0M1148.1 734.9h0M1193.3 720.5h0M1203.7 708.4h0M1220.5 690.9h0M1222.7 763.2h0M1171.8 714.2h0M1168.7 703.9h0M1177.9 757.9h0M1168.8 757.3h0M1198.7 749.3h0M1204.6 755.6h0M1200.2 694.3h0M1203.8 679.6h0M1223.7 754.7h0M1179.0 790.2h0M1169.1 698.3h0M1147.6 748.6h0M1209.4 729.8h0M1196.7 779.3h0M1181.0 734.7h0M1207.4 738.4h0M1154.7 738.8h0M1171.0 774.9h0M1168.1 785.2h0M1221.2 749.6h0M1168.8 764.2h0M1188.0 720.1h0M1166.7 810.4h0M1172.9 727.8h0M1219.2 717.5h0M1160.8 786.4h0M1156.2 720.0h0M1155.7 749.0h0M1182.4 797.7h0M1168.2 745.6h0M1140.6 745.6h0M1224.5 779.0h0M1216.8 760.3h0M1157.9 801.8h0M1164.8 786.1h0M1160.4 806.1h0M1207.3 776.1h0M1162.0 729.3h0M1144.1 774.6h0M1192.1 679.5h0M1175.7 731.8h0M1225.4 760.3h0M1200.3 676.5h0M1182.1 800.2h0M1165.6 717.9h0M1199.7 786.4h0M1131.2 755.1h0M1165.9 781.3h0M1190.6 716.7h0M1165.9 758.6h0M1137.4 754.6h0M1133.7 757.7h0M1192.5 764.8h0M1162.4 715.2h0M1158.4 754.9h0M1211.6 743.4h0M1211.0 778.7h0M1131.9 734.4h0M1227.0 743.5h0M1209.7 791.0h0M1170.2 777.5h0M1171.2 730.2h0M1190.1 768.1h0M1171.1 739.4h0M1171.8 791.4h0M1206.5 775.7h0M1146.9 786.4h0M1198.3 675.3h0M1156.2 728.5h0M1197.6 738.8h0M1138.0 739.8h0M1211.8 716.9h0M1136.9 743.1h0M1220.5 693.5h0M1214.7 786.1h0M1177.5 696.0h0M1165.9 701.3h0M1139.2 731.4h0M1199.3 668.7h0M1150.2 719.2h0M1149.8 711.1h0M1167.9 703.9h0M1217.0 786.3h0M1157.1 802.8h0M1156.0 746.0h0M1166.9 737.4h0M1213.8 721.4h0M1163.2 758.1h0M1181.4 802.9h0M1182.1 777.4h0M1190.1 786.3h0M1139.6 728.4h0M1174.9 806.2h0M1155.2 750.5h0M1191.6 712.1h0M1202.0 712.0h0M1212.4 754.7h0M1148.2 786.2h0M1147.0 764.4h0M1169.7 744.6h0M1147.5 723.2h0M1174.0 791.0h0M1213.4 676.5h0M1214.6 684.3h0M1159.0 784.1h0M1208.4 724.2h0M1226.4 785.0h0M1203.8 705.8h0M1147.6 733.9h0M1166.7 781.1h0M1193.0 711.2h0M1189.8 748.5h0M1219.1 722.0h0M1199.0 753.8h0M1150.7 793.6h0M1150.2 735.7h0M1151.7 790.3h0M1161.6 777.8h0M1146.4 759.1h0M1164.8 752.1h0M1172.1 701.7h0M1165.7 804.7h0M1205.2 740.7h0M1218.1 694.9h0M1174.3 749.5h0M1187.2 769.7h0M1176.1 735.2h0M1191.8 767.0h0M1136.1 747.5h0M1187.9 758.7h0M1193.4 680.1h0M1177.2 755.6h0M1193.4 680.2h0M1162.1 728.1h0M1188.0 763.2h0M1158.4 776.9h0M1182.9 803.9h0M1156.9 780.6h0M1177.3 801.3h0M1211.7 759.8h0M1185.5 758.3h0M1215.0 682.5h0M1174.2 695.2h0M1199.5 695.0h0M1187.2 791.2h0M1183.9 789.4h0M1178.6 715.2h0M1179.6 790.4h0M1218.4 704.7h0M1192.0 765.1h0M1177.9 882.4h0M1181.9 882.0h0M1198.1 831.3h0M1207.9 826.6h0M1178.7 844.4h0M1183.6 827.4h0M1184.5 810.2h0M1178.8 863.9h0M1189.1 920.6h0M1161.5 845.4h0M1230.9 777.5h0M1215.2 816.8h0M1216.6 800.0h0M1191.1 835.2h0M1177.5 899.6h0M1219.9 789.3h0M1196.1 916.4h0M1160.0 818.2h0M1162.9 864.2h0M1223.0 793.6h0M1218.1 791.6h0M1202.2 867.6h0M1168.4 857.1h0M1166.3 818.6h0M1208.0 839.5h0M1205.4 852.3h0M1222.3 788.5h0M1166.2 862.2h0M1187.4 916.8h0M1224.9 787.8h0M1180.7 895.6h0M1202.3 867.9h0M1190.3 887.4h0M1171.5 853.9h0M1213.8 881.6h0M1197.7 917.0h0M1181.8 903.9h0M1212.3 880.3h0M1196.8 870.8h0M1151.4 838.9h0M1240.2 776.5h0M1177.1 829.7h0M1210.8 825.4h0M1198.1 854.0h0M1233.2 797.6h0M1221.7 807.3h0M1174.4 869.3h0M1197.0 896.4h0M1200.6 829.6h0M1151.6 834.4h0M1160.8 836.4h0M1193.8 869.9h0M1164.9 864.3h0M1183.8 870.5h0M1179.4 896.4h0M1219.2 791.4h0M1232.3 778.2h0M1158.1 816.3h0M1209.6 868.0h0M1208.2 815.9h0M1209.7 804.9h0M1185.3 904.7h0M1167.1 840.4h0M1196.9 924.9h0M1213.4 827.7h0M1194.3 882.9h0M1191.3 841.5h0M1222.9 788.0h0M1204.1 811.3h0M1165.5 836.3h0M1198.9 829.3h0M1160.5 831.5h0M1192.1 868.5h0M1197.4 875.4h0M1194.4 808.8h0M1208.3 873.7h0M1205.3 800.6h0M1159.7 815.9h0M1172.0 814.1h0M1175.1 870.1h0M1165.3 853.9h0M1165.7 867.1h0M1214.1 890.4h0M1201.0 915.5h0M1194.9 912.8h0M1157.3 829.8h0M1172.3 825.2h0M1181.6 876.5h0M1186.2 893.7h0M1200.9 870.5h0M1163.9 854.4h0M1227.2 804.0h0M1182.6 823.7h0M1192.9 918.1h0M1157.9 821.2h0M1204.1 876.8h0M1170.7 857.0h0M1165.0 822.5h0M1195.8 805.6h0M1154.8 830.8h0M1202.9 867.7h0M1193.6 815.7h0M1169.5 872.1h0M1167.3 832.7h0M1221.5 796.0h0M1153.6 835.9h0M1168.1 882.3h0M1204.9 910.6h0M1189.1 896.7h0M1166.5 868.0h0M1191.5 815.9h0M1178.7 901.1h0M1211.6 871.1h0M1201.7 903.0h0M1203.2 805.6h0M1227.8 800.0h0M1165.3 843.1h0M1209.2 890.3h0M1203.0 871.6h0M1188.0 858.2h0M1193.6 864.4h0M1169.0 850.8h0M1194.4 838.1h0M1171.7 828.7h0M1186.9 831.4h0M1200.6 892.4h0M1199.2 882.8h0M1165.7 813.4h0M1162.8 820.7h0M1209.2 892.2h0M1197.7 936.4h0M1204.1 939.8h0M1222.1 914.5h0M1247.2 927.5h0M1220.2 917.2h0M1238.3 956.8h0M1213.0 986.9h0M1239.8 932.2h0M1243.4 937.1h0M1221.1 968.5h0M1205.2 954.0h0M1214.6 932.8h0M1217.7 919.8h0M1215.5 921.7h0M1221.9 959.0h0M1229.3 945.7h0M1220.9 968.5h0M1218.7 933.3h0M1196.5 948.5h0M1242.5 913.2h0M1244.8 935.5h0M1234.4 918.3h0M1208.0 954.5h0M1242.2 940.6h0M1201.4 966.7h0M1230.3 917.9h0M1204.1 955.9h0M1203.8 967.1h0M1206.2 986.9h0M1197.4 945.3h0M1230.7 912.7h0M1215.9 946.9h0M1226.1 945.0h0M1206.2 985.6h0M1210.9 982.3h0M1240.6 928.8h0M1212.8 957.2h0M1207.0 962.2h0M1228.2 937.5h0M1230.4 967.1h0M1212.7 982.9h0M1220.7 922.8h0M1213.5 983.2h0M1243.0 919.6h0M1212.0 983.9h0M1240.4 937.8h0M1227.6 930.5h0M1206.5 929.0h0M1223.8 980.8h0M1245.6 921.9h0M1235.2 915.4h0M1231.2 940.8h0M1215.7 942.9h0M1245.2 914.4h0M1210.1 960.6h0M1203.5 947.0h0M1214.9 939.9h0M1196.9 951.9h0M1202.9 933.4h0M1193.9 946.8h0M1267.3 819.7h0M1255.6 875.1h0M1255.9 790.7h0M1269.6 798.8h0M1231.0 860.3h0M1246.2 878.5h0M1263.8 845.9h0M1258.8 790.0h0M1244.1 840.6h0M1250.7 878.1h0M1255.7 872.3h0M1266.9 803.5h0M1250.9 854.3h0M1264.3 819.6h0M1257.0 798.7h0M1249.9 835.7h0M1260.9 784.1h0M1256.8 808.7h0M1261.4 798.3h0M1259.2 817.7h0M1243.7 837.6h0M1255.8 836.5h0M1248.2 853.2h0M1228.0 836.6h0M1245.9 865.7h0M1268.5 862.9h0M1259.6 781.3h0M1267.2 847.0h0M1259.5 861.4h0M1251.6 851.3h0M1266.6 792.4h0M1265.5 849.2h0M1268.1 846.7h0M1263.6 861.5h0M1233.4 868.0h0M1257.9 852.4h0M1269.4 856.2h0M1257.2 828.8h0M1243.6 850.0h0M1248.4 854.4h0M1257.6 784.9h0M1263.6 805.6h0M1266.3 843.0h0M1255.4 871.9h0M1240.7 812.4h0M1254.1 782.5h0M1268.0 847.6h0M1254.2 781.9h0M1245.6 825.6h0M1271.4 863.2h0M1254.4 802.8h0M1251.7 845.5h0M1245.6 848.5h0M1245.0 836.6h0M1233.2 867.1h0M1241.4 853.9h0M1266.8 850.4h0M1256.1 854.7h0M1262.5 796.8h0M1239.6 850.5h0M1238.8 855.5h0M1267.2 831.8h0M1265.4 842.1h0M1232.5 830.9h0M1246.9 791.6h0M1275.7 846.3h0M1275.0 835.7h0M1255.3 873.7h0M1241.4 814.9h0M1268.8 846.4h0M1254.1 858.2h0M1258.2 804.4h0M1256.0 828.3h0M1239.1 807.2h0M1264.4 798.0h0M1238.9 841.8h0M1234.3 840.0h0M1272.4 828.7h0M1237.0 850.0h0M1258.2 830.6h0M1241.3 837.0h0M1237.1 838.0h0M1229.6 847.6h0M1249.1 818.2h0M1264.5 795.5h0M1237.4 812.7h0M1256.9 853.4h0M1261.5 816.0h0M1234.7 839.5h0M1254.6 836.9h0M1270.5 816.7h0M1247.8 877.5h0M1264.0 861.7h0M1269.5 850.0h0M1240.5 838.8h0M1241.5 839.0h0M1247.3 803.4h0M1237.0 859.7h0M1265.1 833.3h0M1262.7 822.2h0M1259.9 861.7h0M1247.3 822.2h0M1261.1 786.0h0M1235.7 866.9h0M1254.6 855.9h0M1233.8 854.2h0M1269.8 833.8h0M1244.1 874.4h0M1251.5 863.6h0M1251.5 789.6h0M1261.1 823.9h0M1256.0 861.9h0M1250.2 808.9h0M1249.9 819.7h0M1237.8 827.3h0M1241.8 816.0h0M1275.1 851.2h0M1267.1 827.9h0M1265.7 820.5h0M1265.3 793.2h0M1272.4 815.0h0M1246.3 861.6h0M1250.0 846.1h0M1254.3 812.5h0M1275.4 827.2h0M1252.8 810.2h0M1255.3 808.9h0M1265.5 835.2h0M1239.6 874.0h0M1258.9 828.4h0M1262.1 802.4h0M1237.9 805.4h0M1242.2 831.0h0M1260.5 793.9h0M1256.0 851.5h0M1262.4 788.7h0M1255.6 857.2h0M1268.5 864.6h0M1229.2 836.8h0M1242.7 847.7h0M1355.6 851.6h0M1371.9 874.0h0M1348.6 875.6h0M1345.1 843.6h0M1356.3 868.1h0M1348.4 875.0h0M1371.2 870.7h0M1341.3 882.6h0M1343.4 878.1h0M1359.8 861.9h0M1350.5 870.9h0M1363.9 852.3h0M1346.5 869.7h0M1336.1 866.0h0M1339.5 854.0h0M1369.4 874.1h0M1362.8 879.5h0M1337.3 857.8h0M1371.5 850.8h0M1351.2 883.0h0M1370.0 863.0h0M1338.1 869.9h0M1366.7 845.7h0M1360.8 861.4h0M1365.8 869.8h0M1362.4 849.9h0M1351.8 859.0h0M1361.0 850.7h0M1373.7 863.7h0M1338.6 867.0h0M1358.8 841.4h0M1349.5 841.5h0M1362.1 879.1h0M1375.5 868.5h0M1374.6 878.3h0M1371.6 867.9h0M1343.0 862.5h0M1356.0 841.7h0M1370.6 867.7h0M1370.9 880.6h0M1366.6 853.3h0M1366.7 856.6h0M1373.3 872.1h0M1352.7 882.1h0M1357.4 864.2h0M1355.4 869.7h0M1344.3 855.7h0M1372.0 864.7h0M1342.4 884.5h0M1346.3 888.4h0M1360.1 885.1h0M1344.4 859.6h0M1367.6 866.2h0M1372.3 850.3h0M1342.4 850.1h0M1356.9 857.6h0M1374.0 874.5h0M1364.1 875.7h0M1357.1 877.4h0M1357.5 841.1h0M1330.1 798.7h0M1311.9 789.9h0M1319.3 785.3h0M1306.0 789.5h0M1345.8 777.1h0M1350.2 791.9h0M1327.8 793.1h0M1352.9 796.5h0M1300.3 794.3h0M1355.6 801.5h0M1324.5 789.8h0M1307.2 796.7h0M1362.8 797.3h0M1349.1 782.4h0M1331.9 779.6h0M1341.6 789.8h0M1352.0 790.3h0M1343.1 775.3h0M1303.3 786.6h0M1328.5 775.0h0M1319.9 791.8h0M1308.7 767.1h0M1304.3 790.5h0M1338.0 791.9h0M1362.5 791.7h0M1331.7 774.7h0M1363.0 798.7h0M1384.9 806.2h0M1322.6 790.0h0M1326.1 774.8h0M1341.8 783.8h0M1376.5 807.0h0M1318.7 783.2h0M1312.7 778.1h0M1306.6 797.5h0M1308.1 794.0h0M1352.2 794.5h0M1358.7 795.6h0M1305.4 782.0h0M1303.9 770.8h0" stroke="#fff" stroke-width="3.6" stroke-linecap="round" fill="none" opacity="0.7"/>
<path d="M1153.8 791.1h0M1143.9 774.6h0M1156.2 783.4h0M1177.2 734.0h0M1174.6 804.0h0M1174.1 746.3h0M1138.4 763.8h0M1195.9 709.4h0M1159.8 795.1h0M1163.4 727.4h0M1160.7 719.2h0M1158.5 706.0h0M1202.6 694.3h0M1206.5 672.6h0M1199.7 720.7h0M1163.0 806.8h0M1176.9 733.5h0M1181.3 734.3h0M1213.9 733.5h0M1164.7 753.8h0M1200.0 721.9h0M1155.9 717.3h0M1181.7 719.5h0M1182.5 754.7h0M1201.5 788.0h0M1160.9 804.5h0M1153.1 760.7h0M1210.3 700.3h0M1192.4 745.3h0M1169.2 743.9h0M1213.7 768.9h0M1141.5 721.4h0M1159.5 748.6h0M1184.9 706.0h0M1167.3 717.7h0M1213.7 712.0h0M1190.3 795.3h0M1180.6 761.5h0M1203.4 669.8h0M1195.0 799.8h0M1164.1 714.3h0M1216.1 752.5h0M1193.5 762.8h0M1159.3 767.8h0M1182.5 748.1h0M1147.5 765.8h0M1175.4 754.6h0M1219.7 766.0h0M1168.6 696.7h0M1162.5 741.8h0M1197.8 766.4h0M1184.5 717.4h0M1194.3 714.9h0M1157.1 748.0h0M1156.4 714.2h0M1159.2 765.7h0M1194.7 679.5h0M1169.5 782.5h0M1167.7 774.6h0M1205.3 797.3h0M1187.6 758.7h0M1190.9 710.7h0M1158.9 703.0h0M1177.9 775.7h0M1221.8 780.7h0M1218.6 709.3h0M1140.3 715.3h0M1213.3 774.7h0M1172.6 810.5h0M1196.6 773.9h0M1192.1 722.1h0M1176.2 709.7h0M1219.6 743.8h0M1197.1 742.0h0M1218.8 684.5h0M1205.4 771.4h0M1201.2 734.5h0M1201.5 678.5h0M1148.5 790.2h0M1216.9 768.9h0M1216.4 729.5h0M1150.2 779.0h0M1192.2 802.3h0M1183.7 782.6h0M1175.7 782.6h0M1214.1 699.2h0M1133.6 751.7h0M1139.7 755.4h0M1206.4 781.6h0M1198.1 706.7h0M1181.6 750.3h0M1189.3 716.4h0M1208.9 745.5h0M1213.4 695.9h0M1185.3 791.6h0M1181.8 803.3h0M1175.0 749.4h0M1196.3 683.5h0M1208.3 760.6h0M1189.5 711.0h0M1184.5 848.5h0M1177.4 880.8h0M1188.1 850.8h0M1170.7 830.2h0M1199.5 813.8h0M1191.0 873.7h0M1212.8 840.8h0M1211.0 833.4h0M1199.7 874.5h0M1175.8 875.6h0M1196.9 846.1h0M1163.5 846.8h0M1179.8 902.4h0M1183.9 810.7h0M1185.6 898.4h0M1174.2 820.3h0M1172.8 874.2h0M1200.3 844.9h0M1208.1 904.3h0M1197.4 868.4h0M1230.7 801.0h0M1184.1 893.4h0M1178.3 830.9h0M1195.5 831.5h0M1189.4 913.1h0M1213.6 878.1h0M1224.8 790.2h0M1164.0 861.8h0M1220.4 806.5h0M1207.7 834.6h0M1181.3 814.3h0M1169.9 859.2h0M1203.9 828.1h0M1209.4 883.1h0M1169.9 828.1h0M1208.0 893.4h0M1203.4 914.6h0M1198.5 844.6h0M1192.1 857.8h0M1209.9 837.0h0M1168.0 865.1h0M1161.4 857.2h0M1186.0 880.4h0M1240.2 778.7h0M1189.8 912.0h0M1229.1 789.3h0M1208.5 870.5h0M1170.9 820.2h0M1173.7 875.4h0M1182.3 905.0h0M1174.8 832.2h0M1171.0 868.1h0M1203.6 891.4h0M1201.2 807.4h0M1215.4 815.3h0M1183.9 856.4h0M1174.8 863.7h0M1195.3 837.3h0M1213.3 867.3h0M1174.3 893.8h0M1259.4 795.6h0M1244.6 828.1h0M1258.4 848.8h0M1239.2 863.0h0M1251.7 803.7h0M1256.0 829.3h0M1241.1 801.3h0M1235.3 864.5h0M1274.6 842.5h0M1271.4 821.9h0M1247.9 862.7h0M1234.5 856.8h0M1242.7 859.5h0M1236.0 831.1h0M1238.9 837.5h0M1239.1 805.5h0M1250.6 790.0h0M1263.7 847.3h0M1234.8 818.9h0M1274.5 824.2h0M1238.5 807.7h0M1262.3 817.9h0M1236.2 851.9h0M1227.9 834.5h0M1265.2 796.3h0M1259.5 871.3h0M1273.7 848.5h0M1277.0 843.4h0M1267.6 869.6h0M1250.1 855.0h0M1272.8 851.1h0M1257.9 816.3h0M1272.7 847.3h0M1248.9 796.8h0M1241.4 804.4h0M1255.2 877.3h0M1228.7 835.9h0M1273.5 855.2h0M1249.4 878.6h0M1241.0 857.6h0M1271.2 824.3h0M1248.0 875.7h0M1275.7 829.4h0M1254.7 855.4h0M1250.0 826.9h0M1270.6 822.2h0M1234.1 860.3h0M1268.6 844.1h0M1237.2 851.5h0M1260.9 845.2h0M1263.7 842.0h0M1252.5 843.8h0M1254.9 787.1h0M1237.2 874.8h0M1262.7 819.1h0M1258.4 789.4h0M1247.6 854.2h0M1265.9 832.2h0M1230.1 835.7h0M1236.3 872.5h0M1257.3 810.8h0M1263.2 840.5h0M1258.5 792.9h0M1265.9 785.7h0M1250.9 852.7h0M1270.3 801.2h0M1247.5 811.5h0M1246.3 826.1h0M1242.1 833.4h0M1247.9 837.5h0M1257.6 878.9h0M1242.5 873.0h0M1232.5 832.9h0M1246.1 807.8h0M1247.1 841.0h0M1253.8 850.0h0M1274.4 857.4h0M1245.7 845.6h0M1236.8 809.6h0M1265.9 806.2h0M1238.1 820.9h0M1260.4 851.8h0M1263.5 851.8h0M1231.4 829.2h0M1260.8 803.7h0M1262.2 860.0h0M1245.7 856.3h0M1262.4 789.7h0M1232.8 841.7h0M1238.8 825.4h0M1243.0 822.2h0M1258.3 806.3h0M1255.3 820.5h0M1255.0 868.4h0M1268.3 845.2h0M1269.0 805.3h0M1266.5 848.4h0M1261.6 792.7h0M1253.1 796.5h0M1236.1 859.2h0M1258.1 826.3h0M1235.6 827.3h0M1241.0 854.0h0M1251.8 783.1h0M1266.1 818.3h0M1254.4 787.1h0M1267.9 841.2h0M1257.2 781.3h0M1240.4 873.4h0M1256.2 867.5h0M1249.5 804.4h0M1242.5 855.8h0M1252.9 840.9h0M1238.1 863.9h0M1256.2 787.2h0M1259.6 797.6h0M1248.0 832.8h0M1275.0 827.8h0M1255.7 787.4h0M1273.9 820.2h0M1261.4 850.7h0M1258.7 793.7h0M1241.2 866.9h0M1250.0 859.0h0M1249.7 853.5h0M1250.5 822.3h0M1250.5 851.0h0M1255.7 793.8h0M1269.8 818.0h0M1244.6 829.3h0M1201.5 966.7h0M1198.0 974.2h0M1216.5 935.2h0M1238.0 958.1h0M1244.6 940.3h0M1232.4 941.2h0M1202.5 966.5h0M1210.9 918.5h0M1211.8 928.6h0M1201.5 938.1h0M1237.3 965.9h0M1245.0 925.2h0M1211.9 966.4h0M1234.9 910.4h0M1203.4 947.6h0M1236.2 923.5h0M1213.1 938.4h0M1210.1 937.8h0M1217.7 961.8h0M1227.4 915.1h0M1197.2 936.8h0M1227.6 969.2h0M1203.4 937.5h0M1204.2 966.0h0M1219.7 954.7h0M1196.7 946.0h0M1206.2 980.1h0M1213.8 986.4h0M1198.7 944.4h0M1197.4 928.8h0M1232.3 871.5h0M1236.4 787.2h0M1218.8 869.2h0M1219.5 875.4h0M1217.4 832.2h0M1215.2 861.8h0M1234.8 789.4h0M1225.2 857.9h0M1219.0 860.0h0M1225.4 851.3h0M1218.7 839.5h0M1236.5 797.2h0M1225.3 864.3h0M1230.5 873.6h0M1220.0 855.2h0M1222.7 875.9h0M1225.5 870.6h0M1228.9 826.2h0M1239.9 777.3h0M1227.4 832.8h0M1234.3 776.0h0M1232.0 799.0h0M1239.2 778.9h0M1218.2 831.2h0M1232.6 792.6h0M1238.3 779.9h0M1233.0 783.7h0M1221.1 870.4h0M1239.0 784.8h0M1221.5 840.7h0" stroke="#00728a" stroke-width="3.6" stroke-linecap="round" fill="none" opacity="0.8"/>
<path d="M1134.0 746.7h0M1138.3 757.6h0M1138.0 721.8h0M1131.5 739.8h0M1142.0 725.7h0M1139.5 735.7h0M1132.9 736.2h0M1134.6 740.8h0M1139.5 727.0h0M1132.6 742.5h0M1140.2 729.0h0M1131.3 752.9h0M1133.2 724.7h0M1140.2 718.4h0M1133.3 741.3h0M1131.3 739.5h0M1132.0 751.9h0M1139.7 725.5h0M1131.1 746.6h0M1137.0 743.0h0M1139.6 713.4h0M1138.5 752.6h0M1135.1 720.6h0M1130.6 743.6h0M1135.3 720.4h0M1128.4 744.5h0M1131.8 737.8h0M1139.3 722.9h0" stroke="#00728a" stroke-width="4" stroke-linecap="round" fill="none" />
<path d="M1385.0 806.3h0M1387.2 808.1h0M1382.7 805.2h0M1364.9 723.7h0M1366.0 728.1h0M1365.6 719.2h0M1337.0 869.9h0" stroke="#00728a" stroke-width="8" stroke-linecap="round" fill="none" />
</g>
<rect x="1439.6" y="880.7" width="127.1" height="124.3" fill="none" stroke="#231f20" stroke-width="2.2"/>
<g transform="translate(1071.5 596) scale(1.1 1)"><text font-size="34" font-weight="bold" x="0" y="0" stroke="#000" stroke-width="0.7">g</text></g>
</g>
<g id="panel_h">
<g transform="translate(902.945 175.373) scale(0.681 0.531)">
<g filter="url(#rough3)">
<path d="M1198.4 665.4C1202.1 664.6 1208.3 665.7 1212.0 668.8C1215.7 672.0 1218.8 678.2 1220.5 684.1C1222.2 690.1 1221.0 698.3 1222.2 704.5C1223.3 710.7 1226.1 715.8 1227.2 721.4C1228.4 727.1 1229.2 732.7 1228.9 738.4C1228.7 744.1 1225.3 750.3 1225.6 755.4C1225.8 760.5 1228.9 765.6 1230.6 768.9C1232.3 772.3 1236.6 772.9 1235.7 775.7C1234.9 778.6 1229.5 782.5 1225.6 785.9C1221.6 789.3 1216.5 793.3 1212.0 796.1C1207.5 798.9 1203.5 800.6 1198.4 802.9C1193.3 805.1 1187.1 807.4 1181.4 809.7C1175.8 811.9 1169.6 815.9 1164.5 816.5C1159.4 817.0 1154.3 817.0 1150.9 813.1C1147.5 809.1 1145.8 798.9 1144.1 792.7C1142.4 786.5 1142.7 781.4 1140.7 775.7C1138.7 770.1 1134.5 764.4 1132.2 758.8C1130.0 753.1 1127.4 747.5 1127.1 741.8C1126.9 736.1 1128.3 729.9 1130.5 724.8C1132.8 719.7 1136.2 715.2 1140.7 711.3C1145.2 707.3 1151.5 704.5 1157.7 701.1C1163.9 697.7 1172.7 695.4 1178.0 690.9C1183.4 686.4 1186.5 678.2 1189.9 673.9C1193.3 669.7 1194.7 666.3 1198.4 665.4Z" fill="#d3d3d3" stroke="#d3d3d3" stroke-width="5"/>
<path d="M1259.5 774.0C1262.3 774.0 1264.3 781.1 1266.3 785.9C1268.3 790.7 1269.7 796.7 1271.4 802.9C1273.1 809.1 1275.3 816.5 1276.5 823.2C1277.6 830.0 1278.7 836.8 1278.1 843.6C1277.6 850.4 1275.6 858.3 1273.1 864.0C1270.5 869.6 1266.8 874.4 1262.9 877.5C1258.9 880.6 1253.8 883.2 1249.3 882.6C1244.8 882.1 1239.1 878.4 1235.7 874.1C1232.3 869.9 1230.4 863.4 1228.9 857.2C1227.5 850.9 1227.0 843.6 1227.2 836.8C1227.5 830.0 1228.7 822.7 1230.6 816.5C1232.6 810.2 1236.0 804.6 1239.1 799.5C1242.2 794.4 1245.9 790.2 1249.3 785.9C1252.7 781.7 1256.7 774.0 1259.5 774.0Z" fill="#d3d3d3" stroke="#d3d3d3" stroke-width="5"/>
<path d="M1150.9 813.1C1156.0 808.0 1171.3 812.5 1181.4 809.7C1191.6 806.8 1203.8 801.7 1212.0 796.1C1220.2 790.4 1225.6 779.4 1230.6 775.7C1235.7 772.1 1241.1 771.8 1242.5 774.0C1243.9 776.3 1241.4 783.9 1239.1 789.3C1236.9 794.7 1232.3 800.6 1228.9 806.3C1225.6 811.9 1221.0 817.0 1218.8 823.2C1216.5 829.5 1216.2 836.8 1215.4 843.6C1214.5 850.4 1213.4 857.2 1213.7 864.0C1214.0 870.7 1217.4 877.5 1217.1 884.3C1216.8 891.1 1214.5 898.5 1212.0 904.7C1209.4 910.9 1205.2 917.7 1201.8 921.6C1198.4 925.6 1195.0 930.7 1191.6 928.4C1188.2 926.2 1185.4 915.4 1181.4 908.1C1177.5 900.7 1172.1 891.7 1167.9 884.3C1163.6 877.0 1158.8 871.3 1156.0 864.0C1153.2 856.6 1151.7 848.7 1150.9 840.2C1150.1 831.7 1145.8 818.1 1150.9 813.1Z" fill="#d3d3d3" stroke="#d3d3d3" stroke-width="5"/>
<path d="M1201.8 921.6C1206.0 918.2 1211.4 913.7 1217.1 911.5C1222.7 909.2 1230.4 908.1 1235.7 908.1C1241.1 908.1 1247.3 906.9 1249.3 911.5C1251.3 916.0 1249.3 926.7 1247.6 935.2C1245.9 943.7 1242.0 955.0 1239.1 962.4C1236.3 969.7 1234.0 974.5 1230.6 979.3C1227.2 984.1 1222.4 989.2 1218.8 991.2C1215.1 993.2 1212.0 993.2 1208.6 991.2C1205.2 989.2 1201.0 985.3 1198.4 979.3C1195.9 973.4 1194.4 963.5 1193.3 955.6C1192.2 947.7 1190.2 937.5 1191.6 931.8C1193.0 926.2 1197.6 925.0 1201.8 921.6Z" fill="#d3d3d3" stroke="#d3d3d3" stroke-width="5"/>
<path d="M1230.6 729.9C1234.3 727.7 1244.2 724.3 1249.3 724.8C1254.4 725.4 1258.6 729.9 1261.2 733.3C1263.7 736.7 1265.4 742.1 1264.6 745.2C1263.7 748.3 1259.2 749.7 1256.1 752.0C1253.0 754.2 1249.6 756.5 1245.9 758.8C1242.2 761.0 1237.4 766.1 1234.0 765.6C1230.6 765.0 1226.7 759.9 1225.6 755.4C1224.4 750.8 1226.4 742.6 1227.2 738.4C1228.1 734.2 1227.0 732.2 1230.6 729.9Z" fill="#d3d3d3" stroke="#d3d3d3" stroke-width="5"/>
<path d="M1217.1 877.5C1221.0 872.4 1229.2 871.9 1235.7 874.1C1242.2 876.4 1253.8 884.9 1256.1 891.1C1258.4 897.3 1252.7 908.6 1249.3 911.5C1245.9 914.3 1241.1 908.1 1235.7 908.1C1230.4 908.1 1222.7 909.2 1217.1 911.5C1211.4 913.7 1202.6 922.8 1201.8 921.6C1201.0 920.5 1209.4 912.0 1212.0 904.7C1214.5 897.3 1213.1 882.6 1217.1 877.5Z" fill="#d3d3d3" opacity="0.8"/>
<path d="M1230.6 775.7C1232.9 770.4 1241.1 771.8 1242.5 774.0C1243.9 776.3 1241.1 782.2 1239.1 789.3C1237.1 796.4 1232.6 808.5 1230.6 816.5C1228.7 824.4 1227.5 830.0 1227.2 836.8C1227.0 843.6 1227.5 850.9 1228.9 857.2C1230.4 863.4 1237.7 870.7 1235.7 874.1C1233.8 877.5 1220.7 879.2 1217.1 877.5C1213.4 875.8 1214.0 869.6 1213.7 864.0C1213.4 858.3 1214.5 850.4 1215.4 843.6C1216.2 836.8 1216.5 829.5 1218.8 823.2C1221.0 817.0 1227.0 814.2 1228.9 806.3C1230.9 798.4 1228.4 781.1 1230.6 775.7Z" fill="#d3d3d3" opacity="0.55"/>
</g>
<g filter="url(#rough3)">
<path d="M1301.3 778.3C1302.4 776.2 1305.4 774.1 1308.4 772.9C1311.4 771.7 1315.5 770.8 1319.1 771.1C1322.7 771.4 1326.3 773.8 1329.8 774.7C1333.4 775.6 1337.3 775.3 1340.6 776.5C1343.8 777.7 1347.1 779.8 1349.5 781.9C1351.9 783.9 1352.5 786.6 1354.8 789.0C1357.2 791.4 1360.2 794.2 1363.8 796.1C1367.3 798.1 1373.9 799.1 1376.3 800.6C1378.7 802.1 1379.3 804.2 1378.1 805.1C1376.9 806.0 1372.1 806.3 1369.1 806.0C1366.2 805.7 1363.2 804.3 1360.2 803.3C1357.2 802.3 1354.2 800.9 1351.3 799.7C1348.3 798.5 1345.3 796.4 1342.3 796.1C1339.4 795.9 1336.4 796.7 1333.4 797.9C1330.4 799.1 1326.9 803.0 1324.5 803.3C1322.1 803.6 1321.2 800.9 1319.1 799.7C1317.0 798.5 1314.4 797.3 1312.0 796.1C1309.6 795.0 1306.6 794.4 1304.8 792.6C1303.0 790.8 1301.9 787.8 1301.3 785.4C1300.7 783.1 1300.1 780.4 1301.3 778.3Z" fill="#d3d3d3" opacity="1"/>
<path d="M1362.4 710.9C1363.2 711.4 1363.7 715.8 1364.4 719.9C1365.1 724.1 1366.3 731.3 1366.4 736.0C1366.6 740.7 1366.1 744.1 1365.4 748.1C1364.7 752.1 1363.4 756.4 1362.4 760.1C1361.4 763.8 1360.4 767.2 1359.4 770.2C1358.4 773.2 1357.5 777.0 1356.4 778.2C1355.2 779.4 1352.5 778.9 1352.4 777.2C1352.2 775.5 1354.4 771.3 1355.4 768.2C1356.4 765.0 1357.5 761.5 1358.4 758.1C1359.2 754.8 1360.1 751.8 1360.4 748.1C1360.7 744.4 1360.6 740.0 1360.4 736.0C1360.2 732.0 1359.2 727.1 1359.0 724.0C1358.8 720.8 1358.8 719.1 1359.4 716.9C1360.0 714.7 1361.6 710.4 1362.4 710.9Z" fill="#d3d3d3" opacity="0.85"/>
<path d="M1339.1 848.6C1340.7 846.7 1343.6 845.7 1346.9 844.7C1350.2 843.7 1355.1 842.4 1358.7 842.7C1362.3 843.1 1365.9 844.4 1368.5 846.7C1371.1 849.0 1373.3 852.2 1374.4 856.5C1375.6 860.8 1376.1 867.3 1375.4 872.2C1374.7 877.1 1373.3 884.0 1370.5 886.0C1367.7 887.9 1362.6 883.7 1358.7 884.0C1354.8 884.3 1350.2 888.6 1346.9 887.9C1343.6 887.3 1340.9 883.3 1339.1 880.1C1337.3 876.8 1336.4 872.2 1336.1 868.3C1335.8 864.4 1336.6 859.8 1337.1 856.5C1337.6 853.2 1337.4 850.6 1339.1 848.6Z" fill="#d3d3d3" opacity="0.85"/>
<path d="M1322.5 672.3C1323.4 671.2 1326.9 670.5 1328.5 671.2C1330.1 672.0 1331.8 674.8 1332.1 676.8C1332.4 678.8 1331.3 682.2 1330.3 683.0C1329.2 683.9 1327.0 682.6 1325.8 681.7C1324.6 680.8 1323.7 679.5 1323.1 677.9C1322.6 676.3 1321.6 673.4 1322.5 672.3Z" fill="#d3d3d3" opacity="1"/>
</g>
<path d="M1330.0 795.9h0M1305.6 771.0h0M1314.6 799.1h0M1343.8 785.6h0M1311.4 780.5h0M1312.5 775.5h0M1348.5 789.9h0M1383.9 802.6h0M1326.5 775.0h0M1313.3 800.8h0M1296.3 780.7h0M1324.4 783.3h0M1384.6 808.6h0M1321.7 773.8h0M1352.2 789.9h0M1350.1 796.4h0M1301.5 783.5h0M1303.8 774.5h0M1324.5 797.2h0M1319.0 782.3h0M1351.1 793.8h0M1328.3 778.4h0M1309.2 768.1h0M1297.1 792.8h0M1312.2 774.5h0M1310.0 785.9h0M1359.0 788.9h0M1342.6 797.3h0M1336.6 797.3h0M1358.6 791.3h0M1303.7 784.6h0M1305.8 782.7h0M1321.8 784.6h0M1360.6 789.7h0M1315.6 800.0h0M1362.9 802.1h0M1327.3 783.6h0M1311.4 775.4h0M1325.5 796.5h0M1327.7 799.7h0M1298.7 776.9h0M1352.3 787.0h0M1319.0 774.0h0M1295.6 787.1h0M1320.9 786.7h0M1328.8 799.1h0M1321.2 805.8h0M1348.0 783.7h0M1344.3 780.0h0M1301.5 791.1h0M1310.3 782.3h0M1357.0 788.7h0M1329.5 795.6h0M1345.5 775.7h0M1315.6 796.8h0M1298.2 776.9h0M1305.8 768.2h0M1331.6 789.5h0M1334.6 772.3h0M1334.6 787.0h0M1338.2 795.9h0M1378.8 802.1h0M1308.5 770.0h0M1323.3 783.0h0M1358.0 802.6h0M1335.6 783.6h0M1370.7 798.1h0M1335.9 772.1h0M1328.9 776.0h0M1332.8 779.7h0M1318.5 785.3h0M1310.2 775.9h0M1317.9 800.0h0M1344.4 787.3h0M1326.1 796.2h0M1350.0 779.8h0M1360.2 792.7h0M1374.0 804.6h0M1345.3 791.9h0M1349.4 789.7h0M1374.5 808.6h0M1317.2 769.4h0M1335.9 774.0h0M1340.3 795.0h0M1310.4 772.0h0M1360.3 798.2h0M1349.1 781.2h0M1374.7 800.3h0M1308.5 770.4h0M1370.2 803.0h0M1325.7 773.9h0M1299.4 784.1h0M1320.9 768.4h0M1320.9 801.8h0M1298.6 783.7h0M1341.7 773.1h0M1326.8 784.1h0M1308.2 777.6h0M1306.6 796.2h0M1339.4 781.1h0M1307.7 786.5h0M1327.4 776.2h0M1354.4 794.9h0M1383.9 808.3h0M1337.1 797.3h0M1328.3 785.0h0M1296.4 786.3h0M1324.6 801.1h0M1300.0 792.0h0M1348.7 795.7h0M1295.0 776.5h0M1335.8 773.0h0M1350.2 783.2h0M1304.6 794.7h0M1350.1 778.0h0M1359.1 793.3h0M1330.6 786.4h0M1345.7 785.5h0M1357.4 799.7h0M1350.5 782.3h0M1316.6 769.1h0M1356.7 787.3h0M1321.6 785.2h0M1316.6 797.0h0M1303.6 790.4h0M1300.7 769.3h0M1305.2 782.5h0M1297.0 773.3h0M1313.9 786.6h0M1313.6 768.6h0M1316.6 781.1h0M1350.3 783.3h0M1326.1 782.8h0M1297.1 781.8h0M1379.6 801.6h0M1316.2 787.8h0M1326.5 791.6h0M1320.0 803.9h0M1322.8 770.2h0M1352.7 784.5h0M1322.8 796.7h0M1316.7 772.3h0M1368.7 804.7h0M1361.2 803.7h0M1296.1 779.1h0M1326.5 798.0h0M1324.6 799.4h0M1334.1 791.8h0M1334.6 790.6h0M1300.5 791.5h0M1321.9 783.8h0M1351.1 798.4h0M1371.9 798.5h0M1314.1 769.8h0M1310.9 770.0h0M1339.0 778.1h0M1344.8 776.5h0M1316.7 774.2h0M1323.8 797.8h0M1341.3 797.5h0M1354.0 781.9h0M1311.4 778.5h0M1353.8 799.8h0M1334.5 797.9h0M1345.2 795.4h0M1358.8 788.3h0M1302.4 771.7h0M1294.8 774.3h0M1296.9 787.6h0M1321.2 787.2h0M1327.6 776.2h0M1365.0 794.7h0M1372.2 807.5h0M1305.3 789.3h0M1315.9 797.4h0M1297.3 778.0h0M1298.7 774.2h0M1326.5 791.1h0M1309.3 786.0h0M1317.4 779.0h0M1305.4 771.9h0M1352.0 792.9h0M1328.4 777.8h0M1325.9 788.3h0M1297.0 786.4h0M1378.5 807.0h0M1385.0 805.3h0M1358.2 796.8h0M1356.3 801.1h0M1326.5 788.2h0M1309.8 775.8h0M1331.9 789.3h0M1315.1 799.4h0M1305.3 774.3h0M1321.6 788.6h0M1316.8 788.5h0M1301.3 789.6h0M1322.6 801.7h0M1379.8 803.5h0M1362.5 796.9h0M1315.1 782.9h0M1329.2 796.7h0M1343.9 781.3h0M1303.8 785.3h0M1349.5 796.1h0M1295.0 774.7h0M1353.4 800.3h0M1349.0 795.9h0M1331.4 792.5h0M1367.4 805.9h0M1331.6 790.0h0M1310.0 796.6h0M1387.4 808.5h0M1382.4 803.4h0M1332.7 782.4h0M1323.9 780.2h0M1347.1 784.2h0M1350.4 784.8h0M1360.9 797.8h0M1328.8 796.5h0M1315.7 801.6h0M1312.6 783.0h0M1325.5 795.0h0M1323.6 785.8h0M1387.3 806.4h0M1306.8 775.1h0M1306.8 777.3h0M1319.3 789.6h0M1323.3 786.6h0M1345.3 793.5h0M1361.4 802.5h0M1303.8 775.1h0M1339.7 787.6h0M1359.6 801.0h0M1307.5 774.2h0M1324.5 780.5h0M1333.8 779.7h0M1325.6 791.5h0M1379.7 806.4h0M1294.5 782.1h0M1315.4 794.5h0M1310.6 772.2h0M1353.7 784.8h0M1316.8 768.8h0M1302.0 792.8h0M1321.9 800.0h0M1308.1 787.8h0M1331.9 776.2h0M1324.1 774.4h0M1321.4 785.4h0M1330.0 794.8h0M1311.5 788.3h0M1293.8 778.4h0M1303.2 771.8h0M1294.0 786.9h0M1322.0 775.7h0M1305.2 771.0h0M1363.9 793.0h0M1359.3 795.7h0M1358.6 795.6h0M1355.2 849.5h0M1348.5 856.5h0M1364.3 846.6h0M1364.5 864.0h0M1374.8 861.5h0M1367.0 847.2h0M1340.0 883.5h0M1370.3 852.3h0M1352.4 878.9h0M1337.3 874.8h0M1338.9 881.8h0M1340.8 854.1h0M1370.0 865.2h0M1352.6 885.3h0M1371.5 855.1h0M1364.1 851.1h0M1357.4 868.5h0M1346.4 878.0h0M1338.9 848.5h0M1376.1 857.2h0M1340.2 879.9h0M1369.4 862.4h0M1376.1 876.6h0M1364.3 860.5h0M1347.2 877.2h0M1368.9 844.0h0M1365.1 864.6h0M1337.0 865.6h0M1375.5 879.2h0M1366.3 872.6h0M1342.5 867.7h0M1353.5 888.0h0M1347.7 872.6h0M1367.3 881.2h0M1337.3 861.1h0M1359.8 857.1h0M1345.8 848.6h0M1349.1 844.8h0M1338.7 873.3h0M1377.2 860.4h0M1347.6 860.2h0M1340.3 847.2h0M1377.1 873.2h0M1370.8 861.6h0M1357.5 858.6h0M1354.4 880.3h0M1364.0 847.7h0M1345.5 873.4h0M1356.3 867.4h0M1335.7 854.5h0M1353.3 886.0h0M1352.7 849.4h0M1352.1 870.5h0M1366.5 869.9h0M1361.4 870.1h0M1341.8 849.5h0M1355.7 843.5h0M1350.6 871.9h0M1359.4 847.1h0M1359.1 874.7h0M1343.4 882.3h0M1342.2 873.0h0M1367.4 854.8h0M1352.2 885.6h0M1355.5 850.2h0M1348.8 843.5h0M1376.4 859.2h0M1355.1 842.9h0M1361.5 847.8h0M1342.7 879.4h0M1355.2 868.4h0M1345.7 843.6h0M1348.5 859.5h0M1373.5 876.6h0M1354.1 868.1h0M1365.1 878.1h0M1367.5 854.4h0M1351.2 854.5h0M1350.5 882.1h0M1353.7 842.2h0M1366.6 857.3h0M1365.4 886.7h0M1374.0 868.7h0M1335.8 866.6h0M1372.0 874.7h0M1361.1 849.2h0M1344.6 855.3h0M1369.6 851.7h0M1359.7 883.6h0M1337.9 860.5h0M1344.7 869.9h0M1348.3 889.2h0M1348.4 884.0h0M1351.6 865.3h0M1367.0 877.2h0M1363.0 851.7h0M1353.9 843.6h0M1343.5 863.6h0M1373.4 884.3h0M1345.5 876.7h0M1377.6 875.0h0M1372.3 862.9h0M1369.5 871.2h0M1357.9 863.4h0M1359.9 865.9h0M1358.5 842.0h0M1365.6 849.2h0M1370.6 880.9h0M1352.6 847.6h0M1350.4 846.3h0M1353.5 852.7h0M1352.9 886.0h0M1360.3 884.0h0M1377.4 867.6h0M1367.2 845.7h0M1347.1 877.3h0M1372.0 883.1h0M1337.7 872.0h0M1346.9 882.0h0M1350.7 885.9h0M1365.4 853.2h0M1355.6 868.7h0M1352.1 882.8h0M1375.1 855.7h0M1363.9 872.2h0M1371.8 878.3h0M1367.1 864.7h0M1357.8 840.6h0M1339.3 874.7h0M1373.7 879.4h0M1339.7 856.1h0M1359.1 864.2h0M1370.8 874.5h0M1373.5 884.4h0M1368.0 880.5h0M1352.6 886.4h0M1348.5 857.6h0M1337.7 874.2h0M1372.4 849.2h0M1344.3 847.8h0M1371.0 850.5h0M1372.8 865.4h0M1359.8 846.9h0M1338.2 850.6h0M1337.9 875.7h0M1358.3 876.7h0M1338.5 857.7h0M1360.7 881.7h0M1373.2 886.0h0M1364.5 852.0h0M1372.8 874.3h0M1360.8 853.7h0M1345.7 888.3h0M1357.6 865.1h0M1344.5 852.8h0M1340.4 878.0h0M1360.7 857.6h0M1347.2 869.0h0M1348.7 882.9h0M1377.2 860.2h0M1363.9 736.7h0M1362.9 753.7h0M1360.8 744.5h0M1357.0 764.8h0M1361.6 714.5h0M1360.5 727.3h0M1354.3 779.4h0M1360.8 711.3h0M1364.2 735.8h0M1361.3 745.0h0M1357.0 775.9h0M1361.9 748.5h0M1361.1 732.5h0M1365.2 721.9h0M1361.0 716.5h0M1364.4 742.1h0M1364.2 752.0h0M1363.5 725.4h0M1361.4 723.7h0M1362.4 716.3h0M1363.0 725.1h0M1366.0 729.6h0M1354.0 773.4h0M1366.5 731.1h0M1363.2 748.7h0M1354.6 777.2h0M1358.2 762.3h0M1362.2 714.0h0M1359.7 765.7h0M1360.8 759.1h0M1361.4 714.3h0M1355.3 779.5h0M1360.8 744.5h0M1359.4 761.5h0M1353.7 777.8h0M1360.8 712.4h0M1366.1 736.1h0M1363.4 736.7h0M1359.8 770.5h0M1360.7 744.8h0M1357.7 769.9h0M1354.3 772.4h0M1363.3 740.9h0M1362.4 723.7h0M1364.4 734.3h0M1363.0 720.0h0M1363.3 732.1h0M1354.5 778.7h0M1362.9 746.9h0M1363.2 715.2h0M1364.4 737.4h0M1363.4 714.9h0M1360.9 752.8h0M1360.2 729.3h0M1364.9 735.9h0M1361.8 753.6h0M1361.0 726.3h0M1360.8 764.2h0M1357.3 768.8h0M1359.8 715.7h0M1333.8 696.2h0M1341.6 716.9h0M1339.9 711.0h0M1338.3 710.4h0M1344.3 719.9h0M1335.6 694.1h0M1343.0 714.3h0M1340.7 710.3h0M1342.6 715.9h0M1338.6 708.1h0M1334.5 693.1h0M1338.4 713.2h0M1340.3 713.9h0M1331.4 691.6h0M1338.3 714.7h0M1334.8 692.3h0M1340.8 714.8h0M1334.9 698.3h0M1337.4 711.6h0M1337.8 703.9h0M1338.9 716.0h0M1330.3 684.5h0M1333.7 695.6h0M1333.4 687.8h0M1341.5 710.4h0M1339.5 707.9h0M1340.0 713.2h0M1337.7 708.5h0M1344.9 725.3h0M1343.5 717.5h0M1346.6 721.7h0M1334.4 697.1h0M1345.6 721.8h0M1337.5 703.1h0M1340.8 718.3h0M1340.7 718.3h0M1334.9 697.4h0M1336.8 707.8h0M1337.4 701.5h0M1338.5 707.4h0M1350.0 768.4h0M1344.8 739.0h0M1352.7 763.3h0M1343.1 761.2h0M1353.8 752.8h0M1344.8 760.3h0M1340.5 771.7h0M1344.7 740.9h0M1338.1 732.0h0M1332.3 745.9h0M1341.6 737.8h0M1347.8 737.4h0M1344.4 769.6h0M1341.4 754.6h0M1343.5 732.4h0M1341.1 763.4h0M1347.4 768.2h0M1341.2 731.2h0M1343.8 758.7h0M1351.3 765.2h0M1350.2 740.5h0M1356.7 742.3h0M1357.4 734.0h0M1351.5 735.1h0M1352.3 749.1h0M1349.3 755.7h0M1351.6 744.6h0M1355.9 723.2h0M1344.0 759.7h0M1332.8 758.9h0M1338.8 756.6h0M1353.8 756.8h0M1339.9 757.2h0M1345.7 737.1h0M1349.6 761.1h0M1347.0 762.4h0M1338.5 756.3h0M1333.0 747.5h0M1338.9 747.3h0M1336.7 744.7h0M1356.6 744.3h0M1353.3 761.6h0M1348.5 744.9h0M1334.3 738.7h0M1358.1 720.4h0M1353.5 731.8h0M1348.6 765.5h0M1338.0 764.9h0M1355.8 729.2h0M1346.6 773.0h0M1337.7 746.7h0M1356.7 719.2h0M1340.6 729.4h0M1351.7 763.7h0M1337.7 737.0h0M1349.0 738.9h0M1336.1 738.6h0M1354.1 749.7h0M1338.3 769.7h0M1333.2 741.3h0M1340.3 746.7h0M1342.0 738.7h0M1341.9 739.0h0M1354.3 719.7h0M1339.5 744.3h0M1347.0 734.4h0M1332.9 740.4h0M1343.5 743.5h0M1349.2 739.3h0M1358.0 725.2h0M1336.5 746.5h0M1357.2 735.7h0M1345.0 755.2h0M1332.9 752.5h0M1340.4 750.1h0M1343.0 727.6h0M1354.3 729.0h0M1335.9 756.9h0M1351.3 741.0h0M1339.2 768.3h0M1351.2 753.2h0M1340.1 736.3h0M1350.2 751.9h0M1349.5 743.5h0M1345.5 765.2h0M1341.7 737.8h0M1351.5 744.5h0M1348.5 773.2h0M1333.1 747.6h0M1337.7 756.0h0M1356.5 724.3h0M1336.2 750.2h0M1344.0 769.3h0M1347.2 773.0h0M1344.3 760.0h0M1349.0 728.6h0M1343.2 754.3h0M1345.4 758.3h0M1349.2 735.3h0M1341.2 731.1h0M1335.0 749.4h0M1344.6 738.1h0M1351.3 738.8h0M1338.3 733.0h0M1345.0 765.9h0M1349.6 751.0h0M1335.5 753.5h0M1348.0 760.9h0M1336.9 763.6h0M1346.5 726.9h0M1313.8 761.8h0M1312.7 755.9h0M1319.2 741.0h0M1311.6 747.3h0M1312.6 761.6h0M1310.5 756.0h0M1313.5 766.2h0M1312.4 761.2h0M1309.6 761.3h0M1316.9 743.9h0M1313.8 761.6h0M1315.9 741.8h0M1309.7 758.9h0M1316.9 746.6h0M1310.9 766.9h0M1312.1 752.0h0M1312.4 749.0h0M1311.5 760.0h0M1309.1 765.1h0M1313.6 755.8h0M1312.2 750.8h0M1309.7 760.4h0M1317.2 739.7h0M1312.9 756.6h0M1313.0 760.2h0M1312.0 749.4h0M1318.2 744.6h0M1318.9 742.8h0M1313.5 745.4h0M1317.8 742.9h0M1283.9 808.6h0M1284.6 807.4h0M1290.2 795.2h0M1287.4 803.3h0M1291.7 800.8h0M1287.5 801.7h0M1281.9 809.2h0M1295.1 792.4h0M1282.2 810.4h0M1291.9 798.6h0M1290.2 803.3h0M1290.7 800.9h0M1292.4 800.9h0M1294.7 796.4h0M1293.3 798.5h0M1292.8 800.4h0M1282.9 809.9h0M1293.0 796.5h0M1288.8 802.6h0M1291.6 798.7h0M1282.8 806.5h0M1289.8 804.2h0M1359.5 806.5h0M1363.2 840.4h0M1362.5 815.7h0M1361.0 808.9h0M1362.7 822.5h0M1361.8 831.0h0M1364.1 811.6h0M1364.6 817.0h0M1359.2 810.4h0M1360.8 812.1h0M1362.6 840.3h0M1366.7 831.3h0M1363.0 830.1h0M1362.5 828.8h0M1363.0 819.7h0M1362.3 833.1h0M1367.2 829.6h0M1365.7 832.6h0M1365.6 833.1h0M1365.5 835.8h0M1365.5 814.6h0M1367.6 833.6h0M1367.4 838.0h0M1367.7 828.7h0M1366.8 823.9h0M1361.3 822.4h0M1364.9 821.2h0M1365.0 829.7h0M1367.3 833.5h0M1361.6 835.7h0M1364.8 822.7h0M1363.0 824.9h0M1364.0 831.4h0M1366.3 817.9h0M1365.0 812.5h0M1363.2 806.8h0M1365.5 822.0h0M1365.7 839.7h0M1367.0 830.9h0M1361.5 817.0h0M1357.6 783.3h0M1351.4 779.6h0M1359.7 783.4h0M1360.0 782.5h0M1353.4 780.8h0M1353.8 782.6h0M1363.1 786.6h0M1357.3 778.6h0M1357.1 779.9h0M1353.0 778.5h0M1358.2 786.7h0M1361.8 786.5h0M1352.9 779.7h0M1354.4 784.3h0M1354.3 781.5h0M1361.5 786.4h0M1358.7 776.6h0M1360.4 784.1h0M1357.4 786.0h0M1359.5 780.3h0M1357.8 776.3h0M1357.0 785.5h0M1351.5 780.8h0M1356.3 776.6h0M1361.2 785.2h0" stroke="#d3d3d3" stroke-width="2.6" stroke-linecap="round" fill="none" />
<path d="M1227.2 789.9h0M1219.7 857.2h0M1216.5 873.9h0M1235.0 793.9h0M1217.8 846.9h0M1234.8 791.8h0M1223.8 801.9h0M1224.6 824.5h0M1221.5 845.5h0M1214.6 845.4h0M1227.7 816.0h0M1225.5 798.8h0M1214.3 847.8h0M1221.0 809.4h0M1232.3 783.4h0M1222.5 814.9h0M1229.6 783.4h0M1231.1 795.1h0M1231.6 799.5h0M1217.4 821.7h0M1217.5 854.1h0M1225.6 818.1h0M1226.4 821.3h0M1228.9 816.0h0M1216.7 804.7h0M1225.4 809.1h0M1224.3 819.5h0M1217.5 873.7h0M1221.6 832.8h0M1218.3 855.1h0M1222.2 800.7h0M1219.5 854.3h0M1221.1 824.1h0M1232.9 788.3h0M1219.8 812.8h0M1219.1 806.1h0M1231.0 791.9h0M1227.7 819.0h0M1229.7 810.7h0M1225.5 788.2h0M1230.8 791.2h0M1218.3 826.9h0M1218.9 830.9h0M1222.8 817.0h0M1236.2 792.0h0M1224.3 817.0h0M1216.8 867.9h0M1216.4 864.4h0M1229.3 799.0h0M1220.3 807.7h0M1218.6 813.7h0M1220.5 864.8h0M1214.8 847.7h0M1225.2 803.7h0M1219.7 833.3h0M1216.4 819.8h0M1227.7 817.2h0M1222.1 811.4h0M1221.1 798.3h0M1217.8 849.4h0M1235.9 792.6h0M1226.5 800.2h0M1217.2 829.3h0M1221.7 838.0h0M1215.3 844.7h0M1227.3 804.7h0M1215.5 822.2h0M1229.0 792.4h0M1224.3 802.2h0M1223.9 811.4h0" stroke="#fff" stroke-width="2.4" stroke-linecap="round" fill="none" opacity="0.85"/>
<path d="M1230.0 953.7h0M1204.5 975.8h0M1234.1 940.9h0M1236.7 917.5h0M1219.0 934.3h0M1194.4 932.2h0M1235.0 923.3h0M1226.9 929.8h0M1202.6 978.8h0M1215.9 918.1h0M1195.6 960.3h0M1230.0 923.1h0M1198.5 964.2h0M1225.2 919.0h0M1206.4 976.3h0M1212.8 984.9h0M1207.2 986.4h0M1236.8 960.5h0M1236.5 947.5h0M1193.1 933.9h0M1241.8 915.9h0M1225.2 922.6h0M1198.8 976.3h0M1211.9 954.9h0M1206.7 980.0h0M1235.4 950.9h0M1231.8 936.7h0M1212.3 919.8h0M1202.3 935.0h0M1218.3 940.8h0M1226.7 947.3h0M1210.9 934.9h0M1236.2 940.4h0M1222.0 964.0h0M1237.4 957.8h0M1239.7 928.9h0M1210.8 924.0h0M1220.6 975.3h0M1230.1 925.8h0M1213.9 936.3h0M1201.0 958.6h0M1226.7 948.3h0M1225.1 961.6h0M1238.8 950.1h0M1247.6 911.1h0M1231.6 938.9h0M1226.5 927.5h0M1234.4 940.9h0M1226.8 920.6h0M1216.1 915.6h0M1210.9 950.2h0M1213.7 920.4h0M1227.4 915.1h0M1208.6 926.7h0M1246.6 914.9h0M1203.0 962.9h0M1214.0 948.3h0M1225.6 976.9h0M1200.8 973.0h0M1229.1 931.1h0M1208.1 974.5h0M1207.8 935.8h0M1213.3 975.3h0M1199.3 955.8h0M1233.6 950.9h0M1207.7 957.4h0M1223.5 927.6h0M1227.9 962.2h0M1232.4 947.0h0M1216.4 949.5h0M1233.7 962.1h0M1200.9 980.1h0M1209.0 930.2h0M1199.7 929.4h0M1223.7 967.4h0M1224.1 941.8h0M1231.8 948.6h0M1210.1 990.3h0M1242.9 928.0h0M1232.3 946.3h0M1219.3 974.4h0M1234.9 936.4h0M1206.2 968.1h0M1204.8 947.3h0M1212.3 926.7h0M1194.8 952.1h0M1233.5 925.6h0M1199.7 935.5h0M1237.9 942.1h0M1217.4 956.5h0M1224.0 919.5h0M1193.0 933.9h0M1201.7 965.0h0M1206.1 944.6h0M1236.9 945.4h0M1225.6 943.8h0M1204.4 971.8h0M1217.5 965.9h0M1237.7 962.0h0M1213.0 981.4h0M1204.2 941.8h0M1222.9 953.4h0M1236.2 914.6h0M1200.5 974.5h0M1230.4 928.8h0M1221.3 987.5h0M1222.0 979.1h0M1214.2 933.4h0M1232.0 914.0h0M1215.4 982.5h0" stroke="#5a4ae6" stroke-width="3.6" stroke-linecap="round" fill="none" />
<path d="M1226.0 888.2h0M1227.0 897.4h0M1218.3 903.4h0M1226.9 904.8h0M1218.1 882.0h0M1228.4 886.8h0M1214.0 896.7h0M1233.9 875.3h0M1241.4 901.8h0M1219.3 896.3h0M1251.6 901.5h0M1237.1 886.7h0M1218.2 897.4h0M1215.2 907.3h0M1243.7 892.9h0M1238.4 877.8h0M1241.8 880.9h0M1235.3 881.4h0M1234.5 903.1h0M1211.2 913.5h0M1225.1 897.5h0M1231.3 884.4h0M1210.7 913.9h0M1220.6 908.3h0M1229.1 883.8h0M1248.7 891.2h0M1217.0 898.6h0M1245.0 890.5h0M1221.1 879.2h0M1207.7 914.6h0M1221.4 904.8h0M1231.3 880.6h0M1241.4 890.7h0M1234.6 875.9h0M1231.8 881.2h0M1225.9 898.2h0M1232.8 876.3h0M1216.1 901.1h0M1242.2 887.3h0M1222.5 908.7h0" stroke="#5a4ae6" stroke-width="3.6" stroke-linecap="round" fill="none" />
<path d="M1240.1 961.2h0M1196.6 951.9h0M1201.7 977.5h0M1229.4 948.4h0M1212.6 970.9h0M1209.1 939.3h0M1221.1 940.8h0M1206.0 934.3h0M1210.8 952.7h0M1220.2 950.2h0M1223.7 924.3h0M1227.7 963.8h0M1200.2 940.1h0M1202.5 961.5h0M1230.0 924.8h0M1206.3 960.3h0M1238.0 923.9h0M1193.6 955.6h0M1207.2 972.5h0M1232.8 966.1h0M1226.6 928.9h0M1245.9 919.3h0M1206.8 984.4h0M1213.4 955.3h0M1218.4 924.8h0M1200.7 969.6h0M1222.6 926.0h0M1225.6 953.4h0M1207.1 938.5h0M1217.0 961.2h0M1239.7 941.1h0M1214.4 965.0h0M1223.5 939.1h0M1197.1 959.2h0M1224.3 981.0h0M1201.7 932.4h0M1219.0 971.9h0M1230.0 949.3h0M1213.0 939.3h0M1198.3 957.1h0M1206.9 979.8h0M1214.9 977.6h0M1198.1 976.3h0M1233.0 954.0h0M1243.0 929.2h0M1203.9 947.7h0M1219.9 931.7h0M1199.5 970.1h0M1219.8 988.0h0M1204.4 955.6h0M1245.6 916.0h0M1209.6 945.8h0M1234.6 920.4h0M1215.7 987.7h0M1223.9 940.8h0M1224.0 978.7h0M1216.8 955.7h0M1198.6 942.8h0M1243.7 926.9h0M1219.5 981.6h0M1221.6 945.6h0M1218.3 935.8h0M1211.9 935.8h0M1215.5 933.7h0M1239.6 927.3h0M1223.0 960.1h0M1225.4 944.3h0M1234.7 959.4h0M1218.4 973.3h0M1202.0 932.9h0M1219.1 941.7h0M1221.0 933.7h0M1242.5 943.4h0M1210.7 977.5h0M1206.4 974.4h0M1210.5 953.9h0M1232.6 970.4h0M1242.0 947.1h0M1210.3 936.6h0M1229.9 947.0h0M1218.3 986.1h0M1216.8 967.0h0M1213.1 944.0h0M1221.4 985.1h0M1229.8 933.2h0M1218.7 965.9h0M1227.3 962.3h0M1209.9 964.7h0M1240.9 940.8h0M1235.7 925.7h0M1223.9 944.2h0M1211.4 947.5h0M1239.8 920.3h0M1221.5 979.0h0M1222.7 981.8h0M1228.8 928.1h0M1225.1 932.5h0M1194.9 954.4h0M1219.1 933.5h0M1236.7 961.7h0" stroke="#2a22f0" stroke-width="3.8" stroke-linecap="round" fill="none" />
<path d="M1223.2 957.5h0M1205.8 947.0h0M1220.4 928.7h0M1216.8 971.4h0M1206.6 988.4h0M1234.5 943.9h0M1204.9 971.8h0M1207.7 978.8h0M1231.4 932.2h0M1225.8 941.7h0M1218.5 962.5h0M1204.8 930.7h0M1214.9 943.9h0M1206.1 985.6h0M1217.6 948.3h0M1197.4 973.9h0M1218.3 964.6h0M1240.5 964.0h0M1205.4 975.1h0M1231.6 947.0h0M1214.9 932.7h0M1218.4 964.1h0M1223.6 942.4h0M1204.1 982.2h0M1207.9 953.2h0M1218.6 965.7h0M1234.1 952.9h0M1223.3 971.2h0M1203.2 971.4h0M1219.6 980.1h0M1215.6 931.7h0M1210.9 964.1h0M1204.1 944.9h0M1206.6 951.4h0M1219.3 968.8h0M1216.0 967.5h0M1202.3 952.3h0M1209.4 938.6h0M1244.2 918.4h0M1236.8 923.5h0M1238.9 947.3h0M1216.4 990.3h0M1220.2 965.7h0M1237.0 947.8h0M1213.9 987.4h0M1203.7 978.5h0M1225.7 935.1h0M1196.5 950.7h0M1215.8 969.0h0M1216.5 931.3h0" stroke="#5a4ae6" stroke-width="3.6" stroke-linecap="round" fill="none" />
<path d="M1204.0 812.3h0M1178.3 888.9h0M1161.5 869.5h0M1212.9 805.4h0M1201.9 905.2h0M1226.0 810.2h0M1157.5 817.0h0M1175.1 823.8h0M1194.6 865.4h0M1223.3 795.2h0M1195.1 814.6h0M1184.8 817.0h0M1205.8 810.7h0M1195.5 838.1h0M1214.7 886.6h0M1157.8 839.8h0M1208.5 883.9h0M1206.0 894.1h0M1204.2 810.4h0M1187.7 809.2h0M1241.8 774.1h0M1186.3 864.4h0M1206.3 801.1h0M1170.6 862.3h0M1172.8 852.7h0M1211.0 854.8h0M1180.7 828.2h0M1202.7 900.4h0M1194.1 900.5h0M1183.0 883.2h0M1190.6 826.2h0M1179.8 897.5h0M1182.5 862.8h0M1175.3 858.2h0M1186.7 911.8h0M1153.6 840.9h0M1227.4 802.9h0M1187.1 903.7h0M1236.7 781.7h0M1238.8 784.8h0M1168.8 821.4h0M1189.2 855.5h0M1227.7 796.0h0M1154.5 816.4h0M1196.5 863.6h0M1188.9 919.2h0M1201.3 915.1h0M1168.4 826.3h0M1215.8 817.2h0M1165.8 867.8h0M1191.8 856.5h0M1194.0 896.1h0M1203.7 802.1h0M1162.1 815.3h0M1182.9 849.8h0M1203.9 832.4h0M1239.6 781.5h0M1165.0 846.3h0M1191.2 825.9h0M1184.4 843.9h0M1197.3 895.7h0M1167.0 868.3h0M1189.8 910.9h0M1216.0 834.1h0M1195.5 895.7h0M1154.3 835.3h0M1203.6 800.4h0M1166.3 830.3h0M1155.4 860.2h0M1155.2 829.9h0M1182.1 867.0h0M1156.0 857.4h0M1196.0 868.3h0M1184.3 823.5h0M1206.5 805.8h0M1213.5 874.8h0M1178.3 851.6h0M1172.7 833.2h0M1193.0 880.3h0M1173.4 826.4h0M1204.4 902.3h0M1174.5 827.5h0M1202.8 811.2h0M1196.0 858.7h0M1160.2 869.7h0M1189.2 828.0h0M1195.8 845.6h0M1165.8 830.6h0M1176.9 848.0h0M1167.3 838.9h0" stroke="#5a4ae6" stroke-width="3.6" stroke-linecap="round" fill="none" />
<path d="M1190.6 845.8h0M1210.7 838.6h0M1180.2 811.4h0M1200.5 819.2h0M1213.4 860.1h0M1190.6 918.8h0M1193.3 870.4h0M1223.7 813.7h0M1209.9 904.6h0M1200.1 892.4h0M1191.2 837.2h0M1235.5 788.2h0M1181.6 879.7h0M1209.4 907.9h0M1196.3 921.9h0M1202.0 863.4h0M1174.9 885.2h0M1175.5 821.0h0M1192.5 921.8h0M1219.9 809.8h0M1165.5 876.0h0M1190.5 818.2h0M1210.3 859.0h0M1223.0 794.3h0M1155.1 830.8h0M1212.5 887.4h0M1160.8 822.8h0M1183.1 829.2h0M1160.8 815.2h0M1164.9 867.4h0M1161.6 837.8h0M1198.8 843.5h0M1154.7 813.6h0M1198.5 908.9h0M1207.4 876.2h0M1183.0 894.2h0M1202.9 918.7h0M1181.3 877.0h0M1189.5 913.5h0M1231.0 783.9h0" stroke="#2a22f0" stroke-width="3.6" stroke-linecap="round" fill="none" />
<path d="M1206.6 671.5h0M1146.5 727.8h0M1191.5 677.7h0M1163.0 812.2h0M1148.4 745.2h0M1174.5 767.4h0M1224.4 763.7h0M1220.4 715.7h0M1201.5 713.4h0M1195.8 771.3h0M1140.7 757.9h0M1158.6 781.9h0M1198.3 774.5h0M1165.7 743.9h0M1208.2 698.1h0M1207.6 690.6h0M1169.8 753.1h0M1192.3 739.1h0M1201.9 694.4h0M1137.8 717.1h0M1143.3 732.0h0M1178.8 761.3h0M1200.0 726.8h0M1189.8 741.9h0M1159.4 742.1h0M1222.4 738.6h0M1180.9 806.5h0M1147.4 765.9h0" stroke="#5a4ae6" stroke-width="3.6" stroke-linecap="round" fill="none" />
<path d="M1252.5 786.9h0M1235.5 832.7h0M1254.0 788.1h0M1272.1 857.9h0M1243.1 830.6h0M1265.1 835.2h0M1248.5 799.5h0M1244.1 862.7h0M1264.6 787.6h0M1252.5 783.3h0M1241.5 842.4h0M1246.9 842.0h0M1275.3 835.7h0M1233.8 831.6h0M1245.8 875.1h0M1243.2 803.5h0M1259.5 843.1h0M1261.6 844.1h0M1273.1 837.5h0M1263.7 805.6h0M1267.6 831.1h0M1257.1 862.7h0M1242.4 878.1h0M1259.6 872.8h0M1229.7 833.8h0M1266.8 841.7h0" stroke="#5a4ae6" stroke-width="3.6" stroke-linecap="round" fill="none" />
<path d="M1268.5 828.0h0M1229.0 830.2h0M1265.2 856.8h0M1257.7 826.2h0M1245.9 871.4h0M1259.1 786.3h0M1241.4 825.7h0M1272.5 814.1h0M1264.6 844.6h0M1249.9 831.8h0" stroke="#2a22f0" stroke-width="3.6" stroke-linecap="round" fill="none" />
<path d="M1364.3 804.5h0M1310.8 799.9h0M1305.9 784.3h0M1314.3 797.6h0M1334.6 798.1h0M1304.6 773.0h0M1328.1 773.5h0M1315.5 781.5h0M1352.7 781.6h0M1374.5 799.8h0M1351.6 780.4h0M1317.2 798.4h0M1358.4 796.2h0M1329.5 797.2h0M1292.8 784.3h0M1352.7 793.7h0M1341.4 772.8h0M1317.9 768.6h0M1324.6 774.9h0M1386.0 808.6h0M1307.9 771.0h0M1299.0 775.6h0M1327.1 788.2h0M1292.4 779.0h0M1340.1 782.9h0M1310.5 774.7h0M1348.3 791.5h0M1307.7 785.9h0M1305.7 786.9h0M1341.2 792.2h0M1375.1 806.7h0M1310.6 793.4h0M1340.8 778.3h0M1330.6 775.0h0M1319.4 796.8h0M1331.1 783.8h0M1345.9 790.0h0M1366.5 795.9h0M1356.5 785.0h0M1329.1 787.9h0M1343.4 783.8h0M1348.8 793.7h0M1334.9 789.3h0M1307.0 768.8h0M1359.1 789.6h0M1364.4 800.8h0M1376.9 801.9h0M1380.6 806.7h0M1313.0 767.9h0M1363.6 796.9h0" stroke="#5a4ae6" stroke-width="3.6" stroke-linecap="round" fill="none" />
<path d="M1298.5 773.0h0M1381.2 803.6h0M1360.7 795.0h0M1318.6 772.7h0M1299.7 779.4h0M1350.1 797.9h0M1324.7 793.4h0M1316.9 793.8h0M1314.7 794.1h0M1322.6 785.0h0M1313.2 787.4h0M1332.2 772.9h0M1361.5 796.9h0M1372.8 806.2h0M1323.3 795.7h0M1365.9 795.4h0M1321.5 790.0h0M1327.9 795.9h0M1323.3 804.2h0M1372.3 806.5h0M1324.8 803.9h0M1304.6 776.7h0" stroke="#2a22f0" stroke-width="3.6" stroke-linecap="round" fill="none" />
<path d="M1337.6 767.1h0M1339.0 754.1h0M1354.0 724.9h0M1347.2 762.3h0M1358.3 726.2h0M1355.2 725.1h0M1335.8 753.5h0M1349.6 770.7h0" stroke="#5a4ae6" stroke-width="3.6" stroke-linecap="round" fill="none" />
<path d="M1362.0 712.0h0M1364.8 719.1h0M1360.0 725.4h0M1360.7 739.3h0" stroke="#2a22f0" stroke-width="3.6" stroke-linecap="round" fill="none" />
</g>
<path d="M1654.7 507.4V715.7H1860.6" fill="none" stroke="#000" stroke-width="2.3"/>
<text font-size="29.26" text-anchor="middle" textLength="104.8" lengthAdjust="spacingAndGlyphs" x="1755.6" y="752.8">UMAP 1</text>
<text font-size="29.26" text-anchor="middle" textLength="103.2" lengthAdjust="spacingAndGlyphs" transform="translate(1637 614.6) rotate(-90)">UMAP 2</text>
<text font-size="30.3" text-anchor="middle" textLength="95.7" lengthAdjust="spacingAndGlyphs" font-style="italic" x="1757.9" y="485.6">GZMB</text>
<defs><linearGradient id="cb31" x1="0" y1="0" x2="0" y2="1"><stop offset="0" stop-color="#1a14ff"/><stop offset="0.27" stop-color="#6a4bf5"/><stop offset="0.5" stop-color="#9673eb"/><stop offset="0.75" stop-color="#b9a3e1"/><stop offset="1" stop-color="#d3d3d3"/></linearGradient></defs>
<rect x="1869.4" y="534.1" width="32.3" height="159.5" fill="url(#cb31)"/>
<line x1="1869.4" y1="555.4" x2="1875.9" y2="555.4" stroke="#fff" stroke-width="2" />
<line x1="1895.2" y1="555.4" x2="1901.7" y2="555.4" stroke="#fff" stroke-width="2" />
<text font-size="24.77" x="1915.8" y="563.9">3.0</text>
<line x1="1869.4" y1="599.4" x2="1875.9" y2="599.4" stroke="#fff" stroke-width="2" />
<line x1="1895.2" y1="599.4" x2="1901.7" y2="599.4" stroke="#fff" stroke-width="2" />
<text font-size="24.77" x="1915.8" y="607.9">2.5</text>
<line x1="1869.4" y1="644.1" x2="1875.9" y2="644.1" stroke="#fff" stroke-width="2" />
<line x1="1895.2" y1="644.1" x2="1901.7" y2="644.1" stroke="#fff" stroke-width="2" />
<text font-size="24.77" x="1915.8" y="652.6">2.0</text>
<line x1="1869.4" y1="688.1" x2="1875.9" y2="688.1" stroke="#fff" stroke-width="2" />
<line x1="1895.2" y1="688.1" x2="1901.7" y2="688.1" stroke="#fff" stroke-width="2" />
<text font-size="24.77" x="1915.8" y="696.6">1.5</text>
<text font-size="25.08" textLength="121.8" lengthAdjust="spacingAndGlyphs" x="1869.7" y="523.5">Expression</text>
<g transform="translate(1604.5 475) scale(1.1 1)"><text font-size="34" font-weight="bold" x="0" y="0" stroke="#000" stroke-width="0.7">h</text></g>
</g>
<g id="panel_i">
<g transform="translate(902.945 498.073) scale(0.681 0.531)">
<g filter="url(#rough3)">
<path d="M1198.4 665.4C1202.1 664.6 1208.3 665.7 1212.0 668.8C1215.7 672.0 1218.8 678.2 1220.5 684.1C1222.2 690.1 1221.0 698.3 1222.2 704.5C1223.3 710.7 1226.1 715.8 1227.2 721.4C1228.4 727.1 1229.2 732.7 1228.9 738.4C1228.7 744.1 1225.3 750.3 1225.6 755.4C1225.8 760.5 1228.9 765.6 1230.6 768.9C1232.3 772.3 1236.6 772.9 1235.7 775.7C1234.9 778.6 1229.5 782.5 1225.6 785.9C1221.6 789.3 1216.5 793.3 1212.0 796.1C1207.5 798.9 1203.5 800.6 1198.4 802.9C1193.3 805.1 1187.1 807.4 1181.4 809.7C1175.8 811.9 1169.6 815.9 1164.5 816.5C1159.4 817.0 1154.3 817.0 1150.9 813.1C1147.5 809.1 1145.8 798.9 1144.1 792.7C1142.4 786.5 1142.7 781.4 1140.7 775.7C1138.7 770.1 1134.5 764.4 1132.2 758.8C1130.0 753.1 1127.4 747.5 1127.1 741.8C1126.9 736.1 1128.3 729.9 1130.5 724.8C1132.8 719.7 1136.2 715.2 1140.7 711.3C1145.2 707.3 1151.5 704.5 1157.7 701.1C1163.9 697.7 1172.7 695.4 1178.0 690.9C1183.4 686.4 1186.5 678.2 1189.9 673.9C1193.3 669.7 1194.7 666.3 1198.4 665.4Z" fill="#d3d3d3" stroke="#d3d3d3" stroke-width="5"/>
<path d="M1259.5 774.0C1262.3 774.0 1264.3 781.1 1266.3 785.9C1268.3 790.7 1269.7 796.7 1271.4 802.9C1273.1 809.1 1275.3 816.5 1276.5 823.2C1277.6 830.0 1278.7 836.8 1278.1 843.6C1277.6 850.4 1275.6 858.3 1273.1 864.0C1270.5 869.6 1266.8 874.4 1262.9 877.5C1258.9 880.6 1253.8 883.2 1249.3 882.6C1244.8 882.1 1239.1 878.4 1235.7 874.1C1232.3 869.9 1230.4 863.4 1228.9 857.2C1227.5 850.9 1227.0 843.6 1227.2 836.8C1227.5 830.0 1228.7 822.7 1230.6 816.5C1232.6 810.2 1236.0 804.6 1239.1 799.5C1242.2 794.4 1245.9 790.2 1249.3 785.9C1252.7 781.7 1256.7 774.0 1259.5 774.0Z" fill="#d3d3d3" stroke="#d3d3d3" stroke-width="5"/>
<path d="M1150.9 813.1C1156.0 808.0 1171.3 812.5 1181.4 809.7C1191.6 806.8 1203.8 801.7 1212.0 796.1C1220.2 790.4 1225.6 779.4 1230.6 775.7C1235.7 772.1 1241.1 771.8 1242.5 774.0C1243.9 776.3 1241.4 783.9 1239.1 789.3C1236.9 794.7 1232.3 800.6 1228.9 806.3C1225.6 811.9 1221.0 817.0 1218.8 823.2C1216.5 829.5 1216.2 836.8 1215.4 843.6C1214.5 850.4 1213.4 857.2 1213.7 864.0C1214.0 870.7 1217.4 877.5 1217.1 884.3C1216.8 891.1 1214.5 898.5 1212.0 904.7C1209.4 910.9 1205.2 917.7 1201.8 921.6C1198.4 925.6 1195.0 930.7 1191.6 928.4C1188.2 926.2 1185.4 915.4 1181.4 908.1C1177.5 900.7 1172.1 891.7 1167.9 884.3C1163.6 877.0 1158.8 871.3 1156.0 864.0C1153.2 856.6 1151.7 848.7 1150.9 840.2C1150.1 831.7 1145.8 818.1 1150.9 813.1Z" fill="#d3d3d3" stroke="#d3d3d3" stroke-width="5"/>
<path d="M1201.8 921.6C1206.0 918.2 1211.4 913.7 1217.1 911.5C1222.7 909.2 1230.4 908.1 1235.7 908.1C1241.1 908.1 1247.3 906.9 1249.3 911.5C1251.3 916.0 1249.3 926.7 1247.6 935.2C1245.9 943.7 1242.0 955.0 1239.1 962.4C1236.3 969.7 1234.0 974.5 1230.6 979.3C1227.2 984.1 1222.4 989.2 1218.8 991.2C1215.1 993.2 1212.0 993.2 1208.6 991.2C1205.2 989.2 1201.0 985.3 1198.4 979.3C1195.9 973.4 1194.4 963.5 1193.3 955.6C1192.2 947.7 1190.2 937.5 1191.6 931.8C1193.0 926.2 1197.6 925.0 1201.8 921.6Z" fill="#d3d3d3" stroke="#d3d3d3" stroke-width="5"/>
<path d="M1230.6 729.9C1234.3 727.7 1244.2 724.3 1249.3 724.8C1254.4 725.4 1258.6 729.9 1261.2 733.3C1263.7 736.7 1265.4 742.1 1264.6 745.2C1263.7 748.3 1259.2 749.7 1256.1 752.0C1253.0 754.2 1249.6 756.5 1245.9 758.8C1242.2 761.0 1237.4 766.1 1234.0 765.6C1230.6 765.0 1226.7 759.9 1225.6 755.4C1224.4 750.8 1226.4 742.6 1227.2 738.4C1228.1 734.2 1227.0 732.2 1230.6 729.9Z" fill="#d3d3d3" stroke="#d3d3d3" stroke-width="5"/>
<path d="M1217.1 877.5C1221.0 872.4 1229.2 871.9 1235.7 874.1C1242.2 876.4 1253.8 884.9 1256.1 891.1C1258.4 897.3 1252.7 908.6 1249.3 911.5C1245.9 914.3 1241.1 908.1 1235.7 908.1C1230.4 908.1 1222.7 909.2 1217.1 911.5C1211.4 913.7 1202.6 922.8 1201.8 921.6C1201.0 920.5 1209.4 912.0 1212.0 904.7C1214.5 897.3 1213.1 882.6 1217.1 877.5Z" fill="#d3d3d3" opacity="0.8"/>
<path d="M1230.6 775.7C1232.9 770.4 1241.1 771.8 1242.5 774.0C1243.9 776.3 1241.1 782.2 1239.1 789.3C1237.1 796.4 1232.6 808.5 1230.6 816.5C1228.7 824.4 1227.5 830.0 1227.2 836.8C1227.0 843.6 1227.5 850.9 1228.9 857.2C1230.4 863.4 1237.7 870.7 1235.7 874.1C1233.8 877.5 1220.7 879.2 1217.1 877.5C1213.4 875.8 1214.0 869.6 1213.7 864.0C1213.4 858.3 1214.5 850.4 1215.4 843.6C1216.2 836.8 1216.5 829.5 1218.8 823.2C1221.0 817.0 1227.0 814.2 1228.9 806.3C1230.9 798.4 1228.4 781.1 1230.6 775.7Z" fill="#d3d3d3" opacity="0.55"/>
</g>
<g filter="url(#rough3)">
<path d="M1301.3 778.3C1302.4 776.2 1305.4 774.1 1308.4 772.9C1311.4 771.7 1315.5 770.8 1319.1 771.1C1322.7 771.4 1326.3 773.8 1329.8 774.7C1333.4 775.6 1337.3 775.3 1340.6 776.5C1343.8 777.7 1347.1 779.8 1349.5 781.9C1351.9 783.9 1352.5 786.6 1354.8 789.0C1357.2 791.4 1360.2 794.2 1363.8 796.1C1367.3 798.1 1373.9 799.1 1376.3 800.6C1378.7 802.1 1379.3 804.2 1378.1 805.1C1376.9 806.0 1372.1 806.3 1369.1 806.0C1366.2 805.7 1363.2 804.3 1360.2 803.3C1357.2 802.3 1354.2 800.9 1351.3 799.7C1348.3 798.5 1345.3 796.4 1342.3 796.1C1339.4 795.9 1336.4 796.7 1333.4 797.9C1330.4 799.1 1326.9 803.0 1324.5 803.3C1322.1 803.6 1321.2 800.9 1319.1 799.7C1317.0 798.5 1314.4 797.3 1312.0 796.1C1309.6 795.0 1306.6 794.4 1304.8 792.6C1303.0 790.8 1301.9 787.8 1301.3 785.4C1300.7 783.1 1300.1 780.4 1301.3 778.3Z" fill="#d3d3d3" opacity="1"/>
<path d="M1362.4 710.9C1363.2 711.4 1363.7 715.8 1364.4 719.9C1365.1 724.1 1366.3 731.3 1366.4 736.0C1366.6 740.7 1366.1 744.1 1365.4 748.1C1364.7 752.1 1363.4 756.4 1362.4 760.1C1361.4 763.8 1360.4 767.2 1359.4 770.2C1358.4 773.2 1357.5 777.0 1356.4 778.2C1355.2 779.4 1352.5 778.9 1352.4 777.2C1352.2 775.5 1354.4 771.3 1355.4 768.2C1356.4 765.0 1357.5 761.5 1358.4 758.1C1359.2 754.8 1360.1 751.8 1360.4 748.1C1360.7 744.4 1360.6 740.0 1360.4 736.0C1360.2 732.0 1359.2 727.1 1359.0 724.0C1358.8 720.8 1358.8 719.1 1359.4 716.9C1360.0 714.7 1361.6 710.4 1362.4 710.9Z" fill="#d3d3d3" opacity="0.85"/>
<path d="M1339.1 848.6C1340.7 846.7 1343.6 845.7 1346.9 844.7C1350.2 843.7 1355.1 842.4 1358.7 842.7C1362.3 843.1 1365.9 844.4 1368.5 846.7C1371.1 849.0 1373.3 852.2 1374.4 856.5C1375.6 860.8 1376.1 867.3 1375.4 872.2C1374.7 877.1 1373.3 884.0 1370.5 886.0C1367.7 887.9 1362.6 883.7 1358.7 884.0C1354.8 884.3 1350.2 888.6 1346.9 887.9C1343.6 887.3 1340.9 883.3 1339.1 880.1C1337.3 876.8 1336.4 872.2 1336.1 868.3C1335.8 864.4 1336.6 859.8 1337.1 856.5C1337.6 853.2 1337.4 850.6 1339.1 848.6Z" fill="#d3d3d3" opacity="0.85"/>
<path d="M1322.5 672.3C1323.4 671.2 1326.9 670.5 1328.5 671.2C1330.1 672.0 1331.8 674.8 1332.1 676.8C1332.4 678.8 1331.3 682.2 1330.3 683.0C1329.2 683.9 1327.0 682.6 1325.8 681.7C1324.6 680.8 1323.7 679.5 1323.1 677.9C1322.6 676.3 1321.6 673.4 1322.5 672.3Z" fill="#d3d3d3" opacity="1"/>
</g>
<path d="M1326.1 784.8h0M1335.9 781.1h0M1341.5 783.2h0M1296.3 784.3h0M1338.6 789.9h0M1380.4 805.2h0M1346.8 776.1h0M1342.6 781.7h0M1328.2 796.0h0M1350.0 790.4h0M1373.0 805.9h0M1295.7 780.6h0M1327.2 782.8h0M1344.2 777.1h0M1381.3 802.9h0M1313.3 798.5h0M1345.6 777.5h0M1322.3 800.0h0M1317.3 797.9h0M1300.3 777.7h0M1317.8 794.1h0M1342.0 795.4h0M1337.6 796.9h0M1294.5 776.7h0M1304.6 772.0h0M1330.0 777.7h0M1296.3 774.0h0M1341.4 787.5h0M1367.5 801.4h0M1343.0 790.6h0M1372.6 806.2h0M1324.8 803.8h0M1298.2 771.5h0M1344.9 776.5h0M1300.1 787.5h0M1332.0 781.5h0M1321.4 802.9h0M1303.3 776.8h0M1336.4 786.1h0M1318.9 789.8h0M1317.6 787.1h0M1349.8 789.5h0M1331.9 795.8h0M1341.5 779.4h0M1326.9 770.8h0M1381.9 803.3h0M1318.0 775.3h0M1371.1 807.8h0M1322.8 795.5h0M1307.2 787.0h0M1342.3 792.8h0M1332.9 787.8h0M1341.6 779.7h0M1376.2 803.4h0M1349.4 793.3h0M1336.7 790.4h0M1309.7 769.5h0M1331.8 775.9h0M1309.2 792.1h0M1299.3 783.0h0M1329.2 798.4h0M1352.8 797.9h0M1340.2 785.2h0M1340.9 784.9h0M1313.9 794.1h0M1341.1 797.2h0M1339.2 776.6h0M1352.4 790.2h0M1298.5 791.8h0M1300.0 788.5h0M1304.4 783.2h0M1320.6 794.0h0M1301.0 779.8h0M1305.3 780.5h0M1366.1 795.0h0M1342.4 784.6h0M1334.5 795.5h0M1382.4 805.3h0M1334.5 791.5h0M1301.6 780.7h0M1342.1 796.3h0M1311.4 767.2h0M1357.2 799.8h0M1292.9 781.1h0M1310.8 775.5h0M1368.8 801.5h0M1321.3 795.2h0M1332.8 784.5h0M1332.5 799.0h0M1346.6 796.1h0M1339.4 777.9h0M1310.6 784.3h0M1342.3 781.1h0M1385.3 803.9h0M1307.9 776.0h0M1320.8 771.1h0M1343.5 789.3h0M1356.9 791.6h0M1323.6 801.4h0M1302.8 779.6h0M1297.0 775.6h0M1300.9 778.2h0M1357.1 793.8h0M1330.3 781.2h0M1301.8 782.5h0M1309.3 767.4h0M1347.5 795.5h0M1304.4 775.8h0M1293.1 784.7h0M1360.2 791.3h0M1363.4 798.4h0M1328.4 794.0h0M1296.1 776.6h0M1374.3 807.2h0M1351.1 791.4h0M1349.7 791.3h0M1314.5 771.2h0M1350.4 783.9h0M1309.9 784.7h0M1368.0 804.1h0M1339.3 783.9h0M1328.3 779.2h0M1349.2 782.1h0M1356.1 791.0h0M1306.5 777.4h0M1315.9 796.4h0M1378.4 806.2h0M1346.5 776.0h0M1373.4 800.2h0M1350.8 798.0h0M1356.6 786.5h0M1345.0 789.6h0M1317.2 772.1h0M1356.6 788.5h0M1364.1 795.2h0M1312.3 792.1h0M1326.7 782.5h0M1316.4 792.6h0M1312.2 785.5h0M1303.3 791.9h0M1377.0 805.7h0M1325.3 770.2h0M1312.3 799.4h0M1313.2 795.8h0M1339.9 782.7h0M1374.2 798.8h0M1300.6 794.1h0M1322.0 782.4h0M1303.7 796.2h0M1355.0 789.4h0M1325.0 790.8h0M1368.3 798.2h0M1336.2 775.7h0M1341.4 778.4h0M1350.7 788.3h0M1311.4 781.0h0M1346.0 788.1h0M1364.1 803.0h0M1328.1 772.9h0M1329.9 786.3h0M1301.3 793.9h0M1339.6 793.4h0M1359.1 801.8h0M1379.3 803.1h0M1333.4 777.2h0M1329.1 786.1h0M1307.8 774.0h0M1314.4 779.5h0M1313.1 791.1h0M1319.6 790.2h0M1310.3 768.1h0M1356.9 789.3h0M1344.6 789.6h0M1322.9 790.4h0M1357.2 787.6h0M1316.8 789.0h0M1360.9 799.9h0M1323.4 789.9h0M1313.1 780.2h0M1352.5 800.6h0M1342.1 778.2h0M1299.9 774.1h0M1354.4 790.3h0M1311.1 798.9h0M1305.4 797.1h0M1317.0 798.3h0M1322.0 774.3h0M1318.1 796.5h0M1353.4 783.6h0M1309.3 792.4h0M1313.0 792.7h0M1355.3 798.0h0M1381.5 801.6h0M1309.5 790.2h0M1330.7 788.1h0M1306.4 782.8h0M1344.4 789.2h0M1332.0 785.5h0M1324.7 803.5h0M1321.4 797.1h0M1316.7 769.0h0M1297.2 773.7h0M1340.2 778.3h0M1339.1 795.0h0M1343.0 779.4h0M1330.4 798.3h0M1319.2 773.1h0M1323.1 778.2h0M1306.8 795.5h0M1313.6 798.9h0M1337.0 778.9h0M1383.0 804.7h0M1345.6 775.7h0M1302.5 787.8h0M1321.4 777.2h0M1324.0 777.4h0M1343.5 776.2h0M1357.0 801.0h0M1345.2 793.6h0M1366.4 798.4h0M1322.4 796.0h0M1327.9 802.0h0M1295.7 783.8h0M1310.9 774.3h0M1320.7 779.8h0M1351.0 795.0h0M1360.4 798.6h0M1340.8 793.3h0M1340.2 783.5h0M1330.9 784.3h0M1313.0 790.6h0M1370.3 806.4h0M1366.2 799.6h0M1385.8 807.0h0M1315.5 780.1h0M1317.5 781.4h0M1317.0 793.6h0M1319.1 777.7h0M1342.7 786.4h0M1306.8 772.0h0M1297.5 787.6h0M1355.4 789.1h0M1347.6 793.6h0M1327.6 790.4h0M1309.8 790.0h0M1333.3 796.7h0M1347.6 788.3h0M1329.6 786.0h0M1311.3 780.6h0M1349.2 798.1h0M1345.0 785.6h0M1320.3 794.1h0M1355.2 790.2h0M1348.2 783.5h0M1312.3 774.3h0M1386.7 805.2h0M1303.9 780.5h0M1365.1 794.8h0M1297.5 787.5h0M1358.5 799.2h0M1343.0 849.8h0M1342.8 866.2h0M1338.4 879.3h0M1362.1 875.0h0M1367.6 844.9h0M1371.2 849.7h0M1340.3 865.8h0M1345.2 854.2h0M1340.2 856.9h0M1372.1 873.9h0M1374.3 858.8h0M1339.3 847.1h0M1352.8 869.1h0M1347.8 849.0h0M1370.1 859.0h0M1374.4 861.6h0M1369.0 881.0h0M1370.3 844.7h0M1341.3 874.2h0M1339.5 846.5h0M1340.7 881.2h0M1344.5 875.5h0M1352.7 872.0h0M1344.5 853.5h0M1336.3 855.8h0M1353.1 887.2h0M1366.9 873.1h0M1344.9 888.4h0M1356.9 880.5h0M1340.9 871.6h0M1357.4 880.4h0M1343.9 853.1h0M1355.1 878.5h0M1336.0 857.3h0M1351.8 843.7h0M1348.9 853.1h0M1364.6 871.7h0M1360.2 885.6h0M1350.5 857.0h0M1345.1 853.9h0M1354.1 864.5h0M1359.3 859.7h0M1336.6 853.8h0M1376.3 862.4h0M1376.4 871.6h0M1364.9 869.9h0M1346.3 889.2h0M1335.4 853.4h0M1369.9 858.5h0M1367.0 844.4h0M1355.2 865.8h0M1363.4 870.9h0M1340.9 854.9h0M1353.5 869.8h0M1345.5 876.8h0M1340.6 879.1h0M1347.2 882.1h0M1355.7 884.9h0M1375.2 875.4h0M1369.2 882.4h0M1345.9 861.1h0M1338.8 867.0h0M1341.6 877.1h0M1367.2 870.7h0M1351.1 853.6h0M1375.9 875.2h0M1373.0 875.3h0M1357.5 876.8h0M1341.5 883.9h0M1361.8 870.0h0M1372.4 855.1h0M1351.9 869.8h0M1348.4 854.2h0M1364.0 875.2h0M1351.6 880.4h0M1364.8 875.0h0M1370.7 846.8h0M1354.4 867.8h0M1336.9 861.3h0M1368.6 865.7h0M1340.5 874.2h0M1370.0 863.0h0M1343.2 858.6h0M1350.7 849.7h0M1364.9 872.0h0M1355.8 842.7h0M1348.1 849.8h0M1334.2 868.3h0M1351.2 858.7h0M1338.5 850.0h0M1345.1 863.4h0M1369.9 879.9h0M1372.0 860.1h0M1340.6 858.0h0M1374.5 879.8h0M1357.4 857.8h0M1362.5 841.6h0M1339.3 849.2h0M1335.9 875.7h0M1356.2 846.6h0M1335.0 857.4h0M1344.9 861.1h0M1369.9 877.9h0M1340.0 880.7h0M1340.8 884.4h0M1352.7 846.4h0M1341.7 885.8h0M1339.3 861.2h0M1334.7 869.7h0M1342.7 882.4h0M1346.1 877.0h0M1347.3 871.1h0M1341.8 856.3h0M1338.1 858.7h0M1369.7 873.6h0M1343.6 886.6h0M1361.1 862.6h0M1342.0 880.5h0M1345.9 882.1h0M1361.8 860.1h0M1349.9 872.3h0M1353.2 845.2h0M1345.0 873.6h0M1343.5 849.8h0M1373.6 851.8h0M1372.7 873.9h0M1339.4 880.6h0M1348.2 862.8h0M1354.2 865.2h0M1341.2 878.7h0M1352.3 884.8h0M1370.1 863.6h0M1350.2 848.5h0M1362.6 868.2h0M1343.9 860.9h0M1367.0 857.8h0M1347.2 852.4h0M1354.6 881.0h0M1363.2 869.6h0M1355.9 856.2h0M1344.7 856.7h0M1359.8 882.4h0M1343.6 860.0h0M1371.6 866.0h0M1348.6 867.6h0M1376.9 872.3h0M1354.1 871.8h0M1359.4 849.3h0M1344.8 853.4h0M1359.8 874.1h0M1369.5 866.5h0M1367.9 858.4h0M1373.2 853.2h0M1364.5 865.3h0M1370.9 874.1h0M1339.3 881.0h0M1357.7 887.0h0M1346.3 842.1h0M1358.0 878.6h0M1350.9 876.0h0M1363.4 754.1h0M1362.0 739.8h0M1360.1 753.7h0M1361.8 735.7h0M1365.2 730.6h0M1361.2 728.4h0M1363.7 720.7h0M1359.2 722.1h0M1358.4 764.6h0M1362.8 748.9h0M1359.0 767.7h0M1363.5 722.8h0M1357.8 766.6h0M1361.0 757.1h0M1361.2 719.7h0M1356.2 767.3h0M1363.4 747.3h0M1365.4 721.2h0M1360.7 755.0h0M1364.7 723.4h0M1359.5 725.2h0M1359.7 767.7h0M1360.9 719.5h0M1363.0 728.5h0M1352.9 777.0h0M1360.3 767.8h0M1356.5 778.7h0M1363.0 745.0h0M1364.8 730.5h0M1360.7 735.6h0M1364.2 738.4h0M1362.7 708.7h0M1362.0 756.0h0M1364.7 737.7h0M1365.1 723.5h0M1364.4 742.3h0M1359.6 726.0h0M1360.9 734.4h0M1361.0 714.3h0M1362.5 748.2h0M1360.8 767.5h0M1361.1 757.8h0M1363.3 735.1h0M1363.5 720.4h0M1361.7 728.0h0M1358.6 772.4h0M1362.4 752.3h0M1366.3 729.5h0M1360.0 766.7h0M1366.2 742.4h0M1364.1 731.8h0M1362.4 713.3h0M1362.0 751.5h0M1362.2 709.0h0M1359.3 722.4h0M1363.5 750.3h0M1363.6 743.1h0M1355.4 775.6h0M1361.1 731.6h0M1363.5 727.3h0M1339.7 712.3h0M1341.6 710.0h0M1340.3 711.1h0M1339.4 714.0h0M1339.4 712.1h0M1343.6 719.1h0M1339.2 709.8h0M1336.3 700.1h0M1343.4 723.8h0M1336.1 700.9h0M1332.9 691.3h0M1339.0 712.9h0M1342.4 715.7h0M1333.5 692.8h0M1342.1 713.2h0M1344.2 719.3h0M1347.5 723.8h0M1334.8 697.9h0M1343.0 718.1h0M1331.9 684.9h0M1336.9 706.6h0M1332.9 694.7h0M1332.6 692.8h0M1341.9 710.7h0M1331.5 687.0h0M1332.8 683.9h0M1330.4 687.4h0M1341.6 721.1h0M1336.7 705.4h0M1337.7 711.1h0M1329.6 681.7h0M1338.1 704.1h0M1333.1 692.5h0M1336.3 708.1h0M1332.4 685.9h0M1334.5 693.4h0M1336.8 702.8h0M1343.1 714.4h0M1334.2 698.8h0M1342.9 720.1h0M1335.7 740.3h0M1345.8 731.3h0M1358.7 728.9h0M1358.7 722.1h0M1356.1 735.8h0M1357.1 721.1h0M1345.1 745.0h0M1352.9 753.6h0M1348.0 758.0h0M1344.2 770.5h0M1353.1 732.2h0M1348.4 767.6h0M1333.9 751.1h0M1354.7 748.3h0M1358.2 723.6h0M1344.2 753.3h0M1336.4 736.4h0M1337.2 737.0h0M1343.8 744.9h0M1339.1 762.8h0M1354.8 725.8h0M1355.0 735.5h0M1342.8 732.0h0M1332.2 750.2h0M1340.7 764.4h0M1352.1 738.0h0M1358.6 729.5h0M1339.1 756.8h0M1349.9 761.0h0M1350.1 762.4h0M1355.3 747.7h0M1352.6 730.7h0M1341.5 754.9h0M1340.7 747.6h0M1343.3 734.9h0M1347.0 727.3h0M1347.5 761.2h0M1351.0 733.0h0M1353.5 760.7h0M1345.1 735.6h0M1357.5 721.8h0M1358.0 731.0h0M1351.8 729.0h0M1340.0 746.7h0M1349.3 767.2h0M1356.4 741.2h0M1352.0 734.1h0M1359.1 718.4h0M1355.4 745.3h0M1346.6 773.5h0M1337.7 770.5h0M1354.9 740.7h0M1353.1 739.5h0M1351.5 764.3h0M1337.3 739.9h0M1340.8 743.7h0M1339.6 762.9h0M1355.9 719.6h0M1344.9 764.8h0M1341.5 744.4h0M1341.2 737.5h0M1340.9 766.9h0M1343.2 751.2h0M1334.8 754.6h0M1344.6 745.5h0M1352.3 724.8h0M1351.4 761.2h0M1331.3 747.8h0M1341.7 761.4h0M1338.1 743.0h0M1353.1 726.2h0M1348.1 772.7h0M1343.6 742.9h0M1342.2 768.8h0M1338.1 736.7h0M1334.9 745.3h0M1345.6 750.7h0M1339.0 752.2h0M1331.6 745.7h0M1332.4 754.2h0M1345.0 737.1h0M1339.4 765.2h0M1347.3 726.4h0M1353.8 748.4h0M1339.5 742.8h0M1337.7 770.5h0M1352.1 742.0h0M1339.6 770.3h0M1356.4 730.4h0M1339.9 761.7h0M1354.6 722.1h0M1356.0 743.6h0M1358.3 735.3h0M1359.0 727.2h0M1347.2 748.6h0M1332.6 745.5h0M1346.3 773.5h0M1354.7 750.4h0M1345.7 754.7h0M1340.4 747.4h0M1351.3 750.2h0M1346.2 765.2h0M1346.5 745.9h0M1359.2 720.9h0M1356.8 732.6h0M1340.9 756.5h0M1348.9 762.4h0M1345.6 745.9h0M1338.7 766.7h0M1351.1 754.3h0M1311.2 765.9h0M1310.0 753.1h0M1317.2 739.7h0M1310.0 748.8h0M1312.3 763.2h0M1313.9 761.2h0M1314.1 753.7h0M1311.6 749.3h0M1313.3 756.6h0M1312.5 762.0h0M1310.5 764.7h0M1317.0 742.9h0M1314.7 743.6h0M1319.2 739.8h0M1311.3 754.1h0M1317.7 743.9h0M1317.4 741.1h0M1314.5 744.2h0M1315.5 743.6h0M1311.6 747.1h0M1309.4 761.7h0M1317.8 742.1h0M1314.1 757.4h0M1310.1 748.9h0M1316.3 741.1h0M1312.7 763.0h0M1310.5 753.4h0M1309.5 765.6h0M1314.0 744.1h0M1313.8 760.8h0M1287.6 804.1h0M1292.1 793.9h0M1293.1 796.4h0M1283.8 806.6h0M1289.8 802.2h0M1293.2 794.3h0M1290.5 797.6h0M1292.3 800.7h0M1293.7 796.5h0M1287.5 803.0h0M1293.3 793.7h0M1291.3 802.1h0M1284.7 807.7h0M1284.3 807.7h0M1281.3 808.6h0M1281.2 809.6h0M1292.3 796.8h0M1288.4 805.6h0M1292.3 797.9h0M1284.7 808.9h0M1290.9 800.9h0M1290.4 800.5h0M1366.6 819.8h0M1367.6 829.9h0M1363.9 808.7h0M1363.5 837.5h0M1365.1 817.0h0M1365.6 838.5h0M1366.4 818.7h0M1366.5 818.3h0M1362.9 813.7h0M1365.3 820.0h0M1364.3 830.5h0M1367.0 837.8h0M1360.7 820.3h0M1367.1 835.4h0M1362.1 827.9h0M1365.3 820.7h0M1360.0 809.2h0M1363.2 806.3h0M1364.7 824.5h0M1366.0 826.5h0M1362.4 815.9h0M1362.3 808.7h0M1364.4 839.3h0M1359.6 813.2h0M1366.0 822.4h0M1361.5 814.6h0M1360.5 818.7h0M1361.0 806.8h0M1363.3 819.2h0M1365.9 839.9h0M1366.9 826.3h0M1361.8 833.6h0M1364.6 826.6h0M1367.4 825.1h0M1362.3 820.4h0M1360.6 808.3h0M1360.6 811.1h0M1362.0 830.8h0M1363.8 819.3h0M1362.9 833.6h0M1359.5 778.9h0M1358.1 781.8h0M1358.0 785.2h0M1358.1 785.8h0M1359.3 778.6h0M1358.7 780.9h0M1357.2 782.6h0M1357.1 776.8h0M1354.4 783.4h0M1361.4 782.2h0M1356.8 779.4h0M1355.7 785.4h0M1358.7 780.1h0M1362.0 787.0h0M1359.3 778.1h0M1358.4 777.7h0M1356.7 785.1h0M1358.3 778.0h0M1353.2 783.5h0M1357.1 783.1h0M1360.6 782.4h0M1361.7 786.5h0M1360.4 781.3h0M1355.4 781.3h0M1357.3 784.0h0" stroke="#d3d3d3" stroke-width="2.6" stroke-linecap="round" fill="none" />
<path d="M1224.9 791.6h0M1227.7 791.4h0M1238.0 782.6h0M1216.1 826.3h0M1224.4 789.0h0M1228.3 817.0h0M1224.0 827.7h0M1216.8 870.6h0M1219.5 867.2h0M1218.0 823.7h0M1234.1 785.7h0M1219.8 871.9h0M1237.3 787.9h0M1237.6 782.2h0M1222.3 792.8h0M1229.8 812.0h0M1224.2 805.2h0M1222.1 794.4h0M1236.3 784.8h0M1233.5 788.6h0M1219.9 830.8h0M1220.4 818.4h0M1219.9 860.3h0M1217.1 838.6h0M1227.6 813.7h0M1228.3 800.4h0M1218.4 863.7h0M1224.0 801.6h0M1233.2 796.3h0M1224.9 811.3h0M1231.2 805.9h0M1222.2 794.2h0M1223.6 802.2h0M1218.7 800.4h0M1215.2 829.6h0M1217.0 806.3h0M1224.5 818.6h0M1217.6 828.7h0M1233.7 780.6h0M1220.8 809.9h0M1225.3 811.7h0M1227.7 819.0h0M1230.5 784.0h0M1238.8 782.7h0M1225.7 828.0h0M1234.3 797.9h0M1232.5 794.3h0M1231.2 780.8h0M1226.9 808.4h0M1221.6 795.2h0M1225.5 810.4h0M1221.8 839.3h0M1233.1 782.7h0M1226.2 810.1h0M1216.6 841.4h0M1217.0 843.8h0M1221.1 831.7h0M1215.8 831.4h0M1217.9 853.9h0M1229.5 797.0h0M1224.7 800.6h0M1220.9 860.3h0M1219.6 814.2h0M1222.6 820.3h0M1229.4 803.9h0M1219.4 859.4h0M1221.2 860.9h0M1218.7 827.4h0M1223.4 795.2h0M1220.5 797.5h0" stroke="#fff" stroke-width="2.4" stroke-linecap="round" fill="none" opacity="0.85"/>
<path d="M1337.7 790.7h0M1312.2 792.2h0M1379.3 805.9h0M1299.8 787.2h0M1306.6 784.1h0M1342.5 786.5h0M1356.9 798.8h0M1349.7 793.1h0M1324.7 790.4h0M1349.2 787.9h0M1354.0 793.2h0M1340.3 789.8h0M1295.4 786.0h0M1342.7 779.3h0M1321.7 776.5h0M1341.9 776.8h0M1326.8 778.2h0M1342.6 781.6h0M1320.4 794.1h0M1296.4 775.9h0M1307.0 796.8h0M1354.7 791.8h0M1318.8 768.6h0M1340.2 790.9h0M1345.2 794.3h0M1378.3 803.4h0M1330.8 780.9h0M1301.3 775.5h0M1340.8 779.3h0M1334.8 786.3h0M1320.2 769.3h0M1309.7 786.6h0M1381.8 806.7h0M1329.5 784.6h0M1303.7 790.0h0M1344.2 787.4h0M1312.3 769.7h0M1307.7 769.8h0M1362.7 798.7h0M1295.8 777.2h0M1373.9 808.2h0M1319.1 801.0h0M1380.4 808.5h0M1367.1 801.4h0M1317.3 780.2h0M1378.2 800.8h0M1325.8 775.2h0M1330.2 772.7h0M1345.7 789.3h0M1332.9 772.6h0M1313.0 798.5h0M1318.5 779.6h0M1331.1 782.0h0M1359.2 789.3h0M1371.9 804.7h0M1325.3 784.5h0M1336.7 772.7h0M1306.1 779.5h0M1301.2 774.7h0M1305.7 795.2h0M1350.5 792.8h0M1332.8 790.6h0M1363.0 801.1h0M1375.0 807.2h0M1327.4 779.3h0M1327.8 776.1h0M1335.9 787.6h0M1300.8 789.9h0M1302.9 787.0h0M1318.1 791.3h0M1326.7 772.6h0M1318.8 794.5h0M1339.1 793.8h0M1352.8 786.9h0M1329.7 794.9h0M1310.2 772.9h0M1297.3 776.6h0M1332.9 787.9h0M1313.3 789.0h0M1311.5 791.6h0M1311.7 790.3h0M1344.8 784.1h0M1330.5 782.5h0M1315.6 773.6h0M1380.8 809.2h0M1327.3 782.2h0M1362.4 800.8h0M1326.2 800.4h0M1323.2 769.4h0M1310.2 767.8h0M1321.4 799.9h0M1313.4 790.0h0M1303.3 775.1h0M1314.2 792.2h0M1368.5 804.7h0M1304.0 771.4h0M1382.6 803.5h0M1357.9 798.9h0M1329.4 787.2h0M1354.4 783.9h0M1316.9 776.6h0M1324.9 793.2h0M1308.4 788.7h0M1362.9 794.5h0M1350.3 785.9h0M1319.1 798.2h0M1360.3 791.6h0M1309.3 772.7h0M1318.4 774.7h0M1359.3 789.2h0M1314.2 800.6h0M1358.8 792.0h0M1331.3 776.5h0M1356.3 792.3h0M1361.3 803.4h0M1329.0 792.3h0M1331.3 782.9h0M1362.3 791.0h0M1355.3 788.4h0M1307.1 792.5h0M1322.7 780.8h0M1292.5 779.4h0M1299.0 791.2h0M1387.0 806.9h0M1337.0 793.7h0M1309.2 785.0h0M1358.9 794.2h0M1346.2 776.9h0M1320.6 790.1h0M1314.6 799.4h0M1380.6 807.5h0M1330.3 797.4h0M1339.1 773.5h0M1335.0 794.4h0M1352.2 794.4h0M1314.0 784.9h0M1353.7 800.0h0M1328.7 774.4h0M1324.3 774.2h0M1333.2 782.5h0M1294.3 778.0h0M1324.1 794.2h0M1329.0 781.0h0M1324.8 792.6h0M1318.7 796.4h0M1325.1 781.4h0M1314.2 772.4h0M1313.7 798.5h0M1355.5 799.1h0M1329.3 771.5h0M1328.3 784.2h0M1299.3 778.9h0M1317.3 798.0h0M1340.0 777.9h0M1299.9 790.2h0M1293.2 782.4h0M1349.0 791.3h0M1380.0 808.4h0M1337.3 795.2h0M1329.1 785.1h0M1355.4 790.9h0M1314.2 777.4h0M1376.0 806.2h0M1344.8 783.1h0M1310.7 767.6h0M1320.5 783.4h0M1318.4 789.8h0M1336.9 793.1h0M1338.8 774.9h0M1333.1 772.9h0M1324.8 774.2h0M1310.1 771.1h0M1304.8 774.9h0M1349.6 794.2h0M1344.5 793.7h0M1343.0 782.8h0M1336.8 790.2h0M1338.6 781.6h0M1331.4 774.1h0M1334.2 777.9h0M1340.1 793.4h0M1333.8 779.6h0M1324.0 785.1h0M1376.3 806.7h0M1385.5 804.6h0M1310.7 795.7h0M1323.1 782.3h0M1331.0 783.6h0M1325.6 789.6h0M1332.8 785.2h0M1293.0 777.5h0M1337.4 791.3h0M1331.5 789.5h0M1312.5 787.8h0M1303.0 775.2h0M1372.9 805.5h0M1350.1 792.7h0M1372.8 804.8h0M1325.3 775.1h0M1314.1 782.8h0M1322.7 784.0h0M1294.6 788.4h0M1324.0 776.6h0M1307.3 789.8h0M1328.4 781.1h0M1314.1 767.2h0M1324.5 781.4h0M1366.5 800.6h0M1333.9 780.4h0M1379.8 801.0h0M1344.0 789.2h0M1324.9 770.7h0M1320.0 802.0h0M1353.1 791.1h0M1335.7 798.7h0M1322.2 802.5h0M1329.6 790.3h0M1299.7 790.2h0M1306.6 792.3h0M1336.5 772.1h0M1300.8 793.1h0M1320.9 773.6h0M1299.0 793.6h0M1292.7 780.6h0M1319.1 780.8h0M1301.3 769.5h0M1375.6 807.8h0M1362.1 791.5h0M1314.6 772.9h0M1331.4 797.6h0M1351.3 790.2h0M1334.7 783.3h0M1318.2 795.7h0M1304.8 785.5h0M1299.0 788.6h0M1345.0 795.2h0M1315.0 767.3h0M1339.8 778.6h0M1378.7 801.8h0M1374.9 801.9h0M1367.5 801.2h0M1334.8 786.4h0M1352.2 790.4h0M1343.9 784.3h0M1298.9 790.1h0M1309.8 792.3h0M1379.4 805.5h0M1324.7 780.2h0M1370.9 801.3h0M1325.1 801.4h0M1329.5 779.2h0M1353.9 789.6h0M1349.7 799.5h0M1324.2 797.4h0M1326.2 786.2h0M1334.2 788.5h0M1342.6 796.2h0M1332.7 791.2h0M1346.9 780.5h0M1313.0 769.6h0" stroke="#2a22f0" stroke-width="3.7" stroke-linecap="round" fill="none" />
<path d="M1369.8 802.6h0M1311.0 778.7h0M1355.4 783.3h0M1343.6 784.3h0M1307.6 786.5h0M1333.6 798.8h0M1352.0 794.7h0M1321.3 798.0h0M1318.0 798.2h0M1302.9 772.0h0M1376.5 800.5h0M1370.3 798.1h0M1351.5 781.8h0M1343.8 789.2h0M1340.0 777.9h0M1305.6 784.7h0M1359.0 788.8h0M1333.0 787.5h0M1327.0 775.0h0M1309.1 778.1h0M1315.1 782.1h0M1295.8 775.0h0M1315.0 791.7h0M1316.8 770.5h0M1386.8 808.3h0M1328.5 794.8h0M1300.5 775.8h0M1331.3 783.3h0M1294.2 785.0h0M1333.4 775.8h0M1355.1 783.0h0M1340.0 793.0h0M1317.3 779.1h0M1351.9 795.6h0M1341.9 794.2h0M1311.6 783.0h0M1304.7 789.3h0M1311.8 768.8h0M1304.0 772.5h0M1322.0 796.1h0M1347.3 783.0h0M1312.5 798.1h0M1328.6 794.4h0M1379.4 801.1h0M1363.3 803.2h0M1355.1 793.6h0M1364.2 797.1h0M1318.3 768.1h0M1301.0 784.8h0M1340.7 779.0h0M1318.8 773.2h0M1344.6 797.1h0M1317.5 796.4h0M1385.4 807.6h0M1321.2 796.7h0M1309.2 782.2h0M1328.3 795.9h0M1363.9 795.2h0M1319.7 798.0h0M1340.4 775.7h0M1381.3 801.3h0M1321.1 768.8h0M1361.7 794.0h0M1350.3 783.0h0M1304.2 772.9h0M1326.4 781.3h0M1305.6 783.9h0M1344.1 775.8h0M1361.8 795.0h0M1319.3 773.1h0M1330.1 792.0h0M1349.6 796.7h0M1321.4 804.5h0M1325.5 779.2h0M1312.0 772.2h0M1301.6 777.3h0M1382.7 805.1h0M1367.8 803.8h0M1307.8 776.1h0M1312.7 791.9h0M1351.5 792.7h0M1341.6 796.5h0M1328.9 791.2h0M1316.9 802.5h0M1323.5 785.8h0M1321.7 771.7h0M1347.6 796.1h0M1328.9 799.0h0M1313.0 771.4h0M1323.4 796.1h0M1301.2 793.9h0M1298.2 780.8h0M1303.5 784.8h0M1372.7 802.9h0M1331.6 784.6h0M1345.7 788.8h0M1305.0 786.0h0M1344.3 789.9h0M1307.0 769.4h0M1357.4 796.8h0M1319.4 802.1h0M1384.5 808.1h0M1373.0 804.8h0M1316.6 791.7h0M1312.7 792.5h0M1324.3 793.5h0M1314.7 798.2h0M1373.7 798.6h0M1329.6 771.6h0M1338.2 793.1h0M1323.9 800.2h0M1319.8 785.3h0M1323.0 772.8h0M1335.0 780.0h0M1302.5 786.3h0M1342.0 792.9h0M1378.6 807.3h0M1351.0 795.5h0M1342.9 784.6h0M1368.9 796.2h0" stroke="#5a4ae6" stroke-width="3.6" stroke-linecap="round" fill="none" />
<path d="M1362.2 743.5h0M1357.1 778.6h0M1359.5 718.1h0M1360.3 731.5h0M1360.2 723.3h0M1361.3 720.2h0M1365.5 747.4h0M1360.6 721.6h0M1365.6 723.1h0M1360.6 731.8h0M1360.7 754.4h0M1360.7 736.5h0M1360.9 734.7h0M1361.9 710.2h0M1359.8 752.5h0M1354.5 778.0h0M1358.1 771.0h0M1364.9 731.6h0M1355.7 777.7h0M1362.3 748.8h0M1362.5 740.6h0M1361.1 737.7h0M1360.8 744.0h0M1362.9 747.4h0M1354.2 779.7h0M1363.1 730.4h0M1354.4 777.2h0M1359.4 754.3h0M1362.6 745.9h0M1364.2 748.1h0M1360.9 738.1h0M1357.3 772.6h0M1359.2 765.7h0M1361.3 713.2h0M1364.3 718.0h0M1362.4 758.2h0M1364.2 745.6h0M1360.7 748.2h0M1363.7 715.0h0M1365.4 746.6h0M1362.2 760.5h0M1366.2 739.8h0M1362.7 717.7h0M1362.1 731.4h0M1363.7 753.9h0M1361.1 726.7h0M1356.1 768.9h0M1360.3 712.4h0M1363.4 750.5h0M1364.1 715.5h0M1360.0 717.7h0M1359.5 769.3h0M1358.4 771.4h0M1359.2 768.0h0M1360.6 736.7h0M1359.1 717.5h0M1356.7 776.2h0M1364.3 726.5h0M1362.0 755.9h0M1356.8 769.4h0M1362.1 751.9h0M1362.1 739.5h0M1362.5 747.0h0M1364.1 743.1h0M1364.9 733.7h0M1363.8 736.9h0M1361.2 749.2h0M1360.7 716.4h0M1359.4 761.1h0M1360.5 760.9h0M1361.3 724.6h0M1361.1 718.2h0M1364.2 742.8h0M1358.1 764.0h0M1360.9 752.5h0M1363.6 717.0h0M1364.2 727.8h0M1356.4 777.8h0M1363.0 735.4h0M1362.1 746.9h0M1362.7 735.4h0M1362.1 714.8h0M1360.5 754.4h0M1364.6 752.2h0M1363.2 747.0h0M1360.8 728.1h0M1362.3 753.3h0M1359.5 714.1h0M1362.1 756.7h0M1361.5 744.5h0M1361.4 719.2h0M1363.3 711.9h0M1354.5 778.8h0M1365.2 744.3h0M1360.5 764.6h0M1352.0 780.5h0M1360.8 717.3h0M1361.2 730.7h0M1364.4 718.0h0M1361.7 726.0h0M1362.6 743.0h0M1360.7 730.9h0M1363.0 746.6h0M1356.5 777.0h0M1357.3 773.0h0M1363.6 756.1h0M1358.8 774.0h0M1356.5 778.2h0M1358.3 769.5h0M1360.1 730.7h0M1361.1 735.9h0M1366.9 737.1h0M1356.7 773.9h0M1358.4 768.5h0M1361.0 759.2h0M1353.0 779.1h0M1364.0 755.1h0M1363.7 740.2h0M1363.5 731.7h0M1361.1 711.8h0M1361.4 722.9h0M1358.8 770.2h0M1363.3 727.4h0M1363.9 714.7h0M1364.0 747.1h0M1361.9 723.3h0M1357.7 766.3h0M1362.8 708.8h0M1359.0 773.1h0M1365.0 738.0h0M1354.1 776.3h0M1360.5 735.7h0M1365.0 730.3h0M1362.6 740.8h0M1359.9 766.1h0M1351.9 779.8h0M1365.1 728.6h0M1354.3 781.1h0M1354.0 777.5h0M1361.0 714.5h0" stroke="#2a22f0" stroke-width="3.7" stroke-linecap="round" fill="none" />
<path d="M1359.8 717.8h0M1364.0 736.1h0M1361.8 727.2h0M1364.7 741.7h0M1359.2 755.5h0M1363.0 743.6h0M1359.6 763.0h0M1356.4 774.7h0M1359.9 759.2h0M1363.3 755.2h0M1361.4 734.8h0M1357.6 763.8h0M1364.5 733.9h0M1363.5 726.3h0M1357.7 761.2h0M1354.6 776.0h0M1363.7 713.4h0M1363.7 747.2h0M1365.3 738.5h0M1362.8 716.3h0M1366.5 735.2h0M1364.8 732.1h0M1362.0 757.3h0M1358.2 765.0h0M1356.4 774.6h0M1360.5 767.0h0M1365.3 726.2h0M1356.6 765.8h0M1354.5 775.9h0M1358.6 760.4h0M1355.9 778.2h0M1366.3 744.8h0M1359.9 725.3h0M1365.2 730.7h0M1363.2 715.1h0M1360.8 719.2h0M1353.2 777.8h0M1354.9 773.7h0M1363.3 718.3h0M1365.3 738.5h0M1357.1 771.9h0M1363.8 719.9h0M1363.8 713.4h0M1363.2 721.1h0M1362.0 739.9h0M1361.7 711.3h0M1361.2 720.3h0M1361.7 749.7h0M1358.0 767.5h0M1365.1 735.4h0" stroke="#5a4ae6" stroke-width="3.6" stroke-linecap="round" fill="none" />
<path d="M1347.6 855.9h0M1362.4 843.5h0M1363.4 850.1h0M1366.8 882.2h0M1347.3 870.6h0M1340.3 874.4h0M1353.2 880.1h0M1354.1 885.8h0M1365.3 851.3h0M1339.0 863.5h0M1342.7 865.3h0M1359.3 847.9h0M1350.5 848.2h0M1364.7 870.8h0M1372.3 859.8h0M1342.4 865.1h0M1345.5 845.0h0M1372.3 876.9h0M1364.9 842.7h0M1357.4 857.4h0M1346.1 852.4h0M1373.6 875.1h0M1336.6 866.4h0M1360.9 859.7h0M1355.4 867.5h0M1360.4 876.9h0M1371.2 888.5h0M1366.1 849.9h0M1348.2 847.8h0M1367.5 860.9h0M1369.8 878.2h0M1357.6 881.7h0M1371.2 879.4h0M1370.0 883.1h0M1367.7 847.4h0M1345.3 864.0h0M1344.0 852.6h0M1362.6 860.0h0M1367.9 884.3h0M1373.9 876.3h0M1344.4 863.4h0M1363.1 855.2h0M1361.9 848.3h0M1355.0 871.0h0M1359.2 883.4h0M1362.5 863.5h0M1336.1 872.8h0M1377.0 876.0h0M1361.0 842.0h0M1365.8 856.1h0M1361.4 873.9h0M1338.3 877.3h0M1349.5 866.1h0M1337.2 855.4h0M1336.0 855.1h0M1357.1 869.6h0M1360.5 868.7h0M1334.7 856.1h0M1370.0 881.8h0M1366.5 844.2h0M1353.0 879.7h0M1347.1 872.8h0M1367.8 885.0h0M1341.0 883.3h0M1370.8 868.8h0M1366.1 878.8h0M1363.3 861.2h0M1334.7 861.1h0M1366.4 887.4h0M1373.6 857.9h0M1350.8 841.5h0M1340.7 854.7h0M1344.7 861.8h0M1343.0 850.9h0M1341.2 874.6h0M1335.3 869.3h0M1360.4 871.8h0M1354.2 841.0h0M1372.0 859.3h0M1338.7 859.2h0M1367.3 850.6h0M1353.7 888.1h0M1357.4 841.5h0M1354.1 870.3h0M1366.4 874.3h0M1341.0 885.5h0M1355.1 881.1h0M1354.3 855.4h0M1370.0 858.4h0M1370.7 876.3h0M1359.2 867.5h0M1345.6 871.3h0M1347.4 880.8h0M1348.3 841.8h0M1352.9 845.5h0M1344.4 847.6h0M1364.7 865.7h0M1356.7 865.2h0M1354.3 851.6h0M1349.7 880.7h0M1367.3 843.9h0M1350.5 871.5h0M1370.0 865.8h0M1341.5 848.3h0M1337.5 865.7h0M1370.1 857.9h0M1345.9 843.9h0M1362.0 866.1h0M1371.5 884.7h0M1373.0 850.7h0M1353.9 855.7h0M1360.9 848.2h0M1345.1 848.3h0M1358.1 877.1h0M1372.7 852.8h0M1355.1 883.6h0M1358.4 847.9h0M1369.2 862.6h0M1341.7 866.3h0M1362.7 844.1h0M1365.4 867.1h0M1351.6 873.7h0M1373.6 858.3h0M1367.5 843.9h0M1351.6 859.9h0M1368.9 857.4h0M1364.3 847.4h0M1359.7 886.5h0M1363.0 872.3h0M1340.9 866.4h0M1369.6 872.3h0M1342.9 847.7h0M1349.5 889.5h0M1353.6 840.9h0M1341.0 868.1h0M1366.1 885.8h0M1362.6 865.7h0M1337.3 875.7h0M1360.0 878.4h0M1346.9 857.3h0M1374.0 866.0h0M1343.3 861.8h0M1361.6 850.0h0M1343.6 846.1h0M1354.0 854.8h0M1373.7 862.6h0M1374.2 854.9h0M1358.2 860.0h0M1364.0 855.9h0M1354.6 858.3h0M1342.4 866.4h0M1340.7 846.6h0M1364.7 856.0h0M1365.1 862.2h0M1369.7 878.8h0M1365.4 845.5h0M1358.2 872.2h0M1370.3 881.7h0M1364.2 872.1h0M1340.5 849.0h0M1356.0 849.4h0M1367.5 876.3h0M1354.9 869.8h0M1338.5 880.8h0M1361.3 877.9h0M1372.1 869.4h0M1340.5 880.4h0M1339.9 879.0h0M1334.8 860.5h0M1368.1 887.3h0M1372.4 875.6h0M1375.0 870.4h0M1340.1 883.7h0M1364.8 854.4h0M1341.7 863.1h0M1345.4 864.2h0M1371.4 869.8h0M1360.4 869.0h0M1347.4 887.6h0M1337.2 876.5h0M1345.1 857.5h0M1351.0 866.6h0M1370.0 856.1h0M1354.7 848.3h0M1354.3 862.3h0M1335.3 862.3h0M1359.0 850.3h0M1356.8 844.1h0M1343.4 852.1h0M1364.5 883.3h0M1354.8 841.5h0M1372.4 885.9h0M1344.7 858.1h0M1377.8 873.8h0M1344.2 871.0h0M1339.5 879.8h0M1367.9 866.0h0M1363.1 846.1h0M1352.0 854.4h0M1362.2 876.9h0M1339.6 853.3h0M1364.4 868.7h0M1377.2 864.4h0M1375.0 871.2h0M1344.6 859.5h0M1345.6 871.4h0M1352.1 855.8h0M1351.2 873.4h0M1349.0 846.1h0M1335.0 870.0h0M1365.5 876.9h0M1348.4 845.2h0M1344.6 872.9h0M1340.7 859.1h0M1356.7 865.1h0M1348.6 862.3h0M1345.3 888.2h0M1369.3 857.8h0M1360.5 844.8h0M1334.4 859.1h0M1336.5 851.3h0M1352.8 879.9h0M1374.7 863.5h0M1336.1 872.5h0M1371.9 874.1h0M1370.3 848.0h0M1353.6 849.6h0M1373.7 866.4h0M1360.2 875.0h0M1354.6 881.5h0M1367.4 844.0h0M1335.4 859.5h0M1372.6 874.9h0M1346.4 862.8h0M1352.5 867.4h0M1335.2 869.6h0M1376.2 865.5h0M1343.7 865.9h0M1353.9 879.8h0M1363.3 885.6h0" stroke="#2a22f0" stroke-width="3.7" stroke-linecap="round" fill="none" />
<path d="M1369.1 886.7h0M1369.9 864.2h0M1372.5 848.6h0M1371.4 852.2h0M1359.3 861.5h0M1354.3 853.5h0M1358.3 859.0h0M1372.6 870.6h0M1348.2 870.3h0M1358.9 874.7h0M1341.4 860.0h0M1372.3 850.6h0M1341.0 871.2h0M1346.8 866.4h0M1355.7 865.9h0M1355.6 884.6h0M1355.9 865.6h0M1361.2 870.6h0M1338.0 852.0h0M1350.0 870.1h0M1375.0 876.1h0M1361.7 883.3h0M1345.7 886.2h0M1338.1 869.1h0M1352.4 852.4h0M1360.9 863.6h0M1374.4 874.8h0M1361.6 845.8h0M1343.4 870.8h0M1338.1 868.2h0M1365.5 879.7h0M1365.2 859.2h0M1371.9 847.1h0M1342.7 879.8h0M1357.2 854.3h0M1365.6 882.9h0M1373.0 876.7h0M1364.1 869.8h0M1353.9 847.7h0M1358.8 863.2h0M1372.3 875.1h0M1368.6 845.1h0M1335.5 865.2h0M1343.9 879.3h0M1349.6 882.1h0M1356.2 855.0h0M1355.5 878.9h0M1351.0 859.2h0M1359.4 841.5h0M1339.7 872.2h0M1342.0 876.3h0M1360.7 853.9h0M1373.0 857.9h0M1363.6 874.6h0M1362.9 860.9h0M1338.6 873.4h0M1350.8 876.1h0M1374.5 880.2h0M1374.0 868.8h0M1356.2 841.1h0" stroke="#5a4ae6" stroke-width="3.6" stroke-linecap="round" fill="none" />
<path d="M1326.2 673.4h0M1323.1 676.6h0M1326.0 676.4h0M1323.8 676.7h0M1326.6 676.0h0M1328.2 675.4h0M1331.2 677.3h0M1327.3 671.6h0M1328.0 680.1h0M1328.6 673.3h0M1328.4 676.4h0M1325.7 679.2h0M1325.3 678.9h0M1323.3 674.6h0" stroke="#2a22f0" stroke-width="3.6" stroke-linecap="round" fill="none" />
<path d="M1342.4 716.3h0M1337.7 712.0h0M1345.4 719.7h0M1336.3 696.7h0M1330.5 683.8h0M1334.2 703.7h0M1340.5 717.7h0M1343.1 720.2h0M1334.2 694.9h0M1335.5 704.7h0M1335.0 704.1h0M1334.5 692.5h0M1334.8 695.6h0M1332.6 685.4h0M1334.0 690.9h0M1335.6 703.2h0M1340.4 712.9h0M1346.5 725.0h0M1335.5 705.8h0M1333.9 694.9h0" stroke="#2a22f0" stroke-width="3.6" stroke-linecap="round" fill="none" />
<path d="M1356.0 728.0h0M1340.8 744.1h0M1338.0 732.3h0M1358.7 725.4h0M1350.7 771.2h0M1347.5 739.1h0M1336.1 747.1h0M1335.1 752.5h0M1343.2 736.6h0M1335.5 748.3h0M1351.2 764.0h0M1347.8 727.0h0M1333.8 760.6h0M1335.1 751.0h0M1352.5 746.0h0M1350.2 734.3h0M1342.1 757.7h0M1352.8 758.7h0M1354.4 730.2h0M1345.9 758.1h0M1355.6 725.0h0M1357.4 733.1h0M1340.4 741.6h0M1344.7 754.3h0M1334.7 762.8h0M1341.2 736.5h0M1353.8 743.4h0M1332.2 747.2h0M1339.1 766.2h0M1343.5 734.0h0M1357.0 739.3h0M1351.6 748.3h0M1332.9 752.9h0M1339.4 746.4h0M1340.0 760.5h0M1354.0 727.2h0M1345.6 726.5h0M1335.2 754.4h0M1349.1 765.9h0M1357.1 730.6h0M1357.4 727.3h0M1332.0 742.7h0M1348.6 767.1h0M1345.1 767.8h0M1356.1 740.3h0M1337.6 743.1h0M1347.0 727.8h0M1355.0 721.0h0M1349.4 734.3h0M1354.0 732.4h0M1353.4 741.9h0M1348.5 727.1h0M1339.4 759.7h0M1358.0 722.1h0M1342.9 736.2h0M1339.5 751.4h0M1354.8 748.2h0M1333.8 748.7h0M1340.6 747.5h0M1343.5 759.4h0" stroke="#2a22f0" stroke-width="3.6" stroke-linecap="round" fill="none" />
<path d="M1317.7 743.0h0M1315.7 744.7h0M1310.5 753.8h0M1319.3 743.2h0M1310.8 752.6h0M1311.9 751.4h0M1317.6 743.0h0M1310.1 747.6h0M1315.3 742.9h0M1318.9 743.6h0M1311.1 757.5h0M1312.5 753.0h0M1316.6 742.5h0M1311.6 761.5h0M1310.6 762.2h0M1310.7 754.1h0" stroke="#2a22f0" stroke-width="3.6" stroke-linecap="round" fill="none" />
<path d="M1364.1 824.2h0M1364.4 810.9h0M1367.3 829.7h0M1366.1 826.0h0M1362.9 837.3h0M1363.8 824.2h0M1365.8 838.5h0M1363.4 836.3h0M1362.0 838.5h0M1366.0 836.0h0M1367.2 838.5h0M1365.6 814.1h0M1366.6 819.7h0M1362.1 837.4h0M1365.7 816.3h0M1363.6 820.3h0M1361.4 810.2h0M1363.6 810.7h0M1361.8 837.8h0M1365.4 814.8h0M1365.5 812.8h0M1360.7 810.1h0" stroke="#2a22f0" stroke-width="3.6" stroke-linecap="round" fill="none" />
<path d="M1294.7 794.3h0M1281.1 811.5h0M1291.5 801.6h0M1297.2 793.5h0M1292.2 791.3h0M1282.2 810.3h0M1291.1 797.7h0M1283.8 807.6h0" stroke="#5a4ae6" stroke-width="3.6" stroke-linecap="round" fill="none" />
<path d="M1162.3 747.0h0M1187.2 756.2h0M1213.3 681.4h0M1214.7 723.7h0M1148.4 736.0h0M1132.6 736.4h0M1184.7 797.2h0M1215.5 748.5h0M1184.3 747.5h0M1199.8 708.2h0M1156.7 792.7h0M1188.2 783.6h0M1196.6 679.4h0M1194.9 688.6h0M1155.2 718.9h0M1189.7 733.7h0M1191.8 778.0h0M1181.3 705.8h0M1152.7 729.4h0M1211.5 723.5h0M1182.0 803.1h0M1214.8 754.6h0M1200.6 712.4h0M1188.0 682.6h0M1143.6 718.4h0M1195.8 722.4h0M1199.9 763.0h0M1157.8 784.6h0M1147.2 751.0h0M1216.7 709.6h0M1187.4 780.7h0M1224.3 767.7h0M1166.5 781.5h0M1132.5 745.6h0M1130.2 730.9h0M1192.3 671.7h0M1160.5 728.9h0M1223.5 774.1h0M1175.8 715.6h0M1172.3 770.3h0M1172.9 760.3h0M1198.4 789.0h0M1151.8 778.5h0M1204.3 778.3h0M1151.5 767.9h0M1158.0 748.9h0M1227.2 724.7h0M1154.4 809.9h0M1163.9 721.8h0M1213.6 719.1h0M1165.8 765.5h0M1157.9 813.9h0M1214.9 758.1h0M1186.1 780.5h0M1164.0 745.9h0M1164.3 714.6h0M1175.6 808.9h0M1185.9 782.5h0M1205.3 672.0h0M1218.5 702.6h0M1182.2 697.1h0M1195.0 709.4h0M1210.6 756.7h0M1161.7 775.7h0M1209.2 795.8h0M1216.2 707.6h0M1180.5 701.4h0M1150.3 719.8h0M1167.0 781.5h0M1188.1 715.4h0M1151.8 813.2h0M1172.7 812.1h0M1196.3 668.4h0M1182.0 695.9h0M1156.1 797.3h0M1174.4 733.2h0M1178.8 717.2h0M1198.7 725.6h0M1178.7 802.5h0M1214.8 729.0h0" stroke="#2a22f0" stroke-width="3.6" stroke-linecap="round" fill="none" />
<path d="M1158.5 770.5h0M1191.7 691.3h0M1131.6 755.4h0M1139.3 735.6h0M1215.9 712.7h0M1181.2 706.2h0M1169.5 699.6h0M1145.0 758.8h0M1208.8 743.6h0M1218.3 762.4h0M1133.5 755.5h0M1162.4 745.6h0M1160.7 703.1h0M1184.4 793.8h0M1201.9 680.9h0M1231.9 778.4h0M1166.8 787.2h0M1212.1 730.4h0M1148.2 775.5h0M1214.1 767.3h0M1183.0 704.3h0M1170.0 748.9h0M1149.1 729.5h0M1182.3 804.4h0M1208.5 750.4h0M1220.7 708.9h0M1136.3 757.5h0M1155.2 792.9h0M1204.9 715.4h0M1183.5 795.7h0M1169.2 775.3h0M1139.7 760.3h0M1172.1 696.3h0M1207.6 756.4h0M1158.6 717.6h0M1214.5 765.4h0M1154.0 804.3h0M1158.7 733.2h0M1209.1 789.5h0M1152.6 772.0h0" stroke="#5a4ae6" stroke-width="3.6" stroke-linecap="round" fill="none" />
<path d="M1170.9 867.4h0M1187.6 809.6h0M1196.0 880.0h0M1191.8 827.2h0M1180.8 815.7h0M1197.5 920.4h0M1204.4 889.1h0M1193.4 890.7h0M1162.0 854.4h0M1177.5 825.2h0M1170.2 827.0h0M1222.4 789.8h0M1158.4 821.8h0M1209.0 845.8h0M1171.8 870.0h0M1170.0 821.0h0M1190.0 906.7h0M1228.8 798.8h0M1158.2 850.3h0M1162.4 869.6h0M1161.2 819.8h0M1210.8 880.9h0M1153.1 822.3h0M1180.4 881.1h0M1207.8 841.8h0M1204.8 806.5h0M1204.1 878.9h0M1229.9 791.0h0M1197.6 857.8h0M1202.8 814.3h0M1190.0 870.6h0M1156.2 860.6h0M1209.1 872.9h0M1177.5 846.1h0M1208.4 838.8h0M1200.3 878.3h0M1226.6 808.5h0M1188.1 835.1h0M1210.8 836.8h0M1173.1 879.9h0M1197.1 888.6h0M1160.0 870.3h0M1187.5 834.4h0M1198.5 805.9h0M1238.0 790.6h0M1208.3 897.8h0M1198.5 836.1h0M1209.0 800.6h0M1166.0 823.3h0M1208.6 858.7h0" stroke="#2a22f0" stroke-width="3.6" stroke-linecap="round" fill="none" />
<path d="M1185.5 810.9h0M1189.5 809.7h0M1199.6 910.8h0M1151.7 829.2h0M1190.5 890.8h0M1180.5 853.1h0M1215.9 885.3h0M1206.9 875.5h0M1177.9 853.3h0M1209.2 887.5h0M1180.5 866.5h0M1201.0 906.2h0M1167.8 883.6h0M1174.8 872.9h0M1187.8 919.8h0M1212.3 853.8h0M1179.0 843.3h0M1175.6 810.8h0M1172.2 834.1h0M1191.1 822.7h0M1197.8 872.4h0M1203.8 847.5h0M1192.6 820.4h0M1194.2 876.5h0M1208.9 871.9h0" stroke="#5a4ae6" stroke-width="3.6" stroke-linecap="round" fill="none" />
<path d="M1220.2 813.7h0M1224.8 833.4h0M1272.0 821.9h0M1218.0 783.5h0M1271.3 830.3h0M1243.4 811.1h0M1218.2 804.5h0M1247.7 802.7h0M1256.3 811.2h0M1248.0 780.6h0M1232.7 847.0h0M1219.0 822.1h0M1247.2 854.6h0M1232.6 851.4h0M1243.6 816.5h0M1269.5 838.8h0M1231.4 827.3h0M1213.5 791.6h0M1266.8 811.2h0M1231.0 820.4h0M1260.1 846.0h0M1257.5 790.5h0M1228.9 846.7h0M1246.6 818.4h0M1216.9 783.6h0M1235.3 778.7h0M1245.8 849.9h0M1246.4 797.2h0M1260.9 821.5h0M1268.3 823.2h0M1236.8 822.3h0M1273.5 834.1h0M1222.1 848.4h0M1270.3 833.5h0M1262.3 797.6h0M1248.7 839.8h0M1263.9 837.7h0M1245.0 848.0h0M1221.2 791.0h0M1239.1 781.0h0M1249.8 786.7h0M1230.1 843.2h0M1240.4 793.2h0M1260.0 832.8h0M1237.0 842.5h0M1233.4 852.9h0M1249.6 788.7h0M1223.0 819.9h0M1217.8 793.5h0M1250.6 821.5h0M1261.6 828.5h0M1261.6 799.8h0M1232.4 806.0h0M1257.5 831.5h0M1267.5 839.2h0M1240.5 813.1h0M1244.6 790.3h0M1255.7 798.7h0M1254.3 796.5h0M1249.4 798.4h0" stroke="#2a22f0" stroke-width="3.6" stroke-linecap="round" fill="none" />
<path d="M1270.2 824.9h0M1251.8 877.9h0M1252.2 860.8h0M1230.5 822.7h0M1255.0 868.5h0M1250.0 875.0h0M1273.0 824.2h0M1262.7 784.8h0M1239.2 863.2h0M1257.9 858.3h0M1235.5 839.4h0M1235.7 858.3h0M1260.4 806.4h0M1247.9 789.1h0M1275.0 836.4h0M1271.8 825.7h0M1269.7 813.8h0M1257.1 858.4h0M1252.0 863.4h0M1246.8 798.0h0M1254.1 802.4h0M1244.8 802.8h0M1260.6 838.8h0M1258.3 849.0h0M1261.2 836.5h0" stroke="#2a22f0" stroke-width="3.6" stroke-linecap="round" fill="none" />
<path d="M1232.1 919.9h0M1220.0 965.6h0M1204.1 926.9h0M1227.8 951.0h0M1229.1 954.8h0M1219.1 952.6h0M1239.5 927.8h0M1196.1 951.1h0M1228.9 947.0h0M1203.1 954.1h0M1242.0 918.7h0M1209.0 981.7h0M1206.7 919.0h0M1196.5 946.5h0M1224.3 913.3h0M1231.3 913.3h0M1213.8 970.5h0M1235.5 969.4h0M1211.0 921.5h0M1222.9 977.6h0M1227.4 959.6h0M1222.0 946.2h0M1212.3 927.8h0M1204.1 982.4h0M1206.7 930.5h0M1208.8 954.2h0M1241.4 930.3h0M1237.4 953.4h0M1225.2 949.1h0M1207.5 968.7h0" stroke="#2a22f0" stroke-width="3.6" stroke-linecap="round" fill="none" />
<path d="M1213.6 910.1h0M1222.6 896.8h0M1240.1 888.1h0M1220.5 910.5h0M1211.3 911.0h0M1249.6 901.6h0M1251.0 886.9h0M1243.8 903.7h0M1233.2 902.3h0M1217.7 885.8h0M1232.2 883.9h0M1236.2 898.7h0" stroke="#5a4ae6" stroke-width="3.6" stroke-linecap="round" fill="none" />
</g>
<path d="M1654.7 830.1V1038.4H1860.6" fill="none" stroke="#000" stroke-width="2.3"/>
<text font-size="29.26" text-anchor="middle" textLength="104.8" lengthAdjust="spacingAndGlyphs" x="1755.6" y="1075.5">UMAP 1</text>
<text font-size="29.26" text-anchor="middle" textLength="103.2" lengthAdjust="spacingAndGlyphs" transform="translate(1637 937.3) rotate(-90)">UMAP 2</text>
<text font-size="30.3" text-anchor="middle" textLength="95.7" lengthAdjust="spacingAndGlyphs" font-style="italic" x="1749.5" y="808.9">MKI67</text>
<defs><linearGradient id="cb47" x1="0" y1="0" x2="0" y2="1"><stop offset="0" stop-color="#1a14ff"/><stop offset="0.27" stop-color="#6a4bf5"/><stop offset="0.5" stop-color="#9673eb"/><stop offset="0.75" stop-color="#b9a3e1"/><stop offset="1" stop-color="#d3d3d3"/></linearGradient></defs>
<rect x="1866.6" y="858.7" width="32.3" height="160.3" fill="url(#cb47)"/>
<line x1="1866.6" y1="883.9" x2="1873.1" y2="883.9" stroke="#fff" stroke-width="2" />
<line x1="1892.4" y1="883.9" x2="1898.9" y2="883.9" stroke="#fff" stroke-width="2" />
<text font-size="24.77" x="1913.7" y="892.4">2.0</text>
<line x1="1866.6" y1="917.9" x2="1873.1" y2="917.9" stroke="#fff" stroke-width="2" />
<line x1="1892.4" y1="917.9" x2="1898.9" y2="917.9" stroke="#fff" stroke-width="2" />
<text font-size="24.77" x="1913.7" y="926.4">1.5</text>
<line x1="1866.6" y1="951.6" x2="1873.1" y2="951.6" stroke="#fff" stroke-width="2" />
<line x1="1892.4" y1="951.6" x2="1898.9" y2="951.6" stroke="#fff" stroke-width="2" />
<text font-size="24.77" x="1913.7" y="960.1">1.0</text>
<line x1="1866.6" y1="985.6" x2="1873.1" y2="985.6" stroke="#fff" stroke-width="2" />
<line x1="1892.4" y1="985.6" x2="1898.9" y2="985.6" stroke="#fff" stroke-width="2" />
<text font-size="24.77" x="1913.7" y="994.1">0.5</text>
<text font-size="25.08" textLength="121.8" lengthAdjust="spacingAndGlyphs" x="1867.2" y="849.9">Expression</text>
<g transform="translate(1605 797) scale(1.1 1)"><text font-size="34" font-weight="bold" x="0" y="0" stroke="#000" stroke-width="0.7">i</text></g>
</g>
</svg>
</body></html>
